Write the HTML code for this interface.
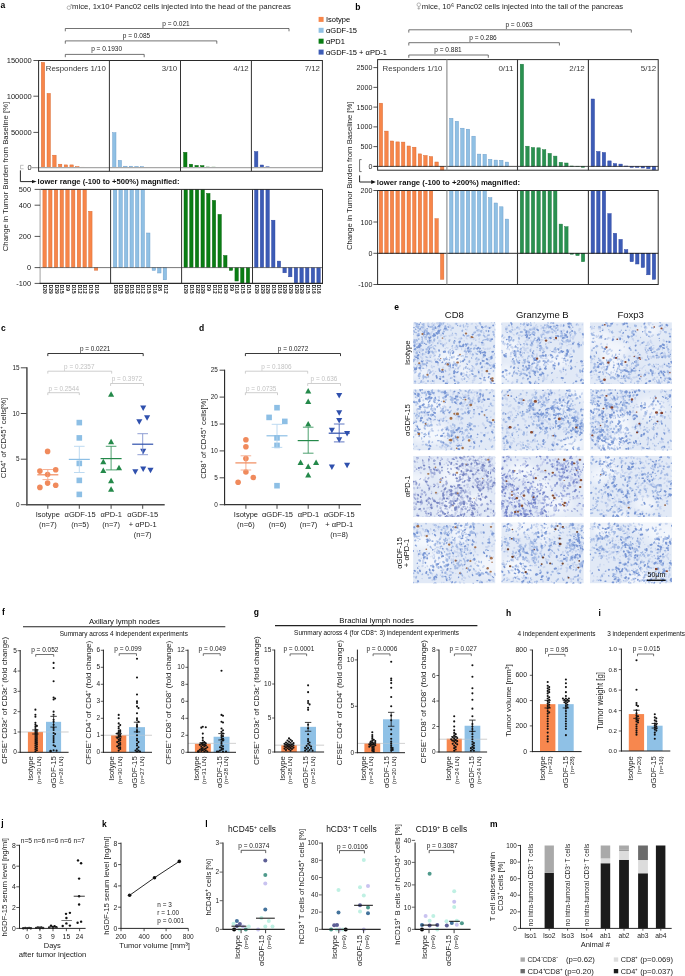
<!DOCTYPE html>
<html><head><meta charset="utf-8"><style>
html,body{margin:0;padding:0;background:#fff;}
svg{display:block;will-change:transform;}
text{font-family:"Liberation Sans",sans-serif;}
</style></head><body>
<svg width="685" height="976" viewBox="0 0 685 976">
<rect width="685" height="976" fill="#fff"/>
<text x="0.5" y="8.2" font-size="8.5" font-weight="bold" fill="#000">a</text>
<text x="72" y="9.1" font-size="7.2" fill="#222" textLength="218.9" lengthAdjust="spacingAndGlyphs">mice, 1x10⁴ Panc02 cells injected into the head of the pancreas</text>
<g fill="none" stroke="#888" stroke-width="0.6"><circle cx="68.9" cy="7.7" r="1.8"/><path d="M70.2 6.4 L71.8 4.6 M70.5 4.5 H71.9 V5.9"/></g>
<polyline points="65.3,31.3 65.3,28.5 289,28.5 289,31.3" fill="none" stroke="#444" stroke-width="0.75"/>
<text x="176" y="25.5" font-size="6.5" text-anchor="middle" fill="#222">p = 0.021</text>
<polyline points="65.3,43.7 65.3,40.9 216.8,40.9 216.8,43.7" fill="none" stroke="#444" stroke-width="0.75"/>
<text x="136.5" y="37.9" font-size="6.5" text-anchor="middle" fill="#222">p = 0.085</text>
<polyline points="65.3,57.2 65.3,54.4 144.2,54.4 144.2,57.2" fill="none" stroke="#444" stroke-width="0.75"/>
<text x="106.6" y="51.4" font-size="6.5" text-anchor="middle" fill="#222">p = 0.1930</text>
<rect x="318.6" y="16.9" width="5" height="5" fill="#f7864a"/>
<text x="326" y="22.2" font-size="7.5">Isotype</text>
<rect x="318.6" y="27.8" width="5" height="5" fill="#90c0e4"/>
<text x="326" y="33.1" font-size="7.5">αGDF-15</text>
<rect x="318.6" y="38.7" width="5" height="5" fill="#0a7d14"/>
<text x="326" y="44" font-size="7.5">αPD1</text>
<rect x="318.6" y="49.6" width="5" height="5" fill="#3d5cb6"/>
<text x="326" y="54.9" font-size="7.5">αGDF-15 + αPD-1</text>
<rect x="41.3" y="62.4" width="3.4" height="105.2" fill="#f7864a" stroke="#d8672f" stroke-width="0.45"/>
<rect x="47.02" y="93.4" width="3.4" height="74.2" fill="#f7864a" stroke="#d8672f" stroke-width="0.45"/>
<rect x="52.74" y="155.2" width="3.4" height="12.4" fill="#f7864a" stroke="#d8672f" stroke-width="0.45"/>
<rect x="58.46" y="164.2" width="3.4" height="3.4" fill="#f7864a" stroke="#d8672f" stroke-width="0.45"/>
<rect x="64.18" y="164.9" width="3.4" height="2.7" fill="#f7864a" stroke="#d8672f" stroke-width="0.45"/>
<rect x="69.9" y="164.9" width="3.4" height="2.7" fill="#f7864a" stroke="#d8672f" stroke-width="0.45"/>
<rect x="75.62" y="166.6" width="3.4" height="1" fill="#f7864a" stroke="#d8672f" stroke-width="0.45"/>
<rect x="81.34" y="167.2" width="3.4" height="0.4" fill="#f7864a" stroke="#d8672f" stroke-width="0.45"/>
<rect x="112.6" y="132.7" width="3.4" height="34.9" fill="#90c0e4" stroke="#6a9ccb" stroke-width="0.45"/>
<rect x="118.15" y="160.4" width="3.4" height="7.2" fill="#90c0e4" stroke="#6a9ccb" stroke-width="0.45"/>
<rect x="123.7" y="166.2" width="3.4" height="1.4" fill="#90c0e4" stroke="#6a9ccb" stroke-width="0.45"/>
<rect x="129.25" y="166.2" width="3.4" height="1.4" fill="#90c0e4" stroke="#6a9ccb" stroke-width="0.45"/>
<rect x="134.8" y="166.4" width="3.4" height="1.2" fill="#90c0e4" stroke="#6a9ccb" stroke-width="0.45"/>
<rect x="140.35" y="166.6" width="3.4" height="1" fill="#90c0e4" stroke="#6a9ccb" stroke-width="0.45"/>
<rect x="183.6" y="152.3" width="3.4" height="15.3" fill="#0a7d14" stroke="#08650f" stroke-width="0.45"/>
<rect x="189.26" y="164.2" width="3.4" height="3.4" fill="#0a7d14" stroke="#08650f" stroke-width="0.45"/>
<rect x="194.92" y="165.4" width="3.4" height="2.2" fill="#0a7d14" stroke="#08650f" stroke-width="0.45"/>
<rect x="200.58" y="165.6" width="3.4" height="2" fill="#0a7d14" stroke="#08650f" stroke-width="0.45"/>
<rect x="206.24" y="167" width="3.4" height="0.6" fill="#0a7d14" stroke="#08650f" stroke-width="0.45"/>
<rect x="211.9" y="167.1" width="3.4" height="0.5" fill="#0a7d14" stroke="#08650f" stroke-width="0.45"/>
<rect x="254.5" y="151.6" width="3.4" height="16" fill="#3d5cb6" stroke="#2c44a0" stroke-width="0.45"/>
<rect x="260.16" y="165" width="3.4" height="2.6" fill="#3d5cb6" stroke="#2c44a0" stroke-width="0.45"/>
<rect x="265.82" y="166.8" width="3.4" height="0.8" fill="#3d5cb6" stroke="#2c44a0" stroke-width="0.45"/>
<line x1="32" y1="167.6" x2="322.4" y2="167.6" stroke="#a8a8a8" stroke-width="1.2"/>
<rect x="38.6" y="60.5" width="283.8" height="110.8" fill="none" stroke="#2a2a2a" stroke-width="1"/>
<line x1="109.4" y1="60.5" x2="109.4" y2="171.3" stroke="#333" stroke-width="1"/>
<line x1="180.5" y1="60.5" x2="180.5" y2="171.3" stroke="#333" stroke-width="1"/>
<line x1="251.4" y1="60.5" x2="251.4" y2="171.3" stroke="#333" stroke-width="1"/>
<line x1="33.4" y1="60.5" x2="38.6" y2="60.5" stroke="#2a2a2a" stroke-width="0.8"/>
<text x="31.8" y="63.2" font-size="7.5" text-anchor="end" fill="#222" textLength="25.08" lengthAdjust="spacingAndGlyphs">150000</text>
<line x1="33.4" y1="96.2" x2="38.6" y2="96.2" stroke="#2a2a2a" stroke-width="0.8"/>
<text x="31.8" y="98.9" font-size="7.5" text-anchor="end" fill="#222" textLength="25.08" lengthAdjust="spacingAndGlyphs">100000</text>
<line x1="33.4" y1="132.4" x2="38.6" y2="132.4" stroke="#2a2a2a" stroke-width="0.8"/>
<text x="31.8" y="135.1" font-size="7.5" text-anchor="end" fill="#222" textLength="20.9" lengthAdjust="spacingAndGlyphs">50000</text>
<text x="31.8" y="170.3" font-size="7.5" text-anchor="end" fill="#222" textLength="4.18" lengthAdjust="spacingAndGlyphs">0</text>
<text x="45.7" y="70.9" font-size="7.9" fill="#3a3a3a" textLength="60.1" lengthAdjust="spacingAndGlyphs">Responders  1/10</text>
<text x="177.2" y="70.9" font-size="7.9" text-anchor="end" fill="#3a3a3a">3/10</text>
<text x="248.7" y="70.9" font-size="7.9" text-anchor="end" fill="#3a3a3a">4/12</text>
<text x="320" y="70.9" font-size="7.9" text-anchor="end" fill="#3a3a3a">7/12</text>
<polyline points="23.6,165.3 20.5,165.3 20.5,168.8 23.6,168.8" fill="none" stroke="#999" stroke-width="0.6"/>
<polyline points="20.4,170.4 20.4,181.6 33,181.6" fill="none" stroke="#111" stroke-width="0.9"/>
<path d="M36.6 181.6 L32.0 179.9 L32.0 183.3 Z" fill="#111"/>
<text x="37.6" y="184.2" font-size="7.1" font-weight="bold" fill="#111" textLength="142" lengthAdjust="spacingAndGlyphs">lower range (-100 to +500%) magnified:</text>
<text x="7.5" y="176.5" font-size="8.1" text-anchor="middle" fill="#222" textLength="149.5" lengthAdjust="spacingAndGlyphs" transform="rotate(-90 7.5 176.5)">Change in Tumor Burden from Baseline [%]</text>
<rect x="42.9" y="189.4" width="3.4" height="78.2" fill="#f7864a" stroke="#d8672f" stroke-width="0.45"/>
<rect x="48.62" y="189.4" width="3.4" height="78.2" fill="#f7864a" stroke="#d8672f" stroke-width="0.45"/>
<rect x="54.34" y="189.4" width="3.4" height="78.2" fill="#f7864a" stroke="#d8672f" stroke-width="0.45"/>
<rect x="60.06" y="189.4" width="3.4" height="78.2" fill="#f7864a" stroke="#d8672f" stroke-width="0.45"/>
<rect x="65.78" y="189.4" width="3.4" height="78.2" fill="#f7864a" stroke="#d8672f" stroke-width="0.45"/>
<rect x="71.5" y="189.4" width="3.4" height="78.2" fill="#f7864a" stroke="#d8672f" stroke-width="0.45"/>
<rect x="77.22" y="189.4" width="3.4" height="78.2" fill="#f7864a" stroke="#d8672f" stroke-width="0.45"/>
<rect x="82.94" y="189.4" width="3.4" height="78.2" fill="#f7864a" stroke="#d8672f" stroke-width="0.45"/>
<rect x="88.66" y="211.3" width="3.4" height="56.3" fill="#f7864a" stroke="#d8672f" stroke-width="0.45"/>
<rect x="94.38" y="267.6" width="3.4" height="2.6" fill="#f7864a" stroke="#d8672f" stroke-width="0.45"/>
<rect x="113.4" y="189.4" width="3.4" height="78.2" fill="#90c0e4" stroke="#6a9ccb" stroke-width="0.45"/>
<rect x="118.93" y="189.4" width="3.4" height="78.2" fill="#90c0e4" stroke="#6a9ccb" stroke-width="0.45"/>
<rect x="124.46" y="189.4" width="3.4" height="78.2" fill="#90c0e4" stroke="#6a9ccb" stroke-width="0.45"/>
<rect x="129.99" y="189.4" width="3.4" height="78.2" fill="#90c0e4" stroke="#6a9ccb" stroke-width="0.45"/>
<rect x="135.52" y="189.4" width="3.4" height="78.2" fill="#90c0e4" stroke="#6a9ccb" stroke-width="0.45"/>
<rect x="141.05" y="189.4" width="3.4" height="78.2" fill="#90c0e4" stroke="#6a9ccb" stroke-width="0.45"/>
<rect x="146.58" y="233" width="3.4" height="34.6" fill="#90c0e4" stroke="#6a9ccb" stroke-width="0.45"/>
<rect x="152.11" y="267.6" width="3.4" height="2.8" fill="#90c0e4" stroke="#6a9ccb" stroke-width="0.45"/>
<rect x="157.64" y="267.6" width="3.4" height="5.4" fill="#90c0e4" stroke="#6a9ccb" stroke-width="0.45"/>
<rect x="163.17" y="267.6" width="3.4" height="12.2" fill="#90c0e4" stroke="#6a9ccb" stroke-width="0.45"/>
<rect x="184" y="189.4" width="3.4" height="78.2" fill="#0a7d14" stroke="#08650f" stroke-width="0.45"/>
<rect x="189.66" y="189.4" width="3.4" height="78.2" fill="#0a7d14" stroke="#08650f" stroke-width="0.45"/>
<rect x="195.32" y="189.4" width="3.4" height="78.2" fill="#0a7d14" stroke="#08650f" stroke-width="0.45"/>
<rect x="200.98" y="189.4" width="3.4" height="78.2" fill="#0a7d14" stroke="#08650f" stroke-width="0.45"/>
<rect x="206.64" y="193.4" width="3.4" height="74.2" fill="#0a7d14" stroke="#08650f" stroke-width="0.45"/>
<rect x="212.3" y="200.4" width="3.4" height="67.2" fill="#0a7d14" stroke="#08650f" stroke-width="0.45"/>
<rect x="217.96" y="214.4" width="3.4" height="53.2" fill="#0a7d14" stroke="#08650f" stroke-width="0.45"/>
<rect x="223.62" y="255.5" width="3.4" height="12.1" fill="#0a7d14" stroke="#08650f" stroke-width="0.45"/>
<rect x="229.28" y="267.6" width="3.4" height="2.8" fill="#0a7d14" stroke="#08650f" stroke-width="0.45"/>
<rect x="234.94" y="267.6" width="3.4" height="13.4" fill="#0a7d14" stroke="#08650f" stroke-width="0.45"/>
<rect x="240.6" y="267.6" width="3.4" height="15.8" fill="#0a7d14" stroke="#08650f" stroke-width="0.45"/>
<rect x="246.26" y="267.6" width="3.4" height="15.8" fill="#0a7d14" stroke="#08650f" stroke-width="0.45"/>
<rect x="254.6" y="189.4" width="3.4" height="78.2" fill="#3d5cb6" stroke="#2c44a0" stroke-width="0.45"/>
<rect x="260.26" y="189.4" width="3.4" height="78.2" fill="#3d5cb6" stroke="#2c44a0" stroke-width="0.45"/>
<rect x="265.92" y="189.4" width="3.4" height="78.2" fill="#3d5cb6" stroke="#2c44a0" stroke-width="0.45"/>
<rect x="271.58" y="220.2" width="3.4" height="47.4" fill="#3d5cb6" stroke="#2c44a0" stroke-width="0.45"/>
<rect x="277.24" y="261.1" width="3.4" height="6.5" fill="#3d5cb6" stroke="#2c44a0" stroke-width="0.45"/>
<rect x="282.9" y="267.6" width="3.4" height="5.2" fill="#3d5cb6" stroke="#2c44a0" stroke-width="0.45"/>
<rect x="288.56" y="267.6" width="3.4" height="9.2" fill="#3d5cb6" stroke="#2c44a0" stroke-width="0.45"/>
<rect x="294.22" y="267.6" width="3.4" height="15.8" fill="#3d5cb6" stroke="#2c44a0" stroke-width="0.45"/>
<rect x="299.88" y="267.6" width="3.4" height="15.8" fill="#3d5cb6" stroke="#2c44a0" stroke-width="0.45"/>
<rect x="305.54" y="267.6" width="3.4" height="15.8" fill="#3d5cb6" stroke="#2c44a0" stroke-width="0.45"/>
<rect x="311.2" y="267.6" width="3.4" height="15.8" fill="#3d5cb6" stroke="#2c44a0" stroke-width="0.45"/>
<rect x="316.86" y="267.6" width="3.4" height="15.8" fill="#3d5cb6" stroke="#2c44a0" stroke-width="0.45"/>
<line x1="40.1" y1="267.6" x2="322.5" y2="267.6" stroke="#555" stroke-width="0.8"/>
<line x1="40.1" y1="189.4" x2="322.5" y2="189.4" stroke="#2a2a2a" stroke-width="1"/>
<line x1="40.1" y1="189.4" x2="40.1" y2="283.4" stroke="#999" stroke-width="0.9"/>
<line x1="39.6" y1="283.4" x2="323" y2="283.4" stroke="#2a2a2a" stroke-width="1.1"/>
<line x1="322.5" y1="189.4" x2="322.5" y2="283.4" stroke="#2a2a2a" stroke-width="1"/>
<line x1="110.6" y1="189.4" x2="110.6" y2="283.4" stroke="#333" stroke-width="1"/>
<line x1="181.6" y1="189.4" x2="181.6" y2="283.4" stroke="#333" stroke-width="1"/>
<line x1="252.5" y1="189.4" x2="252.5" y2="283.4" stroke="#333" stroke-width="1"/>
<line x1="34.6" y1="189.4" x2="40.1" y2="189.4" stroke="#2a2a2a" stroke-width="0.8"/>
<text x="31" y="192.1" font-size="7.4" text-anchor="end" fill="#222">500</text>
<line x1="34.6" y1="205.2" x2="40.1" y2="205.2" stroke="#2a2a2a" stroke-width="0.8"/>
<text x="31" y="207.9" font-size="7.4" text-anchor="end" fill="#222">400</text>
<line x1="34.6" y1="236.4" x2="40.1" y2="236.4" stroke="#2a2a2a" stroke-width="0.8"/>
<text x="31" y="239.1" font-size="7.4" text-anchor="end" fill="#222">200</text>
<line x1="34.6" y1="267.6" x2="40.1" y2="267.6" stroke="#2a2a2a" stroke-width="0.8"/>
<text x="31" y="270.3" font-size="7.4" text-anchor="end" fill="#222">0</text>
<line x1="34.6" y1="283.4" x2="40.1" y2="283.4" stroke="#2a2a2a" stroke-width="0.8"/>
<text x="31" y="286.1" font-size="7.4" text-anchor="end" fill="#222">-100</text>
<text x="43.3" y="284.8" font-size="4.8" font-weight="bold" fill="#111" transform="rotate(90 43.3 284.8)">D20</text>
<text x="49.02" y="284.8" font-size="4.8" font-weight="bold" fill="#111" transform="rotate(90 49.02 284.8)">D29</text>
<text x="54.74" y="284.8" font-size="4.8" font-weight="bold" fill="#111" transform="rotate(90 54.74 284.8)">D29</text>
<text x="60.46" y="284.8" font-size="4.8" font-weight="bold" fill="#111" transform="rotate(90 60.46 284.8)">D15</text>
<text x="66.18" y="284.8" font-size="4.8" font-weight="bold" fill="#111" transform="rotate(90 66.18 284.8)">D9</text>
<text x="71.9" y="284.8" font-size="4.8" font-weight="bold" fill="#111" transform="rotate(90 71.9 284.8)">D15</text>
<text x="77.62" y="284.8" font-size="4.8" font-weight="bold" fill="#111" transform="rotate(90 77.62 284.8)">D12</text>
<text x="83.34" y="284.8" font-size="4.8" font-weight="bold" fill="#111" transform="rotate(90 83.34 284.8)">D12</text>
<text x="89.06" y="284.8" font-size="4.8" font-weight="bold" fill="#111" transform="rotate(90 89.06 284.8)">D15</text>
<text x="94.78" y="284.8" font-size="4.8" font-weight="bold" fill="#111" transform="rotate(90 94.78 284.8)">D16</text>
<text x="113.8" y="284.8" font-size="4.8" font-weight="bold" fill="#111" transform="rotate(90 113.8 284.8)">D29</text>
<text x="119.33" y="284.8" font-size="4.8" font-weight="bold" fill="#111" transform="rotate(90 119.33 284.8)">D15</text>
<text x="124.86" y="284.8" font-size="4.8" font-weight="bold" fill="#111" transform="rotate(90 124.86 284.8)">D29</text>
<text x="130.39" y="284.8" font-size="4.8" font-weight="bold" fill="#111" transform="rotate(90 130.39 284.8)">D15</text>
<text x="135.92" y="284.8" font-size="4.8" font-weight="bold" fill="#111" transform="rotate(90 135.92 284.8)">D12</text>
<text x="141.45" y="284.8" font-size="4.8" font-weight="bold" fill="#111" transform="rotate(90 141.45 284.8)">D12</text>
<text x="146.98" y="284.8" font-size="4.8" font-weight="bold" fill="#111" transform="rotate(90 146.98 284.8)">D15</text>
<text x="152.51" y="284.8" font-size="4.8" font-weight="bold" fill="#111" transform="rotate(90 152.51 284.8)">D16</text>
<text x="158.04" y="284.8" font-size="4.8" font-weight="bold" fill="#111" transform="rotate(90 158.04 284.8)">D8</text>
<text x="163.57" y="284.8" font-size="4.8" font-weight="bold" fill="#111" transform="rotate(90 163.57 284.8)">D12</text>
<text x="184.4" y="284.8" font-size="4.8" font-weight="bold" fill="#111" transform="rotate(90 184.4 284.8)">D29</text>
<text x="190.06" y="284.8" font-size="4.8" font-weight="bold" fill="#111" transform="rotate(90 190.06 284.8)">D15</text>
<text x="195.72" y="284.8" font-size="4.8" font-weight="bold" fill="#111" transform="rotate(90 195.72 284.8)">D22</text>
<text x="201.38" y="284.8" font-size="4.8" font-weight="bold" fill="#111" transform="rotate(90 201.38 284.8)">D29</text>
<text x="207.04" y="284.8" font-size="4.8" font-weight="bold" fill="#111" transform="rotate(90 207.04 284.8)">D9</text>
<text x="212.7" y="284.8" font-size="4.8" font-weight="bold" fill="#111" transform="rotate(90 212.7 284.8)">D12</text>
<text x="218.36" y="284.8" font-size="4.8" font-weight="bold" fill="#111" transform="rotate(90 218.36 284.8)">D12</text>
<text x="224.02" y="284.8" font-size="4.8" font-weight="bold" fill="#111" transform="rotate(90 224.02 284.8)">D29</text>
<text x="229.68" y="284.8" font-size="4.8" font-weight="bold" fill="#111" transform="rotate(90 229.68 284.8)">D9</text>
<text x="235.34" y="284.8" font-size="4.8" font-weight="bold" fill="#111" transform="rotate(90 235.34 284.8)">D16</text>
<text x="241" y="284.8" font-size="4.8" font-weight="bold" fill="#111" transform="rotate(90 241 284.8)">D15</text>
<text x="246.66" y="284.8" font-size="4.8" font-weight="bold" fill="#111" transform="rotate(90 246.66 284.8)">D15</text>
<text x="254.9" y="284.8" font-size="4.8" font-weight="bold" fill="#111" transform="rotate(90 254.9 284.8)">D29</text>
<text x="260.56" y="284.8" font-size="4.8" font-weight="bold" fill="#111" transform="rotate(90 260.56 284.8)">D29</text>
<text x="266.22" y="284.8" font-size="4.8" font-weight="bold" fill="#111" transform="rotate(90 266.22 284.8)">D29</text>
<text x="271.88" y="284.8" font-size="4.8" font-weight="bold" fill="#111" transform="rotate(90 271.88 284.8)">D15</text>
<text x="277.54" y="284.8" font-size="4.8" font-weight="bold" fill="#111" transform="rotate(90 277.54 284.8)">D16</text>
<text x="283.2" y="284.8" font-size="4.8" font-weight="bold" fill="#111" transform="rotate(90 283.2 284.8)">D29</text>
<text x="288.86" y="284.8" font-size="4.8" font-weight="bold" fill="#111" transform="rotate(90 288.86 284.8)">D29</text>
<text x="294.52" y="284.8" font-size="4.8" font-weight="bold" fill="#111" transform="rotate(90 294.52 284.8)">D29</text>
<text x="300.18" y="284.8" font-size="4.8" font-weight="bold" fill="#111" transform="rotate(90 300.18 284.8)">D29</text>
<text x="305.84" y="284.8" font-size="4.8" font-weight="bold" fill="#111" transform="rotate(90 305.84 284.8)">D15</text>
<text x="311.5" y="284.8" font-size="4.8" font-weight="bold" fill="#111" transform="rotate(90 311.5 284.8)">D16</text>
<text x="317.16" y="284.8" font-size="4.8" font-weight="bold" fill="#111" transform="rotate(90 317.16 284.8)">D16</text>
<text x="355.3" y="9.9" font-size="8.5" font-weight="bold" fill="#000">b</text>
<text x="421.8" y="9.2" font-size="7.2" fill="#222" textLength="201.4" lengthAdjust="spacingAndGlyphs">mice, 10⁶ Panc02 cells injected into the tail of the pancreas</text>
<g fill="none" stroke="#888" stroke-width="0.6"><circle cx="418.8" cy="4.7" r="1.8"/><path d="M418.8 6.5 V9.8 M417.4 8.3 H420.2"/></g>
<polyline points="408.8,32.6 408.8,29.8 631.3,29.8 631.3,32.6" fill="none" stroke="#444" stroke-width="0.75"/>
<text x="519.1" y="26.8" font-size="6.5" text-anchor="middle" fill="#222">p = 0.063</text>
<polyline points="408.8,45.5 408.8,42.7 559.4,42.7 559.4,45.5" fill="none" stroke="#444" stroke-width="0.75"/>
<text x="483" y="39.7" font-size="6.5" text-anchor="middle" fill="#222">p = 0.286</text>
<polyline points="408.8,57.8 408.8,55 488.3,55 488.3,57.8" fill="none" stroke="#444" stroke-width="0.75"/>
<text x="448" y="52" font-size="6.5" text-anchor="middle" fill="#222">p = 0.881</text>
<rect x="379.2" y="103.2" width="3.4" height="63.2" fill="#f7864a" stroke="#d8672f" stroke-width="0.45"/>
<rect x="384.77" y="131.1" width="3.4" height="35.3" fill="#f7864a" stroke="#d8672f" stroke-width="0.45"/>
<rect x="390.34" y="141" width="3.4" height="25.4" fill="#f7864a" stroke="#d8672f" stroke-width="0.45"/>
<rect x="395.91" y="141.9" width="3.4" height="24.5" fill="#f7864a" stroke="#d8672f" stroke-width="0.45"/>
<rect x="401.48" y="142.1" width="3.4" height="24.3" fill="#f7864a" stroke="#d8672f" stroke-width="0.45"/>
<rect x="407.05" y="146" width="3.4" height="20.4" fill="#f7864a" stroke="#d8672f" stroke-width="0.45"/>
<rect x="412.62" y="147.2" width="3.4" height="19.2" fill="#f7864a" stroke="#d8672f" stroke-width="0.45"/>
<rect x="418.19" y="153.9" width="3.4" height="12.5" fill="#f7864a" stroke="#d8672f" stroke-width="0.45"/>
<rect x="423.76" y="155.5" width="3.4" height="10.9" fill="#f7864a" stroke="#d8672f" stroke-width="0.45"/>
<rect x="429.33" y="156.6" width="3.4" height="9.8" fill="#f7864a" stroke="#d8672f" stroke-width="0.45"/>
<rect x="434.9" y="162" width="3.4" height="4.4" fill="#f7864a" stroke="#d8672f" stroke-width="0.45"/>
<rect x="440.47" y="166.4" width="3.4" height="3.6" fill="#f7864a" stroke="#d8672f" stroke-width="0.45"/>
<rect x="449.6" y="118.3" width="3.4" height="48.1" fill="#90c0e4" stroke="#6a9ccb" stroke-width="0.45"/>
<rect x="455.16" y="121.3" width="3.4" height="45.1" fill="#90c0e4" stroke="#6a9ccb" stroke-width="0.45"/>
<rect x="460.72" y="128.2" width="3.4" height="38.2" fill="#90c0e4" stroke="#6a9ccb" stroke-width="0.45"/>
<rect x="466.28" y="129.2" width="3.4" height="37.2" fill="#90c0e4" stroke="#6a9ccb" stroke-width="0.45"/>
<rect x="471.84" y="136.2" width="3.4" height="30.2" fill="#90c0e4" stroke="#6a9ccb" stroke-width="0.45"/>
<rect x="477.4" y="154.1" width="3.4" height="12.3" fill="#90c0e4" stroke="#6a9ccb" stroke-width="0.45"/>
<rect x="482.96" y="154.3" width="3.4" height="12.1" fill="#90c0e4" stroke="#6a9ccb" stroke-width="0.45"/>
<rect x="488.52" y="159.3" width="3.4" height="7.1" fill="#90c0e4" stroke="#6a9ccb" stroke-width="0.45"/>
<rect x="494.08" y="160.1" width="3.4" height="6.3" fill="#90c0e4" stroke="#6a9ccb" stroke-width="0.45"/>
<rect x="499.64" y="160.3" width="3.4" height="6.1" fill="#90c0e4" stroke="#6a9ccb" stroke-width="0.45"/>
<rect x="505.2" y="162.1" width="3.4" height="4.3" fill="#90c0e4" stroke="#6a9ccb" stroke-width="0.45"/>
<rect x="520.2" y="64.2" width="3.4" height="102.2" fill="#2a9150" stroke="#1f7a40" stroke-width="0.45"/>
<rect x="525.76" y="146.2" width="3.4" height="20.2" fill="#2a9150" stroke="#1f7a40" stroke-width="0.45"/>
<rect x="531.32" y="147.5" width="3.4" height="18.9" fill="#2a9150" stroke="#1f7a40" stroke-width="0.45"/>
<rect x="536.88" y="147.8" width="3.4" height="18.6" fill="#2a9150" stroke="#1f7a40" stroke-width="0.45"/>
<rect x="542.44" y="149.7" width="3.4" height="16.7" fill="#2a9150" stroke="#1f7a40" stroke-width="0.45"/>
<rect x="548" y="153.4" width="3.4" height="13" fill="#2a9150" stroke="#1f7a40" stroke-width="0.45"/>
<rect x="553.56" y="156.1" width="3.4" height="10.3" fill="#2a9150" stroke="#1f7a40" stroke-width="0.45"/>
<rect x="559.12" y="162.3" width="3.4" height="4.1" fill="#2a9150" stroke="#1f7a40" stroke-width="0.45"/>
<rect x="564.68" y="163" width="3.4" height="3.4" fill="#2a9150" stroke="#1f7a40" stroke-width="0.45"/>
<rect x="570.24" y="166" width="3.4" height="0.4" fill="#2a9150" stroke="#1f7a40" stroke-width="0.45"/>
<rect x="575.8" y="166.2" width="3.4" height="0.2" fill="#2a9150" stroke="#1f7a40" stroke-width="0.45"/>
<rect x="581.36" y="166.4" width="3.4" height="0.9" fill="#2a9150" stroke="#1f7a40" stroke-width="0.45"/>
<rect x="591.1" y="99" width="3.4" height="67.4" fill="#3d5cb6" stroke="#2c44a0" stroke-width="0.45"/>
<rect x="596.66" y="151.5" width="3.4" height="14.9" fill="#3d5cb6" stroke="#2c44a0" stroke-width="0.45"/>
<rect x="602.22" y="152.5" width="3.4" height="13.9" fill="#3d5cb6" stroke="#2c44a0" stroke-width="0.45"/>
<rect x="607.78" y="160.9" width="3.4" height="5.5" fill="#3d5cb6" stroke="#2c44a0" stroke-width="0.45"/>
<rect x="613.34" y="163.6" width="3.4" height="2.8" fill="#3d5cb6" stroke="#2c44a0" stroke-width="0.45"/>
<rect x="618.9" y="164.1" width="3.4" height="2.3" fill="#3d5cb6" stroke="#2c44a0" stroke-width="0.45"/>
<rect x="624.46" y="166" width="3.4" height="0.4" fill="#3d5cb6" stroke="#2c44a0" stroke-width="0.45"/>
<rect x="630.02" y="166.4" width="3.4" height="1" fill="#3d5cb6" stroke="#2c44a0" stroke-width="0.45"/>
<rect x="635.58" y="166.4" width="3.4" height="1" fill="#3d5cb6" stroke="#2c44a0" stroke-width="0.45"/>
<rect x="641.14" y="166.4" width="3.4" height="1.6" fill="#3d5cb6" stroke="#2c44a0" stroke-width="0.45"/>
<rect x="646.7" y="166.4" width="3.4" height="2.3" fill="#3d5cb6" stroke="#2c44a0" stroke-width="0.45"/>
<rect x="652.26" y="166.4" width="3.4" height="3.5" fill="#3d5cb6" stroke="#2c44a0" stroke-width="0.45"/>
<line x1="373.4" y1="166.4" x2="658.2" y2="166.4" stroke="#222" stroke-width="0.8"/>
<rect x="377.6" y="59.6" width="280.6" height="110.6" fill="none" stroke="#2a2a2a" stroke-width="1"/>
<line x1="446.9" y1="59.6" x2="446.9" y2="170.2" stroke="#888" stroke-width="1.1"/>
<line x1="517.5" y1="59.6" x2="517.5" y2="170.2" stroke="#333" stroke-width="1.1"/>
<line x1="588.4" y1="59.6" x2="588.4" y2="170.2" stroke="#333" stroke-width="1.1"/>
<line x1="373.4" y1="67.6" x2="377.6" y2="67.6" stroke="#2a2a2a" stroke-width="0.8"/>
<text x="372.4" y="70.1" font-size="7.1" text-anchor="end" fill="#222">2500</text>
<line x1="373.4" y1="87.36" x2="377.6" y2="87.36" stroke="#2a2a2a" stroke-width="0.8"/>
<text x="372.4" y="89.86" font-size="7.1" text-anchor="end" fill="#222">2000</text>
<line x1="373.4" y1="107.12" x2="377.6" y2="107.12" stroke="#2a2a2a" stroke-width="0.8"/>
<text x="372.4" y="109.62" font-size="7.1" text-anchor="end" fill="#222">1500</text>
<line x1="373.4" y1="126.88" x2="377.6" y2="126.88" stroke="#2a2a2a" stroke-width="0.8"/>
<text x="372.4" y="129.38" font-size="7.1" text-anchor="end" fill="#222">1000</text>
<line x1="373.4" y1="146.64" x2="377.6" y2="146.64" stroke="#2a2a2a" stroke-width="0.8"/>
<text x="372.4" y="149.14" font-size="7.1" text-anchor="end" fill="#222">500</text>
<line x1="373.4" y1="166.4" x2="377.6" y2="166.4" stroke="#2a2a2a" stroke-width="0.8"/>
<text x="372.4" y="168.9" font-size="7.1" text-anchor="end" fill="#222">0</text>
<text x="382.6" y="70.6" font-size="7.7" fill="#3a3a3a" textLength="59.9" lengthAdjust="spacingAndGlyphs">Responders  1/10</text>
<text x="513.4" y="70.8" font-size="8" text-anchor="end" fill="#3a3a3a">0/11</text>
<text x="584.8" y="70.8" font-size="8" text-anchor="end" fill="#3a3a3a">2/12</text>
<text x="656.3" y="70.8" font-size="8" text-anchor="end" fill="#3a3a3a">5/12</text>
<polyline points="361.6,159.6 359.6,159.6 359.6,171.6 361.6,171.6" fill="none" stroke="#333" stroke-width="0.7"/>
<polyline points="359.6,175.4 359.6,182 372,182" fill="none" stroke="#111" stroke-width="0.9"/>
<path d="M375.8 182 L371.2 180.1 L371.2 183.9 Z" fill="#111"/>
<text x="376.8" y="184.6" font-size="7.1" font-weight="bold" fill="#111" textLength="143.2" lengthAdjust="spacingAndGlyphs">lower range (-100 to +200%) magnified:</text>
<text x="352.3" y="175.8" font-size="8" text-anchor="middle" fill="#222" textLength="148.6" lengthAdjust="spacingAndGlyphs" transform="rotate(-90 352.3 175.8)">Change in Tumor Burden from Baseline [%]</text>
<rect x="379.2" y="190.5" width="3.4" height="62.8" fill="#f7864a" stroke="#d8672f" stroke-width="0.45"/>
<rect x="384.77" y="190.5" width="3.4" height="62.8" fill="#f7864a" stroke="#d8672f" stroke-width="0.45"/>
<rect x="390.34" y="190.5" width="3.4" height="62.8" fill="#f7864a" stroke="#d8672f" stroke-width="0.45"/>
<rect x="395.91" y="190.5" width="3.4" height="62.8" fill="#f7864a" stroke="#d8672f" stroke-width="0.45"/>
<rect x="401.48" y="190.5" width="3.4" height="62.8" fill="#f7864a" stroke="#d8672f" stroke-width="0.45"/>
<rect x="407.05" y="190.5" width="3.4" height="62.8" fill="#f7864a" stroke="#d8672f" stroke-width="0.45"/>
<rect x="412.62" y="190.5" width="3.4" height="62.8" fill="#f7864a" stroke="#d8672f" stroke-width="0.45"/>
<rect x="418.19" y="190.5" width="3.4" height="62.8" fill="#f7864a" stroke="#d8672f" stroke-width="0.45"/>
<rect x="423.76" y="190.5" width="3.4" height="62.8" fill="#f7864a" stroke="#d8672f" stroke-width="0.45"/>
<rect x="429.33" y="190.5" width="3.4" height="62.8" fill="#f7864a" stroke="#d8672f" stroke-width="0.45"/>
<rect x="434.9" y="218.7" width="3.4" height="34.6" fill="#f7864a" stroke="#d8672f" stroke-width="0.45"/>
<rect x="440.47" y="253.3" width="3.4" height="26" fill="#f7864a" stroke="#d8672f" stroke-width="0.45"/>
<rect x="449.6" y="190.5" width="3.4" height="62.8" fill="#90c0e4" stroke="#6a9ccb" stroke-width="0.45"/>
<rect x="455.16" y="190.5" width="3.4" height="62.8" fill="#90c0e4" stroke="#6a9ccb" stroke-width="0.45"/>
<rect x="460.72" y="190.5" width="3.4" height="62.8" fill="#90c0e4" stroke="#6a9ccb" stroke-width="0.45"/>
<rect x="466.28" y="190.5" width="3.4" height="62.8" fill="#90c0e4" stroke="#6a9ccb" stroke-width="0.45"/>
<rect x="471.84" y="190.5" width="3.4" height="62.8" fill="#90c0e4" stroke="#6a9ccb" stroke-width="0.45"/>
<rect x="477.4" y="190.5" width="3.4" height="62.8" fill="#90c0e4" stroke="#6a9ccb" stroke-width="0.45"/>
<rect x="482.96" y="190.5" width="3.4" height="62.8" fill="#90c0e4" stroke="#6a9ccb" stroke-width="0.45"/>
<rect x="488.52" y="197.7" width="3.4" height="55.6" fill="#90c0e4" stroke="#6a9ccb" stroke-width="0.45"/>
<rect x="494.08" y="203" width="3.4" height="50.3" fill="#90c0e4" stroke="#6a9ccb" stroke-width="0.45"/>
<rect x="499.64" y="206.8" width="3.4" height="46.5" fill="#90c0e4" stroke="#6a9ccb" stroke-width="0.45"/>
<rect x="505.2" y="219.1" width="3.4" height="34.2" fill="#90c0e4" stroke="#6a9ccb" stroke-width="0.45"/>
<rect x="520.2" y="190.5" width="3.4" height="62.8" fill="#2a9150" stroke="#1f7a40" stroke-width="0.45"/>
<rect x="525.76" y="190.5" width="3.4" height="62.8" fill="#2a9150" stroke="#1f7a40" stroke-width="0.45"/>
<rect x="531.32" y="190.5" width="3.4" height="62.8" fill="#2a9150" stroke="#1f7a40" stroke-width="0.45"/>
<rect x="536.88" y="190.5" width="3.4" height="62.8" fill="#2a9150" stroke="#1f7a40" stroke-width="0.45"/>
<rect x="542.44" y="190.5" width="3.4" height="62.8" fill="#2a9150" stroke="#1f7a40" stroke-width="0.45"/>
<rect x="548" y="190.5" width="3.4" height="62.8" fill="#2a9150" stroke="#1f7a40" stroke-width="0.45"/>
<rect x="553.56" y="190.5" width="3.4" height="62.8" fill="#2a9150" stroke="#1f7a40" stroke-width="0.45"/>
<rect x="559.12" y="224.1" width="3.4" height="29.2" fill="#2a9150" stroke="#1f7a40" stroke-width="0.45"/>
<rect x="564.68" y="226.7" width="3.4" height="26.6" fill="#2a9150" stroke="#1f7a40" stroke-width="0.45"/>
<rect x="570.24" y="253.3" width="3.4" height="0.9" fill="#2a9150" stroke="#1f7a40" stroke-width="0.45"/>
<rect x="575.8" y="253.3" width="3.4" height="2.3" fill="#2a9150" stroke="#1f7a40" stroke-width="0.45"/>
<rect x="581.36" y="253.3" width="3.4" height="8.4" fill="#2a9150" stroke="#1f7a40" stroke-width="0.45"/>
<rect x="591.1" y="190.5" width="3.4" height="62.8" fill="#3d5cb6" stroke="#2c44a0" stroke-width="0.45"/>
<rect x="596.66" y="190.5" width="3.4" height="62.8" fill="#3d5cb6" stroke="#2c44a0" stroke-width="0.45"/>
<rect x="602.22" y="190.5" width="3.4" height="62.8" fill="#3d5cb6" stroke="#2c44a0" stroke-width="0.45"/>
<rect x="607.78" y="213.6" width="3.4" height="39.7" fill="#3d5cb6" stroke="#2c44a0" stroke-width="0.45"/>
<rect x="613.34" y="233.3" width="3.4" height="20" fill="#3d5cb6" stroke="#2c44a0" stroke-width="0.45"/>
<rect x="618.9" y="239.4" width="3.4" height="13.9" fill="#3d5cb6" stroke="#2c44a0" stroke-width="0.45"/>
<rect x="624.46" y="249.6" width="3.4" height="3.7" fill="#3d5cb6" stroke="#2c44a0" stroke-width="0.45"/>
<rect x="630.02" y="253.3" width="3.4" height="8.4" fill="#3d5cb6" stroke="#2c44a0" stroke-width="0.45"/>
<rect x="635.58" y="253.3" width="3.4" height="10.7" fill="#3d5cb6" stroke="#2c44a0" stroke-width="0.45"/>
<rect x="641.14" y="253.3" width="3.4" height="14.2" fill="#3d5cb6" stroke="#2c44a0" stroke-width="0.45"/>
<rect x="646.7" y="253.3" width="3.4" height="21.5" fill="#3d5cb6" stroke="#2c44a0" stroke-width="0.45"/>
<rect x="652.26" y="253.3" width="3.4" height="26" fill="#3d5cb6" stroke="#2c44a0" stroke-width="0.45"/>
<rect x="377.6" y="190.5" width="280.6" height="94" fill="none" stroke="#2a2a2a" stroke-width="1"/>
<line x1="377.6" y1="253.3" x2="658.2" y2="253.3" stroke="#111" stroke-width="0.9"/>
<line x1="446.9" y1="190.5" x2="446.9" y2="284.5" stroke="#888" stroke-width="1.1"/>
<line x1="517.5" y1="190.5" x2="517.5" y2="284.5" stroke="#333" stroke-width="1.1"/>
<line x1="588.4" y1="190.5" x2="588.4" y2="284.5" stroke="#333" stroke-width="1.1"/>
<line x1="373.4" y1="190.5" x2="377.6" y2="190.5" stroke="#2a2a2a" stroke-width="0.8"/>
<text x="372.4" y="193" font-size="7.1" text-anchor="end" fill="#222">200</text>
<line x1="373.4" y1="222" x2="377.6" y2="222" stroke="#2a2a2a" stroke-width="0.8"/>
<text x="372.4" y="224.5" font-size="7.1" text-anchor="end" fill="#222">100</text>
<line x1="373.4" y1="253.3" x2="377.6" y2="253.3" stroke="#2a2a2a" stroke-width="0.8"/>
<text x="372.4" y="255.8" font-size="7.1" text-anchor="end" fill="#222">0</text>
<line x1="373.4" y1="284.5" x2="377.6" y2="284.5" stroke="#2a2a2a" stroke-width="0.8"/>
<text x="372.4" y="287" font-size="7.1" text-anchor="end" fill="#222">-100</text>
<text x="0.9" y="330.8" font-size="8.5" font-weight="bold" fill="#000">c</text>
<polyline points="47.8,356.1 47.8,353.5 143.2,353.5 143.2,356.1" fill="none" stroke="#222" stroke-width="0.9"/>
<text x="95.1" y="351.4" font-size="6.4" text-anchor="middle" fill="#222">p = 0.0221</text>
<polyline points="47.8,373.6 47.8,371.2 111.7,371.2 111.7,373.6" fill="none" stroke="#c2c2c2" stroke-width="0.8"/>
<text x="79.3" y="368.7" font-size="6.4" text-anchor="middle" fill="#c2c2c2">p = 0.2357</text>
<polyline points="110.6,385.9 110.6,383.5 143.5,383.5 143.5,385.9" fill="none" stroke="#c2c2c2" stroke-width="0.8"/>
<text x="126.9" y="381.2" font-size="6.4" text-anchor="middle" fill="#c2c2c2">p = 0.3972</text>
<polyline points="47.8,395.1 47.8,392.7 79.3,392.7 79.3,395.1" fill="none" stroke="#c2c2c2" stroke-width="0.8"/>
<text x="63.8" y="391.4" font-size="6.4" text-anchor="middle" fill="#c2c2c2">p = 0.2544</text>
<line x1="26.9" y1="367.3" x2="26.9" y2="505.3" stroke="#4a4a4a" stroke-width="1.5"/>
<line x1="26.2" y1="504.7" x2="164.7" y2="504.7" stroke="#4a4a4a" stroke-width="1.5"/>
<line x1="20.8" y1="367.8" x2="26.9" y2="367.8" stroke="#4a4a4a" stroke-width="1"/>
<text x="19.5" y="370" font-size="6.4" text-anchor="end" fill="#222">15</text>
<line x1="20.8" y1="413.5" x2="26.9" y2="413.5" stroke="#4a4a4a" stroke-width="1"/>
<text x="19.5" y="415.7" font-size="6.4" text-anchor="end" fill="#222">10</text>
<line x1="20.8" y1="459.2" x2="26.9" y2="459.2" stroke="#4a4a4a" stroke-width="1"/>
<text x="19.5" y="461.4" font-size="6.4" text-anchor="end" fill="#222">5</text>
<line x1="20.8" y1="504.7" x2="26.9" y2="504.7" stroke="#4a4a4a" stroke-width="1"/>
<text x="19.5" y="506.9" font-size="6.4" text-anchor="end" fill="#222">0</text>
<line x1="47.8" y1="504.7" x2="47.8" y2="508.8" stroke="#4a4a4a" stroke-width="1"/>
<line x1="79.3" y1="504.7" x2="79.3" y2="508.8" stroke="#4a4a4a" stroke-width="1"/>
<line x1="111.1" y1="504.7" x2="111.1" y2="508.8" stroke="#4a4a4a" stroke-width="1"/>
<line x1="142.7" y1="504.7" x2="142.7" y2="508.8" stroke="#4a4a4a" stroke-width="1"/>
<circle cx="47.6" cy="451.4" r="2.8" fill="#f08a5c"/>
<circle cx="39.9" cy="471.1" r="2.8" fill="#f08a5c"/>
<circle cx="47.6" cy="474.5" r="2.8" fill="#f08a5c"/>
<circle cx="55.7" cy="469.8" r="2.8" fill="#f08a5c"/>
<circle cx="47.6" cy="483.1" r="2.8" fill="#f08a5c"/>
<circle cx="39.9" cy="487.4" r="2.8" fill="#f08a5c"/>
<circle cx="55.7" cy="485.2" r="2.8" fill="#f08a5c"/>
<line x1="47.8" y1="469.5" x2="47.8" y2="479.6" stroke="#f5a98a" stroke-width="0.9"/>
<line x1="42.5" y1="469.5" x2="53.1" y2="469.5" stroke="#f5a98a" stroke-width="0.9"/>
<line x1="42.5" y1="479.6" x2="53.1" y2="479.6" stroke="#f5a98a" stroke-width="0.9"/>
<line x1="37.3" y1="474.8" x2="58.3" y2="474.8" stroke="#f08a5c" stroke-width="1.2"/>
<rect x="76.5" y="419.8" width="5.6" height="5.6" fill="#8dbfe5"/>
<rect x="76.5" y="435.1" width="5.6" height="5.6" fill="#8dbfe5"/>
<rect x="76.5" y="460.6" width="5.6" height="5.6" fill="#8dbfe5"/>
<rect x="76.5" y="477.6" width="5.6" height="5.6" fill="#8dbfe5"/>
<rect x="76.5" y="491.6" width="5.6" height="5.6" fill="#8dbfe5"/>
<line x1="79.3" y1="446.3" x2="79.3" y2="472.5" stroke="#b5d6ef" stroke-width="0.9"/>
<line x1="74" y1="446.3" x2="84.6" y2="446.3" stroke="#b5d6ef" stroke-width="0.9"/>
<line x1="74" y1="472.5" x2="84.6" y2="472.5" stroke="#b5d6ef" stroke-width="0.9"/>
<line x1="68.8" y1="459.4" x2="89.8" y2="459.4" stroke="#8dbfe5" stroke-width="1.2"/>
<polygon points="111.1,391.31 108.05,396.8 114.15,396.8" fill="#24894a"/>
<polygon points="111.1,438.71 108.05,444.2 114.15,444.2" fill="#24894a"/>
<polygon points="103.3,458.71 100.25,464.2 106.35,464.2" fill="#24894a"/>
<polygon points="119,464.81 115.95,470.3 122.05,470.3" fill="#24894a"/>
<polygon points="103.3,467.41 100.25,472.9 106.35,472.9" fill="#24894a"/>
<polygon points="111.1,477.71 108.05,483.2 114.15,483.2" fill="#24894a"/>
<polygon points="111.1,486.31 108.05,491.8 114.15,491.8" fill="#24894a"/>
<line x1="111.1" y1="446.3" x2="111.1" y2="469.9" stroke="#3a9660" stroke-width="0.9"/>
<line x1="105.8" y1="446.3" x2="116.4" y2="446.3" stroke="#3a9660" stroke-width="0.9"/>
<line x1="105.8" y1="469.9" x2="116.4" y2="469.9" stroke="#3a9660" stroke-width="0.9"/>
<line x1="100.6" y1="458.6" x2="121.6" y2="458.6" stroke="#24894a" stroke-width="1.2"/>
<polygon points="143.2,410.99 140.15,405.5 146.25,405.5" fill="#2f50ad"/>
<polygon points="147.1,420.69 144.05,415.2 150.15,415.2" fill="#2f50ad"/>
<polygon points="139.3,424.69 136.25,419.2 142.35,419.2" fill="#2f50ad"/>
<polygon points="143.2,454.29 140.15,448.8 146.25,448.8" fill="#2f50ad"/>
<polygon points="135.3,474.79 132.25,469.3 138.35,469.3" fill="#2f50ad"/>
<polygon points="143.2,471.89 140.15,466.4 146.25,466.4" fill="#2f50ad"/>
<polygon points="150.5,473.19 147.45,467.7 153.55,467.7" fill="#2f50ad"/>
<line x1="142.7" y1="433.7" x2="142.7" y2="454.7" stroke="#8595d0" stroke-width="0.9"/>
<line x1="137.4" y1="433.7" x2="148" y2="433.7" stroke="#8595d0" stroke-width="0.9"/>
<line x1="137.4" y1="454.7" x2="148" y2="454.7" stroke="#8595d0" stroke-width="0.9"/>
<line x1="132.2" y1="444.2" x2="153.2" y2="444.2" stroke="#2f50ad" stroke-width="1.2"/>
<text x="47.8" y="517" font-size="7.5" text-anchor="middle" fill="#222">Isotype</text>
<text x="47.8" y="527.4" font-size="7.5" text-anchor="middle" fill="#222">(n=7)</text>
<text x="80.1" y="517" font-size="7.5" text-anchor="middle" fill="#222">αGDF-15</text>
<text x="80.1" y="527.4" font-size="7.5" text-anchor="middle" fill="#222">(n=5)</text>
<text x="111.1" y="517" font-size="7.5" text-anchor="middle" fill="#222">αPD-1</text>
<text x="111.1" y="527.4" font-size="7.5" text-anchor="middle" fill="#222">(n=7)</text>
<text x="142.7" y="517" font-size="7.5" text-anchor="middle" fill="#222">αGDF-15</text>
<text x="142.7" y="527.4" font-size="7.5" text-anchor="middle" fill="#222">+ αPD-1</text>
<text x="142.7" y="537.4" font-size="7.5" text-anchor="middle" fill="#222">(n=7)</text>
<text x="6.3" y="438" font-size="7.5" text-anchor="middle" fill="#222" textLength="80.3" lengthAdjust="spacingAndGlyphs" transform="rotate(-90 6.3 438)">CD4⁺ of CD45⁺ cells[%]</text>
<text x="199" y="331" font-size="8.5" font-weight="bold" fill="#000">d</text>
<polyline points="245.4,356.1 245.4,353.5 340.5,353.5 340.5,356.1" fill="none" stroke="#222" stroke-width="0.9"/>
<text x="293" y="351.4" font-size="6.4" text-anchor="middle" fill="#222">p = 0.0272</text>
<polyline points="245.4,373.6 245.4,371.2 307.7,371.2 307.7,373.6" fill="none" stroke="#c2c2c2" stroke-width="0.8"/>
<text x="276.4" y="368.7" font-size="6.4" text-anchor="middle" fill="#c2c2c2">p = 0.1806</text>
<polyline points="307.7,385.9 307.7,383.5 340.5,383.5 340.5,385.9" fill="none" stroke="#c2c2c2" stroke-width="0.8"/>
<text x="324" y="381.2" font-size="6.4" text-anchor="middle" fill="#c2c2c2">p = 0.636</text>
<polyline points="245.4,395.1 245.4,392.7 277.5,392.7 277.5,395.1" fill="none" stroke="#c2c2c2" stroke-width="0.8"/>
<text x="261.2" y="391.4" font-size="6.4" text-anchor="middle" fill="#c2c2c2">p = 0.0735</text>
<line x1="224.6" y1="369.7" x2="224.6" y2="505.3" stroke="#222" stroke-width="1.1"/>
<line x1="224.3" y1="504.7" x2="361" y2="504.7" stroke="#333" stroke-width="1.2"/>
<line x1="219.6" y1="370.2" x2="224.9" y2="370.2" stroke="#333" stroke-width="0.9"/>
<text x="217.9" y="372.4" font-size="6.4" text-anchor="end" fill="#222">25</text>
<line x1="219.6" y1="397.1" x2="224.9" y2="397.1" stroke="#333" stroke-width="0.9"/>
<text x="217.9" y="399.3" font-size="6.4" text-anchor="end" fill="#222">20</text>
<line x1="219.6" y1="424" x2="224.9" y2="424" stroke="#333" stroke-width="0.9"/>
<text x="217.9" y="426.2" font-size="6.4" text-anchor="end" fill="#222">15</text>
<line x1="219.6" y1="450.9" x2="224.9" y2="450.9" stroke="#333" stroke-width="0.9"/>
<text x="217.9" y="453.1" font-size="6.4" text-anchor="end" fill="#222">10</text>
<line x1="219.6" y1="477.8" x2="224.9" y2="477.8" stroke="#333" stroke-width="0.9"/>
<text x="217.9" y="480" font-size="6.4" text-anchor="end" fill="#222">5</text>
<line x1="219.6" y1="504.7" x2="224.9" y2="504.7" stroke="#333" stroke-width="0.9"/>
<text x="217.9" y="506.9" font-size="6.4" text-anchor="end" fill="#222">0</text>
<line x1="245.9" y1="504.7" x2="245.9" y2="508.8" stroke="#333" stroke-width="0.9"/>
<line x1="277" y1="504.7" x2="277" y2="508.8" stroke="#333" stroke-width="0.9"/>
<line x1="308.2" y1="504.7" x2="308.2" y2="508.8" stroke="#333" stroke-width="0.9"/>
<line x1="339.2" y1="504.7" x2="339.2" y2="508.8" stroke="#333" stroke-width="0.9"/>
<circle cx="245.9" cy="439.8" r="2.8" fill="#f08a5c"/>
<circle cx="245.9" cy="446.7" r="2.8" fill="#f08a5c"/>
<circle cx="245.9" cy="458.6" r="2.8" fill="#f08a5c"/>
<circle cx="245.9" cy="472" r="2.8" fill="#f08a5c"/>
<circle cx="253.3" cy="477.5" r="2.8" fill="#f08a5c"/>
<circle cx="238.1" cy="482.3" r="2.8" fill="#f08a5c"/>
<line x1="245.9" y1="455.8" x2="245.9" y2="470" stroke="#f5a98a" stroke-width="0.9"/>
<line x1="240.6" y1="455.8" x2="251.2" y2="455.8" stroke="#f5a98a" stroke-width="0.9"/>
<line x1="240.6" y1="470" x2="251.2" y2="470" stroke="#f5a98a" stroke-width="0.9"/>
<line x1="235.4" y1="462.9" x2="256.4" y2="462.9" stroke="#f08a5c" stroke-width="1.2"/>
<rect x="274.2" y="404.9" width="5.6" height="5.6" fill="#8dbfe5"/>
<rect x="266.3" y="414.6" width="5.6" height="5.6" fill="#8dbfe5"/>
<rect x="282" y="418.6" width="5.6" height="5.6" fill="#8dbfe5"/>
<rect x="274.2" y="435.1" width="5.6" height="5.6" fill="#8dbfe5"/>
<rect x="274.2" y="442.6" width="5.6" height="5.6" fill="#8dbfe5"/>
<rect x="274.2" y="482.9" width="5.6" height="5.6" fill="#8dbfe5"/>
<line x1="277" y1="424.3" x2="277" y2="447.4" stroke="#b5d6ef" stroke-width="0.9"/>
<line x1="271.7" y1="424.3" x2="282.3" y2="424.3" stroke="#b5d6ef" stroke-width="0.9"/>
<line x1="271.7" y1="447.4" x2="282.3" y2="447.4" stroke="#b5d6ef" stroke-width="0.9"/>
<line x1="266.5" y1="435.8" x2="287.5" y2="435.8" stroke="#8dbfe5" stroke-width="1.2"/>
<polygon points="308.2,387.91 305.15,393.4 311.25,393.4" fill="#24894a"/>
<polygon points="308.2,398.41 305.15,403.9 311.25,403.9" fill="#24894a"/>
<polygon points="308.2,421.01 305.15,426.5 311.25,426.5" fill="#24894a"/>
<polygon points="300.6,459.41 297.55,464.9 303.65,464.9" fill="#24894a"/>
<polygon points="316.1,459.41 313.05,464.9 319.15,464.9" fill="#24894a"/>
<polygon points="308.2,463.51 305.15,469 311.25,469" fill="#24894a"/>
<polygon points="308.2,472.01 305.15,477.5 311.25,477.5" fill="#24894a"/>
<line x1="308.2" y1="427.2" x2="308.2" y2="453.2" stroke="#3a9660" stroke-width="0.9"/>
<line x1="302.9" y1="427.2" x2="313.5" y2="427.2" stroke="#3a9660" stroke-width="0.9"/>
<line x1="302.9" y1="453.2" x2="313.5" y2="453.2" stroke="#3a9660" stroke-width="0.9"/>
<line x1="297.7" y1="440.6" x2="318.7" y2="440.6" stroke="#24894a" stroke-width="1.2"/>
<polygon points="339.2,398.39 336.15,392.9 342.25,392.9" fill="#2f50ad"/>
<polygon points="339.2,415.79 336.15,410.3 342.25,410.3" fill="#2f50ad"/>
<polygon points="339.2,423.59 336.15,418.1 342.25,418.1" fill="#2f50ad"/>
<polygon points="331.9,433.19 328.85,427.7 334.95,427.7" fill="#2f50ad"/>
<polygon points="347.1,436.59 344.05,431.1 350.15,431.1" fill="#2f50ad"/>
<polygon points="339.2,442.79 336.15,437.3 342.25,437.3" fill="#2f50ad"/>
<polygon points="331.9,469.89 328.85,464.4 334.95,464.4" fill="#2f50ad"/>
<polygon points="347.1,468.29 344.05,462.8 350.15,462.8" fill="#2f50ad"/>
<line x1="339.2" y1="424" x2="339.2" y2="441.9" stroke="#4d68bc" stroke-width="0.9"/>
<line x1="333.9" y1="424" x2="344.5" y2="424" stroke="#4d68bc" stroke-width="0.9"/>
<line x1="333.9" y1="441.9" x2="344.5" y2="441.9" stroke="#4d68bc" stroke-width="0.9"/>
<line x1="328.7" y1="433.2" x2="349.7" y2="433.2" stroke="#2f50ad" stroke-width="1.2"/>
<text x="245.9" y="517" font-size="7.5" text-anchor="middle" fill="#222">Isotype</text>
<text x="245.9" y="527.4" font-size="7.5" text-anchor="middle" fill="#222">(n=6)</text>
<text x="277.5" y="517" font-size="7.5" text-anchor="middle" fill="#222">αGDF-15</text>
<text x="277.5" y="527.4" font-size="7.5" text-anchor="middle" fill="#222">(n=6)</text>
<text x="308.5" y="517" font-size="7.5" text-anchor="middle" fill="#222">αPD-1</text>
<text x="308.5" y="527.4" font-size="7.5" text-anchor="middle" fill="#222">(n=7)</text>
<text x="339.2" y="517" font-size="7.5" text-anchor="middle" fill="#222">αGDF-15</text>
<text x="339.2" y="527.4" font-size="7.5" text-anchor="middle" fill="#222">+ αPD-1</text>
<text x="339.2" y="537.4" font-size="7.5" text-anchor="middle" fill="#222">(n=8)</text>
<text x="206.3" y="438.6" font-size="7.5" text-anchor="middle" fill="#222" textLength="80.3" lengthAdjust="spacingAndGlyphs" transform="rotate(-90 206.3 438.6)">CD8⁺ of CD45⁺ cells[%]</text>
<text x="394.2" y="310" font-size="8.5" font-weight="bold" fill="#000">e</text>
<text x="454.3" y="318.2" font-size="9.5" text-anchor="middle" fill="#111">CD8</text>
<text x="542.3" y="318.2" font-size="9.5" text-anchor="middle" fill="#111">Granzyme B</text>
<text x="630.7" y="318.2" font-size="9.5" text-anchor="middle" fill="#111">Foxp3</text>
<defs><filter id="blr" x="-2%" y="-2%" width="104%" height="104%"><feGaussianBlur stdDeviation="0.45"/></filter><filter id="blw" x="-50%" y="-50%" width="200%" height="200%"><feGaussianBlur stdDeviation="3"/></filter><clipPath id="c00"><rect x="413.1" y="322.2" width="82.4" height="61.8"/></clipPath><clipPath id="c01"><rect x="501.3" y="322.2" width="82.5" height="61.8"/></clipPath><clipPath id="c02"><rect x="589.8" y="322.2" width="82.1" height="61.8"/></clipPath><clipPath id="c10"><rect x="413.1" y="389.2" width="82.4" height="61.2"/></clipPath><clipPath id="c11"><rect x="501.3" y="389.2" width="82.5" height="61.2"/></clipPath><clipPath id="c12"><rect x="589.8" y="389.2" width="82.1" height="61.2"/></clipPath><clipPath id="c20"><rect x="413.1" y="455.8" width="82.4" height="61.3"/></clipPath><clipPath id="c21"><rect x="501.3" y="455.8" width="82.5" height="61.3"/></clipPath><clipPath id="c22"><rect x="589.8" y="455.8" width="82.1" height="61.3"/></clipPath><clipPath id="c30"><rect x="413.1" y="522.6" width="82.4" height="60.8"/></clipPath><clipPath id="c31"><rect x="501.3" y="522.6" width="82.5" height="60.8"/></clipPath><clipPath id="c32"><rect x="589.8" y="522.6" width="82.1" height="60.8"/></clipPath></defs>
<g clip-path="url(#c00)">
<rect x="413.1" y="322.2" width="82.4" height="61.8" fill="#e1e9f6"/><g fill="#f7f9fd" fill-opacity="0.75" filter="url(#blw)"><ellipse cx="450.4" cy="356.8" rx="15.2" ry="7.3"/><ellipse cx="454.9" cy="358.5" rx="7.8" ry="7.6"/><ellipse cx="465" cy="371.2" rx="6.9" ry="6.1"/><ellipse cx="420.6" cy="372.2" rx="12.9" ry="4.3"/><ellipse cx="494" cy="381.8" rx="12.5" ry="8.3"/></g><g fill="none" stroke-linecap="round" filter="url(#blr)"><path d="M422 328.9l1.4 0M414.3 347.5l0 0M460.6 324.8l0.6 1.1M489.2 351.5l-0 0M422.1 355.3l0.9 0.6M447 329.3l0.3 0.8M474 347.2l0.5 0.1M474.6 379.1l0.4 0.6M426.9 334.8l-0.5 0.6M482.2 375l-0.1 1.4M426.7 383.3l-0.3 0.1M454 349.1l-0.1 0M445.3 344.7l-0.5 0.3M481.6 382.1l-0.3 0.4M439.9 333.2l-1.3 0.9M431.9 352l0.2 0M427.6 323.9l0.4 0M421.8 331l0.6 0.1M475.8 323.5l0.5 0.8M478.8 331.6l-1.5 0.2M495.4 357.1l0.5 0.7M490.9 362.2l-0.1 0M427.6 372.6l-0.7 1.3M476.7 328.6l-0.5 0.1M435.2 371.5l0.7 0.2M417.1 350.8l0.7 1.4M442.8 337.6l0.2 0.6M431.6 323.6l0.6 0.8M415.9 371.5l-1.1 0.4M487.4 368.1l1.5 0.2M430.3 381.2l0.2 0.4M429.5 356.6l-0.4 1M418.4 363.9l0.4 0.1M486.8 363.5l0.2 0.5M470.6 370.9l-1.1 0.7M463.7 344.1l-0.2 1.3M437.3 327.5l0.2 0M447.4 381.3l-0.4 0.9M467 328.9l-0.2 1.4M446.8 379.7l0.6 0.2M463.9 367.3l0.8 0.7M439.4 341.6l-1 0.7M421.8 348.9l-0.6 0.3M474.7 368l-0.4 1.1M463.5 369.4l-0.2 0.4M461.6 348.4l0.1 1.3M442.1 332.9l0 0.4M495.1 324.4l0.9 0.2M494.8 383.6l-0.1 0M462.5 380.3l-0 0.1M422.9 379.3l-0.3 0.1M417.8 343.1l-1 0.4M460.4 340l-0.7 0.9M469.7 378.7l-1.3 0.3M430.5 345.3l-0.1 0.3M429.1 334.4l0.8 1.2M446.5 347.5l0.8 0.6M469.1 349l-0 0.8M454.8 379.7l0.4 0.6M416.3 370.9l-0.2 1.5M468.7 346.4l0.1 0.5M442.8 323l0.7 1.2M426.4 367.9l-0.2 0M424.6 326.4l0.5 0.7M440.2 326.9l0.9 0.2M448.1 347.8l0 0.1M471.5 337.3l0.2 0.2M458.2 339l-0.1 0.3" stroke="#c8d5ef" stroke-width="1.1"/><path d="M437.3 333l-0.4 0.7M435.9 332.7l0.5 1.2M484.3 355.2l-0.3 0.3M479.9 378l-0.3 0M417.2 339.1l-0.2 1M474 338.1l1 0M419.4 359.1l-0.6 0.1M464.5 350.4l0 0.2M477.7 360.8l-0.7 0.7M443.9 351.8l1.3 0.3M476.4 335.4l-0.3 0.5M479.2 348.3l0.6 1.5M479.1 341.5l0.1 1M432.7 322.9l-0.4 1.1M426.1 331.9l-1 0M482.1 358.8l0.3 1.5M430 342.8l-0 0.4M449.8 327.1l-0.3 0.3M477.9 326l-1.1 0.2M430.7 345.6l-0 0.3M414.8 359.6l0.4 0M475.8 363.6l1.3 0.9M450.4 363.3l-0.1 0.6M475.1 377.7l-1.1 0.8M485 363.5l0.4 0.6M431.1 383.4l0.8 0.2M434.3 326.2l-0.3 0.6M434 351.8l-0.4 1M444.4 326.2l0 0.3M417.3 358.2l-0 1.4M444.8 344l-0.1 0.3M428.9 324.3l0.1 0.6M427.3 332.9l-0.5 0.2M489.3 359.5l-0.3 1.5M488.7 363.9l-0.6 0.1M415.4 382.9l-0.7 1.4M443.8 329.2l-0 0.2M449.7 357.4l0.4 0.6M443.4 377.1l0.7 0.3M466.1 337.7l0.9 1.2M420.7 353.7l0.5 0.7M480.8 367.6l-0.2 0.5M413.4 351.1l0.6 1M479.1 373.3l-0 0.6M421 368.5l-0 0.1M461.1 337.5l0.1 1.4M464.2 340.6l-0 0.3M475.1 352.2l0 0.1M481.5 344.8l0.9 0.2M434.8 349.1l0.7 0.4M474 345.4l-0.1 0.1M484 361.2l-0 0M437.7 322.7l-0.7 0.1M417.9 358.5l-0 0M431.6 365.4l0.1 0.1M483 329.2l0.1 0.1M424.9 328.1l-0.5 0.1M416.2 355.5l-0.9 0M418 346.2l0.5 1.4M488.2 326.9l-1.3 0.9M422.8 341l-0.3 1M444 344.9l-0 0.1M441.1 325.4l-1 0.1M418.1 324.6l-0.3 0.4M428.6 350.7l-0 0.3M487.1 368.5l0.5 1.3M430 333.2l0.3 0.3M417.4 330.2l1.2 0.9M476.2 361.1l0.5 0.3M450.9 351.3l0.8 0.1M479.3 338.4l-0.2 1.1M415.2 329.6l0 0M434.9 330.3l-0.5 0.1M434.1 383l-0.2 0.4" stroke="#c8d5ef" stroke-width="1.4"/><path d="M482.3 365.9l-0 0M452.9 327.1l-0.2 0.3M437.9 364.1l0.2 1M429.6 361l-1.5 0.1M445.3 348.6l-0 0M418.9 343.3l-1.5 0.5M448.5 352.8l0.4 0.5M434.5 323.9l0.1 0M430.3 355.8l0.1 0.5M452.5 348l-0.4 0.2M446.5 343l-0.1 0.1M491.5 322.2l0.1 0.3M426.7 359.8l-1 0.8M432.7 331.2l-0.9 1M483.6 348.1l-0.5 0M457.6 348.1l-0.1 1M466.6 335.6l0.2 0.2M424.4 354.1l0.4 0.3M483.4 356.7l-0.2 0.3M419.1 324.4l-0.2 0.4M434 353.6l-0.3 0.5M463.9 373.3l-1.4 0M430.7 333.3l0.9 0.6M450.3 339.8l0 0.2M438.4 322.7l-1 0.9M485.9 349l-1.4 0.5M446 336l-0.6 0.1M455.6 368.8l-0.8 0.5M421.1 370.7l-0.1 0.1M473 338.6l0.7 0.8M459.3 338.4l1.3 0.7M423.9 327.7l0.1 0.5M452.7 364.6l0.4 0.8M490 381.6l1.4 0.3M455.9 381.5l1.5 0.1M431.7 341.9l1.2 0.9M491.1 327.2l-1.5 0.3M428.1 323.1l-0.3 1.3M433.7 334.5l0.3 0.6M415.1 345.3l-0.9 0.5M431.1 351.5l-1 0M431.5 336l-1.2 0.4M470.2 353.1l-0.1 0.7M490.2 348.2l-0.9 0.7M483.4 332.1l0.6 1.4M426 338.6l-1.1 0M446.6 362.3l0.1 0.1M477.2 329.2l-0.3 0.9M429.6 345.6l0 0.1M484.4 353.7l0.4 1.2M431.8 326.1l-0.1 0.6M451.2 377.6l1.4 0.3M435 355.3l-1.2 1M432.8 374.9l0 0.1M449.8 350.5l-0.6 0.3M442 343.4l-0.2 1.1M464.4 358.2l-0.2 0.4M484.3 366.7l0.2 0.1M427.8 371l1.3 0M421.6 330.1l-0.4 0.1M436.8 361.5l0.5 0.5M472.9 382.3l-0.4 0.3M446.2 327.7l0.3 0.5M442.9 332.1l0.4 0.2M447.1 358.8l0.3 0.6M413.9 367l-0.1 0.4M447.2 381.3l0.7 1.2M421.7 349.2l-0.4 0.6M449.2 335.6l0.5 0.7M419.7 351.5l-0.1 0.1M427.1 361.1l-0 1.2M427.2 331l-0.4 1.1M461.3 346.9l0 0M436.2 328.4l0.6 0.1M432.9 370.9l-0.6 0.3M481.9 375.3l0.2 0.3M460.1 365.8l-0.8 1M465.4 348.8l0 1M417.7 336.5l-0.1 0.1M454.8 376l0.8 0.8M445.2 339.2l0.1 0.1M489.7 357.5l-0.8 0.2M448.7 374.6l-0.1 0.3M422.4 360.6l0.1 0.6M454.6 337.7l1.2 0.5M436.1 362.2l0 0.2M480.8 363.8l-0.1 0.1M482.7 352.3l0.2 0.4M442.5 324.5l-0.1 0.3M449.1 325.1l1.3 0.7M480.5 383.1l0.5 0.1M431.2 361.2l0.5 0.8M472.3 323.7l-0.9 0.3M479.9 334.3l0.5 1M468 324.4l-0 0.3M426.6 350.8l-0.3 0.2M415.5 322.8l-0.2 1.1" stroke="#c8d5ef" stroke-width="1.7"/><path d="M423.8 381.7l-1.3 0.6M483.6 343.7l0 1.2M435.3 351.4l0.8 0.3M414.1 339.8l-0.1 0.1M423.2 353.7l-0 0M480.3 330.7l-0.2 0.1M489.5 330.8l-0.7 0.2M438.2 358.9l-0.4 0.2M466.7 353.8l-1 0.6M420.5 348.6l0.9 1.2M453.5 357l0.3 0.3M489.5 338.8l-0.3 0.5M495 329.6l0.3 0.1M431.5 366.8l0.8 0.7M417.7 360.3l-0.2 0.8M429.2 339.5l0 1.3M430.3 335.2l0 0.1M429.6 326.6l0.4 0.2M423.3 328.1l0.6 0.7M450 326.2l0.7 0.8M430.8 355.4l-0.3 0M435.1 359.3l-0.3 0.5M449.4 368.6l0.2 1.3M425.5 383.6l0.5 0.2M423.2 342.1l-0.1 1.2M444.3 322.3l0 0.1M465.8 326l0.1 0.1M493.5 332.1l0.4 0.3M416.9 366.1l0.2 0.6M482.3 343.5l0.1 0.3M419.3 383.6l-0.8 0.8M416.6 355.7l-0.7 0.4M425.3 332.2l-0.1 0.2M451.3 329.5l-0.3 0.7M420.5 356.6l0.6 0.8M439.2 340.5l0.1 1M419.4 375.1l0.6 1M437.1 323.2l1.2 0.4M419.4 349.5l1.4 0.6M482 374l-0 0.1M469.7 375l-0.2 0.5M417.4 351.1l0.7 0M479.3 383.7l0.1 0M433.2 346.5l-0.5 0.7M491.2 365.1l1 0.9M452.6 335.1l-1.3 0.2M438.8 328.8l0.1 0.8M420.6 363.9l0.4 1.1M461.7 379l0.2 0.2M425.4 337.8l0.4 1.1M455.2 347.6l0.8 0.1M443.2 367.5l-0.1 0.2M482 370.8l0 0M422.3 364.8l-0.3 0.9M422 323.9l0 0M473.5 367.8l-1.2 0.3M472.6 354.7l0.1 1M453.9 362.1l0.3 1.4M486.4 336.7l0.6 0.2M493.7 355.1l-1.3 0.3M454 356.6l-1.4 0.5M422.4 350.6l-0.7 0.3M484.3 379.4l-0.4 0.7M478.2 370.2l0.6 0.4M470.2 337.4l0.8 1M456.3 334.7l0.1 0.2M422.5 358.2l-0.3 0.7M465.6 375.1l-0.6 0M440.2 340.7l0.4 0.4M441.6 334.8l-1 0.6M440.7 322.6l0.4 1.1M414.1 370.7l0.5 0.2M455.5 323.7l0.6 0.2M474.1 380.2l-1.3 0.4M487.8 348.4l0 0.6" stroke="#c8d5ef" stroke-width="2.0"/><path d="M460.3 360.8l-0.1 0.1M449.4 374l0.5 0.1M471.5 357.5l0.3 1M428.7 369.7l1.5 0.6M452.3 333.2l0.2 0.2M447.7 324l0.1 0M461.4 361.3l-1 1M466.8 371.9l0.3 0.4M421.8 341.6l-0.5 1.1M435.1 355.2l-0.3 0.1M425.4 330.1l-0.8 1.2M419.9 368.5l0.3 1.2M450.4 367.3l0.6 0.7M472.6 370.9l0.2 0.7M494.3 322.4l0.4 0.5M463.4 324.7l-0.2 1.2M429.7 369.7l-1.1 0.3M457.9 346.5l-0.2 1M431.2 340l-0.5 1.3M415.1 343.9l1.2 0.4M427.4 360.4l0.7 0M462.4 345l0 0.5M471.8 365.6l1.2 0.9M450.7 352.3l-0 1.1M468 326.4l-0.4 0.6M431.8 344.7l-0.9 1M461.8 356l-0.7 0.2M433.9 366.4l0.2 0.3M439.5 322.6l0.8 0.1M450.2 349.2l-0 0.3M416.5 339.8l-1.1 0.3M428.4 346.5l0.8 0.3M446.4 357.1l-0.2 0.7M467.1 381.4l-0.6 0.3M483.5 327.2l-1.5 0.2M444.3 329.4l-0.7 0.5M430.4 357.4l0.2 0M429.8 350.8l-0.3 0.8M426 336.9l0.1 0.6M434.3 381l-1.5 0.4M479.2 350.8l-0.2 0M434 373.1l-0 0.8M432.6 326.1l0 0.4M423.2 360.6l-0 0.2M426.3 339.3l0 0M455.1 333.2l1.3 0.5M448.6 364.5l-0.3 0.7M443.4 323l0.1 0.9M439.8 326l-0.5 1.2M475.5 332.1l-0.4 0.7M462.9 355.7l0.4 0.3M432.7 327.4l0.9 0.5M426.5 335.9l0.1 0M418.2 333.5l0 0M461 338l0.9 0.7M434.8 333.4l0.2 0.1M468.2 368l-1 0.7M481.5 350.4l0.3 0.1M440.4 324.3l-0.2 0.7M465.8 329.2l-0.4 0M495 363.4l1.4 0.3M476 340l-0.3 0.2M428.3 336.7l-0.1 0.4M434.7 345.6l1.1 0.5M423.2 378.6l0.4 0.2M470 344.9l1.1 0.1M415.4 364.3l0 0.1M422.6 340.8l-0.8 1.4M494.8 336.7l0.2 0.3" stroke="#a2b9e4" stroke-width="1.1"/><path d="M453.2 364.4l0.2 0.6M437.5 326.7l0 0M433.6 325.1l0.1 0.1M463.7 368.9l-0.1 0M415.4 372.2l-0.5 0.7M469.9 369l-0.7 0.4M422.6 353.5l0.1 1.3M419.2 378.2l0.1 0M443.4 346.3l-0.2 0.2M485.7 339.6l-0.9 0.1M421.5 360.6l0.1 0.3M437.7 336.7l-0.1 1.6M436.9 377.6l-0 0.3M479.3 323.2l0.8 0.3M447.8 329.8l-0 0.2M450.2 355l0.1 0M423.6 335.1l-0.1 0.8M428.2 375.1l0.2 0.9M479.1 329.9l-1 0.1M430.1 361.1l-0.9 0M440.6 329.4l-0.1 0.8M445.1 370.3l0.6 1.1M414.9 341.4l-0.9 0.7M469.9 349.8l-0.9 0.7M422.8 331.7l0 0M493.6 370.8l-0.3 0.4M418.3 328.5l0.9 0.1M425.7 364.1l0.4 0.8M463.2 334.8l0 0.7M483.3 340.1l-0.4 0.5M466.6 345.2l-0.7 1.2M451.5 356.9l0.5 1.3M453.4 328l-1.3 0.3M418.8 338.7l-0 0.7M414.7 367.7l-0.3 0.1M463.3 376.2l-0.5 0.2M467.7 377l0.4 0.3M418.3 364l-0.1 0.9M428.7 376.9l-0.9 0.2M480.7 324.4l-0.1 0.5M477.7 351.3l0.4 0.1M489.9 340.7l0.2 0.4M444.8 327.6l0.2 1.2M484.2 356.5l-1 0.5M479.8 351l0.7 0.5M443.1 322.9l-0.1 0M419.4 364.3l0.1 0.1M452.6 345.7l-0.6 0.6M422.7 368.2l1 0.2M441.6 324l-0.1 0.2M418.9 330.7l-0.6 0.5M431.3 347.6l-0.7 0.2M413.2 334.1l-1.1 0.8M455.5 365.4l1.4 0.6M422.2 339.4l0.1 0M429.1 347.4l-1.4 0.1M426.7 332l1.3 0.7M481.6 331.9l-0.3 0.1M475.5 332.4l-0.8 0.1M414.7 356.2l0.1 0.5M475.9 345.2l0.1 0.6M452.3 350.4l0.5 0M466.6 374.5l0.1 1.4M477.6 330.3l-0.6 0.5M427.7 340.7l-0 1.4M414.5 340l-0.1 0.4M428 348.6l-0.1 0.1M440.3 370.8l-0.5 0.3M415.1 322.7l-0.2 0M423.9 325l-0.2 0.8M449.4 359.4l-0 0.7M426 356.8l1.1 0.6M435.3 326.6l0 0.3M458.2 367.7l-0.2 1.1" stroke="#a2b9e4" stroke-width="1.4"/><path d="M493.9 346.8l0.3 0.4M481.7 330.6l-1.2 0.8M464.6 378.4l-0.3 0.7M486.2 330.5l0.1 0.6M490.5 357.4l0.9 0.9M467.1 356.8l-0 0M413.9 341.4l-0.6 0.5M440.1 376.7l0.5 0.2M437.7 343.1l0.1 0.3M422.1 341.3l0.3 0.7M426.6 334.8l0 0.8M416.5 323.7l1 0.2M425.6 376.9l0.7 0.8M486.1 326.1l-1 0.8M421.4 380.9l-0.5 1.3M413.9 330.9l0.5 1.2M420.4 344.7l-1.3 0.9M443.9 358.9l0.6 1.4M445.8 327.8l-0.3 1.1M483.9 380l1.4 0.4M440.7 343.6l0 0.1M438.9 356.5l0.4 0.1M448.5 351.6l0.2 0.9M449 362.6l0.3 0.8M471.8 343.2l-0.2 1.1M458 383.2l-0 1.3M475.6 326.9l0.5 1.2M468.7 335.6l-1.5 0.4M486.4 339.3l1.4 0.7M465.2 351.1l-0.7 0.2M471.2 348.5l-0.7 0.2M493.2 365.3l-0.2 1.5M450.9 378.1l-0.3 0.1M462.5 330.4l-0.2 0.2M476.3 353.7l1.1 0.5M439.8 354.6l-0.1 0.8M476.7 358l-0.8 1.1M491.7 358.2l-0.9 0.8M489.1 364.7l1 0.9M418.4 375.8l0.6 0.5M489.2 335l-1.4 0.3M444.1 336.6l-0 0M426.3 349.2l0.6 0.1M439.1 368.6l0.1 0M425.9 352.1l0.1 0.3M483.6 335.3l0.7 0.6M490.7 340.7l0.1 0.3M423.8 323.8l-1.1 0.9M493.8 364.5l-0.4 0.4M420.8 366.9l-0.9 0.4M470 351.1l1 0.3M423.4 375.3l-0.2 1.4M458.1 382.3l0.8 0.4M449.3 340.2l-0 0.9M493.1 331.7l0 0.3M425.6 330.1l-1.3 0.7M487.7 338.7l0.2 0.5M421.9 337.1l0.4 0.9M459.5 355.2l-1.3 0.5M460 326l0.3 0.1M433.8 348.4l0.5 0.4M422.7 363.7l0.5 0.3M416.5 352.2l0.6 0.6M474.2 332.3l-0.1 0.7M429.3 333.8l0.3 0.4M459.5 345.3l0.8 1.1M466.7 323.6l0.1 0.2M458.1 371.6l-0 0.1M465.7 356.6l0.1 0.2" stroke="#a2b9e4" stroke-width="1.7"/><path d="M414.9 381.4l0.4 0M434.4 339.2l-0.3 1.5M468.1 350.4l-0.4 0.4M420 373.4l-0.9 0.9M433.3 335.8l0.3 0.6M418.6 326.8l-0.9 0.7M423.1 349.7l-0.1 0.4M432.5 352.4l0.3 0.2M430.9 326.9l0.1 0M455.3 364.2l1.4 0.2M494.9 367.8l-0.1 0M415.7 348.9l-0.4 0.7M479.7 322.2l0.4 1.3M472.7 354.4l0.3 0.1M424.3 364.1l-0.4 0.4M490.9 382.6l0.6 0.7M426.8 331.1l0.1 0.9M417.7 326.6l-1.4 0M440.8 323.6l-1.1 0.5M427.6 333.5l-0.3 0.5M415.1 342.2l-0.9 0.4M444 331.4l0 0M478.3 335l0.5 0.7M478.4 359.5l0.5 0.1M477.2 363.6l-0.9 0.9M421.6 342.9l-0.1 0.1M472.4 370.2l-1 0.8M456.4 323.7l0.1 0.1M422.1 342.8l0.1 0.2M422.9 327.2l-1.5 0.1M479.6 334.7l-1.4 0.3M416.7 324l0.1 0.5M418.7 333.8l-0.3 0.6M416.6 340.4l0.4 0.4M428 381l0 0.3M423.7 333.1l-0.1 1.2M446.1 329.4l-0.1 0.3M413.5 359.9l0 1.4M454 341.9l0.1 1.1M439.6 360l0.4 0.3M474.8 348.2l-1 0.6M469.5 361.1l-0.2 0.8M486.9 370.8l0.3 0.3M467.5 343.9l0.1 0.3M456.6 345.8l0 0.1M418.7 335l-1.3 0.3M416.3 353.1l0.6 0.2M414.7 359.4l-0.3 0.3M430.8 372l-1.1 1.1M429.3 341.8l0.1 0.9M424.1 376.9l-0.6 0.6M455.1 363.7l-0 0.5M475.9 376.1l-1.6 0.2M435.4 327.9l-0.4 0.1M448.5 365.6l0.5 0.6M491.1 379.4l-0.2 0.2M432.7 329.3l1.1 0M425.2 336.9l0.3 0.3M493.7 334.4l0.2 0.5M432.2 351.5l0.2 0.5M466.1 352l-0 0.1" stroke="#a2b9e4" stroke-width="2.0"/><path d="M463.8 326.8l0 0.1M452.8 367.3l0.3 0.7M439.2 330.6l-1.1 0.2M466 366.6l-0.2 1.6M428.7 337.6l1 0M483.4 352.2l0.6 0.5M439.3 370.9l0.3 0.2M454.4 340.5l0.7 0.6M493.6 383.5l1.6 0.3M415.5 329l0.4 0.5M432.2 380.9l0.5 0M420.2 365.1l0 0.7M419.6 352.3l0.1 0.2M416.8 347l-0.3 0.2M463.5 335l0.8 0.9M424.5 343.3l0.3 0.2M428 325.9l1 0.9M420.6 322.5l-0.2 0.3M420.4 328.4l-0.5 1.4M453.4 367.6l-0.5 0.2M437.4 362.6l1 0.3M457.7 325.4l-0.1 0.2M494.5 353.7l-0 0.1M426.6 344.2l-1 0.1M491.4 368.1l-0.8 0.3M453.8 376.1l0.8 0.8M462.2 331.1l-0.1 0M444.9 350.7l0.7 1.4M440.9 371.6l0.9 0.9M445.3 358.9l1.5 0.3M485 336.9l0 0M494.2 345.4l-0.3 0.7M488.4 330.6l0.2 1.2M439.5 378.5l-0.2 0.4M416 332.3l0.1 0.5M466.8 363.8l0.6 0.7M427.6 363l-1.2 0M430.7 336.9l0.3 0.5M423.8 333.7l1.2 0.8M446 363l-0.9 1.3M426.5 365.7l0.3 0.3M456 349.4l0.1 0.2" stroke="#7896d4" stroke-width="1.1"/><path d="M433.7 333.9l0.4 1M429.5 348.8l-0.2 0.6M459.2 341.5l0.4 0.2M479.9 378.4l0.9 0.3M472 373.8l1.1 0.5M419.4 324.2l-0.3 0.4M430.1 340.5l-0.5 0.2M448.1 326.9l0.4 0.2M424.5 331.9l-0.3 0.3M427.1 328.7l-0 0.2M447.6 363.6l0.4 0.5M440.5 378.7l-0.1 0.7M414.1 327.6l-0.3 0M454.2 370.7l-0.4 1M421.4 361.6l1.2 0.2M415.3 348.9l-1 0.5M442.7 362.1l-0.6 0.4M443.1 345l-0.1 0.2M492.1 380.2l1.1 1M488.8 373.8l1.1 0.1M435.5 327.4l0.2 0.8M434.7 334.4l0.7 1.3M436.7 377.8l0.1 0.3M481 352.4l-0.4 1.1M450.2 364.8l-0 1.4M482.9 352.6l-0.2 0.1M419 335.3l-0.9 0.3M439.3 369.7l0.3 0.8M484.7 377.4l-0.7 0.4M459.8 346.1l1.5 0.3M457.9 358.7l-1.1 0.5M489 376.6l-0.6 0.9M480.3 348.4l-0.5 0.4M442.7 333.3l0.7 0.5M454.2 379.7l0.5 1.4M445.2 326.1l0.6 0M415.8 357.2l1.1 0.2" stroke="#7896d4" stroke-width="1.4"/><path d="M445.6 383.4l1.6 0.1M482.5 360.8l1.4 0.2M490.6 378.6l0.6 0.5M493.2 351.6l-1 0.2M492.3 339.1l-1.1 0.2M493.1 325.4l0.2 0M439 350.1l0.1 0.8M479.4 351.8l1.1 0.1M428.4 351.2l-0 0M436.4 375.8l0.3 1.4M465.7 344.1l0.6 0.7M418.9 346.3l0.8 0M455.3 383.6l-0.3 0.2M481.6 342.5l1 0.2M433.2 335.7l1 0.2M453.5 352l-0.7 1.3M430.2 337.4l-0.6 1.3M414.9 369l-0.1 0.2M453.4 365.2l-0.2 0.3M436.5 332.8l0.6 1.1M460.1 341.7l-0.8 0.9M464.5 359.6l0 0.1M478.7 371.9l0.1 0.6M445.9 328.5l-1.2 0M420.9 345.6l-1 0.2M457.2 372.3l-0.2 0.1M469 351.5l-0.3 0.3M473 334.5l-0.5 0.1M480.6 362.8l-0.2 1M443.4 376.5l-0.4 0.4M439 332.9l-1.1 0.1" stroke="#7896d4" stroke-width="1.7"/><path d="M415.1 369.3l0.2 0.1M489.5 328.1l0.1 0M438.1 331.8l0 0M439.5 325.6l-0.7 0.7M435.9 361.7l1.4 0.3M484.6 352.1l0.7 0.6M414.3 345.4l0.3 0.6M486.7 359.1l0.6 0.4M483.7 355l1.4 0.4M418 358.2l-0.1 0M486.7 363.2l1 0.3M481.9 326.8l0.5 0.7M454.8 371.9l-0.8 1.3M438.7 330.7l0.5 0.3M463.5 344.7l-0.5 1.5M461.3 373.2l0 1.4M443.4 381l0.2 0M463.2 360.7l-0.2 0.6M443.8 351.8l0.3 0.2M442.3 371.1l0.8 0.8M419.6 344.2l0.3 0.1M420.1 367.9l-0.8 0.1M429.3 352.1l-0.8 1M418.2 346.9l-0.6 0.5M418.5 355l-0.7 0.7M418.6 346.2l0.8 0.9M428.6 333.2l-1.1 0.6M482 367.1l-0.2 0.2M494.3 365.7l-0.5 0.9M478.4 347.8l-1.3 0.9M491.5 356.7l0.2 1.3M468.4 347.8l-0.6 0.7M416.3 368.1l-0.3 1" stroke="#7896d4" stroke-width="2.0"/></g><g fill="none" stroke-linecap="round" stroke-opacity="0.85" filter="url(#blr)"><path d="M490.6 378.8h0M440.6 358.5h0.1M472.6 337.4h0.4" stroke="#9a5a30" stroke-width="1.2"/><path d="M442.3 338.1h0.4" stroke="#9a5a30" stroke-width="1.3"/><path d="M460 354.6h0" stroke="#9a5a30" stroke-width="1.6"/><path d="M419 363.2h0.4" stroke="#9a5a30" stroke-width="1.7"/><path d="M471.5 337.1h0.4" stroke="#9a5a30" stroke-width="2.0"/><path d="M492.2 380.6h0.5M427.4 374.8h0.1M422.4 334h0.1M442.4 369.8h0.2" stroke="#9a5a30" stroke-width="2.1"/><path d="M486.6 371.2h0.5M457.3 362.5h0.6M465.9 333.5h0.2M492.2 378.3h0.4" stroke="#9a5a30" stroke-width="2.2"/><path d="M447.5 364.4h0.4" stroke="#9a5a30" stroke-width="2.3"/></g>
</g>
<g clip-path="url(#c01)">
<rect x="501.3" y="322.2" width="82.5" height="61.8" fill="#e1e9f6"/><g fill="#f7f9fd" fill-opacity="0.75" filter="url(#blw)"><ellipse cx="540.5" cy="362.8" rx="12.7" ry="5"/><ellipse cx="502.2" cy="345.4" rx="8.7" ry="9.7"/><ellipse cx="558.3" cy="359.4" rx="11.6" ry="8.6"/><ellipse cx="513.3" cy="349.4" rx="7.6" ry="10.3"/><ellipse cx="506.2" cy="372.8" rx="6.7" ry="8.8"/></g><g fill="none" stroke-linecap="round" filter="url(#blr)"><path d="M523.4 369.8l0.6 0.6M579.4 377.5l-0.4 0.1M533.1 332.1l-1.2 0.4M505.6 328.8l0 0.5M566.4 373.8l-0.6 1.2M525.8 333.9l0.9 0.3M506.4 328.9l1.5 0.1M508.8 341.4l1 0.9M555.8 351.9l-0.7 1.1M547.2 363.7l1.1 0.5M564.7 351.7l0 0.2M579.8 332.4l0.5 0.2M527.6 332.8l1 1M513.3 334.3l0.1 0.7M544 358.6l-0.2 0.1M552 336.2l-0.3 0.3M534.4 362.2l0 0.9M562.9 332.9l0.2 0.3M558.4 327.9l0.2 0.4M530.4 357.2l-0.1 0M546.4 343.6l-0.7 0.3M563.7 362.2l-0.8 0.2M524.5 345.5l-0.1 0.3M560.9 330.9l-1 0.7M506.9 330.8l-1.5 0.4M583.1 360.4l-0.4 0.6M541.3 355.7l0 1.1M514.4 334.9l-0 0M538.3 331.4l-0.2 0.9M513.2 352.5l-0.1 0.3M548.7 355.1l-0.3 0.4M541.4 341l-0.4 1.3M561.8 358.1l0.8 0M535.3 330.6l-0.5 0.7M508.7 341.1l1 0.8M520.5 326.3l0.1 0.2M569.9 361.6l-0.3 1.5M543.1 331.2l-0.4 1.4M547.1 378.9l-0.9 0.4M559.5 344.2l0.3 0.4M569 349.9l0.8 0.1M577.3 362.5l-0.7 0.3M558.2 340.1l0.3 0.2M532.3 359l0 0M522.1 370.7l0.1 0M547.7 375.9l-0.8 1.4M531.7 336.9l-1 0.2M532.9 331.5l0.2 0.8M547.9 331.9l0.9 1.1M519.9 342.9l-0.1 1.3M562.4 379.9l0.2 0.6M553.6 381.9l0.2 0.2M571.3 347.7l-0.1 1M507.3 370.7l-0.9 0.9M544.5 326.6l-0.2 1.3M536.7 349.9l0.2 0.1M512 332.5l0.1 0.6M565.8 358.9l-1.1 0.3M547.6 322.5l0.3 0.1M572 341.9l0.4 1.1M518.8 365.9l-0.1 0.2M505.9 327.3l-0.7 0M536.1 328.1l0.7 0.5M568.5 365.5l0.3 0.5M570.6 344.6l1.6 0.1M514.9 355.7l-0.7 0M560.6 370.4l-0.9 0.5M534.3 353.8l-0 1.1M539.2 355.4l0.3 0.4M536.2 342.5l1.2 0.2M527.6 330.3l-1.1 1" stroke="#c8d5ef" stroke-width="1.1"/><path d="M501.6 323.9l0.1 0.4M528.7 364.6l-0.6 1.1M550.3 350.4l0 0M524.4 334.6l-0.5 0.7M531.1 341.2l0.4 0.1M517.4 360.8l0.4 0.4M513 350.2l-0.2 0.1M534.3 322.7l-0 0M525 327.3l0.1 0M563.3 339.8l-1.5 0.3M582.7 343.2l0.8 1.2M529 334l-0.5 0.7M536.5 324.8l-0.8 0.7M553 366.7l-0.4 0.3M550.7 356.2l-0.2 0.1M538.2 364.2l-0 0.4M509.3 349.2l0.1 0.5M572.7 338.1l0.6 0.5M549 337.9l-0.5 0.8M570 336.9l1.2 0.8M526.9 339l0.7 0M575.2 335.3l-1.2 0.8M544.6 331.9l-0.7 1M531 348.3l-0 0.6M562.7 369l1.1 0.4M571.6 333.4l-0.4 0.8M545.5 358.2l1.3 0.3M514.7 370.4l-0.7 1.2M555.9 339.6l-0.1 0.1M528.9 332.5l1.4 0.1M527.9 324.2l0.5 0.5M524 323.8l-0.7 0.9M583.3 333.2l1.1 0.8M533.4 329l0.2 0.5M548.6 333.3l-1.5 0.2M524.5 348.8l0.2 1.5M569.8 332.4l0.6 0.2M546.9 338l-0.5 0M557.3 377.4l-0.4 0.4M553.2 356.9l-0.2 0.5M545.9 337.3l0 0.2M569.1 322.2l-0.5 0.2M582.5 324.1l-0.2 0.8M546.2 356l0.6 0.8M531.1 366.3l1.2 0M523.6 367.7l0.6 0.4M512.1 361l-0.8 0.2M541.3 357.6l1 0.9M563.8 336.5l0.8 0.8M569.7 328l-0.2 0.3M527.3 338.2l-0.1 1.4M536.8 360.7l0 1M567 345.6l0 0.2M534.2 362.3l0.1 0M543.7 333.7l-0.7 0.1M569.1 355.4l0.1 0.9M570.1 354l1 0.3M538.9 338.6l-0.1 1M555.2 325.4l0.2 0M521.7 331.4l-0.6 0.1M504.3 343.7l-1.1 0.3M529.5 368.7l-0.2 0.1M568.2 324.9l-0.1 0.5M510.3 356.3l0.8 0.3M511 347.2l1.1 0.8M582.2 375.1l-0.1 0M563.8 330.3l-0.6 0.2M507.9 348.8l-1.1 0M560.2 330.8l0.3 0.5M541.4 339.7l1.3 0.3" stroke="#c8d5ef" stroke-width="1.4"/><path d="M579.4 329.2l-0.3 1.4M553.8 325.4l-0.4 0.6M510.9 344.5l-0.7 1.2M543.8 365.2l0.8 0.1M512.2 352.1l-0.8 0.8M513.8 373.9l-0.6 0.3M533.8 327.2l0.4 0.9M530.6 340.3l-0.1 0.5M531.1 328.9l1 1M535.4 327.1l0.3 0.7M526.9 343.4l0.1 0.3M551.4 381.5l0.1 1M504.9 343.6l-0.4 0.9M543.2 348.9l0.8 0M569 344.5l-0.1 0M547.4 325.8l0.1 0.2M560.5 325.4l0.2 0.9M510.8 352.9l-0 1.5M512 326.3l0.5 1.3M518.6 357.4l-0.1 0.2M504.7 337.3l-1.1 0.7M536.4 363.4l0.8 0.8M521 371.6l-0.4 0.2M537.3 326.7l0.2 0.1M526.7 348.6l-0.8 0.1M555.8 330.8l0.3 0.5M551.2 361.3l1.5 0.1M541.7 327.9l-0.4 0.8M570.2 339.1l-0.2 1.4M522.4 362.5l0.5 0.5M565.8 363.5l0.3 1.1M544.3 334.3l0.1 0.3M535.1 333.2l-0.2 0.5M540.4 375.6l1 0.6M572.8 336.3l0.7 0.5M522.7 356.7l-0.5 0.5M532.3 363.1l-0.5 1.4M583 342.1l0.6 0.8M514.6 350.9l0.3 0.9M525.1 326.6l0.4 0.2M527.8 332.5l1.1 1.1M527.5 348.1l0.5 0.1M506.6 373.8l-0 1.4M525.4 341.1l0 0.6M579 345.3l0.8 0.5M565.7 335.9l-0 1.1M518.4 361.3l0.3 0.4M570.1 323.4l-0.5 0M561.4 346.3l-0.2 0.1M513.1 362.4l-0 0.4M527.4 352.3l0.8 0.4M523.9 378.3l-0.9 0.5M560 370.7l1 0.7M561.3 372.3l-0.2 0.3M532.5 333.8l0.1 0M553 366.6l0.4 0.4M541 325.5l0.1 0.5M546.5 324.8l0.3 0.1M543.2 378.1l-0.1 0.3M517.8 344.4l-0.4 0.2M555 330.3l-0.4 0.1M518.5 341.4l0.3 0.5M532.7 345.1l-0.5 0.8M523.6 359.3l0.3 0.5M566.4 342.5l-0.5 0.1M578.1 346.8l0.8 0.8M531.5 355.2l-0.1 0.3M528.5 378.5l-0.9 1.3M555.9 357.3l-0.5 0.8M559.9 352.7l-0.2 0.4" stroke="#c8d5ef" stroke-width="1.7"/><path d="M581.8 363.2l1 0.4M536.8 354.3l-0.1 0.3M563.4 335.8l0.2 0.4M532.6 328.3l0.9 0.4M545.4 365.5l0.6 0.1M551.4 331.4l-0.2 0.6M523 347.3l1.1 0.7M553.7 351.1l1.4 0.1M570.9 328.9l-0.1 0.2M544.8 360.7l-0 0.4M542 372.1l0.3 0.8M550.3 354.6l0.2 0.2M561.3 325.1l-0.6 0.6M578.3 324.9l-0.1 0.1M545.9 327.9l-0 0.6M531.2 369.7l-0.8 1.1M536.8 355.7l-0.3 1.4M573.4 337.7l-0.5 1.2M538 339l0.2 1.2M512.6 361.4l0.2 1.2M514.8 329.6l0.2 0M538.7 344.9l-0.8 0.4M510.4 330.7l-0.9 0.2M531.7 367.3l-0.3 0.6M560.2 347.8l-0.6 0.6M508.3 381.2l-0.3 0M555.9 351.6l-0.1 0.1M539.5 366.8l0.4 0.3M518.7 327.7l0.7 1.3M520 335.2l-1.2 0.3M542.1 334.3l-1.1 0.6M505.9 370.1l0.3 0.5M507 327.1l-0.2 0.1M551.1 361.9l-0.9 0.2M514.9 350.9l0.5 0.4M563.4 330.6l0.5 0.1M540.9 356.2l0.6 0.1M563.5 367.8l0 0M576.6 374.6l0.7 1.4M565.2 334.7l0.4 0.5M549.2 331l-0.3 0.5M524.5 368.1l0 0M518 348l-0.3 0.7M528.6 361l-0.9 0.6M579.7 328.7l0.5 0.4M560.1 343.3l0 0.1M512 346.9l0.7 0.8M563.7 337.3l-0.7 0.1M516.3 354l-1 1.1M524.4 349.8l1.3 0.7M502.8 342.9l0.7 0M549.5 342.1l-1 0.7M543.9 376l-0 0.4M536.5 370.6l0.3 1.1M544.6 378.2l-0.2 1.4M548.3 360.8l-0 0.3M536.8 382.4l-0.4 1M538.5 340.8l0.1 0.5M537.1 342.2l1.1 0.1M512.6 382.4l-0.6 1M520.8 349.9l0.4 0.8M583.7 337l-0.4 0.4M522.5 352.5l-0.2 0.1M565.4 341.5l-0.9 0.5M528.2 339.7l-1.1 0.4M567.8 341.3l0.2 0.1M524.3 323l-0.4 1.4" stroke="#c8d5ef" stroke-width="2.0"/><path d="M557.6 348.6l1.2 0.5M523.2 377.2l-0.4 1.4M518.3 370.5l0.9 0.8M560.9 331.1l0.5 0.3M560.7 336.6l-0.3 0.2M555.5 365.2l-0.1 0.9M573.9 382.6l-0.9 0.9M515.7 351.5l-0.4 0.3M533.4 360.9l0 0M543.8 364.4l0 0.1M578.9 342.1l0.2 0.8M543.2 350.3l-0.1 0.5M522.7 353.7l0 0M560 352.1l-0 0M519.2 353.9l1.5 0.5M501.6 364.7l-0.4 0.2M570.3 340.2l-0 0.9M539.2 339.7l-0 0.1M570.6 365.9l1 0.8M546 346.1l0.1 0M535.7 381l-0.8 1.3M561.6 340.1l1.1 0.8M548.5 322.9l-0.6 0.2M540.6 355.5l0.6 1.2M553.1 337.3l0 0M564.2 360.1l-0.4 0.1M503.3 341.2l0.3 1M534.1 328.8l-1.5 0.4M532.1 342l-0.6 1.1M522.1 335.8l-0.3 0.5M569.5 325.8l0.1 0.3M517.8 347.8l-0.4 0.1M547 326.4l-0.1 0.9M530.5 322.3l0.4 1.1M526.9 322.9l-0.3 0.1M540.7 357.7l-0.2 0M561.3 351.5l-0.2 0.2M538.7 377.4l-0.6 0.5M561.1 348l0.2 0.1M503 383.2l-1.1 1M519.4 375.5l0.9 0.1M563.2 370.9l0.1 0.2M562.4 341.3l1.1 0.7M583.6 379.9l-0.1 0.6M527.6 357.8l0.2 1.1M553.1 351.4l1.1 1M571 324.4l0.7 1.2M516.6 359.1l-0.3 1.4" stroke="#a2b9e4" stroke-width="1.1"/><path d="M539.6 356.1l1.5 0M557.8 355.3l-0 1.3M546 332.5l0 0.1M547.2 331.4l-0.1 1.4M577 323.9l-0.7 1M553.9 339.5l0.5 0.2M575.2 366.5l0.3 0.3M528.9 372.6l0.3 0.2M539.4 350.2l1 0.5M516.8 379.9l0.9 0.1M511.6 337.5l-0.1 1.6M543.1 380.2l-0.2 1.3M541.1 348.1l0.9 1M501.8 341.2l0.1 0.3M556.1 349.9l-0.2 0M570.5 331.9l-1 1.1M535 372.6l-1 1M512 329.7l0.7 0.4M534.3 339.1l-0.3 1.2M571.6 356.7l-1.5 0.5M552.8 379.8l-0.2 0.5M583.3 368.4l-0.6 1.4M502.2 352.6l-0.1 0.1M503.6 376.7l0.7 0.8M560.1 352.1l-1.4 0.5M566.9 356l-1.2 0.3M508.5 337.1l0.8 1.2M533.6 350.8l-0.1 0.5M510.2 345l-0.8 0.2M536.2 340.5l1.5 0.6M519.5 360.4l0.2 0.2M506.9 328.7l-0.8 1M570.3 334.8l0.2 0.8M541.3 336l0.4 1.2M523.7 343.7l0.8 0.2M583.2 365.4l-1.3 0.3M556.5 356.1l0.9 0.3M502.5 336.2l-1.2 0.6M537.1 347.3l0.4 0.2M551.1 326.6l-0.2 0M543.5 334.2l-1.3 0.6M515 363.8l-0.9 0.2M554.7 363l0.2 0.5M548.1 375.1l-0.8 0M501.8 350.5l0.3 0.5M563.7 326.2l-0.4 0.1M556.1 332.9l-0.2 0.2M515.3 352.4l0.1 0.2M554.4 367.3l0.2 1.6M508 346.4l-0.3 1M506.1 379.1l0.1 0.4M524.2 352.5l0.2 0.6M553.9 330.5l1 0.8M539.7 348.4l0.8 0.6M521.7 373.2l-0.3 1.1M545.6 344.1l-0 0" stroke="#a2b9e4" stroke-width="1.4"/><path d="M535.8 358.6l-0.7 1.4M571 323.5l-1.1 0.2M521 354.7l0.3 0.5M554.4 349.1l1.3 0.4M566.2 353.3l1.2 1M534.5 363l-1 0.6M535.5 357.8l-0.7 0.7M543.6 330.3l1.2 0.6M565.5 360.6l0.3 0.4M583.2 382.7l-0.8 0.4M529.7 329.3l1.1 0.6M551.4 322.2l-0.5 0.9M538.9 379.5l-0.1 0.1M528.9 331.1l0.1 1.5M534.4 328.1l0.1 1.4M532.7 332.9l-0.6 1.2M533.4 370.5l-1.1 0.6M564.9 337.8l-0.6 0.2M517.5 327.2l-0.6 0.7M548.8 331.9l-1 0.1M529.5 372.4l0.2 1.3M514.4 367.6l-0.6 0.4M544.4 351.6l-1 0.6M511 366.3l-0.3 0.7M537.6 365.1l-0.9 1.1M522.7 369.3l1.2 0.8M574 342.3l-0.1 0.1M533.5 331.7l1.1 1.1M521.1 348.4l-0.7 0.8M557.9 329.9l-0.3 0.3M516.2 346.8l0 0.3M506.1 355.7l0.1 1.2M511 339.8l-0.7 0.6M533.2 341.2l-0.2 0.6M508.7 339.1l0.6 1.5M535.6 359.8l-0.2 0.4M502.6 335.2l-0.3 0.1M556.9 327.7l-1.3 0.9M520.8 323.9l0 0.1M515.2 353.3l-1.5 0.3M551.5 328.9l1.2 0.5M553.7 326.7l1.3 0M552.6 332l-0 0.4M541 346.1l-1.5 0M526.6 344.3l0.8 0.4M512.4 375.6l0 0.5M540.9 347.1l0.8 0.6M545.4 361.8l-0.7 1.3M509.8 373.1l-0.5 0.6M530.4 349.8l0 1.3M547.4 325.1l1.1 1M581.3 344.9l-0.1 0.5M526.8 369.2l-0.3 1.3M517.6 332.9l-0.9 1" stroke="#a2b9e4" stroke-width="1.7"/><path d="M543.1 327.4l0.3 0.7M524.4 329.5l0.7 0.7M578.4 344.8l0.8 0.1M505.4 369.9l0.2 0.8M567.6 339.9l-1 0.8M515.6 356.1l0.2 0.5M517.5 361.6l0.7 1M518.9 338l0.2 0.8M537.5 371.5l0.4 0.5M574.6 331.9l0.3 0.4M546.5 347.2l0.6 1.1M562.2 335.3l-0.3 0.5M580 370.3l0.3 1.6M539.6 361.1l-0.1 0.6M569.8 341.2l-1.2 0.2M523.9 373.5l1.1 0.7M521.9 332l-1.2 0.1M521.6 373.7l-1.2 0.2M509 325.6l-0 0M526.7 334.3l0.7 0.4M513.5 340l-0.3 0.6M524.8 361.7l-0.3 1.1M555.4 348l0 0.1M548.3 360.3l-0.7 1.2M521.6 383.4l0.2 0.6M573.6 350.5l0.3 1.3M506 329.1l0 0M560.9 335.9l0.7 0.4M578.8 345.3l0.3 1.1M516.1 373l1.1 0.7M517.7 350.6l0.6 0.6M503 375.9l-0.6 0.3M528.4 324.1l0.1 0.1M528.8 356.2l-0.1 0.2M530.7 345l0.4 0.5M524.2 323.8l-0.6 0.7M535.9 367.6l1.2 1M509.8 331.4l1.1 0.3M567.6 360.3l-0 0M505.8 355.3l-0.9 0.9M507.7 343.8l-0.3 0.7M538.3 337.6l0.4 0.1M538.6 362l-0.6 0.2M565.3 355.5l0.1 0.2M532.2 344.1l0.1 0.1M517.5 350.9l0 0M527.6 361.5l-0 0M567.1 340.7l0.5 0.2M561.3 333l0.5 0.2M575.6 333.5l-0.6 0.2M547.4 347.9l-0 0.2M513.9 360.9l0.3 1.2M514.7 352l0.8 0.3M557 335.9l-1 0.1M525.2 359.8l-1.2 0.5M549.3 326.7l-0.7 0.8M562 343.7l0.2 0.6M567.1 350.2l-0 1.1M531 325.2l-0.1 0.1M532.2 355.7l0.3 1" stroke="#a2b9e4" stroke-width="2.0"/><path d="M537.6 339.4l-0.5 1.1M521 355.9l-0.1 0M526 335l-0.7 0.5M507 332.3l0.2 0.1M552.1 372.5l-0.4 0.7M564.7 358.2l-1 0.6M551.3 342.2l-0.7 0M564.8 358l0.1 0.1M572.8 327.1l0 0.1M534.6 374.7l0.9 0.7M552.8 356.9l-0.9 1M535 338.1l0.1 0.3M546.3 362.4l-0 0.2M564.8 333.7l0.4 0.7M551.8 351.5l0.6 0.3M505.8 370.2l1.2 0.2M515.4 345.8l-0.4 1.5M539.8 345.7l1 0M563.3 369.1l0.4 0.3M540.2 342.4l-0.4 1.4M507.1 339.4l-0.7 0.2M578.6 343.6l-1.2 0.4M506.2 353.5l-0.4 0.2M558.3 349l0.4 0.6M526.6 334.1l-0.8 1.2M534.9 383l-0.6 1.2M514.3 371.8l-0.7 1.2M558 349.6l0.7 0.5M518 367.8l0.3 0.7M546 366.6l-0.5 0.8M532.7 363.4l-0.8 1" stroke="#7896d4" stroke-width="1.1"/><path d="M520.7 344.7l-0 0M514.7 350.9l-0.6 0.5M572.2 356.5l-0.2 0.2M578.3 344.6l1.1 0M532.6 352.5l0.5 1.2M544.9 338l0.2 0.1M533.6 334.6l0.9 0.5M514.3 367.1l-0.5 1.1M531.4 343.1l0.9 0M556.6 358.7l-0.1 0.4M530.3 334.8l-0.4 0.4M542.8 352.7l0.1 0.1M544.7 325.1l0.3 0M528.2 378.6l-0.6 0.4M565 382.4l-0 0.1M517 381.8l-0 0.2M526.9 324.8l0.9 0.6M526 366.3l0.1 1M580.9 361.5l1.5 0.1M554.5 368.7l-0.3 0M511.6 324.8l-0 0M565.8 369.9l-0.1 0.1M513.2 358.7l-0.6 0.5M515.3 354.9l-0.8 0.5M528.5 368l1.2 0M561.5 331.2l-0 0M527.4 368.2l0.6 1.4M538.4 383.7l0.6 0.5" stroke="#7896d4" stroke-width="1.4"/><path d="M520.2 352l0.2 0.5M550.7 326.6l-0.4 0.9M545.8 354.9l-0.2 1M537.1 329.5l1.1 0.7M558.8 363.2l-0.2 1.4M571.3 360.2l-0.5 1.5M530 376.3l0.3 0.6M563.2 351.5l-0.7 0.2M553.2 365.1l1 0.3M556.8 325.3l0.9 0.4M528.9 338l0.4 0.1M575.8 381.3l0.7 0.1M553.5 323l-0.5 0M567.3 331.4l-0.2 1.1M534 371.6l1.1 0.1M511 322.8l0.8 1.1M523.1 365.7l-0 0.2M535.1 372.3l-0 0.6M563.7 337.8l-1.1 0.3M557.9 335.8l0.6 0.5M563.7 325.2l0 0.1M582.2 370.9l0.5 0.7M543.3 361l0.5 0M566.4 335.1l-1.3 0.7M518.9 362.8l0.4 0.1M568.6 326.7l1.1 0.6M538.8 338.8l0.8 1.2M550.8 355l1.1 0.5M561.5 377.8l1.5 0.3M542.5 373l1 0.7M533.9 358.2l0.4 1.4" stroke="#7896d4" stroke-width="1.7"/><path d="M529.1 362.4l-0 0.1M572.1 331l0 0.1M571.6 368l-0.6 0.8M542.5 355.4l1.1 0.3M541.4 374.5l-1.4 0.2M569.6 323.6l-1.4 0.1M526.6 331.4l-0.4 1.1M527.2 335.9l-0.5 1.2M561.4 351l0.8 0.9M509.4 336.8l0.2 0.1M540.5 369.1l-0.8 0.4M529 365.7l0.5 0.1M581.6 361.2l-0.4 0.1M503.1 371.7l-0.5 0.6M581.6 379.5l-0.7 1M567.1 336.9l0.1 0.1M572.9 343.7l0.1 0M582.8 334.1l0.3 0.5M567 353.5l-0.4 1.4M567.5 350.3l0.6 1.5M583.3 383.5l-1.1 1.2M536.4 359.9l-1.5 0.2M504.2 355.1l1 1.2M544.9 368.5l0.9 0.2M550.2 337.7l0.6 0.5M529.6 382l0.9 1M526.7 375.3l0.2 0.1" stroke="#7896d4" stroke-width="2.0"/></g><g fill="none" stroke-linecap="round" stroke-opacity="0.85" filter="url(#blr)"><path d="M537.1 358.7h0.1" stroke="#7d3010" stroke-width="2.2"/><path d="M556 338h0.5" stroke="#7d3010" stroke-width="2.3"/><path d="M546 340.6h0.1" stroke="#7d3010" stroke-width="2.4"/></g>
</g>
<g clip-path="url(#c02)">
<rect x="589.8" y="322.2" width="82.1" height="61.8" fill="#e1e9f6"/><g fill="#f7f9fd" fill-opacity="0.75" filter="url(#blw)"><ellipse cx="611.1" cy="364.5" rx="12.8" ry="9.9"/><ellipse cx="605" cy="336.4" rx="7.5" ry="5.6"/><ellipse cx="650.1" cy="330.2" rx="11.3" ry="5.5"/><ellipse cx="614" cy="348.9" rx="14.4" ry="8.3"/><ellipse cx="591" cy="339.2" rx="7.5" ry="10.1"/></g><g fill="none" stroke-linecap="round" filter="url(#blr)"><path d="M634.4 324.6l0.8 0.3M668.8 340.6l0.3 0M645.2 365.5l-0.5 0M664.2 352l0.5 0.8M626.7 369.2l-0.8 0M668.3 356.5l0.2 0.1M635.1 372.7l0.2 0.6M605.5 376.5l-0.5 0.5M610.2 375.8l0.4 0.3M598.5 335l0.7 1.4M636.9 350.9l-1.5 0.2M670 371.2l0.6 0.3M661.4 378.8l0.4 0.3M635.9 342.4l-0 0.2M604 372.8l-0.9 1.2M629.4 365.8l0.4 0.2M599.9 359.5l-0.8 0.4M647.2 382.7l0.1 0M667.5 350.1l0.5 1.4M631.3 372.9l-0.3 1.1M651.6 342.9l0.4 0.6M650.7 356.2l-1.1 0.6M661.7 370.3l0.1 0.2M662.2 348l0.1 0.3M640.3 368l-0.5 0.4M615.9 373.7l-0.2 1.4M646.2 371.9l-1 1.2M617.4 378.1l-0.6 0.8M628.6 341.9l-0 0.7M641.2 326.1l0.2 0.8M613.2 361.7l0.7 1.1M662.9 367.2l-0.8 0.5M652.7 345.4l1.2 0.1M609.8 374.5l-0.1 0.1M619.1 331.3l-0.4 0.3M648.8 324l0.5 1.3M601.1 348l0.3 0M635 357.5l-1.2 0.3M606.7 383.1l0.9 1.3M633.3 331.1l-0.8 0.8M666.5 332l-0.5 1.3M596.7 374.1l0.4 1.2M646.7 378.5l-1.1 0.8M595.4 367.9l0.8 0.2M666.9 380.4l0.3 0.1M611.6 373.2l-0.3 0.2M629.9 327.5l0.7 0.5M649 344.7l-0.5 0.8M617.7 380.4l0.9 0.5M609.4 338l0.9 0M630.1 346.9l-0.4 0.3M664 354.8l-1.3 0.5M605 381.3l0.3 0.3M623.7 367.2l1.4 0.1M620.9 364.9l0.7 0.6M640.1 378.3l-0.3 0.1M610.4 373l0.4 0.1M633.6 340.4l-0.1 0.4M671.4 350l-0.6 0.8M659.1 381.2l-0.3 0.5M601.1 367l0.4 1.4M651.7 341.8l-1.3 0.6M641.6 380.2l-0.2 0.7M595.9 369.6l-0.3 0.5M614.5 369.9l-0.2 0.5M631.6 366.1l0.3 0.9M611.2 384l0.9 0.7M630.4 346.4l-0.2 0.4M605.3 366.2l1.5 0.3M609.2 359.8l-0.1 0.2" stroke="#c8d5ef" stroke-width="1.1"/><path d="M600.9 364l0.1 0.3M631 378.5l-0.1 0.4M635.3 342.8l0.2 0M609.1 353.7l-1.3 0.8M633.1 339.5l0.4 1M655.3 372.8l-0.5 1M664.7 346.9l-0.4 1.3M601.5 361.1l-0.3 1.3M613.2 372.4l-0 0.2M624.4 346.8l-0.3 0.3M624.8 374.2l0.8 1.4M631.7 380.8l-0 0M660.4 347.7l-0.1 1.1M606.8 353.8l1.2 0.5M598 336.2l-1.2 1.1M645.6 332l-0.5 1.2M649.4 337.1l1 0M594.7 374.4l-0.4 0M607.1 350.7l0.3 1.2M592 377.7l-0.4 0.7M642.2 368l-0.2 0.8M670.1 351.4l-0 0.1M643.9 366.6l-0.6 0.4M641.5 377.5l-1.4 0.6M652.9 335.2l-0.1 0.2M669.7 354l-0.3 0.2M663.7 328.8l-0.3 1.5M592.2 327.4l0 0.6M653.9 379.4l1.4 0M654.6 381.6l0 0.1M665.7 332.8l0 0.1M670.6 358.6l-0 0.8M670.1 352.9l0.5 0.3M645.5 370.2l-0 0.1M593.7 358.8l0.6 0.5M652.5 324.4l0.4 0.1M594.4 341.3l0.7 0.6M652.8 334.9l0.7 0.3M633.2 352.3l0 0.4M638.1 355.7l0.1 0.7M592 326.2l-0.8 1.1M590.4 375.1l1.4 0.3M658.5 367.2l-0.1 1.6M622.7 339l0 0.2M593.2 328.2l1 0.4M599.2 366.5l-0.1 1.3M663.7 356.7l0.6 0M643.5 342.2l-0.1 0.6M591.8 326.9l-0 0M602.8 328.8l-0.1 0.3M606.9 361.3l0.3 0.1M663.7 353.4l1 1.1M660.5 333.1l-0.2 0.7M665.8 378.4l0.1 0.1M602.4 335.2l0 0M611.9 356.3l0.7 0.3M638.4 360.3l-0.5 0.6M593.9 332.4l-0.7 0.6M636 335.9l0.3 0.2M629.4 329.9l-0 0.4M602.8 371.9l0.5 0.1M657.5 349.1l0.4 0.1M607.1 344l-0 0.9M646.3 352.4l-0.1 0.2M662.5 349.6l0 0.1M659.6 365.9l1 0.8" stroke="#c8d5ef" stroke-width="1.4"/><path d="M640.5 358.1l0.2 0.2M619 337.3l0.4 0.6M626.8 322.4l-0.4 0M651.4 336.1l0.8 0M596.4 335.5l-0.1 1.3M611.3 372l-0.3 0.3M601.3 343.7l-0.4 0.4M606.5 351.9l0 1.2M626 365l0.7 0.2M645.9 348.3l-0.6 1.1M610.1 358.8l0.2 1.5M657.4 353l-1.1 0.5M614.1 336.6l-1.2 0.4M669.3 366.4l-0.5 0.9M640.5 344.4l-0.2 0.3M639.1 354.9l1.3 0.5M645.7 333.3l0.7 0.6M660.7 371l-0.7 0M649.3 344.2l0 0M600.8 336.2l0.3 0.6M668.4 374.2l-0 0.3M646.1 347.9l-0.9 0M656.9 382.2l0.4 0.3M664.4 375.7l-0.2 0.1M600.5 326.3l-0.1 0.1M656.1 364.2l0.6 0.3M652 365.8l0.4 0.6M660.4 331.3l0.4 0.5M604.4 369.2l0.1 1.4M608.9 383.6l0.9 0.9M670.1 364.1l-0.3 0.2M591.7 362.4l-0.9 0.1M629.1 377.9l1 0.5M621.3 360l-0.5 1.3M616.9 324.6l0.6 0.1M623.9 356.7l0.8 0.3M611.3 377.9l-0.4 0.8M646.4 359.9l0.6 0.6M649.3 322.5l1.5 0.3M600.5 328.1l-0.2 0.7M614.8 378l-0.4 0.3M657.1 377.2l-0 0M666.9 344.7l0.2 0M595.6 364.2l0.1 0.6M620.5 350.2l0.1 0.2M637.3 360.4l-0.5 1.4M591.7 359.9l-0.3 0.5M669.1 364.5l0.1 0.7M619.4 367.3l-1.3 0M600 337.3l-0.8 1M646.7 327.9l-1.4 0.4M650.6 340.3l-0.2 0.8M613 322.3l-0.1 0.1M644.3 323.5l0.1 1.5M626.2 369.9l0.2 0.5M608.4 337.7l-0.8 1.4M622.9 325.1l-0.1 0.2M653.8 348l-0.6 0.5M637.8 362.3l0.2 1.6M652.8 366.5l1.1 0.8M609.9 330.9l-0 0.9M611.5 376.8l1.2 0.3M609.7 331.3l-0.1 0.1M665.7 327l-0.9 0" stroke="#c8d5ef" stroke-width="1.7"/><path d="M651.8 357.1l-0.5 0.9M618.2 359l-0.6 0.6M662.6 365.6l-0.4 0.5M654.4 356.5l-0.2 1M632.8 339l-0.3 0M668.1 381.1l0.6 0.3M604.4 369.8l1.2 0.6M635.6 356.5l0 0.1M653.1 348.9l-0.2 0.3M609.1 363.7l-0.3 1.5M599.8 360.3l0 0M635 367.4l0.4 0.6M648.5 323l0.4 1.1M661 347.1l-0 0M664.9 353.5l0.3 1.5M624.2 355.1l-0 0.4M648.2 342.3l-0.6 0.9M653.8 378.6l-1 1.2M598.7 328l0.4 0.6M631 378.8l0.7 0.8M606.9 363.2l0.5 0.2M604 366.8l-0.6 0.4M629.1 356.3l0.9 0M608.2 350.4l-0.7 0.4M600.4 360.3l0.3 0.9M611.9 350.5l-0.4 0.5M636.5 376.8l0.3 0.1M658.9 374.1l0.3 0.1M623.1 332.7l-0 0M617.3 363.7l0.1 0.3M630.1 368.1l0 0.2M661.2 355.8l0.5 1.1M645.5 330.1l-1 1.2M664.4 355.6l-0.8 0.1M621.3 335.8l1.1 0.3M641.8 357.7l0.1 0.7M663.9 370.8l0.6 1.3M663.5 340.1l0.5 0.9M655.6 367.6l0.3 0.3M647 353.3l-0 0M664.4 363.6l-0.1 0.3M668.2 355.2l0.1 0.5M634.8 377.6l-1.5 0M629.2 376.5l0.5 0.7M625.5 377.6l-0.1 0.6M640.6 374.4l0.7 0.3M671.3 329.3l-0.3 0.2M607.7 362.3l-0.4 0.2M596.5 379.9l0.8 0.2M625.8 367.9l0.7 1.4M671.4 382.6l0.8 1.2M665.3 377.5l1.2 0.3M661.8 381.6l0 0.3M635.2 356l-0.5 0.8M601.7 383.7l0.5 0.4M601.6 368.1l0.2 0.3M659.5 372l1.5 0.5M648.5 372.4l-1.5 0.3M667.5 370.8l-0.1 1.2M593 371.4l0.1 0.3M658.1 356.2l0.7 0.3M607.1 324.9l0 0M669.7 356.1l-0.1 0.4M626.8 375.9l-0 0.2M603.3 366.4l1.2 0.5" stroke="#c8d5ef" stroke-width="2.0"/><path d="M636.2 365.4l0 0M653.6 364.3l0.3 1.1M658 364.3l0.4 0.2M649.4 359.1l-1.1 0.5M625.2 356.9l-0.6 1.1M640.6 337.4l0 0.2M636.7 357.8l0.7 1.3M621.6 362.3l0.6 1M624.2 340.6l-0.4 1.5M621.4 375.9l0.1 0.6M659.4 340.6l-0 0.1M626.7 376l-0.3 1.2M653.3 379.8l0.4 0.1M631.8 363.6l-0.3 0.5M591.7 328.8l0.2 0.2M603.2 373.5l0 1.1M656.5 380.7l0.2 0.6M636.2 363.2l-0 0M638.4 352.7l-0.6 0.6M590.5 326.7l-0.7 1M659.1 375.1l0.7 0.2M594.4 326.6l0 0.1M622.3 378.3l-1.4 0.1M635.9 332.1l0.1 0.2M617.5 369.8l-0.5 0.2M612.5 331l-1 0.4M619.7 359l-0.3 0.1M627.5 370.6l-0.3 0.2M616.7 357.3l-0.3 0.1M645.4 349.3l0.2 1.1M647.3 345l-1.4 0.8M665.7 378.6l-0.8 0.3M659 357.4l-0.4 0.5M653.4 328l0.1 0.2M634.4 383.1l0.1 0M597.1 366.7l-0.4 0.4M617 376.5l0.7 0.7M654.6 377.8l0.2 0.1M644.4 327.3l0.2 0M594.9 383.4l0.1 0.4M620.2 382.6l0.4 0.4M637.5 364.9l-0.2 0.2M629.1 374.4l1.1 0.3M608.9 329.6l-0.3 0.2M615.8 373.9l-0.4 0.1M647 351.4l-1 0.6" stroke="#a2b9e4" stroke-width="1.1"/><path d="M632.5 362.8l0.9 0.7M630.6 382.1l0.5 0M662.9 329l0.1 1.2M591.9 358.6l0.3 0.3M668.8 352.1l0 0.4M612.4 355.1l0.1 0M624.1 378.5l1.1 0.2M621.3 330.1l-0 0.2M619.1 364.9l0.2 1.5M644.1 342l-1.1 0.5M602.6 363.3l1.2 1M610 349.3l-0.1 0.4M658.9 379.9l0.3 1.5M593.8 338.3l-0.7 0.2M665.1 378.6l0.2 0.5M664.1 380.2l0.6 0.7M664.2 355.8l-0.4 0.8M598.8 358.3l-0.2 0.2M600 331.4l0.4 0.1M619.2 354.3l0 0M660.6 353.9l-0.2 0.1M606.2 372.6l0.6 0.5M601.9 346.7l0.8 1.4M660.4 371.3l0.7 0.5M621.9 370.2l-1.2 0.4M592.3 341.4l-0.1 0.9M668.1 356l1.3 0.8M658.8 356.9l0.3 0.1M615.8 354.2l-0.3 1.4M619.7 369.3l0.2 0.2M596.6 345.6l1.1 0.6M617.3 376.6l0.3 0M662 324.4l0.2 1.2M612.6 339l-0 0M617.7 368.5l0.3 0.3M595.6 346.5l1.2 0.3M668.9 366.5l0.7 1M606.7 359.9l0.1 0.7M658.2 369l-0.2 0.2M650.9 348.7l1.2 0.5M647.6 356l0.1 1.5M667.1 346.4l-0.3 1.1M630.5 372.1l0.3 0M602.5 372l0.1 0.4M651.2 346.7l0.2 1.1" stroke="#a2b9e4" stroke-width="1.4"/><path d="M620.1 331.9l0 0M594.3 356l0.5 0.7M652.5 375.2l-0.1 0.2M632.6 331l0.9 0.1M617.7 376.3l0.8 0.3M632 331.8l0.2 1.6M660.3 383.9l0.3 1.1M648.9 373.3l-0 0.1M602.4 380.6l-1 0.8M633.6 333.3l0.4 1.5M598.4 365.1l0.1 1.2M669.4 333.6l0.4 0.2M592.8 334.8l1.2 0.5M657 357.4l-0.2 0.4M659.9 322.3l0.4 0.2M651.8 327.7l0.1 0.1M630.6 349.2l0.3 1M625.2 380.7l0.5 0.5M592 350l-0 0.6M644.1 375.3l-0 0.7M631.5 371l-0.6 1.2M645.4 359.9l0.6 0.1M654.9 351.7l-0.9 0.2M636.2 366.2l0.3 0.1M612.3 377.3l1.1 0.1M659.4 326.2l0.7 0.2M667.8 371.1l0.7 0.6M629.3 371.7l-0.3 0.9M664.7 331.8l1.3 0.2M604.2 351.1l-0.6 0.4M668 348.8l0.6 1M647.9 350l0.3 0.3M636 365.3l-0.6 0.5" stroke="#a2b9e4" stroke-width="1.7"/><path d="M637.3 381.4l1.3 0.1M621.1 372.5l-0.1 0M632.6 370.5l0.3 0.4M629.1 374.2l0.1 0M636.1 361.1l0 1.2M635.6 370.6l-1.1 0.4M614 365.2l-0 0M595.4 370.4l0.7 0.5M636 325.7l-1.1 0M666.8 365.6l0.7 0.4M606 322.7l0.8 0.6M616.8 371.5l0 0M635.8 326.2l-0.2 0.1M602.7 362.6l-1.2 0.6M610.8 378.1l0 0M658.9 334.4l-1.1 0.5M612 332.3l0.5 0.3M645.5 326.7l-0.6 0.8M668 372.3l0.3 0.2M637.2 364.9l0.2 0.2M638.3 340.7l-0.4 0.2M599.1 326.9l0.9 0.4M649.6 364.3l-1 0.5M591.7 333.6l0.6 1.3M598.7 376.7l-0.2 0.6M661.9 372.9l0.6 0.6M607.2 368.3l-0.2 0.3M624.4 375.7l-0.5 0.7M632.1 336.2l-0.6 0.2M627.9 377.7l1 0.6M653.2 356.3l-0.1 0.2M638 364.8l0.3 0.1M669.5 356.3l-0.7 0.2M645.6 384l0.3 1.5M669.4 377.9l-1.2 0.5M649 331.8l1.5 0.4M614.2 378l0.7 0.8M599.9 360.5l-0.5 0.1M594.5 367.2l-0.7 0.8M665.6 356.2l-0.3 1.3M646.7 334.4l0.1 0.6M606.3 369.7l0.1 0M627.1 364.9l0.1 0.8M594.6 363.8l0.1 0.7M659.6 382.4l-1.5 0.3M610.5 359.5l0.8 0.2M661.1 346.1l-0.7 0.1M594.8 366.5l-0.9 1.2M649.5 348.4l0.3 0.1M622.5 361l-0.2 0.6M610.6 325.6l-0.7 0.4M668.5 382.1l-0.7 0.4M658.6 348.6l0.3 0.8M599.5 379.3l-0.1 0.1M608.6 360.7l1.2 0.4M623.3 370.3l-0.7 0.7M600.1 337.4l1.3 0.3M622.2 383.4l1 0.9M652.9 371.2l-0.9 1.2" stroke="#a2b9e4" stroke-width="2.0"/><path d="M664.7 364.3l-0.4 0.3M596.2 351.8l0.3 1.6M663.5 373.6l-0.3 1.4M599.2 376.8l0.4 0.2M669.4 382.2l-0.6 0.1M609.6 374.8l0.3 0.1M623.5 332.5l-0.6 1.1M634.5 361.5l0.3 0.9M635 330.8l0.6 0.7M617.8 356.8l-0.1 0M642.4 342.8l-0.5 0.2M631.3 369l0 0.4M639.9 354.4l-0.2 0.2M626.1 330.3l-0.7 0M608.1 373.7l0.2 0.4M648.5 358.8l0.1 0M651.4 352l1.4 0.7M603.1 330.1l-0.8 0.4M670.8 366.6l0 0M619.4 350l-0 0.4M621.7 364.9l1.1 0.3M671.1 379.6l-0.9 0.1M659.3 338.4l-0.1 0.1M594.4 347.9l-1.3 0.3M638 383.9l0.2 1.4M660.4 325.4l0.6 0.5M670.5 354.4l-0.1 0.3M622.2 323.8l0.1 0.1" stroke="#7896d4" stroke-width="1.1"/><path d="M623.7 375.9l-0.4 1M600.4 371.9l-1.4 0.5M662.5 352.9l-1.1 0.3M639.5 378.5l0.5 0.5M653.1 373l-1.1 1.1M626.9 341.8l-0.7 0.7M671.5 362.3l0.7 1.2M603.1 325.2l-0.8 0.1M649 336.2l-0.2 0.1M614.3 357.2l-0.3 0.8M634.4 368.1l-0.8 0.3M654.4 366.5l-0 0M663.6 371.7l1.4 0.6M659.2 373l-0.7 0.5M591.6 371l-0.7 1.3M663.6 374.6l0.5 1.2M639.4 370.5l0.2 0.1M635.4 350.1l0.5 0.1M642.6 331.8l-0 0M644.8 323.1l-0.7 0.9M642.2 343.1l0 0M650.3 348l-0.7 0.4M650.3 350.1l0.9 0.2M618.5 363.5l-0.1 1M593.3 342.3l0 0M657 349.9l0.1 0M605.8 338.9l-0.8 0.2" stroke="#7896d4" stroke-width="1.4"/><path d="M627.6 326.4l0 0.3M597.8 362.5l-0.2 0M660.8 377.6l0 0M606.5 369.1l-0.1 0.1M657 355.4l-0.7 0.1M668.7 363.5l0.1 0M632.7 370.1l-1.3 0.8M613.5 367.4l-0 0M590.2 372.2l-0.4 0.2M629.3 348l0.4 0.4M644.9 374.4l0.5 0.5M627.9 336.1l0.6 0.6M662.9 347.7l1.2 0.5M633.7 334.7l-0.2 0.1M612.2 323.6l-1.2 0.3M638 357.9l-0.1 0.4M607.9 325.5l-0.2 0.5M628.6 359.4l0.3 1M626.7 371.1l1.5 0.6M626.8 323.4l0.2 0.1M635.8 345.3l-0.3 0.5M661.1 371.4l0.6 0.7M666.7 341.6l-0.1 0M671.3 361.6l-0.3 0.1M615.3 357.9l0.6 0.1" stroke="#7896d4" stroke-width="1.7"/><path d="M620.3 338.4l-0.2 0.9M666.4 324.9l0.9 0.5M607.3 366.6l0.1 0.3M624.7 370.1l1.2 0.7M600.6 381.5l-0 0.1M598.3 366.6l-0.3 0.6M662.3 357.2l-0.1 0M670.2 336.6l-0.1 0M621.7 363.8l-0.8 0.1M599.9 364l1.3 0.2M613.2 339.4l-0.6 0.7M660.9 346.1l-0.8 0.4M624.8 323.4l-1.1 0.8M617.6 375l1.3 0.8M628.7 337l-0.2 0.4M646.2 383.3l-0.3 0.8M670.2 378.7l-0.6 0.3M650.7 369.9l0.2 1M669.2 341.9l0.5 0M639 375.1l-0.4 0.1M602.7 383.5l-0.5 0.2M601.2 336.4l-0.1 0.1M590.6 356.6l-0.2 0.9M662.7 344.5l1.2 0.5M604.5 348.7l0.6 0.3M650.2 381l-1 0.3" stroke="#7896d4" stroke-width="2.0"/></g><g fill="none" stroke-linecap="round" stroke-opacity="0.85" filter="url(#blr)"><path d="M640.9 376.4h0" stroke="#7d2a10" stroke-width="1.1"/><path d="M669.7 372.7h0.4" stroke="#7d2a10" stroke-width="1.2"/><path d="M640.1 359.3h0.2M634.2 356.4h0.1" stroke="#7d2a10" stroke-width="1.3"/><path d="M637.3 329.9h0.4" stroke="#7d2a10" stroke-width="1.4"/><path d="M654.1 327h0.3M604.6 324.8h0.4" stroke="#7d2a10" stroke-width="1.5"/><path d="M617.1 339.2h0.3" stroke="#7d2a10" stroke-width="1.6"/><path d="M615.9 357.9h0.6M639.2 357.9h0.5" stroke="#7d2a10" stroke-width="1.7"/><path d="M661.4 328.4h0.2" stroke="#7d2a10" stroke-width="1.9"/><path d="M603.3 358h0.4M625.3 362h0.3" stroke="#7d2a10" stroke-width="2.0"/><path d="M608.1 362.6h0.5" stroke="#7d2a10" stroke-width="2.2"/><path d="M606.4 347.3h0.1" stroke="#7d2a10" stroke-width="2.3"/><path d="M604.3 379.7h0.4" stroke="#7d2a10" stroke-width="2.4"/></g>
</g>
<g clip-path="url(#c10)">
<rect x="413.1" y="389.2" width="82.4" height="61.2" fill="#e1e9f6"/><g fill="#f7f9fd" fill-opacity="0.75" filter="url(#blw)"><ellipse cx="421.9" cy="432.2" rx="12.5" ry="10.6"/><ellipse cx="435.4" cy="404.9" rx="13.3" ry="8.6"/><ellipse cx="438.1" cy="431.1" rx="10" ry="9.4"/><ellipse cx="422.9" cy="402.9" rx="15" ry="6.5"/><ellipse cx="434.6" cy="438.4" rx="12.3" ry="5"/></g><g fill="none" stroke-linecap="round" filter="url(#blr)"><path d="M421.5 439.3l0.1 0.2M434.2 412.9l0.6 0.7M414.7 394.2l-0.7 0.5M472.8 389.7l0.1 0.6M474.5 394.7l-0 0.2M471 446.4l-0.3 0M483.2 396.7l0 0.9M494.1 424.5l0.2 0.2M466.7 396.3l0.2 0M479.2 389.3l0.6 1.2M430.5 405.8l1.1 0.1M433.5 399.1l0.1 1M457.1 436.1l-0.3 0.6M427.8 399.6l-0.7 0.6M442.9 406.3l-0.2 0.1M453.3 391.6l-0.4 1.2M448.9 412.4l-0 0.3M458.8 442.9l-1.3 0.9M474.8 426l-0.9 0.4M485.9 432.6l-0 0.6M440.8 412.7l-0 0M425.7 396.7l0.4 0.9M465.6 412.8l1 0.5M463.3 395.3l0.7 0.7M418.1 430l0.1 0.3M417.5 397.8l-0.9 0.1M453.3 427.6l-0.8 0.4M457.3 438.9l-1.1 0.1M413.7 448.5l-1.4 0.3M444.1 402.7l0 0.2M443.6 443.2l-0.4 1.5M415.9 395l0.2 0.1M443.5 407.5l-0.3 0.4M452.6 434.2l1 1M451.2 436.1l0.2 0.6M456 418.3l0.1 0.8M453.1 394.4l-0.4 0.5M424.2 407.6l0.5 0.5M415.5 394.1l0.6 0.5M462.5 405.1l-0.4 1.4M449.9 434.2l-1.3 0.8M479 392.1l-0.4 0M462.3 393.8l0.5 1.2M465.5 408.1l0.8 1.1M483.7 404.5l0 1.6M429 426.2l-0.3 0.3M467.7 438.2l-0.2 0.1M415.1 446.8l-0.3 0.2M480.4 399.5l0.1 1.5M430.5 400.9l-0.2 0.1M448.6 429.7l0 0M477.5 395.1l-0.9 1.1M491.2 424.7l0.4 0.4M444.7 417.9l-0.4 0.7M420.3 395.3l-0.2 0.3M427.2 425.2l1.3 0.2M493.9 424.3l-0.8 0.4M440.3 390.7l0.3 1.5" stroke="#c8d5ef" stroke-width="1.1"/><path d="M490.2 411.1l1.2 0M415.1 420.2l0.8 1.2M450.3 390.1l0.4 0.8M467 404.8l0.2 0.2M491 416.8l-0.4 0.6M417.6 418l-0.9 0.4M448.1 422.7l0 0M458.2 418.5l0.2 1.4M446 416.8l-0.7 0.4M454.7 436.6l1.5 0.5M461.2 429l-1 0.6M416.1 434.2l-0.9 0.6M480.3 399l-0.1 0.4M443.1 443.5l0.1 0.8M417.3 429.5l-0.3 1M459.8 423.1l0.2 0.6M434.2 395.1l-0 0M452.4 433.3l-0.1 0.7M419.6 397.5l0.1 0.8M452.5 434.9l-0.2 0.3M476.8 406.4l1.2 0.4M469.9 446.3l0.2 0.8M487.3 417.3l-0.9 1M434 400.6l-0.5 0.1M437.4 402.8l-0.8 1M421.9 405.3l-1.2 0.7M449 445.8l0.1 0.3M433 392.9l-0.4 0.2M428.8 418.1l0.5 0.4M444.2 446.7l1.2 0.7M494.3 413l-0.3 1.5M493.3 390.6l-1 1.2M455.5 412.1l-0.3 0.1M488.3 419.5l-1.2 1M478.5 408.1l-1 0.6M479.6 414.3l-0.4 0.9M492.4 405.5l1 0.3M452 427.7l-0.7 0.6M471.4 442.9l-0 0.1M473.2 416.1l-0.1 1.1M463 396.7l1.1 0.8M416.7 409.5l0.3 1.4M469.5 405.9l0.5 0.5M434.6 416.2l0.8 0.6M469.2 404.5l0.7 0.1M424.7 415.7l-0.4 0.2M428.9 432.2l-0.4 0.6M428.4 406.9l-0.1 0M468.7 414.1l-1 0.1M441.1 410.1l-0 0.1M423.2 406l0.9 0.4M429.3 411.3l-0.2 0.1M417.9 411.9l-0.7 0.6M459.8 430l-0.4 0.9M481.1 391l-0.2 0.4M442.2 430.4l-0.1 0.7M426.1 413.4l-0.1 1.6M479.6 389.9l-0.2 0.8M439.7 405.6l-0.2 0.8M457 415l-1 0.1M472.3 407.7l0.1 0M466.4 396.1l-0 0.5M482.9 394.9l-0.1 1.3M492.9 400.1l1.5 0.3M450.3 446.3l-0.2 0.3" stroke="#c8d5ef" stroke-width="1.4"/><path d="M433.7 419.8l-0.3 0.3M451.7 447.9l-0.1 0.1M417.3 428.7l-0.1 0M441.6 446.5l-0.1 1.5M417 392.6l0.4 0.9M457.7 431.8l-0.2 0.3M433 409.6l1.3 0M438.4 396.8l0.9 1.3M474.7 412.9l-0.2 0.1M428.9 425.7l0.5 0.1M423.3 444.5l-1 0.3M465.6 395.9l0.1 0.2M438.4 430.4l-0 0M471.7 438.8l1.2 0.4M430.3 399.5l0.2 0M457.9 393l0.3 0.8M431 421.3l-0 1.2M468.4 403l0.3 0.3M469.6 392.8l-1.1 0.3M447.5 392.7l0.4 0.2M459.3 436.3l0.2 0.9M480.1 406.8l0.3 0.6M451.8 449.1l-0.1 0.1M474.9 441.1l-0.6 0.2M457.4 404.3l-0.3 0.1M415.8 425.4l1.4 0.1M458.2 427.4l-0.4 0.6M458.1 429.4l-0.7 0.7M428.2 424.2l-0.6 0.1M413.4 392.4l0.5 0.3M445.4 427.7l-0.2 0.1M413.9 421.6l-1.5 0.5M457.5 394.1l0.6 0.8M440.5 407.9l0.1 0.1M495.1 440.2l-1 0.3M468.4 406.8l0.2 0.2M480.8 432.7l1.1 0.1M474.4 411.2l-0.9 0.3M456.3 402l-0.1 0.8M464.5 401.2l0.9 1.1M464.6 438.9l-0.9 0M443.2 391.3l-0.5 0.4M428.4 418.5l0.6 1.2M457.4 402l-0 0M454.8 427.4l0.4 0.3M439.2 396.6l0 0.2M454.2 428.6l-0.1 0.2M439.8 446.9l0.5 0.4M436.6 445.5l0.2 0.1M453.5 393.6l0.2 0.2M423.5 441.5l-0.9 0.1M415.8 430.6l0.5 0.4M478.4 425.9l0.1 0.1M416.6 446.1l0.1 0M485.4 416l-0.7 0.1M475 392l-1 0.6M426.2 407.7l-0.3 0M480.9 395.1l0.1 0M428.9 436.2l1 0.7M443.1 445.4l-1.1 1.2M442.1 419l-0.6 1M417.9 393.5l0.6 0.2M426.3 425l0.4 0.2M436.7 424.6l1 0.5M491.1 439.5l0.3 0M418.2 449.5l1.1 0.4M488.1 432.4l-0.4 0.9M446.3 427.5l0.2 0.9M461.3 390.8l-1.4 0.3M427.8 445.6l0.4 0.5M418.1 408.9l-1 0.4M445.5 393.9l-1 0.4" stroke="#c8d5ef" stroke-width="1.7"/><path d="M429.6 431.6l-0.2 0.1M462.7 418.1l-0.9 0.1M478.4 396.2l0.1 0.4M444.6 397.2l0.5 0.4M478.9 400.2l-1.2 0M476.8 391.9l-0.1 0.4M463.8 432.8l-0.2 1.3M473.4 397.5l0.1 0.3M475 403l-0.1 0.3M445.1 436.5l-0.6 0.1M461.3 422.3l0.9 1.1M463.6 403.5l0.5 0.1M422.6 413l-0 0.1M424.9 409.9l0.1 0.7M423.3 400.2l-0 0.2M434.2 408.4l-0.5 0.4M450.7 417.4l0.5 0M464.7 397.3l-0.4 0.4M444.1 396.9l0.7 0.1M462.2 405.6l1 0.5M461.3 409.2l-0.3 0.3M472.2 392.7l-1 0M490.6 440.3l0 0.4M439.5 423.2l0 0.3M445.9 447.3l0.2 0.8M467.7 395.6l-1 1.2M416.4 404.4l-0.3 0.9M446 409.6l0.5 0.2M431.1 406l1.3 0.2M492.2 389.4l-0.5 0.6M440.3 419.2l-0.7 1.3M425.3 413.2l-0.7 0.2M444.3 406.3l1.2 0.8M440.2 424.7l-0.1 0.1M431.9 428.9l-0.5 0.8M461.5 408.9l0.7 0.6M439.2 391l-0.1 0.2M482.3 400.3l0.3 1.4M443.6 397.5l0.3 1.4M467.6 430.6l-0.2 0.3M422.8 392.8l-0.1 0.1M460.8 428.6l-0.1 1M473.4 398.9l0.4 0.1M493.1 430.1l-0.9 0M432.4 409.1l-0.8 1.3M483.5 424.7l0.8 1M482.9 423.2l-0.2 0.7M430.7 419.4l-0.1 0M466.1 437.1l0.2 0.4M465.5 394.8l-0.6 0.9M460.6 416.6l-0.4 1.1M472.3 402.2l-0.5 0.5M453.1 398l0 0M468.9 402.6l0.6 0.4M424.4 427.6l0.4 0.8M459.1 429.8l0.3 0.5M480.8 407.3l1 1.2M471 429.3l-0.1 0.2M450.6 425.8l0.5 1" stroke="#c8d5ef" stroke-width="2.0"/><path d="M446.4 449.8l-0.4 0.8M443.4 418l0.1 1M415.7 428.6l0.4 0.1M444.9 396.1l-0.2 1.1M483 399.3l1 0.1M492.8 445.7l-0.2 1.2M461.3 443.8l-0.1 0M461.7 418.8l-0.9 1M479.4 445.5l-0.1 1.2M457 417l-0 0M459.4 389.6l1.3 0.7M468.7 449.9l0.6 0M482.2 402l-0.8 0.2M456.7 400.3l-0.3 0.5M432.7 441.9l-0.7 0.4M460.5 403.7l-0.2 0.2M470.8 400.2l-0.7 1.2M489.5 438.5l-0.3 1.1M448.1 438l-0.5 0.4M416.9 417.7l-0.3 0.6M447.7 394.1l0.4 0.4M426.4 434.6l-0.8 0.6M430.2 400.3l-0.9 0.9M464.9 411.8l0.4 0.7M421.3 432.8l1 0.1M476.9 393.1l-0.1 0.7M425.3 411.2l0.6 0.6M477.3 437.5l-0.3 0.1M431.6 404.8l1 0.6M445.9 392.8l-0.9 1M434.2 398.2l0.3 1.4M431.2 415.6l0.4 0.6M470.9 446.4l-1.5 0.1M452.8 438.9l-0.3 0.1M438.7 399.8l-1.2 0.4M449.8 442l0 0.6M468.2 433.1l1.6 0.2M451.2 398.4l-0.1 0.2M426.1 393.5l0.2 1.5M462.5 433.3l-0.9 0.9M491.5 405.5l0.7 0.4M417.4 403.5l0.7 0.5M441.6 401.2l-0.3 0.6M420 398.9l-0 0M485.3 448.8l0.9 0.9M421.3 397.2l0.4 0.2M469.8 401.2l0.4 1.3M440.4 441.7l0.7 0.8M454.6 414.6l1 0.7M421.4 415.9l-0.1 0.3M435.3 435.7l0.5 0.2M445.5 410.7l-1.2 0.8M451.2 410.3l-0.7 1.4M427.1 425.1l0.8 1.3M420.6 405.9l-0 0.1M461.9 417.7l1 1.1M421.6 437.7l0.2 1M484 434.8l-0.3 0.4M436.1 399.5l-0.5 0.4" stroke="#a2b9e4" stroke-width="1.1"/><path d="M425.2 433.6l-1.4 0.7M483.3 393.9l-0.8 0.9M426.3 394.2l-0.1 1.3M489 406.3l-0 0.1M473.6 413.5l0.5 0.4M461.6 402.5l0.3 1.4M441.7 410.8l-1.2 0.6M469.8 424.5l0.6 1.3M414.6 413.3l-0.2 0.3M442.2 445.2l0.3 0.4M444.4 391.3l-0.2 1M461.6 445.4l-0.8 0.3M450.3 396.5l-0.1 0.4M423.9 407.1l1.4 0.2M456.3 445.4l0.8 0.1M426.9 407.6l0.9 0.2M424.4 428.2l0.8 0.8M421.7 392.8l0.8 0.4M471.2 392.1l0.2 0.1M468.2 391.6l-0.1 1.2M434.4 415.9l0.9 1M494.5 437.1l-0.4 1.1M470.7 417.7l0.3 0.3M479.9 394.2l0.6 0.6M415.8 397.1l-0.4 0.1M413.3 444.2l-0.2 0.6M489.2 421.5l-0.5 0.4M425.2 433.4l-0.2 1.2M428.7 432.6l-0.1 1.1M429 393.3l-1 0.1M459.8 397.2l0.4 0.1M419.8 449.6l-0.3 0.2M472.6 429.9l0.2 0.1M481 389.9l-0.6 0M433.1 430.9l-1 0M494.1 426.7l0.1 0.4M435.2 408.8l0.2 1.1M490.4 392.4l-1 0.7M467.7 404.9l-1.4 0.7M454.3 450.4l-0.2 1.5M431.4 424.3l-0.5 1.1" stroke="#a2b9e4" stroke-width="1.4"/><path d="M442 410.7l-0 0.5M432.4 389.8l0 0M457.7 440.4l0.1 0M467.5 435.4l-0.5 0.5M427.1 419.5l0.4 0.7M467.3 426.6l1.2 0.7M418.7 408.8l-0.6 0.1M487.2 420l0.1 1.2M452.1 398.1l-0.3 1.4M413.5 436.8l-0.6 0.5M418.9 394.2l-1 0.1M467.8 408.2l0.6 0.4M484.5 435.2l0 1M434.2 392.7l-0.5 0.8M468.6 395.4l0 0.2M415.9 415.6l-0 0.3M431.5 408.3l-0.5 0.8M463.2 413.6l-0.9 0.2M431.6 390.7l0.7 0.5M452.8 399.8l0.2 0.2M419.5 408.7l0.5 0.5M450.6 399.6l1.2 0.9M478.4 398l0 1.2M461.3 402.3l0 0.2M453.6 440.4l0.3 1.2M454.6 425l0 1.1M432.1 405.5l-0.7 1.1M447.7 433.3l0.7 1.2M463.6 439.7l-0.1 0.1M443.6 420.3l-0.8 0.8M462.2 428l-0 0.4M470.4 436.9l0.3 0.9M470 410.8l-1.4 0.1M431.7 424.7l0.1 1M446.7 420.8l-0.3 0.1M418 395.6l0.3 0.6M474.1 446.7l-0.3 1.4M451.2 442.6l-0.8 0.7M491.6 424.7l-0 0M461.3 398.1l-0.1 0M445.2 391.3l-0.1 0.8M452.9 424.1l-0 0.7M469.8 390l-0.9 1M447.4 435.4l0.5 0.3M455.9 396.4l-0.1 0.3M419.5 413.1l-0.2 0.5M444.1 413.5l0.2 0.2M465.3 390.9l0.8 0.3M450.4 406.9l-0.4 0.4M471.6 403.7l-0.8 0.5M415.3 390.1l0.4 0.8M456.6 399.6l1.5 0.2M416.4 421.4l-0.3 0.8M420.1 401l-0 0.2M463 437.2l0.1 0.6M492.3 446.4l-0.7 0.6M472.2 400.2l0.4 1.3M442.7 429.3l-1.1 0.8" stroke="#a2b9e4" stroke-width="1.7"/><path d="M453.2 430.3l-0 1.3M471.1 424.2l-0 0M417.3 395.7l0.2 0.1M418.8 416l-0.3 0.3M429.2 441.2l-0.3 1.4M415.4 430.5l-0.7 0.2M418.7 393.8l0.4 1M448 410.2l-0.2 0M428.7 404.6l-0 0M425.3 392.3l-0.9 0.5M468.9 437.3l-0.4 0M471.3 424l0.3 0.2M441 441.2l0.9 1.3M466.8 429.6l-1.3 0.8M448.4 429.6l0.1 0.6M434.9 400.6l-1 0.9M416.8 414.4l0.2 0.2M428.5 406.2l0.7 0.2M446.7 394.9l1.2 0M451.7 397.4l0.3 0.9M430.4 425.4l-0.6 0.2M426 425.3l-1.2 0.5M490.1 425.7l0.4 0.5M443.1 397.7l0.1 0.3M465.1 412.7l0 0.2M486.7 389.6l-0.3 0M414.2 401.6l1.2 0.7M425.9 444.5l0.9 0.4M441.7 392.2l1.1 0M448 445.6l-0.3 0.5M452.3 402.2l0.2 0.1M452.9 432.7l-1.3 0M427.8 398l1.3 0.6M429.5 392.4l0.3 0.4M447.3 427.2l0.1 0.1M423.5 422.1l-0.5 0.3M445.4 444.5l1.2 0.3M451.2 430.7l-0 0.7M479.1 398l-0.6 1.4M416.6 402.1l0.3 0.2M490.8 403.4l-0.1 0.8M438.5 390.5l0.1 0.7M474 426.2l1.1 0.1M458.1 408.8l-0.6 0.8M453.6 438.6l-0.5 0.1M431.6 414.6l-1 0.5M456.9 439.2l0.2 0.1M421.2 412.2l0.2 0.1M443.1 408.6l-0.7 0.5M442.4 410.6l0.8 0.5M468.9 397.8l0.8 1.4M469.4 423.3l0.9 0.1M427.4 399.3l0 0M431.6 392.2l0.4 0.5M449.2 435.8l0 0M448.8 435.8l0.7 0.7" stroke="#a2b9e4" stroke-width="2.0"/><path d="M444.1 433l-1 0.6M427.7 391.6l0.5 0.1M414.4 422.3l-1 1.2M437.3 435l-0.3 0.4M432.8 410.8l0 0.1M429.3 412l-0.1 0.2M467.4 424.4l1 0.6M468.2 411.3l1 1M422 411.9l-0 0.2M437.8 420l-0 0M463.1 399.4l0 0M460.9 431.3l-1.3 0.9M437.6 440.7l1.6 0.1M494.5 421.7l0.2 0.8M417.7 395.4l1.2 1M455.4 436.1l0.5 1M458.2 392.5l1.3 0.7M426.1 422.5l-1 1.2M487 409.7l-1.5 0.5M480.6 396.8l-0.7 0.5M446 399.6l-0.1 0.5M468.3 398.2l-0.1 0.7M435.1 419.2l-0.2 0.5M419.5 435l-0.5 1.5M428.8 418l1.5 0.6M429.6 401.2l-1.1 1.2M455.4 403.2l1.1 0.1M477.3 392.7l0.1 0.5M420.8 419.9l0.7 0.5M462.8 440l-0.3 0.7" stroke="#7896d4" stroke-width="1.1"/><path d="M469.6 425.1l0.1 0.8M454.8 391.3l-0.8 0.5M424 411.9l0.4 0.6M439.4 400.4l-0.7 0.3M455.6 398.3l0 0.5M451.1 449l-0.1 0.1M486 427.5l-0.7 0.6M413.5 402l0.7 0.5M434.9 402.5l-0 0M435.1 397.3l0.5 1M420 429.3l-1 0.6M474.3 409.7l-0.6 0M483.2 395.2l-0.4 1M443.6 412.5l-0.6 0.2M445.4 402.2l-0.1 0.1M465.1 397.3l-1.3 0.1M430.5 418.7l0.3 0.9M418.4 428.7l-0.1 0.7M477.5 434.2l0.3 0.3M443 442l0.9 1M486.6 417.4l0.6 0.3M433 392.8l0.1 0.1M462 431.8l0.3 0.3M429 434l-0.5 0" stroke="#7896d4" stroke-width="1.4"/><path d="M482.4 411.6l-0.8 0.1M417.2 426.5l0.4 0.6M493.7 396l0.2 0.2M439.2 420.5l-0 0.2M418.2 393.8l0.4 0.9M417.8 432.5l1.1 0.4M454.8 432.3l-0.7 0.3M484.6 434.8l-0.6 0.4M429.4 445.4l1.2 0.9M415 393.5l0.4 0.7M479 413.8l0.4 0.2M483.5 399.3l1.1 0.7M473.8 441.9l0.8 1.3M467.9 412.1l0.9 1M429.5 396.5l0.3 0.5M487.7 399.1l1.4 0.1M459.4 445.3l-1.4 0.7M428.1 414.8l0.2 0.1M422.2 417.9l-1.3 0.4M424.3 436.5l0 0M454.8 402.1l0.5 0.2M455.1 398.5l-0.8 0.2M437.5 406.5l-0.3 0.3M428.4 412.5l-1.1 0.1M455.7 437.6l0.1 0.1M420 389.3l0.4 1.3M445.2 391.5l-0.9 1.1M447.1 428.9l-0.8 0.8M491.9 431.6l0.8 1.1" stroke="#7896d4" stroke-width="1.7"/><path d="M420.9 418.2l0.1 0M490.1 422.4l1.3 0.5M429.2 394.1l1.3 0.3M439.7 404.5l-0.6 0.2M459 416.6l-0.5 0M480.3 393.8l0.1 0.9M423.8 404.3l-1.2 0.9M428.7 391.7l-0.5 0.2M449.5 412.4l-0.1 0.1M461.1 403l-0.9 0.6M426 398.7l-0.1 0.1M459.1 427.9l-0.8 0.9M419.6 406.5l0.9 0.8M478.9 401.4l-0.2 0.1M444.7 392.8l1 0M431.6 397.7l-0.6 0.6M433.1 414.7l-0.3 0.2M471.1 435.9l-0.2 0.7M419.3 399.8l-0.1 1.6M442.2 435.7l-1.2 0.3M470.7 428.7l-0.2 0.7M429.5 448.5l-0.6 0.6M434.1 412.6l0.9 0.3M481.3 441.1l-0 0.5M428.9 397.5l0.1 0.1M456 396.5l1.4 0.1M446.1 396.1l-0.4 0.7M457 429.8l-0.6 0.4M422.1 389.4l-0 0.1M451.7 435.2l-0.2 0.8M458.4 449.1l0.8 0.1M420.9 420.6l-0.4 0.2" stroke="#7896d4" stroke-width="2.0"/></g><g fill="none" stroke-linecap="round" stroke-opacity="0.85" filter="url(#blr)"><path d="M484.3 415h0.4" stroke="#9a5a2a" stroke-width="1.4"/><path d="M456.6 448.2h0.3" stroke="#9a5a2a" stroke-width="1.5"/><path d="M425.5 423.9h0.3" stroke="#9a5a2a" stroke-width="1.6"/><path d="M449.4 440h0.4" stroke="#9a5a2a" stroke-width="1.7"/><path d="M454.2 413.7h0.2M443.7 401.4h0.3M465.4 399.6h0.1" stroke="#9a5a2a" stroke-width="1.9"/><path d="M468.9 440.5h0.4M418.7 434h0.4M470.5 405h0.6M493 420.2h0.3M457.6 437.4h0.2" stroke="#9a5a2a" stroke-width="2.3"/><path d="M462.6 448h0.1" stroke="#9a5a2a" stroke-width="2.4"/><path d="M450.8 418.4h0.4M457.2 413.9h0.5" stroke="#9a5a2a" stroke-width="2.6"/><path d="M450.8 440.1h0.3" stroke="#9a5a2a" stroke-width="2.7"/></g>
</g>
<g clip-path="url(#c11)">
<rect x="501.3" y="389.2" width="82.5" height="61.2" fill="#e1e9f6"/><g fill="#f7f9fd" fill-opacity="0.75" filter="url(#blw)"><ellipse cx="580.9" cy="389.9" rx="13.4" ry="5.1"/><ellipse cx="582.7" cy="390.2" rx="14.8" ry="8.8"/><ellipse cx="572" cy="450.4" rx="8.4" ry="6.4"/><ellipse cx="559.7" cy="406.4" rx="8.6" ry="5.6"/><ellipse cx="572.1" cy="442.7" rx="14" ry="5.6"/></g><g fill="none" stroke-linecap="round" filter="url(#blr)"><path d="M577.9 434.6l1.3 0.7M542.5 418.6l0.7 0.2M502.5 430.2l0.2 0.2M538.6 414l0.1 1M566.4 413.1l-0.3 0M560.1 427.3l0.2 0.3M505.1 396.3l0.1 0.2M507.1 400.5l-0.2 0.6M539.1 427.2l0.2 0.7M543 394.1l-0.4 0.1M552.7 403.4l1.4 0.2M581.5 410.2l-0.5 0M538 411.3l1.3 0.4M502.3 429.1l0.6 0.8M511.1 413.8l0 0M577 416.6l-0 0.2M579.3 433.3l1 0.2M563.7 412.1l-0.1 0M539.7 433.2l-0.7 0.9M531.2 399l0.5 0.2M574.6 412.4l1.1 1.2M501.4 410l0 0.5M578.9 414.1l-0.6 0.4M552.5 444.7l-0 0M512.4 414l-0 1.5M510 427.9l-1 0.9M512.6 408l0.2 0.1M537.3 398.5l0.1 0.3M529.6 444.4l-0 0.1M536.5 390.4l-0.8 0.6M541 397.4l-0.8 0.5M575.4 411.1l-0 0.6M548.4 448.4l0.1 0.1M501.6 418.5l-0.5 0.3M518.4 411l-0.6 1M503.9 421.2l1.1 0.5M525.1 400.4l0.6 0.3M531.3 422.8l0.8 0.3M541.4 446.8l-0.5 0.2M511.9 392.9l-0.1 0.1M536 421.3l0.6 0M537.9 414.7l0.3 0.1M574.7 438.9l1.1 1.1M578.4 417.1l0.1 0.3M536.9 398.8l-0.4 0.5M583.2 402l0.7 0M541.5 420.1l0.4 0.2M545.9 431.5l-1.1 0.4M526.6 403.6l-0 0.6M518.3 437.5l-0.4 0.4M581.6 418.7l0.7 0.2M547.8 436.9l-0.2 1.5M545.2 427.2l-1 0.5M529.9 446.6l1.2 0.7M542.1 403.1l-0.2 0.2M526 394.9l0.6 0.3M501.7 432.5l1.1 0.6M532.5 440.5l0.3 1.4M549.3 420.1l-0.7 0.2" stroke="#c8d5ef" stroke-width="1.1"/><path d="M549.1 422.9l-0.7 1.4M560.8 422l-0.9 0.4M531.7 403l0.1 0.8M581.2 420.9l0.4 1.1M554.3 392.6l0.4 1.2M506.9 435.8l-1.2 0.8M575 390.6l0.3 1.1M563.4 429.3l-0.6 0.1M540.6 417.2l-0.3 0.7M559.5 389.6l-0.5 1.2M576.7 434l-0.1 0.1M570.6 409.2l-1.1 1M522.9 405.5l-0.1 0.1M554.8 393.3l0.1 0.2M571.5 415.3l-1.3 0.4M528.7 416.5l0.1 1.1M563 396.4l0.3 0.5M549.6 413.8l-0.4 0.4M558.2 402.2l-0.7 0.4M550.6 424l-0.6 0.3M563.9 427.7l-0.2 1.5M573.3 408.5l0 0M566.1 430.1l0.2 0.6M504 437.8l0.8 0.1M508.7 435.2l0.2 0.3M563.8 408.7l-0.8 0.7M578.6 450.1l-0.3 0.4M577.3 412.2l-1.5 0M562.6 415.6l0 0M575.7 436.2l0.9 0.7M533 450.1l-0.7 0.2M557.8 418.4l0.7 0.2M534.5 389.5l-0.2 0.2M582.4 423.8l0.8 1M574.9 439.4l0.1 1.4M533.4 408l0.1 0M566.8 422.7l-0.8 0.5M571.4 424.1l0.5 0.7M571.5 393.8l-0.2 0.2M545.1 419.8l0.9 1M572.8 442.5l0.5 0.1M536.8 392.2l-0.3 0.6M543.1 422.6l-0.8 0.5M545.2 419.5l-0.6 0.1M533.4 407.3l-0.9 0.1M508 432.5l1.3 0.6M580.6 427.5l-0.1 0.3M513.3 432.4l-0.9 0.4M542.7 425.3l-0.2 0.1M552.8 424.1l0.7 0.7M547.6 415.8l-0 0.1M555.3 407.1l-0.4 1.1M576.9 419.2l0.8 0.6M569.1 393.5l-0.1 0.5M573.5 408.3l-0.7 0M545.5 392.5l-0.7 1M519 428.5l0.8 0.3M520.5 449.2l-0 0.1M513.4 438l1 1M509.9 401.6l-0 0M544.6 447.4l0.5 0.3M576 423.3l0.5 0.2M545.7 400.5l0.3 0.9M539.9 444.7l1.3 0.8M583.3 418.4l-0 0.3M507 426l0.4 0.4M527.2 431.7l-0.5 1.2M546.3 402.9l0.3 0.1M520.7 429.9l0.9 0.3M551.7 449.3l-0 0.1M533.8 449.2l-0.4 1.5M539.4 448.2l-0.5 0M574.2 415.1l0.5 0.9" stroke="#c8d5ef" stroke-width="1.4"/><path d="M555.3 437.7l-0.8 1.1M542.2 396.6l0.8 1.3M509.7 411.7l0.6 0.3M532.2 394.3l1.2 0.2M542.9 444l-0.2 0.1M577.5 415.7l-0.9 0.6M545.1 392.6l-0.2 0.4M510.7 437.2l-0 0.1M522.9 390.6l0 0M576.2 421.8l1.1 0.7M519.9 403.2l0.2 0.1M540.2 420.3l0.8 0.2M574.9 404.6l0.3 0.2M518.9 443.6l-1.4 0.2M509.5 405.9l-0.8 0.6M550.6 414.5l-0.5 1.5M563.4 423.1l0.1 0.6M519.7 395.3l-0.9 0.4M542.7 420.5l1.1 0.5M520.3 441.8l-0 0M568.9 390.1l-0.8 0.4M507.2 391.3l0.2 1.3M554.7 407.8l-0.3 1.1M574.7 430.2l-0.1 0.3M520.7 444.7l0.5 1.3M515.9 429.5l0.2 0.2M533.6 412.5l0.5 1.5M554.6 433.1l0.1 0.5M536.1 398.6l-0.2 0.8M570.6 443.7l-1.6 0.1M535.1 396.2l0 0M582.1 427.9l1.3 0.6M560.5 424.2l-0.3 0.3M560.1 418.1l1.4 0.3M534.1 408.8l1 1M528.2 446.2l0.1 0.1M530.3 441.8l1.5 0.5M567.1 397.2l-0 0.3M548.1 434.7l0.3 1M577.9 413.9l0.8 0.1M566.2 431.8l-0 0.9M539.1 399.5l0.1 1.6M550.5 429.7l0.3 0.1M540.4 423.4l-0 1M515.8 410.6l-0.2 0.3M529.8 406.2l0.1 0.1M544.3 393.6l0.4 1.4M501.9 425.1l0.3 0.1M505 398.1l1.5 0.1M505 421.1l0.5 0.3M505.4 445.3l-0.6 0.2M547.1 393.6l-0.2 0.1M543.4 397.2l-0.3 0.7M542.2 421.7l-0.4 0.5M565.3 427.6l1 0.4M582 421.7l-0.9 0.5M510.7 415.5l-0.2 1.4M555.8 416l-0.1 0.8M520.3 449.2l1 0.6M563 410.8l0.6 0.5M582.1 393.1l-0.3 1.3M538.8 418.6l0.3 0.2M559.2 400l0.3 0.4M506.5 428.7l-0 0.9M549.3 427.9l1.1 0.2M563.5 398.3l0.7 0.5M536.1 427.9l1 0.2M530 413.4l0.2 0.8M542.6 427.5l-0.5 0.1M508.3 412.9l-0.2 0.5M513.2 440.8l1.3 0.9M508.7 441.5l-0.6 0.2M582.4 426.4l-0.1 0.1M523.2 442.4l-1 0.1M554.8 449.3l0.1 1M510.7 444l0.9 0.8M540.4 405.1l0 0.1M542.6 429.3l-0 0M578 448.8l0.8 0.5M537.2 412.9l-0.4 0.2" stroke="#c8d5ef" stroke-width="1.7"/><path d="M574.5 395.3l-1.1 0.3M540.3 417.9l0.1 0.4M519.4 399.2l0.8 0.7M534.7 408.5l0.3 1.1M530.5 406.9l-0.2 0.7M518.7 408.4l-0.1 0.1M557.3 406.1l1.3 0.9M548.2 402l-1.3 0.6M507.1 404.4l-0.7 0.1M546.1 411.5l0.8 0.5M539 420l0.5 0.5M556.1 413.6l0.1 0.2M550.3 426.4l1.5 0.6M510.7 405.1l-0.8 1.1M507 431.2l0.5 0.6M535.1 416.7l-0.1 0.1M566.6 415.5l0.4 1.2M556 403.2l-0.9 1.3M513.4 419.4l0.9 1M548.1 435.6l-0.1 0M504.8 447.3l-0.6 0.2M542.7 400.2l0.9 0.8M550.1 394l0 0M501.9 404.3l0.6 0.6M560.7 401.7l1.3 0.5M560.7 398.2l-0.9 0.1M518.8 402.3l-0.2 0.9M539.5 419.3l-0.8 0.4M563.3 424l0.6 0.3M550.6 391.6l-0.1 0.6M553.5 442l1 1.1M560.4 449.2l0.1 0.1M578.1 412.7l-0.4 1M546.7 421.4l0.4 0.5M533.7 417.1l0.9 0.7M583.2 425.5l-0.5 1.4M550 394.1l0.8 0.9M566.5 417.9l-1.5 0.5M570.3 398.6l1.2 0.6M538.4 415.8l0.6 1M549.2 408.4l0.3 0.4M522.8 418.6l1.3 0.8M527.9 401l0.3 1.1M527.7 411.6l-0.2 0.4M541.5 423.5l0.1 0.4M510.7 442.8l1.5 0.3M507.2 399.1l-1.2 0M558.7 422.1l-0.2 0.1M571.4 433.6l0.3 0.6M525.7 420.9l-0.3 0.6M518.3 406.6l1.3 0.6M559.5 421.8l0 0M534.7 439.2l-0.5 0.6M565.4 431l-1.4 0.7M564.8 405.5l-0.6 1M563.4 400.5l1.1 0.3M533.1 395.2l-0.8 0.2M538 402.9l0 0.5M527.9 443.9l0.9 0.3M561.7 420.3l-0.5 0.9M513.9 408.4l0.4 0.6M572.1 443.7l-0.7 0.5M553.9 444.1l-1.2 0.2M558.2 439.8l0.8 0.1M553.6 442l-0.4 0.5M511.2 411.8l0.1 0.5M526.8 434.9l0 0.1M522.4 402.1l-1.6 0.2M578.3 418.1l0.4 0.1M577.9 420.5l0.1 1.1M560.1 400.8l0.9 1.2M540.2 398l0.5 0.5M579.5 423.3l0.7 0.6M535.2 441.4l-0.3 0.1M565.9 395.5l-0.5 1.2M575.7 432.1l0.3 0.2M503.3 441.2l0.1 0.1M544.8 429.1l-0.5 0.5M565.2 449.4l-0.6 0.5M525 425.1l-0 0M559.5 395l0.3 0.3" stroke="#c8d5ef" stroke-width="2.0"/><path d="M538.4 418.5l0.3 0.2M532.7 449.2l0 1.2M545.5 415.8l1.5 0.3M541.1 431.8l-1.5 0.6M532.5 398l0.1 0.1M577.6 397.6l0.3 1.4M507.8 449.2l-1.4 0.4M554.1 404.8l0 1.2M562.2 414.2l-1.5 0.6M523.4 402.9l-0.2 0.4M562.3 396.9l-0.2 0.1M553.5 414.8l1.3 0.6M509.2 418.2l1.3 0.7M575 412.1l-1.2 0.5M531.9 419l0.2 0.1M563.4 412.6l0 1.4M506.1 394l-0.3 0.7M543.3 403.9l0.1 1.5M575.7 426.1l-0.1 0.1M545.6 441.9l-1.1 0.9M536.6 415.3l-0.8 1M530.8 404.7l0.2 0.1M572.3 409.4l0.4 0.1M574.9 418.9l-0.5 1M504.4 437l-1.1 0.5M538.3 444.4l-0.1 0.2M518.3 435l0.1 0.6M565.1 412.4l0.3 0.1M542.7 429.7l-0.1 0.1M516.8 444.9l-0.3 0.9M506.9 432.5l0.1 0.9M564.7 402.3l0.7 0.4M551.7 435.5l-0.1 0.4M575.8 430l0.2 0.3M569.7 400.7l-0.3 0.1M536.9 415.9l0.7 0.9M522.7 444.1l0.9 0.6M538.7 417.6l0.2 0M540 396l1.4 0.8M538.9 413.5l-0.1 0.5M566.4 393.2l-1.1 0.9M527.8 447.4l1.1 0.7M548.4 396.4l-0.1 0.7M558.4 409.2l-0.1 0.3M519.6 398.8l1.1 0M568.1 405.8l0 0M524.3 413.5l-0.6 0.1M501.9 427.9l0.8 0.6M558.1 414.9l0.5 1.2M515 450.3l1.3 0.3M533.1 408.5l-0.8 0.2M533.1 432.9l0.1 0M577.3 448.3l0 0.1M535.8 393.8l-0.6 0.9M517.5 431.5l-1.2 0.5M523.3 445.6l-0.4 0.2M560.4 403.1l-0.9 0.5M548.7 392.7l0.1 0.9M548.2 400.1l-1.2 0.4M543.1 426.4l0.6 0.1M569.8 414.1l-0.2 1.4M536.3 446.2l0.5 0.5M553.7 409.9l-0.8 1.1M551.2 405.3l-0.1 0M512.8 421.4l0.1 0.5" stroke="#a2b9e4" stroke-width="1.1"/><path d="M564 411.1l-0.1 0.1M522.5 403.8l-1.2 0.6M541.4 411.9l-0.3 1.5M579.8 402.6l-0.3 0.6M571.6 403.8l-0.7 0.6M555.4 425.7l0.1 1.6M572.8 400.7l-0.1 0.7M538.3 444l0.2 0.4M546.6 428.1l0.2 0.3M550.8 450.3l0.1 0.1M567.4 405.8l-0.5 0.4M566.9 407.2l1.2 0.4M524 414.8l-0.5 0.1M583.6 430.5l-0.5 0.5M542.2 405.8l0.4 0.7M544 442.5l-0.3 1M533.3 414l1.5 0.3M536.5 424.5l1.2 0.8M546.6 429.3l-0.1 1.2M532.9 403.1l-1.1 0.2M533.7 408.8l-1.4 0.2M547.3 431.7l0.2 0.3M572.9 405.6l-0.1 0.1M536.7 446.8l0.4 1.2M581 411.3l-0.2 0.4M571.5 430.1l1.2 0.2M560.2 400.3l-0.3 1.3M573.8 409.3l0.4 0M516.7 415.8l-0.4 0M517.6 413.6l0.7 1.1M548 413.6l0.6 0.7M527.4 447l-0.6 0M568 396.8l-0.6 1.3M514.1 398.8l0.7 0.7M574.2 441.1l0.3 0.1M547.9 389.4l0.1 0.1M542 446.5l0.2 0.2M521.9 402.4l-0 0.1M576 427l0.1 0.2M516.4 417.6l-1.5 0M547.5 415.7l-1 0.9M568.5 418l0.1 0.2M502.4 390.9l-0 0.1M515.5 401l0.5 0.2M573.6 446.8l-0.9 1.2M533.5 431.5l0 0.1M504.2 438.2l0.4 0.5M577.5 418.2l0.5 0.5M532.8 423.5l1 1M568.3 422.9l0.5 0.8M560.1 426.8l-0 0.1M566.9 429.2l-0.4 0.4M535.4 392.1l-0.1 0.1" stroke="#a2b9e4" stroke-width="1.4"/><path d="M525.7 445.7l0.1 0.1M582.7 409.5l0.8 0M564 420.2l-0.5 0.2M533.8 421l0.1 0.5M526.9 409.6l0.5 0.7M562.8 446.3l-1.1 0.6M547.2 409.2l0.4 1.1M520.3 412.3l-0.1 0.4M504.3 443.2l-0.2 0M583.8 424.9l0.2 1M575.8 411.2l-0.1 0.8M547 400.4l0 0M504.2 395.4l0.3 0.1M560.3 413.7l0.2 0.7M537.4 425.6l-0 0M531.3 416.7l-0.3 0.7M576.8 397.8l-0.6 1.1M570.1 424.6l-0.4 1.3M531.6 402l-0.2 0.8M523.6 448l-1 0M582.4 426.8l0.6 0.2M546.1 432.6l-1.2 1M518.9 429.4l0.1 0.3M534.1 397l0.4 0.4M529.8 400.1l-0.4 0.5M545 431.3l-0.1 0.1M558.5 428.9l0.2 0M570.4 422.6l-1.3 0.6M541.2 397.3l0.4 0.7M526.9 449.6l0.1 0.1M555.4 399.6l0.6 0.3M568.8 427.2l0.1 0.1M556.9 402.3l0.7 0.8M509.6 427.1l-0.5 0.4M502.5 398.2l0.1 1M538.8 419.8l-0.2 0.7M579.9 396.2l0.4 1M522 398.6l-0.1 1.3M556.8 413.7l-0.5 0.3M541.2 407l0 0M502.9 405.1l0 0.1M557.1 408.5l1.2 0.4M554.9 407.4l0.8 0.3M562.4 423.4l-1.2 0.6M567.9 437.3l0.3 1.1M536.4 392.6l-0.1 0.8M582.2 422.9l-0.5 0.1M548.8 450.4l-0.4 1.4M520.6 393.8l0.3 0.3M575.4 416.6l-0.6 0.8M522.6 413l-0.1 1M581.7 439.4l-1.1 0.7M569.8 410.9l-0.6 0.1M543.4 416.9l-0.1 0.6M577.3 431.4l0 0.6M544.5 402.2l0.1 0.3M506.6 421.8l-1 0.4M541.6 415.1l-0.3 0.8M508.2 428.2l0.1 0.1M576.8 424.6l-1.3 0.3" stroke="#a2b9e4" stroke-width="1.7"/><path d="M514.9 427.5l-0.9 0.9M570.4 405.9l-0.5 0.3M529 408.5l0.8 0.3M577.2 417.3l0 0M544.4 405.2l0.7 0.4M523.2 434.2l0.6 0.5M536.3 397.2l-0.9 0.9M544.2 395.2l-0.5 0.7M504.5 449.7l-0.4 0.1M578.7 447.7l-0.8 1.4M530.4 405.9l0.3 1.3M508 442.9l-1 0.3M561.7 440.6l-0.9 0.2M545.9 415.2l-1.4 0.1M509.8 446.4l0.7 1.2M503.6 412.8l-0.6 0.9M579.3 449.5l-0 0M565.9 438.4l-0.6 0.8M532.3 408.4l0.3 0.2M532.7 405l-0.1 0.2M527.9 411.7l-1.3 0.2M533.2 424.5l-0.4 0.1M526.7 392.8l0.1 0M567.9 432.2l1 0.3M533 408.1l-0.6 0.9M560.4 408.8l-0 0.2M522.2 415.5l-0.5 0.3M508.7 417.8l0.6 1.5M582 420.3l-0.6 0.6M552.2 406.9l0.4 1.5M501.3 392.1l-0.4 0.3M571.8 394.8l-0.2 0.5M574.9 428.9l0.2 1.4M550.6 390.3l-0.1 0.7M528.6 406l1.2 0.7M554.4 411l-0.2 0.9M575.5 394.1l0.1 1M523.9 432.2l0.2 1.1M535 413.6l1 0.2M544 402.1l-0.5 0.5M540.2 401.7l-0.3 0.2M527.4 440.7l0.5 0M537.3 425.6l0.5 0.2M581.8 429.4l-1 0.5M502.5 427.8l0 0.1M569.5 389.7l0.3 1.5M566.9 416.2l0 0M583.3 424.2l-1.2 0.7M554.8 401.8l-1.3 0.3M531.3 400.2l-0.1 1M559.3 426.5l1.3 0.1M512.2 434l0.1 0.5M545.9 397.9l0.4 1.3M539.2 425.1l0 0.3M503.8 419.3l-0.3 0.5" stroke="#a2b9e4" stroke-width="2.0"/><path d="M578 428.7l-0.8 0.1M502.8 397.8l0 0.5M530.6 403l-1 1.2M538.4 400l-0.3 0.4M553.4 427.4l-0.4 1.1M524.2 447.9l0.1 0.1M537.1 441l0.4 0M545.9 417.3l-0 0.2M578.5 430.9l-0.9 0.4M572.7 429.3l0.8 0.3M533.2 439.7l-0.3 1.2M506.6 441.5l1 0.9M538.8 421.1l-0.1 0.2M558.6 408.7l0.3 0.7M566.6 433.8l-0.8 0.5M577.2 433.1l-0 0.1M541.6 404.1l1.2 0.6M550.2 428.5l0.2 0.5M565.9 444.6l-1.2 0.1M537.5 449.4l0.4 0.2M558.9 409.6l0.7 0.6M506.9 439.9l0 1.3M554 409.7l0.4 0.4M538.7 402.1l-0.2 0.8M512.5 435.3l-0.3 0.3" stroke="#7896d4" stroke-width="1.1"/><path d="M580.4 434.2l-0.7 0.9M546.9 408.8l-1.2 1M542.8 390.4l0.4 0M503.2 438.6l0.1 0.1M571.1 409.3l0.1 0.6M562.7 418.6l0.7 0.1M573.2 448.5l0.4 0.8M564.5 416.3l0.7 1.2M580.6 426.2l1.2 0.1M549 399.4l-0.2 0.3M575.4 419.1l0.7 0.9M556.6 423.6l-0.8 0.2M557.1 407.6l0.9 0.8M543.2 444l0.4 0.3M522.7 411.4l-0.2 0.3M552 407.9l-0.4 1.3M508 391.7l-0.5 0.2M516.5 397.3l-0 0.1M563.6 439.5l1 0.1M555.4 417.8l-1.2 0.6M542.8 414.6l-1.1 0.6M547.7 408.4l1.2 0.2" stroke="#7896d4" stroke-width="1.4"/><path d="M576.8 420.7l-1.2 1M572 436.7l-1.2 0.8M556 415.2l-0.3 0.2M568.9 395.5l1.4 0.5M581.4 422.9l-0.9 0.9M553 406l-0.1 0.1M559.8 427.6l0.1 0M553.2 408l-0.8 0.5M559.2 413.6l-1.3 0.5M541 414l-1 0.6M538.5 416.6l-0.3 0.1M568.5 401.2l-0.6 1.2M511.2 396.1l0.2 0M529 425.6l0.1 0.3M552.5 450l0.4 0.5M509.3 417.5l-1 0M581.3 409.2l-0.4 0.7M551.2 408.3l0.6 0.5M552 407.2l-1 0.3M549 394l0.1 0.7M547.3 412.7l-1.1 0.1M567.7 402.6l-0.4 1.1M518 424.9l-0 0M533.4 409.9l0.3 0M539.9 409.8l-0.5 0.4M535.6 434.8l-0.5 1M534.5 414.5l0.7 0M526.3 427.3l0.8 0.4M568 420.8l0.1 1.3M566.8 390.5l1.1 0.3M563.6 399.8l-0.4 0.5M505.6 413.9l-0 0M570.6 430.3l0.8 0.7" stroke="#7896d4" stroke-width="1.7"/><path d="M551.7 392.7l-0.2 0.5M559.5 425.6l-1.3 0.5M577.8 424.8l-0.6 1.2M540.1 427.6l0.7 1M547 427.7l-1.2 0.7M553.8 414.7l0.2 0M533.5 403.9l-0.6 1.2M554.3 435.3l1.3 0.8M518.7 402.8l0.7 0.1M529.5 410.4l0 0.1M556.9 444.2l0.6 0.3M572.7 417.5l-0.5 0.5M559.7 399.3l0.1 0.6M576.6 431.7l-1 0.2M541.8 423.6l0.9 0M561.5 418.2l0.3 0.4M543.6 440.1l-0.4 1.1M505.6 436.4l0.1 0M574.5 417.4l-0.4 1.4M568.7 409.7l-1.4 0.4M579.8 426.8l0.2 1.5M552.4 444.6l0.9 1M572.8 428.1l-0 0.2M529.9 405.3l0.8 1.1M510.1 446.7l-0.1 0.5M574 420.5l-0.4 0.4M549 418.9l0.8 0.5M537.5 413l0.5 0.7M543.2 413.5l-0.6 0.5M509.8 390l-0.4 0.1M555.9 421.1l-0.2 0.9M561.6 405.4l0.6 0.1M568.8 408.2l0.7 1.2M567.2 450l-0.3 0.5M580.6 432.3l1.1 0.7M582.1 415.1l0.2 0.2" stroke="#7896d4" stroke-width="2.0"/></g><g fill="none" stroke-linecap="round" stroke-opacity="0.85" filter="url(#blr)"><path d="M508.1 395.5h0.2" stroke="#7d3010" stroke-width="1.5"/><path d="M553.1 435.7h0.1" stroke="#7d3010" stroke-width="1.6"/><path d="M523.4 400.2h0.4" stroke="#7d3010" stroke-width="1.8"/><path d="M576 427.5h0.6" stroke="#7d3010" stroke-width="1.9"/><path d="M509.9 427.2h0.4" stroke="#7d3010" stroke-width="2.5"/><path d="M531.3 432.3h0.5M559.2 418.9h0.3" stroke="#7d3010" stroke-width="2.6"/><path d="M535.1 401.4h0.5" stroke="#7d3010" stroke-width="2.8"/></g>
</g>
<g clip-path="url(#c12)">
<rect x="589.8" y="389.2" width="82.1" height="61.2" fill="#e1e9f6"/><g fill="#f7f9fd" fill-opacity="0.75" filter="url(#blw)"><ellipse cx="619.5" cy="418.6" rx="10.2" ry="7.1"/><ellipse cx="623.4" cy="429.5" rx="8.6" ry="8.4"/><ellipse cx="590.6" cy="407.7" rx="9.4" ry="5"/><ellipse cx="650.8" cy="408.2" rx="13.9" ry="10.7"/><ellipse cx="610.6" cy="443.9" rx="14.1" ry="8.7"/></g><g fill="none" stroke-linecap="round" filter="url(#blr)"><path d="M624.5 428.6l0.4 0.1M649.8 391.6l-0.8 0.4M631.6 442.3l-1.2 0.9M659.5 424l0.1 0.3M619.7 441.6l-0 0M611.1 428.6l0 0.2M601.5 411.1l0.7 1.1M621.9 445.2l-0 0.3M611.5 403.4l-0.2 1.1M609.6 430.4l-0.5 0M638.2 438l-0.1 0.1M627.9 442.3l0.4 0.8M655.6 450.3l-0.7 0.2M607.3 429.3l-0.8 1.3M661 401.4l1 0.1M617.1 439l-0.6 0.8M669.8 404.7l-0.7 0.7M662.2 450.1l0.5 1.2M608.8 413.7l-1.5 0.3M668.1 395.6l-0 0.6M608.5 436.6l0.8 0.2M602.8 430.8l0.5 0.2M595.2 419.5l1.1 0.9M632.8 389.3l-1.4 0.5M630.6 406.2l-0 0.3M624.5 437.4l0.2 0.7M620.2 393.4l1.1 0.3M596 396l-0.5 0.2M598.8 439.4l-0.1 1.4M653.5 443.8l-1 0M596.7 402.7l-0 0.1M624.8 441.7l-0.3 0.8M618.5 434.8l0.5 0.2M641.6 449.9l0.2 0.2M606.9 399.4l-0.3 1.4M625.4 429.1l0.6 0.2M626.9 436.5l-1.3 0.8M598.6 423.6l0.3 1.5M666.2 391.6l-0.7 0.8M663.6 447.3l0.3 1.2M668.3 443.3l-0.2 0.8M618.7 443.1l-0.1 1M594.4 398l-0.5 0.3M612.1 431.1l-0.8 0.5M615.3 445.8l-1 0.1M634.9 412.7l0.7 0M602.2 418.3l0.4 1.2M606.9 427.4l0.6 1.5M615.1 450.3l0.1 0M639.7 440.5l0.1 0.9M627.7 438.1l-0.4 1.5M610.8 432.8l0 0.1M613 411l-1.3 0.7M589.8 438.4l0.1 0.3M604.9 404.3l0.5 1.1M623.1 395.8l0.4 0.3M590 411.3l-0.4 0.3M607.9 431.4l-0.4 0.2M600.6 395.1l-0.9 1M664.3 407.3l-0.2 0.4M610.3 399.9l-0.6 1.2M616.2 427.2l-0.7 0.5M620.7 424.4l0.7 0.3M601.2 425.5l-0.1 0.1M595.2 417.7l-0.6 0.1M598.2 396.5l0.1 0.4M606.3 433.7l-0.4 1.4M610.5 397.3l0.4 0.5M636.1 404.1l1 0.6M614.2 447.5l-0 0.3M655.6 433.4l-0.9 0.9M654.7 448.6l-0.4 1.1M621.6 398.1l0.3 0.4M595.9 415.8l0 0.5M613.5 418.1l0.6 0.1M617.1 432.3l1 0.6" stroke="#c8d5ef" stroke-width="1.1"/><path d="M609.6 428.6l0.8 0.2M598 411.5l-0.5 0.6M649.3 447l0 0.8M601 417.4l-0 0M615.9 399.6l0.2 0.1M595.2 426.2l0.4 0.6M629.3 443.2l-0.9 0.6M619.8 443.5l-0.1 0.5M671.4 449.5l-0 0.1M607.2 442.8l0.4 0.2M608.6 435.9l-1.5 0.2M623.4 401l0.5 0.5M634.6 405.6l-0.1 0.5M597.2 401.4l-0.6 0.9M599.1 447.8l-0.8 0.4M662 389.7l0.3 0.7M670 390.5l0.9 0.1M590.2 413.9l0.2 1.5M597.4 423.6l0.1 1.1M594.3 395.7l0.7 0.1M599.5 414.9l-0.6 0.4M669.5 418l0.7 0.8M652.7 443.5l0.1 0.2M623.3 432.1l0.2 0.2M659.4 413.2l-0.4 0.4M656.8 423.8l-0 0.4M665 395.8l0.5 1.4M656.5 445.8l-1.1 0.6M617.4 404.4l0.7 0M604.9 403.2l-0 0M608.6 405.1l0.1 0M662.9 390.6l-0.5 0.8M652.3 403.3l0 0M650.5 397.8l-0.1 0.1M643.7 391.3l0.2 0.1M608.2 406.8l-0 0.2M621.8 425.7l-0.3 0.4M648.3 439.6l-0.1 1.3M591.7 424.4l0.3 1.2M612.3 404.8l-0.2 0.1M610.7 435.7l-0.8 0.3M620.7 427.6l-0.1 0.5M664 429.1l0.3 1.3M628.1 439l-0 0.2M612.6 395.3l1.2 0.6M589.8 413.7l-0.1 0.1M642.2 407.9l-0.2 1M592.7 426.9l-0.1 0.1M614 412.1l-0.2 0.3M617.6 404l-0 0.2M640.8 428.1l-0.3 0.7M605.5 413.8l-0.1 0.4M613.4 438.5l0.1 1.1M625 434.2l0.6 0.7M661.3 410.9l0.2 0.3M651.1 404.3l0 0M626.8 440.6l-0.3 1.3M646 429.2l-0.5 0.1M591 436.9l-0.2 0.4M646.4 427.6l1.2 0.1M596.6 413.6l-0 0.1M610 424.8l0 0.6M668.8 401l-1 0.6M624.2 413.1l1.5 0.5M624.8 433.2l0.1 0M611.1 405.8l1 0.6M611.7 437.9l-0.5 0.4M598.3 397.9l0.1 0M594.8 398l0.1 0.2M657.8 427.7l-0 0.5M619.9 411.8l1.5 0.4M666.4 394.1l0.8 0.5M635.6 398.5l-0.4 1.1M590.8 403l0.9 0M666.5 391.3l-0.8 0.6M665.9 433l-0.5 0.2M617.5 429.1l0.1 1.2M607.1 402.4l-0.2 1.3M628.1 438.4l0.1 0.1M603 436.1l0 0.1M651.6 412.5l0.2 0.5" stroke="#c8d5ef" stroke-width="1.4"/><path d="M606.9 415.3l-1.4 0.7M606.3 399l1.4 0.7M652.1 428l0.7 1.2M633.5 390.4l0.8 0.1M591.1 392.8l0.9 0.8M607.7 394.1l-0.1 0.4M598 444.5l-0.1 0.5M614 400.7l-0 0.2M601.2 415.8l-1 1M630.5 448.1l0.5 0.6M615 448.8l0.5 0.5M624.1 411.5l0.5 1.1M590.5 437.1l0.8 1.4M637 406.9l1.4 0.1M663.5 416.1l-1.2 0.9M638.1 444.4l-0.8 0.6M594.8 415.7l-0.2 0.3M592.2 435l-1.3 0.9M605.1 439.7l0.2 1M626 392.6l-1.1 0.7M634 445.8l-1.1 0.1M599.1 427.5l0.3 0.9M615.7 405.9l-0.6 1.1M597.9 404.9l0.1 0M608.3 432.2l0.6 0.3M597.9 406l-1 0.3M668.5 415.6l0.1 0.2M647.2 439.3l-0.4 0.2M629.7 432.5l0.1 0M610.8 435.3l-0.7 1.2M655.5 397.4l0.5 0.7M624.4 420.1l-1 0.9M611.5 417l-0.9 0.7M599 416.4l-0.4 0.2M650.7 414.1l-0.6 0M620.2 396.6l-0.2 0.1M604.6 422.8l0.3 1.4M667.8 428.3l0.8 1.2M605.5 397.7l0.4 0.2M604.8 400.2l0.2 0.9M622 440.9l1.5 0.3M609.8 403.8l1.1 0.7M609.1 389.4l0.8 0.8M649.9 405.8l-1.3 1M606.4 407.7l0.5 0.4M657.5 434.9l-0.3 0.4M611.6 415.5l-1 0.1M606.7 429l1.1 0.8M663.6 402.5l-0.1 0.2M602.8 420.7l-0.7 1.2M602.5 417.6l-0.4 0.4M655.1 398l0.1 0M600.2 445.8l-0.1 0.3M604.2 449.6l1.2 0.4M617 447.2l0.2 0.3M623.8 401.2l0.2 0.2M655.3 399.2l-1.4 0.3M647.2 410.8l-0.1 0M654.3 416.3l0.3 1.4M659.2 409.9l1.3 0.5M625 402.7l0.6 0.6M600.1 391.8l-0.4 0.1M614.3 428.6l0 0M590.5 417.9l0.5 1.2M620.8 391.4l-0.2 0.1M601.5 427.6l0.5 0.3M630 435.1l0 0.5M625 400.5l-0 0M622.5 394.1l-0.1 1.6M626.1 394.4l-0.3 0.1M620.1 431.5l-0.1 0.1M598.6 415.9l0.2 0.1M638 424.8l-0.6 1.3M590 417.3l-0.2 0.6M668.7 447l0.3 0M626.6 391.9l-0.1 0" stroke="#c8d5ef" stroke-width="1.7"/><path d="M595.2 432l-0 0M623.9 395.8l-0.4 0.1M661.7 415.7l-1.2 0.6M625.4 410.2l-0.5 0.4M640.2 425.1l-0.3 1.5M653.4 398.3l0.8 1.2M610.6 414.9l0.4 0.4M654 437.4l-0 0M604.5 432l0.6 0.6M614.6 433.1l0.3 0.6M612.2 415.8l0.5 0.5M623.8 399l-0.6 1.1M595.7 401.4l-0.1 0.2M599.4 434.5l0.9 0.4M605.3 421.7l-1.1 0.3M621 414.8l-0.2 0.1M666.9 398.3l0.3 0.3M596 390.2l-0 0.7M652.9 404.1l-0.4 1.4M661.5 406l1.2 0.5M627.3 428.3l-0.8 0.6M648.1 442.3l-0.2 1.4M663 449.8l0.2 0.6M621.5 432.4l-1.3 0M641.8 447.2l0.9 1.1M614.4 437.5l0.7 1.1M621.4 396.9l-0.4 0.2M617.5 410.3l0.2 0M608.7 444.2l-0.6 0.6M644.9 413.9l0.5 0.9M596.6 443.6l-0.8 1.3M662.6 441.6l0.7 0.6M625.4 434.9l0.7 0.6M652.5 417.1l0.1 0M597.6 442.1l-0.6 1.3M597.7 446.4l1.2 0.2M592.2 397.8l0.2 1.4M611.7 438l0 0.3M639.8 422.6l-0.4 0.6M644 416l0.7 0.1M601.5 410.9l0.5 0.9M620.1 410.9l0.4 0.5M623.1 443l0.5 0.6M637.6 444.1l1.2 0.2M608.3 437.4l0.5 1.4M669.5 432.2l-0.3 0.1M614.1 415.5l1 0.4M603.7 445.3l-0.9 1M612.3 389.6l-0.5 0.5M633.2 410.8l-0.5 1.3M602.6 413.3l-0.1 0.3M617.8 448.6l-0.1 0.1M660.8 391.5l0.3 0.8M613.3 410.1l0.3 0.9M660 441.7l0.9 0.7M616.8 395.5l0.2 0.3M600.1 426.1l-0.1 1.4M623.2 416.1l-0.8 0.6M622.9 409.4l1 1.1M633.1 418l0.2 0.7M616.7 432.4l-0.1 0M607.8 443.2l0.5 0.6M636.5 424.5l0.2 1.5M618.2 429.7l-0 0.1M628.9 413.9l0.2 0.1M592.8 433.5l-1.3 0.9M641.2 409.5l0.1 0.2M632.8 427.3l-0.3 0" stroke="#c8d5ef" stroke-width="2.0"/><path d="M593.3 429l0.3 0.1M597.4 396.6l1.2 0.2M615.5 417.5l-0.1 0.8M641.6 402.8l-0.2 0.4M668.1 398.7l-0.8 0.8M658.9 401.1l0 0M618.5 416.1l-0.5 0.7M599 400.9l-0.9 0.4M613.9 428.1l-0 0M602.8 445.2l0.6 1.1M609.7 448.6l-0 0.9M626.7 393.6l-0.4 0.2M602.4 422.4l0.7 0.1M607.1 426.8l0.8 0.1M665.5 425l0.1 1.2M592.8 426.4l0.6 1.1M613 406.9l-0.7 0.4M641.1 423.5l-0.7 1.1M643.1 418.6l-0.2 0.7M611.2 440.6l-0.2 0M596.3 392.8l-0.1 0.5M636.2 428.3l-1.3 0.9M649.2 429.7l0.1 0.5M602.7 410.9l0.8 0.4M635.5 425.9l0 1.1M625.5 436.2l0 0.3M623.5 402.2l0.9 0.8M670.4 411.4l0.4 0.7M599.3 429.7l0.1 0.1M596.8 440.6l0 0.3M599.8 423.1l0.1 0M613.9 428l-0 0.6M637.5 430.9l1.3 0.9M654.3 435.9l-0.1 0.1M619.7 443.9l-0.3 1.3M605.1 414.7l0.7 0.9M617.7 404l-0.9 0.4M667.9 398.3l0.5 0.3M635.2 397.5l-0.4 0.8M612.5 443.3l-0.1 0.1M600.9 395.6l1 0.2M619.6 403.9l-0.5 0.8M597.1 395.5l0.7 1.2M644.4 426.7l-0.3 0.4M655.2 424.7l0.1 0.5M600.2 414.2l0.5 0.5M596.6 421.6l0.7 0.1M651.8 419.3l-0.5 0.4M639.4 390.1l-1.2 0.9M633.9 407.8l-0.9 0M643.4 429.9l0.1 0.5M623.1 398.4l0.7 1M593.7 417.5l0.1 0M613.7 443.2l-0.2 0.3" stroke="#a2b9e4" stroke-width="1.1"/><path d="M621.5 392.7l-0.3 0.2M645.8 413.9l0.1 0.6M661.5 438.1l0.4 1.4M644.1 390.9l0.5 1.4M625 400.6l0.3 0.2M607.7 434.1l-0.1 0.2M619.3 417.3l0.4 0.1M589.9 402.5l0 0M592.6 416.9l1.2 0.3M623.3 402.7l-0.3 1M658.3 443.4l0.1 0.2M591.7 402.3l-0.8 0.3M653.7 437.6l0.5 1.2M592.4 440.1l1.1 1.2M612.3 444l-0.4 0.3M635.4 442.1l1.1 1.1M628.6 432.9l-0.6 0.7M599 447.4l0.6 1.2M653.6 426.7l0.4 1M612.8 441.4l-0.3 0.4M629.7 439.3l0.2 0.2M627.8 430l-0.9 0.4M606 442.3l0.2 0.3M601 403.5l-0.7 0.2M617.5 414.8l1.1 0.5M644.9 402.7l0.4 1.3M590.8 400.2l0.9 0.3M654.8 396.2l0.7 0.3M612.3 422.1l0.4 0M591.7 439l-0 0.7M613.5 396.8l1 0.7M661.2 406.9l-0.2 0.8M605 424.5l0.1 1.4M649.7 448.1l-0.7 0.6M606.5 437.9l-0.6 1.5M610.3 405.6l-1.3 0.5M590.8 389.6l0.5 0M654.5 445.3l0.2 0.6M611.9 398.5l0.6 1.2M669.4 430.3l-1.2 0.7M634 415.9l-1.5 0.2M611.3 428.5l-0.4 0.7M621.6 437.7l0.1 0.6M626.6 427.5l-0.8 0.2M603.3 430.5l0.8 1.4M647.6 444.4l-0.2 0.4M628.2 403.5l1.1 0.5M619.7 428.7l0.9 1.2M605.8 442.2l0.4 0.3M599.1 422.9l0.6 0.9M603.3 437.8l-0 0.4M605.6 442.5l0.4 0M597.4 432.3l-1.2 0.8" stroke="#a2b9e4" stroke-width="1.4"/><path d="M671.9 389.6l0.1 0.5M609.4 404.2l0.6 0.1M589.8 434.3l-1 0.1M670.4 440.4l0.8 0.8M616.4 410.7l0.7 0.7M592.6 403.1l-0.2 1.3M631 435.4l0.5 0.3M600 435.5l0.6 0.7M617.4 404.3l-0.9 0.4M609.3 404.3l-0.8 0.4M610.4 422.2l-0 1M614.3 429l-0.4 0M611.3 448.1l0.8 0.3M615.3 398.8l-0.1 1.3M592.8 432l-0.7 0M620.9 427.6l0 0.8M627.5 428.6l0.6 1.3M600 438l-0.2 0.5M610.6 405.6l0.3 0.5M606.8 418.2l0.2 0.1M598.2 422l0.4 0.2M624.7 395.8l0.8 0.7M664.9 416.8l-0.3 1.2M592.2 447.8l-0.2 0.2M614.8 438.5l-1.3 0.9M607.1 408.1l-0.5 0.6M595.5 421.7l-0.1 0.1M602.3 394.8l0.6 0.7M608.3 394.4l1.5 0.4M618 397.1l0 0.2M605 426.5l-0.3 0.4M620.2 390.4l0.9 0.5M632.9 447.6l0 0M644.9 429.6l0.2 0.2M607.7 434.3l-0.2 0.1M627.6 413.3l0 1.1M644.2 404.6l1.1 0.2M605.1 440.9l0 0.1M657.2 414.4l-0.2 0.6M592.8 418.6l0.6 0.2M614 440.2l-0.6 0.7M602.7 447.9l-0.3 0.3M661.3 421.1l0 0.8M620.5 426l-1 0.1M608 446.4l0.1 0.3M593.5 436.5l-0.2 0.3M648 437.5l0.5 1.1M662.8 446.6l-1.2 1M629.6 399.5l-0.5 0.5M613.8 449.1l0.9 1.3M622.5 391.3l0 0.2M601.8 390.1l-0.7 0.4M607.2 439.2l0.9 0.2M607.7 429.9l-0.9 0.1M603.6 431.4l0.1 0.4M604.4 390.2l-0.1 0.4M592.8 394.8l-0.9 0.8M594.6 431.9l-0.6 1.3M610.2 436.4l1 1.2M628.1 395.5l-0.5 0.2M617.4 398l-0.1 1.2M592.2 422.7l1.1 0.3" stroke="#a2b9e4" stroke-width="1.7"/><path d="M596.2 429.2l1.4 0.1M593 391.1l0.1 0.1M602.2 430.8l0 0.1M620.8 442.3l0 0M661.7 439.3l1 0M605.6 402.5l-0.1 0.2M621.4 407.9l0.8 0.2M597.1 390.9l1.1 0.1M626.3 406.5l-0.1 0.2M598 440.1l-0.8 0.3M620.6 425.9l0.1 1.2M624.1 404.4l0.8 1.3M642.8 447.8l0.9 0.4M660 403.7l0.1 0.1M633.8 395l-0.5 0.8M652.2 404.1l-0.8 0.3M593.9 398.6l0.8 0M660.9 415.5l0.7 0.1M609 389.6l1.1 0.2M626.4 408.2l0 0.1M617 406.8l0.7 0.9M619.4 438.1l0.2 0.4M608.1 402.9l-0.5 0.3M616.5 432.5l0.1 0.1M605.3 436.6l-1.1 0.7M646.4 412.7l-0.9 0.3M596.5 408.8l0.5 0.4M616 426.1l0.5 0.1M640.9 406.2l0.9 0.7M650.9 439.8l0 0M647 431.3l0.8 0.7M607 425.8l1.1 0.8M653.8 408.6l-0.4 0.1M619.1 430.6l-0.8 0.5M657.4 421.1l1.2 0.3M611.9 404.8l-0.6 1M597.4 397.2l0.2 0.1M653.3 429l0.3 0.4M618.9 420.7l-0 0.7M621 409.8l1.3 0.2M608.8 447.7l-0.7 0.2M645.4 412l0 0M647.1 422.5l-0.1 0.4M614.3 406l0.6 0.8M669.5 395l-0 1.3M594.6 409l-0.4 0.7M589.8 423.3l-0.2 0.1M636.5 390.5l0 0.5M593.5 401l0.1 1M602 411l1 0.6" stroke="#a2b9e4" stroke-width="2.0"/><path d="M623.6 440.7l0.9 1.3M611.9 421.1l0.5 1.2M620.1 410l0.2 1.2M619.4 441.5l1.3 0.9M664.7 391.2l0.4 0.4M598.7 441.4l-0.6 0.3M626 433.1l-0.2 0M630.2 442.4l-1.4 0.1M656.6 436.7l0.1 0M604.9 438.5l0.8 0.9M668.1 441.7l-0.1 1.1M627.7 419.5l0.1 0.3M601.1 434.8l0 0.1M592.9 439.5l-0.7 1.1M594.8 404.2l0.4 0.5M601.4 428.9l-0.3 0.9M605 397.7l-0.5 0.3M641 436.3l-0 0M654.9 423.1l1.5 0.5M662.4 396.6l1.2 0.6M665.7 411.9l0.1 0.2M623.1 438.1l-1.5 0.4M655.9 404.8l0 0.1M592 426.6l-0.5 0.3M646.5 448.5l1.6 0.1M661.5 438.2l0.2 0.1M622.3 413.6l0.1 1.1M623.6 414.8l0.8 0.3M653.6 424l-0.2 0.3M595.6 426.6l-0.6 0.7M632.7 391.9l-0.3 0.8" stroke="#7896d4" stroke-width="1.1"/><path d="M618.4 429.1l0.2 0.6M620.8 415.3l-0 0.3M603.5 411.7l-0.8 1.4M635.1 415l-1.5 0.3M597.9 401l0.7 0.6M627.8 443.2l0.4 0.4M615.9 403.3l0.5 1.1M633.6 442.2l0.7 1.1M649.8 420.8l-0.3 0.3M601 430l0.4 0.1M617.8 449l0 0M620 447.5l-0.1 0.5M657.6 401l0.6 0.9M622.5 438l0.3 0.1M598.9 415.2l0.2 0.2M664 432.7l0.6 1.3M598.9 409.1l0.2 1.2M666.1 397.8l-0.6 0.4M612 413.9l-0.1 1.3M621.1 401.7l-0.4 1.1M622.3 404.7l0.6 0.8M640.5 443.6l-0.2 0.3M615.2 389.8l0.2 0.3M667.5 450.2l-0.2 0.1M601.7 413.1l0.6 0.9M617.4 393.1l0.1 0.3" stroke="#7896d4" stroke-width="1.4"/><path d="M626.5 436.2l-0.1 0.5M611.9 409.5l0.5 0.2M612 441.4l1.1 0.3M650 416.6l-0.2 0.8M639.8 424.3l0.4 0.7M604.2 440.7l0.4 0.4M609.9 416.6l0.9 1M602.3 418.9l0.5 0.4M593.5 412.3l-0.3 0.8M619.9 421.8l-0.8 1.1M653.8 401l-0.7 0.8M614.3 397.4l-0.2 1.5M598.8 437.2l-1.4 0.7M613.1 442.3l-1.6 0.2M599.1 397.5l1.2 0.1M635.5 426.7l-0.3 0.8M620.3 439.2l0.7 0.5M626.1 402.6l1.1 0.3M641.8 405.7l-1 0.2M608.9 444.2l1.2 0.6M645.1 407.5l-1.2 0.4M626.5 448.8l-0.4 0.1M637.3 432l0.4 0.2M670.4 395.2l-0.1 0.3M623.1 396.8l-0 0M664.2 446.5l0.4 0.5M661.8 413.1l-0.1 0.3M629.9 414.6l-0.2 0.1M626.3 391.2l0.5 0.1M671.8 406.8l1.1 0.5M656.9 433.3l0 0.9M605.6 404.5l-0.7 0.2M661.8 423.3l0.1 0.6M628.4 448.1l0 0.8M611.5 393.2l-1.1 0.1M596.8 392.7l-0.2 0.1" stroke="#7896d4" stroke-width="1.7"/><path d="M618.1 423.9l0.1 0M626.7 440.3l-0.7 0.9M629.9 411.5l0.5 1.2M597.3 404l0 0.1M636.2 415.6l0.8 0.9M629.7 392.4l-0.1 0.4M634.9 391.6l0.2 0.7M602.7 430l0.4 0M637.4 394.8l-0.7 0.4M602.5 416.3l0.9 0.5M625.4 391.7l1.3 0.4M609.8 406.7l0.3 0.4M599.4 431.6l1.6 0.3M606.9 405.7l-0.7 0.8M601.9 440.2l1.1 0.8M604.4 450.2l0.3 0.1M607 420.8l-0.5 1.1M602.2 434.6l0 0.8M630.1 395.5l-0.6 1.3M644.2 433.6l-0.5 0.9M598.2 436.4l0.3 1.6M598.2 405.6l0.9 0.1M635.8 441l0.3 0.7M601.3 450.2l-0.1 0.1M631.7 400.9l0.1 1M627.2 412.3l0.7 0.5M609.9 415l1.5 0.2M670.2 396.4l-0.4 0.4M599.7 414.6l0.1 0.4M606.3 400l-1 0.3M590.8 410.6l0.8 1.3M605.4 399.4l-0.2 0.8M635 418.2l-0.9 1M638.8 389.9l0.7 0.8M613 431.9l-0.2 0M625.2 392l1.1 0.3M599.8 438.6l-0.1 0.2M641.5 435l-0.1 0.9M613.9 412.5l-0 0.2M595.5 444.4l-0.3 0.1M593.3 430.2l-0.5 0.3M603.9 448.2l-0 0.7" stroke="#7896d4" stroke-width="2.0"/></g><g fill="none" stroke-linecap="round" stroke-opacity="0.85" filter="url(#blr)"><path d="M636.5 412.1h0.3" stroke="#7d2a10" stroke-width="1.3"/><path d="M657.3 421.5h0.3" stroke="#7d2a10" stroke-width="1.4"/><path d="M600.5 425.4h0" stroke="#7d2a10" stroke-width="1.5"/><path d="M655.7 398h0.3M603.3 408.5h0.4" stroke="#7d2a10" stroke-width="1.6"/><path d="M592 435.3h0.6M636.8 432.4h0.5" stroke="#7d2a10" stroke-width="1.7"/><path d="M606.2 395.8h0.5M639.2 423.7h0.3" stroke="#7d2a10" stroke-width="1.8"/><path d="M631.9 399.5h0.2" stroke="#7d2a10" stroke-width="2.3"/><path d="M661.4 412.9h0.6" stroke="#7d2a10" stroke-width="2.4"/><path d="M656.3 412.5h0.4M611.7 407.5h0.4" stroke="#7d2a10" stroke-width="2.7"/></g>
</g>
<g clip-path="url(#c20)">
<rect x="413.1" y="455.8" width="82.4" height="61.3" fill="#e1e9f6"/><g fill="#f7f9fd" fill-opacity="0.75" filter="url(#blw)"><ellipse cx="456.1" cy="505.3" rx="15.6" ry="6"/><ellipse cx="476.2" cy="499" rx="12.6" ry="4.8"/><ellipse cx="415.3" cy="479.3" rx="13.5" ry="5.8"/><ellipse cx="454.4" cy="475.3" rx="14.5" ry="10.6"/><ellipse cx="446.2" cy="517" rx="6.6" ry="9.7"/></g><g fill="none" stroke-linecap="round" filter="url(#blr)"><path d="M487.4 476.5l-0.5 0.7M489.2 509l0.7 0.1M464 468l-1.3 0.6M451.5 510.1l0.6 0.8M471 498.4l-1 0.6M433.5 475.9l-0.4 1.4M466.9 497.5l0.3 0.2M454 503.2l1 1M467.9 474.6l-1.3 0.9M455.7 515.8l-0.6 0.2M465.2 469.1l-0.1 0.8M427.4 481.3l-0.2 0M481.1 487.6l0.3 1M495.2 493l-0.4 1M456.5 456.7l0 0.1M474 474.5l-1.5 0.3M422.9 516.6l0.1 0M473.8 503.7l1.1 0.5M447.2 509l0.9 1.1M467 491.5l-0.3 1.1M433.1 457.8l-0.1 0.4M461.8 492.1l0.2 0.4M477.5 472.1l-0.7 0.7M489.3 460.9l0.5 0.4M431.6 502.8l0.1 0.1M454.8 515.7l-0.1 1.4M468.6 492.9l-0.8 0.1M440.8 465.3l0 0M489.8 458.6l0 1.2M469.4 516.8l0.2 1.1M467.3 461.4l-0.2 0.5M469.2 489.7l-0.9 0.4M417.2 500.4l-0.2 0M472.6 470l0.2 0.4M438.4 510l-0.9 1.1M477.3 515.8l-0.5 0.1M447 493.1l-0.2 1M415 465.8l0.1 0.1M459.3 499.5l1 0.9M468.8 459.3l-0.3 0.8M465 506.6l1.1 0.6M448.9 489.6l-0.8 0.2M463.7 497.3l0.5 0.4M413.6 507.2l-0.3 0.6M462 510l0.3 1M495.2 463.1l1.1 0.2M419.4 470l-0.9 0.4M443.1 498.5l1.1 0.8M428.6 464.1l0.8 0.2M482.1 459.3l-0.7 0.7M438.3 457.9l-0.4 1.4M431.5 491.3l0.5 1M495.1 469.3l0.6 0.6M464.6 474.3l-0.6 1M494.2 477.9l0 0.5M448.5 490.1l-0.7 0.6M455.5 467.3l-0.6 0.4M414.1 488.2l0.3 0.7M478.7 461.2l1.1 0.2M457.6 490.9l-0.2 1.4M413.5 516.9l0.4 0.2M491.5 509l-0.1 1M478.9 513.8l0.1 0.4M485.8 473.7l-0.4 0.9M470.5 470.5l-0.5 1.4M492.6 513.6l-0.1 0.2M483.7 467.9l1.1 0.1M454.9 508.4l-0.5 0.5M484.8 497.5l0.6 1M441 505.1l0.3 0.2M429.1 459.5l-0.7 0.7M444.3 464.2l-0.1 0.2M489.9 461.4l-1 0.3M454.1 457.2l-1 1.1M469.8 504l0.2 0.1M480.6 478.4l-0.8 0.1M469.5 487.5l0.3 0.6M481.1 481.8l-0.9 0.1M473.7 461.5l0.6 0.5M446.6 480.4l0.1 0.1M493.7 467.7l0 0.1M465.4 465.6l0 1.3M414.4 467l1.1 0.4M429.6 509.7l0.3 0.1M458.8 499.8l1.1 0.4M474.8 510.4l0 0.1" stroke="#c6cfea" stroke-width="1.1"/><path d="M427 514.9l-1.1 1.1M491.9 480.8l0.3 1.2M475.9 460.2l-1.3 0.2M460.2 512.4l0.6 0.3M479.9 456.5l1.1 0.1M438.4 510.7l-0.6 0.2M455.6 508.4l1.1 0.6M444.8 505.4l-0 0.4M490.9 509.3l-0.2 0.4M494.7 482.8l-1 0.2M464.4 456.8l1.2 0.4M478.6 473.4l1.3 0.3M461.2 466.2l0.5 0.6M454.8 464.9l-1.4 0.2M479.4 499.5l1.4 0M478.5 458.5l0.1 0.4M476.9 467.5l1.3 0.1M457.8 503.9l0.1 0.3M491.6 479.5l0.2 0.5M478.7 507.8l0.3 0M417 461.9l0.5 0.4M464.7 492.6l-0.1 0.2M491.5 491.1l0.3 1.3M420.3 487.5l-0.5 0.5M471.1 467.7l-0.6 0.1M493.2 485.2l0.2 0.1M471.1 469.3l-0 0.7M440.5 464.8l-0.7 1M489.3 458.4l1.1 0.2M475.7 511.7l-0.3 0.7M457.9 507.8l0.1 0.1M479.7 473.6l-0 0M461 485.1l-0.2 0.1M425.7 477.3l-0.6 1M467.6 485.9l0.5 0.3M465.8 473.6l0.2 0.1M464.9 463.8l0.1 0.1M427.2 507.8l-0.2 1.1M469.4 478.5l0.3 0.2M452.8 498.9l0.5 0.7M415.5 493.1l0.5 1.5M470.8 471.3l1.6 0.1M466 516.3l0.6 0.3M440.1 497.9l-0.5 1.1M442.1 499.3l-0.2 1.2M489.6 458.3l-1.2 0M476.6 497.5l0.2 1.3M487.2 509.8l-1.4 0.2M449.2 502.4l-0.5 0.5M474 457.6l-0.6 0.4M413.4 487.4l1.3 0.7M454.2 496.8l-0.6 0.2M468.1 464.8l-0.6 0.8M453.8 497.8l-0.2 0M434.6 516.1l0.2 0.1M439.7 507l1.2 0.1M422.7 462.1l0.2 1.2M447.3 498.4l-0.6 1M467 503.7l-0.3 0.2M454 515.5l-0.2 0.2M492 480.6l0.2 0M432.8 506.7l-1 1.1M456.6 516.5l-0.3 0.5M460.3 504.1l0.1 1.5M461.4 459.5l-0.1 1.1M414.8 470.6l-0.2 0.7M495.3 457.6l-0 0M443.5 502.2l-0.7 0.4M421 503.4l-0.4 1.5M469 466.4l0.3 0.5M481.6 477.2l1 0.6M481.7 467l-0 0.4M481.4 482.2l-1 0.2M417.3 513.5l-0.6 1.3M458.4 494.3l-0 0" stroke="#c6cfea" stroke-width="1.4"/><path d="M446.5 463l0.1 0M457 511.1l0.3 0.4M488 491.3l-0 0M454.7 488.7l0.3 0M480.6 515.6l-0.1 0.1M439.6 514.9l-0.1 1.5M436.6 493.3l-0.9 0.3M451.1 495.6l-0 0M431.4 476.1l1 0.8M457.1 487.8l0.6 0.9M477.6 510.1l-0.8 0.5M430.7 457.8l0.9 0.8M471.3 469l0.4 0.6M440.3 515.1l1.2 0.3M461.8 488.4l1 1.1M413.8 495.6l-0 1.4M450.7 493.4l-0.4 0.3M446.4 494.3l0.3 0.9M491.1 470.8l0 0M484.9 481.3l0.1 0.5M473.1 476.4l0 1.4M490.6 461l-0.4 0.6M488.4 458l1.4 0.7M467.4 487.1l0.2 0.1M449.3 496.7l-1 0.2M469.7 493.3l0.7 1M441.2 509.5l0 0M454.8 498.5l-0.6 1M461.1 510.5l0 1M417.1 459.1l0.1 0.4M455.4 512.4l0.2 0.6M420.5 472.6l0.5 0.4M461.9 497.1l-1 0.8M415.7 481l-0.9 0.6M449.9 473.6l-0.4 0.5M495.1 485l-0.3 0.5M495 479.9l-0.4 0.6M474.8 502.4l-0 0M484.6 473.8l0.5 0.8M483.6 456.2l0 0M440.2 499l-0.9 0.6M424 462.6l-1 1M467.8 497.9l-0.2 0.9M476 469.1l1.5 0.2M488.5 478.9l0.3 0.2M488.9 485.2l-0.3 0.3M421.1 493.4l1.1 0.2M462.3 507l0.6 0.1M458.1 467.5l0.1 0M474.3 503.5l0.3 1M463.2 459.2l1.5 0.4M414.5 494.7l0.9 0.5M480.2 456.2l1.3 0.7M475.9 499.7l0.5 0.8M466.1 459.6l-0.3 0.9M434.5 499.7l-0.9 0.7M488.5 459l0.1 0.6M429.6 507.3l-1 0.6M480.1 487.6l0.7 1.2M447.9 515l0 1.2M429.4 503.4l0.4 0.4M486.1 509.7l0.3 1.3M489.7 456.6l-0.3 1M426.8 483.2l-0.1 0.6M431.1 473.3l0.1 0.5M463.3 466.1l-1.1 0.5M448.3 516.1l0.6 0.7M462.2 497.4l-1.1 0.3M474 516.9l0.6 0.1M490.8 512.7l-0 0M421.7 493.9l0.6 0.2M443.3 499.2l-1 0M448.3 514.4l1.2 1M481.2 462l0.7 0.4M452.1 514.8l0.7 0.5M413.7 488.4l0.6 0M469.8 457.9l-0 0.1M465.1 506.7l0 0M466.2 503l1.2 0.7M492.3 464.2l0.4 1.4" stroke="#c6cfea" stroke-width="1.7"/><path d="M452.1 459.1l-0 0M494.2 504.1l-0.7 0.2M490.8 469.9l0.5 0.9M473.9 505.7l0.9 0.8M437.5 493.3l-0.7 0.5M491.5 502.8l-0.6 0.4M483.3 462.9l-0.8 1.3M450.9 502.7l-0.5 0.1M449.8 491.8l0.3 1M473.2 483.2l0.4 0.1M455.7 491.4l-0 0M447.8 459.1l-0.3 1.1M462.7 478.4l-0.4 0.7M475.7 485.2l-0.3 0.1M466.2 495.7l0.2 0.7M436.7 513.9l0.7 0M426.9 513l-0.4 0.4M456.6 506.4l0.6 0.3M486.6 472.4l-1.1 0.7M466.5 491.5l-0.5 0.6M488.5 481.9l0.9 0.3M483.6 468.6l0.5 0.7M471.8 505.6l0.6 0.7M431.8 505.4l-0 0M416 507.7l-0.1 0.2M482.5 496.8l0.2 0.2M462.9 498.9l-0.7 0.9M470.1 492.8l-0.1 0M437.4 483.6l0.7 1M470.1 491.9l-0.2 0.2M437.9 469.2l0.1 0.7M452.1 515.7l0.4 0.2M486.8 483.3l0.7 0.3M430.6 486.6l-0.4 0M442.8 505.2l0.1 0.1M462 495.5l-0 0.2M484.7 484.9l-0.5 0.7M484.7 475l-0.6 0.9M464.6 501.2l0.4 0.8M432.7 476.9l-0.4 0.3M472.4 455.8l-0.9 0.2M413.2 483.5l0.4 0.6M422.3 494l-0.9 1M470.1 507.5l0.7 0.4M427.3 516.2l0.9 0.9M421.1 510.6l0.1 0.1M474.8 462.6l-0.1 0.4M480.9 482.9l-0 0.5M424 480.1l1 0M455.2 507.1l0.4 0.2M491.6 469.6l1.1 0.2M460.3 457.6l0.3 0.3M471 504.3l-0.9 0.6M489.2 461.2l-0.3 1M453.8 485.8l0.1 0.2M461.3 508.2l-0.4 1.2M468 484.5l-1.2 0.3M428.8 486l0.5 1.4M463.5 472.1l-1 0.1M462.1 463.9l0.6 0.3M471.3 465.9l-0.2 1M439.6 471.5l-0.9 0.3M455.7 513.3l-0.4 0.7M473 468.1l1 0.3M433.7 468.5l1.4 0.3M481.1 513.9l-1 1.2M443 511.9l-0.5 0.5M481.7 484.6l-0.4 1.2M447.6 511.9l0 0.3M414.8 502.7l-1.1 0.4M484.4 462.2l0.9 1.3M495.1 513l-0.2 1.1M414.6 506.8l1 0.3M483.4 470.8l0.4 0.2M459.2 495.1l-0.7 0.9M492.1 458.1l-0.5 1.3M479.8 458l-0.1 0M446.7 508.4l0 0.7" stroke="#c6cfea" stroke-width="2.0"/><path d="M495 478.3l-0.4 0.3M469 509.4l0.5 1.2M462.9 509.8l-0 0M494.5 483.5l0.5 0.9M431.7 493.3l-0.5 0.4M448.2 516.7l0.9 0.5M429.7 516.7l0.5 1.5M481.6 457l0.2 0.7M452.4 504.7l-0.4 0.6M421.4 494l1.1 0.1M428.8 490l0.1 0.4M420.6 478.5l-0.8 1M458.6 480.1l0.3 0.1M491.2 465.5l-0.7 1.2M428.9 461.8l-0.3 0M491.3 486.1l-1.3 0.6M483.5 468.6l0.7 0.4M480.9 468l-0.5 0.4M477.8 514.9l-0.3 0.3M478 493.7l0.6 0.2M464.1 472.1l-0.9 0.7M455.8 507.3l-0 0.1M445.9 481.3l0.2 1.2M467.5 506.8l0.2 0.5M453.3 502.5l0.4 1.4M449.1 498.8l-0.5 0.3M475.9 503.6l-1.5 0.2M467.7 511.8l-0.8 0.5M438.7 469.8l0.5 0.9M452.1 504.6l0.6 0.1M438.5 512.6l-0.9 0.3M428.8 497.8l-0.5 1.5M457.6 515.8l-0.7 1.2M475.5 473.3l0.1 0.2M468.2 480.2l-0 0M486 469.8l0.5 1.2M470 509.3l0 0.4M480.2 481l-0.9 0M460.2 478.4l-0.7 0.1M492.7 470.9l1.5 0.1M479.6 485.1l-0.2 0.3M441.3 457.9l-0.1 0M494.2 471.7l0.6 0.3M475.2 465.8l-0.6 0.3M424.4 508.2l-0.1 0M468.7 501.1l0.5 0.6M442.6 499.6l-0.1 0.4M455.3 493.6l-0.1 0.4M447.9 468.4l-0.6 0.7M475.9 474.1l-0.2 0.4M471.4 510.8l1.5 0.2M439.9 479.4l-0.4 0.3M457.3 467.2l0.2 0.1" stroke="#a0acd8" stroke-width="1.1"/><path d="M419.5 484l-0.5 1.5M455.8 487.9l0.1 0.7M440.7 460.5l-0.3 0.1M487.8 479.6l-0.3 0.6M430.8 471.6l0.8 1.2M465.3 490.1l0.4 0.2M460.5 474.3l-0.7 0.5M484.8 470.7l0.5 0.9M468.3 500.8l0.9 0.5M482.1 466.6l-1 0.4M483.9 480l-0.7 0.9M441 508l-0.9 0.3M426.3 511.1l-1.4 0.3M416.7 457.7l1.6 0.3M424.7 492.3l0.1 0.4M438.6 486.4l-0.4 1.2M458.7 493.6l-0.2 0.2M468.5 476.1l-0.1 1.3M477.7 511.9l-0.1 0.7M478.7 498.6l0.3 0.3M487.9 475.7l-0.1 0.6M443.3 512.4l-0.7 0.5M445.3 508.3l-0.2 0.6M433.9 499.8l-0.4 0.4M432.5 498l0.1 1.1M422.4 502.7l-0.6 1.3M440.2 511.1l0.1 0.7M444.1 491.9l-1.1 0.8M457.3 461.1l0.5 0.1M479.8 514.6l-0.2 0.6M456.1 507.8l0.4 0.4M474.7 462.3l-0.1 0.2M462.3 497.6l-0.6 0.2M469.1 480.1l-0.6 0.9M445.9 484l0.4 0.8M486 459.3l0 0.6M465.6 473.9l-0.4 1.1M425.7 512.8l0.7 1M433.8 473.3l-0.3 0.2M488.5 483.5l-1.2 0.9M427.3 504.7l0 0M470.8 503.6l0 0.2M461.4 503.9l-0.7 1.2M474.5 502.1l0.2 0.2M448.9 461.4l1 1.1M466.4 470.5l-0.1 1M441.9 491l-0.6 0.2M468.8 456l-1.3 0.8M486.7 496.4l0.2 0.9M486.6 482.1l0.3 0.5M437.8 457.3l-0.5 0.6M453.7 493.7l-1.1 0.1M446.4 481.6l0.6 0.9M459.8 480.7l-0.8 0.2M441.5 503.3l0.4 0.3M426 494.2l-0.4 1.3M473 456l1 1.2M413.9 494.2l1.1 0.6" stroke="#a0acd8" stroke-width="1.4"/><path d="M439.6 502.3l0 1.5M476.8 464.4l0.2 0.4M414.5 461.2l0.5 0.7M417.7 487.3l-0.2 0.9M462.1 457.9l0.7 0.6M494 515.3l-0.3 0.2M442.1 459.2l-0 0M451 468.6l0.2 0.5M487.8 484.1l0.4 1.4M463.8 506.5l-0.2 0.3M485.4 459.4l0.7 0.8M462 464.1l0 0.9M451.4 491.4l-0.4 0.1M442.2 503.3l0.5 0.3M414.6 498l1 1.2M434.7 460.6l-0.9 0.5M456.4 508.3l0.2 1.3M481.7 470l-0.1 0.1M447.6 491.6l-1 0.4M491.2 480.3l-0.2 0.2M443.1 495.1l0.5 0.5M458.7 468.9l0.1 0.8M472.3 505.2l0.4 0.1M456.7 481.1l1.6 0.3M462.5 482l0.1 0.3M437.3 505.5l-0.1 1.3M446.8 483.5l0.2 0.2M462.1 502l0.7 1.1M423.8 508.5l0.2 0.5M469.5 499.8l-0 0.1M448.1 465.2l-0.2 0M472.6 516.2l-0 0.3M421.4 500.2l0.4 1.3M443.2 513.3l-0.3 0.3M460.9 503.4l1 0.4M489.6 465.8l-0.6 0.6M453.2 505.3l-0.1 0.1M476.8 504.7l0.5 0.6M428.7 477.9l-0.6 0.8M416.6 469.2l-0 0M431.7 472.3l0.7 0.8M464.5 485.7l-0.3 0.1M430.1 469.8l1.1 0.1M476.4 472.1l0 0M490.3 488.4l0.8 0.5M478.7 487.4l0 0.3M469.7 459.3l-0.3 0.9M434.7 463.8l-0.5 0.1M488 516l-0.2 0M491.2 477.2l-0.1 0.1M434 484.4l1.1 0.9M469.1 501.1l-0.5 0M458.5 486.6l-0.7 0.3" stroke="#a0acd8" stroke-width="1.7"/><path d="M434.1 460.3l0.5 0.4M463.1 514.2l0.8 0.8M449.5 507.6l0 0M458.7 506.3l0.1 0.9M442 470.4l0 0M479.5 488.5l0.5 0.8M422.2 490.4l-0.4 0M478.9 481.5l-1.2 1M428.7 502.3l0.1 0.8M439.8 515.7l0.5 0.1M424.3 492.1l0.4 0.2M439.9 472l0 0.9M480.7 489.3l0.9 0.4M466.7 469.6l1 0.2M460.5 502.4l-0.9 1M470.6 501.3l0 0.2M414.5 509.3l0.2 0M461.2 490.6l0.4 0.9M416.5 483.3l-0.3 1.2M451.6 494l-0 0.1M451.8 515.1l-1.3 0.7M477 482.2l0.2 0.6M487.5 487.2l0.8 0.2M428.9 497.9l-0.7 1.4M430.6 512.9l0.4 0.3M480.5 484.3l0.8 0.9M417.6 498.6l0 0.1M460.6 465.4l-0.1 0.7M434.4 472.6l0.1 1.6M482.2 467.8l0.2 0.9M424.6 468.7l-0.6 0.5M451.4 505.5l-1.1 0.3M441.5 510.7l-0 0M444.1 513.4l0.5 0.8M465.5 491.8l-0.8 0.8M479.4 463.5l-0.6 0.5M490.4 481l-0.1 0.6M487.2 503.9l0.8 0.6M493.4 483.1l-0.8 1.3M490.2 464.8l0.1 0M466.3 473.8l-0.5 0.2M469.6 478.4l-0.7 0.7M443.6 485l-0.8 1.3M492.9 469.8l0.6 0.8M482.1 504.3l-0.9 0.9M475.5 479.7l0.1 1M420.8 467.4l0.6 0.3M455.8 457.5l0.7 0.6M444.8 489.1l0 0M456.8 500.3l0.3 0.1M488.5 488.1l-0 1.3M450.6 500.8l1.1 0.5M463.7 502.5l0.2 1M460.7 514.4l0 0.4M453 501.1l0.5 0.5M416.2 503.9l0 0.3M461 496.7l-0.1 0.2M460.7 492.8l-1.3 0.8M449.6 502.6l1 0.7M441.3 480.2l-0.6 0.2M465.3 508.7l0.6 0.2" stroke="#a0acd8" stroke-width="2.0"/><path d="M463.6 516.7l-0.6 0.4M438.5 515.3l-0 0.1M460.6 476.9l-1.5 0.2M454.8 486.2l-0.2 0.4M422.6 459.9l0.4 1.2M468.2 510.5l-0.6 0.3M473.2 460l-0.1 0.3M463.5 473.3l0.9 1.1M472.2 501.7l0.2 0.8M483.6 466.8l-0.6 0.3M477.7 460.1l0.3 0.2M436.9 469.7l0.4 0.4M451.3 489.7l0.7 1.1M467.2 479.9l0 0.1M415.8 481.7l0.5 1.5M429.3 498.4l1.3 0.7M470.7 458.9l0.2 0.1M469 478.1l1.5 0.3M429.2 456.7l0.6 0.2M471.1 470.3l0.7 1.2M464.7 513.3l-0.1 1.4M479.6 495.9l-1.4 0M445 504.7l-0.5 1.1M445.4 501.2l1 0.3M434.5 486.4l-0.9 0.4M445.6 476.8l0.4 0.4M474.1 517l0.7 0.3M448.4 512.3l-0.7 1M442.2 511.5l0.9 1.3M464.1 455.8l-0.1 1.4M453.5 502.7l0.1 0.2M490.6 472l-0.1 1.6" stroke="#7a88c4" stroke-width="1.1"/><path d="M457.8 515.8l1.3 0.2M448 471.7l0.9 0.7M470.2 470.5l0.1 0.8M446.6 515.7l0.5 0.6M460.9 479.3l-1.1 0.6M445.6 513.7l-1.2 0.3M465 480.7l-0.9 1.2M452.8 458.9l1.3 0.5M457.2 468.7l0.1 0.2M451.3 504.4l1.1 0.6M476.4 462.8l1 1.2M474.1 505.5l-0.8 0.1M450.1 489.8l-0.8 0.4M483.8 487.4l-0.8 1.2M468.1 470.4l-0.9 0.5M488.5 473.3l-0.3 0M462.1 474.1l0.1 0.7M462.9 490.2l0.8 0.9M493.1 485.8l-1 1M427.9 485.1l0.2 0.3M482.4 469.9l0.1 1M474.1 508.4l0.9 0.9M464.6 503.8l-0.3 0.7M481.8 493.6l-0.3 1.3M428.8 513.4l-0.5 0.4M445.2 489l-1.1 0.9M428.9 458.9l0 1.3M494 468l0.3 0.4M446.7 498.3l0.9 0.2M456.1 463.8l1 0.4M461.7 508.9l0.9 0.2M436 470.1l1 0.6M449.8 494.7l0.4 0.2M488.3 471.7l-0.4 0.3M478.2 484.3l-0.4 0.9M493.4 510.4l0.1 1.5M477 486l0.2 0.6M455.2 474.2l0.3 1.1" stroke="#7a88c4" stroke-width="1.4"/><path d="M452.2 516.9l0 0M417.4 501.9l0.9 0M417.2 515.5l1.3 0.2M423.7 465.4l0.7 0.2M413.8 481.7l-1.5 0.3M429.2 488.2l0.2 0.7M460.9 514.5l0.3 1M487.8 508.3l0.1 0.9M457.5 498.3l0 0.7M433.9 469.2l0.5 0.6M472.5 486.3l0.8 1M429.1 466.9l0.5 0.9M442 467.4l-0.1 0.1M420.2 508.9l-1.1 0.4M483.4 465.4l1.1 0.4M484.7 510.8l0 0.1M451.5 462.7l-0.4 1.4M482.7 482.2l-0.3 1M445.7 516.7l-0.3 0.2M490.7 500.8l0.2 0.4M420.6 496.7l0.2 0.5M487.4 517l1.5 0.1M418 494.5l0.3 0.9M454.4 503.5l-0.8 0.3M451.4 490.8l-0.7 0.4M477.1 478.5l0.8 0.5M431.1 514.8l-0.5 0.1M431.3 504.5l-0.4 0.7M453.8 517.1l-0.1 0.3M458.2 495l0.9 0.8M461.4 470.8l-0 0.8M442.6 478l-0.2 0.1M445.7 488.1l-0.5 0.3M464.1 502.9l-0.5 1.1M463.7 501.4l0.4 0.6M453.3 474.3l-0.1 0.8M477.5 487.4l0.5 0.3M483.2 487.2l0.2 0.6M480.3 498.7l0.5 1.1" stroke="#7a88c4" stroke-width="1.7"/><path d="M469.6 480.5l-0.3 0M489.4 461.5l-0.1 0.8M439.9 463l0.2 1.3M467.8 464.5l-1.2 0.5M478.5 470.3l-0.6 0.1M426.6 500.6l0 0.4M420.3 502.1l0.5 0.2M463.8 474.2l-0.6 1.2M462.6 463.7l-0.1 1.2M457 467.9l-0.3 0.1M472.7 514.6l-1.3 0.1M456.5 478.3l0.5 0.1M459.4 485l-1.3 0.2M443.1 493.9l0.5 1M475.4 460.5l0.3 0.1M472.9 508.3l1.4 0.1M470.1 498.3l0.4 0.4M472.7 474.3l0 0M437 502.7l1.1 0.2M455.3 500.8l0.4 0.2M456 492.9l0.8 0.8M467.6 496.2l0 0.5M418.8 468.1l0.2 0M493.9 482.5l1.1 0.4M459.9 466.3l-0.3 0.1M456.1 492.8l-0.6 0.3M431.2 507.4l0.5 0.7M460.1 457.5l0.7 0.4M445.4 506.3l1.2 0M473 474.4l0.6 0.1M455.4 509.2l-0.3 0.7M459.9 487.8l1.5 0.4M464.3 503.1l0 0M471.5 463.5l-0.2 0.5M443.6 498.1l0.5 0.3M486.6 475.4l0.8 1M434.1 501l1 0.4M471.5 505.6l0.3 0.1M486 496.6l-0.6 1M456.3 507.4l-1.3 0.8M443.3 495.6l-0.1 0.2M425.8 481.5l0.8 0.2M479.1 489.8l1 1M472.3 512.6l0.8 1.4M451 486.3l1 0.5M483.1 464.8l-0.6 0.4M451.5 493.6l0.1 1.6" stroke="#7a88c4" stroke-width="2.0"/></g><g fill="none" stroke-linecap="round" stroke-opacity="0.85" filter="url(#blr)"><path d="M474.1 498.4h0" stroke="#a06a40" stroke-width="1.1"/><path d="M453 505.7h0M482.5 478.6h0.5" stroke="#a06a40" stroke-width="1.2"/><path d="M440.7 478.9h0.2" stroke="#a06a40" stroke-width="1.3"/><path d="M466.1 464.3h0" stroke="#a06a40" stroke-width="1.4"/><path d="M435.7 492.7h0.5M435.5 467.3h0" stroke="#a06a40" stroke-width="1.7"/><path d="M428 473.8h0.6" stroke="#a06a40" stroke-width="1.8"/><path d="M488 459.7h0.5M440.2 482.1h0.1" stroke="#a06a40" stroke-width="1.9"/><path d="M456.6 472.7h0.6" stroke="#a06a40" stroke-width="2.0"/><path d="M457.7 493.2h0" stroke="#a06a40" stroke-width="2.1"/></g>
</g>
<g clip-path="url(#c21)">
<rect x="501.3" y="455.8" width="82.5" height="61.3" fill="#e1e9f6"/><g fill="#f7f9fd" fill-opacity="0.75" filter="url(#blw)"><ellipse cx="516.3" cy="496.3" rx="9.3" ry="5.4"/><ellipse cx="541.7" cy="486.1" rx="10.8" ry="7.2"/><ellipse cx="523.1" cy="471.4" rx="12.9" ry="6.3"/><ellipse cx="557" cy="504.1" rx="14.7" ry="10.6"/><ellipse cx="520.7" cy="470.4" rx="13.3" ry="8"/></g><g fill="none" stroke-linecap="round" filter="url(#blr)"><path d="M530.7 516.3l0.4 0.2M571.2 476.1l-1.1 0M578 459.1l0.9 1.1M581.9 483.7l0.3 1.3M516.1 492.8l0.3 1.2M549.9 503.2l0.2 1.1M539.6 483.6l0.2 0.4M570.7 499.7l-1.3 0.1M524.8 502.3l-0.5 1.3M538.4 500.3l-0.4 0.4M578.2 473l0.7 0.9M539.7 480.4l0.1 0.1M511.9 514.8l0.5 0.6M569.2 475.6l-1.4 0M502.4 493.2l1.4 0.8M554.4 463.7l-0.1 0.3M555.6 473.9l-1.1 0.4M511.1 472.5l0.5 0.3M506.1 499.5l-1 0.7M525.1 484.9l-0.7 0.2M524.1 478.2l-0.9 0.8M562.8 473.2l0.8 1M523.2 513.5l-0.2 1.6M519.2 500.3l-0.5 0.8M545.5 483.5l0.1 0M549.1 472.9l0 0.3M515 507l0.5 0.2M580.6 495.5l1 0.7M535 473.2l-1 1.1M563.9 490.1l-0.8 0M503.1 510.5l0.1 1.5M576.2 464.7l-0.1 0M535.3 491.6l-0.7 0.6M554.6 465.1l-0 1M548.6 511.4l0 0.7M505.7 494.7l0.1 0.3M553.6 487.8l0.1 0M522.7 491.7l1.1 0.9M555.8 498.5l0.3 1.3M529.4 493.1l-0.6 0.7M516.7 505.7l-0.4 0.2M544.1 516.9l1 0.3M550.1 461l0.4 0M565.9 517l-0.2 0.3M507.3 512l-0.9 0.1M535.9 469.7l-0.6 0M580.6 459.9l-0.3 0.5M524.9 512.9l-0.1 0.9M563.9 487.7l-0.6 0.1M514.3 507.7l-0.7 1.3M511 457.9l-0.1 0.7M518.6 480.7l0 0.1M512.1 491l-0 0.1M527.3 479.5l-0.5 0.3M505.1 502l-0.6 0.2M537.3 465l0.1 0.7M565.3 467.5l-0.5 0.3M551.2 515.4l-0.7 1M510.6 483.5l0.1 0.4M513.4 488.3l0.3 0.7M555.5 492.6l0.4 0.5M558.2 459l1.2 0.7M582.7 468.6l0.2 0.4M537.1 499.5l0.7 1M551.5 516.1l-0.5 0.2" stroke="#c4cdec" stroke-width="1.1"/><path d="M560.5 483.2l0.4 0.2M535.3 506.6l-0.5 0.5M579.7 475.6l-0.3 0.4M512.4 487.1l-0.3 0.5M575.7 482.2l-0.5 0.6M514.2 497.4l0.5 0.9M503.7 474.3l0.5 1.3M527.3 458.6l-1.3 0.2M530.2 507.5l0.3 0.7M511.7 485.7l1 1M571.1 477.2l0.8 0.8M576.8 455.8l-0.6 1.2M511.3 512.3l0.5 0.2M532.2 486.9l0.8 0.1M523.3 458.1l1.5 0.2M530.1 458.2l0 0.1M562.6 496l0.4 0.9M507.6 473.5l-0.1 0.9M525.1 481.5l-0.3 1.5M502.4 485.2l0.7 0.8M555.3 458.5l0.8 0.8M560.9 472.5l-0.3 0.3M507.3 489.5l0.4 0.4M574.3 485.5l-0.3 0.9M516.9 496.1l0.5 0.3M572.2 477.5l0.5 0.4M519 485.9l0.1 1.1M531.7 511.2l0 0M525 514.6l-0.3 0M568 476.1l0.4 0.1M548.8 479.2l1 0.6M556.3 469.9l0.1 0.3M520.9 514.7l-0.3 0.5M543.3 471.7l-0.6 0.1M573.7 469.2l-0.1 0.9M537.9 475.4l0.2 0.2M523.1 494.6l0.5 0.6M529.3 457.8l1 1.1M538.9 502.9l-0.8 0.5M535.5 508l-0.3 0.9M579.2 477.3l1 0.9M501.6 495.4l1 0.7M543.4 506.8l0.1 1.3M564.3 464.1l0.3 0.1M544.6 501.5l0.5 1.2M530.6 483l-0.3 0.5M509.2 474.9l-0.1 0M542.3 463.4l-0.1 1.4M515.7 489.8l-1.4 0M503.6 516.1l0.8 0.9M523.8 494.1l0.6 0.2M579.1 480.5l-1.2 0.7M512.7 474.6l0.1 0.8M522.7 493.8l0.6 1.5M565.9 496.3l0.6 0M504.5 502.1l-0.3 0.5M525.6 466l-0.2 1.2M581.9 508.8l0.2 0.8M505.4 460.5l1.2 0.6M522.2 481.6l0.3 0.6M508.7 481.4l-1 0.2M526.8 472l1.2 0.8M516.2 487.2l0 0.1M521.7 511l-1.3 0.7M562.3 494.6l-0.5 0.4M503.8 456.4l0.5 1.2M559.4 495.7l-0 0.1M531 503.5l0.2 0.5" stroke="#c4cdec" stroke-width="1.4"/><path d="M523.6 480.1l-0.4 1.1M562.9 490.4l0.2 0.1M542.5 470.7l-0.3 0.8M570 485.2l0.6 0.3M578.8 481.8l-0.4 0.9M569.7 472.1l-0.3 0.5M504.2 486.6l0.7 0.3M581.2 459.9l-0.1 0.3M511.7 504.8l0.6 0.8M506.7 465.1l0.5 0.4M531.7 485.3l-0.5 1.4M554.2 514.3l0.3 0.5M575.4 485.5l-0.7 1M515.4 505.3l-1.1 0.5M532.8 489.3l1.1 0.6M518.1 489l-1.3 0.3M510.8 486.1l0.3 0M512.9 498.9l-0 1.1M544.6 491.9l-1.5 0.2M537.1 512.8l1.4 0.2M531.6 500.3l-0.1 0.1M580.4 514.2l1 0.7M536.9 491.9l0.9 0.3M539.6 500.7l-0.9 0.1M560.7 465.8l-0.3 0.4M562.5 501.4l-0.4 0.2M515.4 465.9l0.1 0.1M543.9 459.3l0.4 0.9M543.8 461.8l-1.2 0.5M506.1 478.6l-0.3 0.2M502.9 486.9l-0.1 0.8M567.5 509.9l0.5 0.3M578 473.3l-0.6 0.1M542.2 516.1l0 0.1M569.9 497.2l0 0.1M535.5 512.1l-0.3 0.3M504.3 486.6l-0.8 1.3M561.9 477.4l-0.5 0.1M513.4 480.7l0.5 0.7M514 496.6l-0.4 1.1M530.8 471l0.3 0.4M544.2 498.8l-1.4 0.7M538.1 516.7l0.2 0M524.5 463.7l-1 0M536.4 497.4l-0.9 0.9M537.6 513.8l-0.1 0.1M525.9 488.5l1.1 0.8M540.5 487.1l0 0.1M531 474.5l-0.7 0.8M517.8 487.7l-1.1 0.8M580.8 470.3l0 0.1M506.1 481.5l0.2 1M571.4 479.5l-0.6 1M564.4 495.4l-0.1 1M558.4 469.4l1.1 0.3M504.8 516.7l0.8 0.3M513.6 492.9l-0.3 0.7M572.4 467.2l-0.7 1.1M520.4 503.7l-0.9 1.2M542.3 488.1l-1.2 0.1M502.9 481.1l-0.3 0.1M568.3 469.9l-0.1 0M502.1 507.9l-1.2 0.5M525.4 463.4l-0.4 0.9M509.3 503.4l0.2 0.2M550.6 486.2l0.1 0.6M554.3 509l0.2 1M553.3 515.2l-0.2 0.3M511.9 472.5l0.4 0.5M546 471.9l-0.6 0.9M583.3 498.3l0.3 0.1M543.7 500.1l1.2 0M536.7 510.6l-0.3 0.7M527.8 502.9l0.8 0.3M574 483.2l-0 0M508.3 502.7l0.6 1.3M508.7 457.4l0.3 0.2M526.6 488.8l-0.1 1.1M576.3 497.2l1.4 0.9M562.8 475.2l0.1 0.1M565.8 505.6l0.4 0.7" stroke="#c4cdec" stroke-width="1.7"/><path d="M541.7 471.1l-1.1 0.7M539.7 490.9l-1.4 0.2M514.7 515.6l-0.8 0.2M578.5 467.5l0.4 1M574.7 498.1l0.3 0.4M571.8 477.7l-1.2 0.6M503 507.8l-0.2 0.1M556.5 475.4l0.4 0.9M524.1 498.8l0.4 0.8M565.9 461.2l0.8 0.1M539.4 491.4l0 0.9M573.3 479.6l0.5 0.5M551.9 488.6l0 0.1M508.2 455.9l1 0.3M558.1 460.5l-0.4 0.2M554.7 474.9l0.5 0.7M509.5 493.2l0.9 0.2M570.5 456.6l-0.8 0.1M523.5 464.5l-0.7 0.2M508.6 486.9l-0.2 0.7M578.5 466.4l0 0M555.1 468.1l1.1 0.5M537.8 467.3l1.1 0.8M509.8 494l0.6 0.8M516.9 501.4l0.6 0.5M537.4 516l0.3 1M554.7 506.9l-0.6 1.1M560.4 485.2l0.5 1.2M576.5 474.7l0.2 0.7M579 498l0 0M511.2 489.8l0 0.2M535.7 499l-0.7 0.3M541 512l-0.1 0.5M562.6 483.1l-0.6 1.4M575.9 478.9l1.4 0.4M509.1 483l0 0M564.7 484.9l0.1 0.3M501.3 486.2l0.1 0.5M541.1 458.7l-0.1 0.3M561.7 463.6l-1.4 0.5M502.7 466.8l-0.5 1.5M564.1 510.3l1.1 1M530.7 514.6l-0.3 0.3M552.9 460l1.4 0.5M578.8 482.4l-1.1 0.1M517.9 496.1l0.7 0.8M528.3 510.7l-1.6 0M559.6 480l0 0.2M574.3 486l0.1 0M555.1 493.3l-0.2 0.3M504.1 475.6l-0.1 0.2M533 476.1l0.7 1.3M540.7 465.2l-0.1 0.3M515.1 494.8l0.1 1.2M556.2 507l-0.4 1.1M534.3 492.9l-0.2 0.4M506.7 478.1l1.3 0.2M513.3 507.1l1.3 0.8M578.5 504.9l-1.1 0.9M506.5 510l0.1 0.7M580.4 474.4l-0.6 0.7M556.3 507.9l-0.1 1M554.2 510.6l-0.1 0M503.9 506l0.4 1M519.4 472.1l0.9 0.4M564.4 462.4l-0.4 0.6M540.7 502.7l0.6 0.5M508 459l-1.3 0.2M567.3 469.6l-0.1 1.2M549 498.7l0.3 0.2M513.2 477.8l-0.9 1M543.1 497.9l0.5 0.4M509.2 517l0.2 0M517.4 459.9l0.2 0.1M519.4 470.4l1 0.8" stroke="#c4cdec" stroke-width="2.0"/><path d="M529.3 505.6l0.1 0.8M515.8 478.4l-1.1 1M580.3 471.6l1.2 0.6M527.1 476.5l-1.1 0.9M525.2 460.8l1.1 1.2M510.3 477.7l0.4 0.6M573.4 498.2l-0.3 0.8M545.3 479.7l-0.1 0M529.2 474.3l-0.4 0.5M544.9 499.5l-1.2 0M571.7 474l0.7 0.6M553.9 500l-1 0.9M576.6 471.3l0.7 0.2M515.6 456.9l-0.2 0.2M548.5 516.3l-0.7 0.5M569.6 493.2l0.1 0.2M531.6 473.8l-0 0.1M503.5 474.8l-1.2 0.7M504.3 513.1l-0.1 0.8M577.9 473.6l0 0M532.4 496.6l-0.8 0.1M537.8 483.7l-0 1.3M560 469.1l0.7 0.1M508.8 471.4l-0.2 0.5M575.2 479.1l0.8 0.6M538.6 515.4l0.1 0.2M559.7 496.5l-1.4 0.3M563.7 463.9l1.1 0M543 511.9l-0.8 0M563.5 469.4l1.6 0.2M510.7 484.7l0.5 1.5M526.9 504.9l0.7 0.9M524.7 503.3l1.1 1.1M506.1 480.7l-1 0.5M532.9 505.4l0.7 0.7M526.2 509.5l0.1 0.1M545.4 460l0.2 0.2M516.3 477.8l0.8 0.2M511.3 478.5l-0 0.6M522.9 498.5l0.2 1.1M522.6 497.5l-0.2 0.4M573.2 491.4l-0.5 0.6M513.3 487.4l0.6 1.4M527.6 500.3l-0.1 0.1M520.7 465.6l0 0.1M514.1 489.2l0.3 1.2M520.2 494.4l0.4 0.5" stroke="#9aa8dc" stroke-width="1.1"/><path d="M577.4 464.7l-0.1 0.3M567.8 463.9l-0.1 0.9M577.4 468.5l0.5 0.6M530.7 475l0.4 0.1M509.4 476.3l0.8 0.6M501.5 490.9l0.9 0.6M568.9 502.5l-0.4 0M574 508.7l1.1 0.5M509.6 514.9l-0.2 0M570.2 471.1l0.5 0.4M562.5 466.8l0.8 0.2M538.9 491.2l-0.7 0.2M518 514l-0.2 0.8M504.8 487.5l-0 0.5M563.2 487.2l0.3 1.2M548 483.1l0.4 0.6M582.1 495.6l-0.2 0.1M503.8 480.2l0.3 0.8M532.1 514.2l0.2 0.8M578.4 466.4l-0.5 1.4M514.5 501.9l-0 0.4M525 511l0.1 0.9M557 462.7l1.2 0.1M564.5 490.5l0.3 0.8M531.6 483.4l-0 0M553.9 495.7l-0.4 0.4M535.5 499.7l-0.9 0.4M536.8 507.9l0.3 0.8M523.3 483.4l-0.3 1.5M529.6 489.1l-0.5 1.1M526.5 515.4l-0.1 0.3M506.8 515.7l-0.2 0M556.3 510.1l-1.1 0.9M560.6 493l1 0.8M506.9 516.7l-0.8 1.3M566.4 467.4l-1.1 0.8M536.9 456.5l-0.5 0.8M502.6 500.6l-0.9 0.7M508.5 457.3l0.6 0.3M514.5 493.9l-0.9 0.4M557 465.5l0.1 0.1M505.3 487.7l0.7 0.8M521.2 496.6l-0.1 0.3M560.1 464.7l0 0.8M562.9 465.7l0.2 1M568.7 501.4l-0 1M573.3 496.8l-0.4 0.1M582.5 470l-0 0.3M527.8 489.3l1.1 0.5M511.6 504.5l0 0M519.8 479.6l-0.7 0.6" stroke="#9aa8dc" stroke-width="1.4"/><path d="M549.7 459.8l0.4 1.1M506.8 456.6l0 0M532.5 494.4l0.6 1.3M549.4 474.1l-0.1 0.3M528.7 503.8l0 0.1M528.1 490.7l0.5 0.6M525.7 475.6l-0.5 0.4M569.4 494.1l0 0.2M571.6 469.5l0 0M546.9 456.5l0.5 0.5M505.9 509.5l-0 0.4M542.1 508.5l0.1 0M531.4 502.4l-0.9 1.3M563.9 471.4l-1 0.8M508.2 505.8l0.1 0.3M567.7 460.8l0 0M583.7 466.8l-0.1 0.2M510.2 475.7l-0.7 0.4M552.6 463.9l-1.4 0.6M507 500.8l0.9 0.3M558.7 471.9l0.8 0.6M530 487.3l0.1 1.6M530.3 511.4l-0.5 0.4M578 467.1l-0.9 1.1M545.4 459.6l-0 0.2M528.6 501.9l0 0.5M510.6 459.4l0.4 0.8M558.7 510.1l-0.2 0.5M559.4 475.3l0.7 1.3M544.3 506.4l-0.5 0.9M508.1 456l-0.4 0.1M583.3 504.8l-0.1 1.5M546.3 515l0.1 0.5M570.7 458.3l1.4 0.1M515.8 512l-0.2 0.4M563.8 468.8l0.8 1.1M560.2 504l-1.3 0.1M533 505.6l-0.1 0.9M548.2 504.6l0.1 0.4M541.6 511.2l0 1.1M583.4 505l0.4 1.2M513.5 490.5l-1.2 0.4M533 493l-0 0M568 485.5l0.4 0.1M546.7 504.4l-0.1 1.2M577.2 462.1l0.2 0.7M567.4 504.5l0 0.4M531.8 486.4l0.2 0.4M568.7 466.6l-0.1 0.2M566.1 477.7l-0.4 0.1M532.7 495.5l-0.1 0.1M521.4 492.9l-0.1 0.6M524.2 490.7l-1.2 1.1M506.1 515l-1.2 0.5M541.9 512.5l0.7 0.5M559.4 479.1l0.8 1.2M535.7 498l-0.5 0.1M561.2 505.1l-1.1 0.3M565.7 465.8l0.2 0.1M542.2 503.1l1.4 0.3M579.4 491.8l0 0M565.8 461l0.4 0.6M570.3 485.4l-0.9 0.4M511.4 512.4l-0 1M511 515.2l0.5 1M551.9 505.3l-0.1 0.1M502.1 503.7l-0.6 0.5M545.9 511.8l0.3 0.2M504 488.8l0.5 0.4M561.6 499l0.2 0M501.4 509l-1.5 0.1M516.3 510.4l-0.9 0.5" stroke="#9aa8dc" stroke-width="1.7"/><path d="M512.3 498.1l0.1 0.3M562.2 495.8l0.9 0M503.1 479.7l-0 0.1M567.4 488l0.4 0.4M525.8 514.4l0.3 0.1M514.8 513.8l1.2 0.5M537.3 489.2l-0.4 0.4M503.1 490.2l0.5 0.2M509 484.1l-0.4 0.9M557.8 464.7l-0.4 0.5M524.9 510.3l-0.9 0.5M569.3 482.9l0.3 1.5M534 496.2l0 0.8M509.8 497.6l-0.7 0.2M509.8 516.3l-0.1 0.7M533 507.2l1.5 0.3M541.8 509.6l-0.2 0.1M577.2 461.6l-0 0.5M502.6 483.3l0.3 0.3M539.1 468.9l-1.2 0.9M547.4 456.6l-0.1 1.2M510.5 502.2l-0.3 0.4M537.7 465.7l-0.6 0M502 478l0.7 0M532.3 495.9l0.7 0.9M507.2 483.9l-0.4 0.1M502.8 506l-0.6 0.4M503 505.8l-1.3 0.7M573.2 482.7l0.1 0.8M519.9 510.5l-1.5 0.2M565.1 486.2l-1.2 0M541.3 484.1l-0.5 0.2M533.1 481.7l0.2 0.4M530.9 483.4l0 0.1M550.6 505.8l0.1 0M562.8 477.5l-1.1 0.3M514.1 485.9l-0 0M559.5 478.7l1.2 1M526 487.5l-1.2 0.4M555.2 484.8l-0.1 1.2M562.7 465l-0.8 0.4M547.6 462.9l-0.5 0.3M540.4 512.9l0.6 1.4M528.4 516.9l1.3 0M523.7 512.2l0 1.1M575.9 469.2l0.1 0.2M574.5 480.2l-0.5 0.8M519.2 500.5l0.4 0M521.2 514.3l0.2 0.7M545.6 496.1l-0.6 0.8M556.5 495l0.2 0.2M509.7 470.3l-0 0.1M540.5 484l0.4 1.4M568 493.8l-1.3 0.6M577.3 495.9l-0.1 0.2M544.3 499.6l0.3 0.5M559.3 463l-0.1 0" stroke="#9aa8dc" stroke-width="2.0"/><path d="M535 487.2l0.1 0.4M525.4 516.6l-0.1 0.3M545.7 486.8l0.6 0.4M512.3 512.6l0 0.5M566.3 502.8l0.6 0.5M503.9 489.6l-0.9 0M504 485l0.1 0.1M579.6 469.4l-0.1 0.1M533.8 516.9l0.8 0.5M570.4 457.2l-0.6 1.3M515 464.9l0.5 0.3M537.5 506.7l-0 0M577 510.8l0.7 0.2M525 482.3l-0 0M578.4 475.7l0.4 1.2M542.7 494.3l0.2 0.5M551.7 502.1l-0.3 0.9M537.8 485.1l0.2 0.1M571.6 511l0.6 0.2M578.2 463.1l-0.2 0.4M543.1 478.6l0.1 0.7M517.9 492.7l0.6 0.4M564.1 476.9l1 0.1M517.6 473.5l-0.8 0.2M505 473.9l-1.1 1M535.9 506.4l0.1 0.1M535 504.1l0.1 0.1M568.7 462.8l-0.2 0.4M575 467.4l0.8 0.7M578.9 503.2l1.5 0.5M519.1 500.7l-0 0M548.7 473.4l-0.1 0.1M501.3 473.2l-0.1 0.1M542.7 485.8l0.1 0.1M502 475.5l0.8 0M552.2 475.5l-0.4 1.3" stroke="#7484c8" stroke-width="1.1"/><path d="M540.9 490l-0.3 0.2M578 471.9l0.1 0.2M504.2 496l0.6 0.2M528.9 482.2l-1.3 0.2M540.3 493.7l-0.8 0M519 503.1l-0.1 1.1M532.1 503.8l-0.4 0.2M523.7 475.8l1 0.5M531 471.6l-0 0.1M533.9 499.7l1.1 0.2M572.7 464.7l-1.2 0.1M557 469.3l0.2 0.7M565.5 467.1l0.4 0.3M503.1 457.1l0.2 0.5M555.9 504.7l0.5 1.2M503.9 501l-0.1 0.1M552.2 490.3l-0.7 0.3M530.1 503.4l-1.3 0.1M562.5 475.9l-1.4 0.4M533.4 468.2l0.1 0M511.9 502.5l-0.1 0M546.5 516.6l0.1 0M532.7 492.4l1.1 0.9M515.8 498.7l-1 0.6M509.6 498.6l0.1 0.2M546.9 496.8l1 0.2M564.5 472.4l-0.7 0.6M514.7 513.9l-0.1 0M571 463.6l0.7 0.1M554.1 474.9l1.3 0.3M571.2 456.1l-0.3 1M535.5 503.1l0.1 0.1" stroke="#7484c8" stroke-width="1.4"/><path d="M557.1 482.6l-0.2 1.2M544.2 510.2l1.2 1.1M527.9 491.6l0.9 1.1M507 509.5l-0.7 0.3M526.8 514.4l1.1 0M539.7 455.8l0.8 0.8M583.6 464.2l0 0M566.7 470.8l0.4 0.1M524.1 516.5l1.4 0.2M572.9 462.5l-0.6 0.5M533.6 478.1l0.2 0.2M528.2 489.8l0 0.2M510.3 484.2l0.2 0.2M518.1 488.6l-0.7 0.1M506.4 515.3l0.7 1M517 489.6l-0.4 0.1M525.2 515.9l0.1 0.1M537.3 496.1l-0.2 0.4M527.8 465.1l-1.1 0.8M557.2 468.4l-0 0.2M503.2 503.8l-1.4 0.1M507 506.7l0.2 1.5M574.7 473.8l0.5 1.5" stroke="#7484c8" stroke-width="1.7"/><path d="M576.6 482.4l0.2 0.1M517.8 515.2l0.7 0.6M515.1 506.1l0.6 0.7M506.9 476.2l-1.1 1M557.2 461.5l-0.1 0.1M535.2 502.2l-1.4 0.5M505.3 493.2l0 0.1M542.6 513.5l0.1 0M533.1 499l1.1 1M522.5 471.3l-0.1 0.1M522.5 508.1l0.7 0.7M504.7 460.8l-0.2 0.3M574.7 491.1l0.1 0.1M561.9 468.9l0.5 0.3M506.2 511.8l0.2 0.5M502.2 486.7l0.6 0.7M513 470.9l0.5 1.4M512.3 484.8l0.1 0.1M530.5 510.5l-0.5 0.3M546.3 477l-1.1 0.3M505.4 512.3l1 0.6M572.1 461.9l0.1 0.6M567.2 477.3l0.5 0.3M520.5 513.8l0.6 0.2M519.9 505.3l-0.6 1.2M506 486.5l0.3 0M501.5 503l-0.3 0.8M501.6 491.4l0.5 0.6M552.4 466.4l0.3 0.2M530.9 513.4l-0 0M575.7 489.8l0.1 0.2M502.6 468.4l-0.7 0.5M543.9 492.6l-0.6 0.4M524.7 514.3l1.3 0.1M573.6 481.7l-0 0.3" stroke="#7484c8" stroke-width="2.0"/></g><g fill="none" stroke-linecap="round" stroke-opacity="0.85" filter="url(#blr)"><path d="M564.1 480.5h0.2" stroke="#7d3410" stroke-width="1.1"/><path d="M558.2 459.2h0.5" stroke="#7d3410" stroke-width="1.2"/><path d="M514.3 470.8h0.6" stroke="#7d3410" stroke-width="1.3"/><path d="M562.7 504.5h0.3M511.9 491.7h0.1" stroke="#7d3410" stroke-width="1.5"/><path d="M576.7 470.3h0" stroke="#7d3410" stroke-width="1.6"/><path d="M545.1 470.5h0.4M563.9 505.6h0.5" stroke="#7d3410" stroke-width="1.7"/><path d="M533.4 497.2h0.2M506.4 481.1h0.2M573.9 463.3h0.6" stroke="#7d3410" stroke-width="1.8"/><path d="M512 495h0M517.9 511.8h0.1" stroke="#7d3410" stroke-width="1.9"/><path d="M579.7 459.7h0.4M580 487h0.4" stroke="#7d3410" stroke-width="2.0"/><path d="M552.7 495.5h0.4M552.6 472.8h0.4M554.1 497.9h0.5" stroke="#7d3410" stroke-width="2.1"/><path d="M515 512h0.3M564.6 502.9h0.4M580.7 480.2h0.5" stroke="#7d3410" stroke-width="2.2"/><path d="M523.8 495.7h0.4M535.8 478.2h0" stroke="#7d3410" stroke-width="2.3"/><path d="M564.1 459.7h0.3M516.6 498.1h0.4" stroke="#7d3410" stroke-width="2.4"/><path d="M522 505.7h0" stroke="#7d3410" stroke-width="2.5"/></g>
</g>
<g clip-path="url(#c22)">
<rect x="589.8" y="455.8" width="82.1" height="61.3" fill="#e1e9f6"/><g fill="#f7f9fd" fill-opacity="0.75" filter="url(#blw)"><ellipse cx="645.4" cy="503.9" rx="11.2" ry="7.6"/><ellipse cx="622.1" cy="516.9" rx="8.9" ry="5"/><ellipse cx="611.2" cy="471.8" rx="9.3" ry="5.9"/><ellipse cx="598.6" cy="475.8" rx="9.1" ry="8"/><ellipse cx="606.4" cy="460.1" rx="8" ry="7.8"/></g><g fill="none" stroke-linecap="round" filter="url(#blr)"><path d="M627.4 500.6l0.5 1.5M666.4 516.3l0.5 0.7M622 469l-0.7 1.2M657.5 498.5l-0.1 0.3M639 472.5l-0 0.3M669.1 488.2l0.5 0.6M628.7 476.5l-0.6 0.1M637.7 480l-0.8 0.6M635.3 469.5l-0.1 0.2M603.6 494.3l-0.1 0.2M623.2 471.3l-0.7 1.3M668.3 465.2l-0.1 0.1M625.6 517l0.5 1.2M630.5 501.7l-0.1 0.3M599.4 491.4l0.1 0.1M597.2 501.1l-0.9 0.6M591.7 471.9l-0.2 0.2M609.3 489.1l0 0.1M627.2 472.1l-0.5 0.2M635 510.6l-0.3 0.3M608.7 480.7l-1.2 0.3M664.5 475.4l0.5 0.4M613.6 474.7l0.2 0.7M602.6 494.7l-0.3 1.2M629 491.8l0 0M635.9 481.3l1.4 0.5M670.6 476l0.9 0.2M618.5 472.7l0.6 0M613.4 514.1l-0.3 1.3M631.3 507.4l-0.6 0.2M615.2 498.9l-1.1 0.4M603.3 511.9l0.7 0.6M614.9 464.5l-1.1 0M611.4 471.2l1.2 0.3M613.6 459.2l1.2 0.1M615.9 516.5l0.3 0.2M665.3 497.9l0 0M636 481.4l0 1M620.6 473.9l0.8 1.3M640.4 516.3l-0.6 0.4M666.6 480.9l0.1 0.5M605.2 502.1l-0.4 0.4M605.4 488.7l-0.7 0.6M652.4 493l0.2 0.5M593.5 487.1l-0.2 0.1M658.6 479.1l-0.3 0.7M644.1 465.1l0.1 1.2" stroke="#c8d5ef" stroke-width="1.1"/><path d="M609.9 500.6l0.4 0.1M654.3 497.3l-0.8 0.3M615.2 470.7l0.8 0.7M638.8 482.6l-0.3 1M635 468.2l1.1 0.1M615.8 506.5l1.3 0.5M604.6 484l0.3 0.5M658.4 501.5l-0.3 0.4M667.9 479l-0 0.1M653.3 469.1l1 1.2M645.8 460.6l-0 1.2M652.8 460.9l-0.9 0.1M622.4 458.4l-1.2 0.2M609.7 465.5l-1.4 0.3M636.7 511.1l-0.1 0.7M647.2 488.2l0.2 0.2M627.8 465.7l1 1.2M655.8 509.5l1.5 0.1M659.2 502.3l-1.3 0.3M610.5 464.6l-0.1 0.7M602.1 470.3l-0.7 1.3M596.6 501.4l0.7 0.2M644.4 516.8l0.1 0.4M625.2 480.1l-0.4 0.1M650.7 479.8l-0.5 0M642.5 498.9l0 1.3M642.8 511.3l-1.1 0.6M605.1 486.6l-0.5 1.2M609.4 477.6l0.7 1.4M646.7 463.1l0 0M616.3 473.2l0.9 1.2M612.8 486.1l-0 0M666.6 497.9l0 0.2M647.5 474.3l0.4 0.7M641 473.2l0.5 0M652.2 467.8l0.5 1.3M631.3 456.7l0.6 0.1M660.9 514.8l-1.3 0.3M627.8 490.9l-0.5 1.3M610.2 500.5l-1.1 0.4M613.5 485.4l-0.4 0.1M628.7 456.7l-0.8 1.1M599.6 510l-0.5 0.9M664.8 482.7l-0.6 0.5M609.6 493l0.7 1.4M606.2 505.5l0.6 1.4M607.3 462.3l-1.2 0.2M655.4 478.4l-1.2 1M629.7 504.3l-0.8 0.7M660 508.7l1.1 0.1M596.1 503.2l-0.4 0.5M614.5 496.9l-0 0.7M596.7 474.8l0.2 0.1M634.8 509.1l0 0M665.8 494l0.5 0.3M664.2 510.8l-0.4 0.1M593.6 476.7l-0 0.1M631.1 457.8l0.3 0.6M647 478l-1 0.4M637.3 480.3l-0 0.1M639.9 475.1l-0.4 0.2M597.2 500.4l0.6 1.2M626.8 514.9l-0.2 0.4M614.3 471.7l0.5 1.4M607.7 467.7l0.2 0.4M621.4 489.9l-0.9 0.4M648.9 459.2l-0.4 0.2" stroke="#c8d5ef" stroke-width="1.4"/><path d="M625.7 472.6l-1.2 0.7M620.9 475.7l1.5 0.5M644.6 488.2l0 0.1M639.8 458.5l0.5 0.6M636.5 495.7l0.2 1.4M617.2 510.1l0.8 1.1M623.2 485.3l1.1 0.6M601.3 501.4l1.2 0.7M605.7 461l-0.1 0.3M665.3 474.7l0.4 0.3M601.6 474.3l1.2 0.5M622.4 470.1l-0.2 0.6M638.9 509.9l-0.8 0.4M627.2 476.6l1.4 0.8M660 495.5l1.2 0.6M627.2 510.9l-0.6 0.4M627.3 493.7l-0.7 1M665.7 494.2l-0.7 1M625.2 504.5l-0.2 0.2M631.5 501.4l-0.7 0.3M638.8 485.8l-0.6 1.3M643.5 474.9l-1.1 0.1M626.7 511.6l0.1 0.2M648.3 478.4l0.7 1.1M643.5 467.7l-0.1 0.4M661.8 471.8l0.7 0.5M601.6 493.8l0.3 0.3M667.5 473.5l-0.2 0.2M652.5 473.2l-1.4 0.6M645.1 467.1l0.2 0.3M662.5 499.6l-0.1 0M618.8 499.1l1.2 0.4M601.9 497.3l0.3 0.8M636.2 476.6l-0.2 1.5M618.7 500.8l-0.1 1.4M656.2 490.3l-0 0M628.9 483.2l0.1 0.1M641.3 484.1l-0.3 1.4M621.5 459.4l-0.2 0.5M618.4 508.8l0.1 0M599.9 461.1l-0 0M651.4 459.7l-0.2 0.2M640.3 494.1l0.2 0M634.8 492.1l0.1 0M615.7 466.4l0.1 0M618.3 472.7l-1.5 0.5M641.4 504.8l1.2 0.2M608.1 499l-0.4 0M655.9 462.1l-0.7 0.3M600.9 474.3l0.5 0.9M649.1 484.5l1.1 0.6M600.3 466.1l0.1 0M609.5 499.7l-1.4 0.1M636.2 500l-0.1 0.2M613.1 511.9l-0.4 0.2M601.6 510.1l0.3 0M631.7 457l-0.8 0.4M631.7 477.7l-0.3 1" stroke="#c8d5ef" stroke-width="1.7"/><path d="M649.8 504.9l-0.1 0.1M659.1 463.7l0.4 0.8M612.9 477.3l0 0M627.4 499.6l0.7 0.1M599.8 458.8l0.1 0M629.7 496.8l-0 0.3M605.1 514.9l0.8 0.1M629.8 473.6l-0.9 0.6M613.8 460.4l-0.1 1M613.5 511.4l0.7 0.4M595.7 493.7l0.3 0.4M653 465.3l-0.1 1.5M614.3 502.4l-0.8 0M666.5 463.4l0.3 0.5M616.9 494.7l0.5 1M645 485.8l-0.4 0.7M620.9 488.7l0.6 0.4M625.2 495.9l0.4 0.2M609.9 474.2l-0.6 1.4M643.9 488.4l0 0.2M648.5 495.9l-0.9 0.9M615.5 470.9l-1.1 0.4M611.4 490.6l-0.3 0.4M637.2 486.8l0.7 0.7M671.9 470.7l1 0.6M626.7 504.6l0.1 1.2M637 514.7l0.4 0M607.6 504.3l0.2 1.3M663.7 495.6l0.1 0M656.7 496.3l-1.2 0.7M593.2 509.5l-1.1 0.2M606.2 515.5l-0.6 0.1M631.7 472.2l-0.8 0M611.7 476.5l-0.5 0.3M607.7 494.9l-0 0M636 463.3l-0.5 0.4M631.5 488.7l1.2 0.7M608.2 464.4l0.5 0.1M608 482.6l0 0.1M605.5 472l0.5 0.5M627.2 485.3l0.7 0.1M623.7 502.7l-0.5 0.4M646.8 482.9l0.8 0.4M642.3 496.4l1.1 0.1M661.5 472.1l-0.3 1.2M661 465.7l0.7 0.5M652.7 483.4l-0.8 1M619 516.9l-1.2 0.1M610.8 466.8l-1 0.6M664.9 478.3l-0.5 0.6M642.7 462.6l-0.2 0.2M657.5 497.4l0.1 0.4M666.8 485.7l0.3 0.8M616.1 501.3l-0.1 0M637.7 458.3l-0.4 0.6M661.1 488.3l0.2 0.3M667.3 481.2l1.3 0.6M620.3 506l-0 0.2M653.6 484.4l0.8 0.7M660.6 506.7l-0.8 0.8M644.6 481.5l-0.1 0M621.6 507.2l-0.2 0.1M628.8 480.1l0.9 0.3M671.2 485.8l-0.5 0" stroke="#c8d5ef" stroke-width="2.0"/><path d="M650.2 484.1l0.1 0.1M638.1 514.6l0 0M613.2 486.7l1.1 0.9M593 508.1l0 0.4M669.7 466l-0.4 1.3M651.8 479.5l-0 0M635.9 489.6l0.9 0M641.4 467.7l-0.2 0.6M646.5 491.8l-0.6 0.7M656.5 475.4l-0.8 0.5M600.1 489.9l-0.2 0.7M624.4 496.5l0.2 0.1M664.4 474.7l0.9 0.3M662.3 461.2l-0.4 0.9M650.7 467.9l0.8 0.7M620.5 477l0.8 0.6M602.8 468.7l-0.5 0.8M618.1 508.5l0.1 0.9M619.4 511.2l-1.3 1M610.5 462.7l0.2 0.8M630 462.3l0.4 1.3M637.9 487l0.4 0.6M596.6 506.6l-1.1 0.2M590.4 481.7l-0 0.1M606 465.7l0.7 1.2M592.9 505.1l0.3 0.6M595.8 499.2l0.1 0.2M621.6 460.6l1.5 0.4M601.4 473.8l1.5 0.1M602.5 496.5l-0 0.2M623.8 500.9l-0.1 0M655.6 473.4l-0.8 0.1M603.6 486.4l0.9 0.1M634.4 493.4l1.4 0.6M622.8 497.4l0.4 0M614.8 477l-0.2 0M620.8 490.1l1 0.7M603.4 493l0 0M656.9 463.7l-0 0.1M661.8 470.5l-0.3 0.8" stroke="#a2b9e4" stroke-width="1.1"/><path d="M660 459.7l-1.3 0.9M641.3 462.4l0 0M643.1 482.9l-0.9 0.5M668.5 466.6l-1.1 0.7M593.5 497.5l-0.2 1.5M615.3 478.4l-0.6 1.4M667.3 466.9l1.4 0.7M600.8 475.2l-0.6 0.8M591.1 482.3l-0.3 1.2M606.6 474.8l-0.3 0.2M641.7 471.1l-0.1 0M649.8 474.5l1.5 0.3M614.2 506l-0.1 0.1M597.4 504.9l-0.6 0.2M631.1 463l1.1 1M612.1 463l-0.1 0.2M622.7 484.3l0.6 0.7M639.1 477.8l0.1 0.7M666.8 503.5l0.9 0.5M622.9 513l-0.6 0.7M647.2 495.3l-0 0M627.9 481.4l-0.7 1.1M647.1 476.6l0.1 0.1M645.8 490.5l0.6 0.4M619.3 501.4l-0.5 0.3M671.3 480.7l0 0M622.2 490.4l-1.4 0.4M629.5 507.9l-0.7 0.1M638.4 468l0.9 0.7M630.5 508.5l-0.7 0.3M649.2 463.5l-0.9 0.4M661.6 472.7l-0.7 1M650.5 459.3l-0.2 0.4M628.8 481l1 0.4M612.7 490.8l0.1 1.1M632.5 461.2l0 0.7" stroke="#a2b9e4" stroke-width="1.4"/><path d="M655.8 490.3l-0.6 0.9M605.7 456.6l0.3 1.3M618.8 491.3l-1 0.2M626.1 457.8l0.4 0.2M609.8 509.9l0.6 0M605.6 491.8l-0.2 0.1M616.4 488.8l0 0.5M591.1 462.8l0.8 1.1M652.5 465.7l-0.2 0.5M606.1 502.9l-0.5 0.4M653.5 478.4l0 0.1M642.8 467.7l1 0.4M638.4 516.8l1.5 0.6M655.8 486.4l-1.4 0.7M624.5 502.5l0.2 1.4M661 489.8l0.4 0M653.5 469.3l0 0.1M658.4 470.7l-0.6 0.7M657.9 467.4l0 0.1M627.3 490.1l1.1 0.8M604.1 472l-0.5 0M651.2 484.4l0.4 1M658.6 484.7l0.6 1.2M646.4 513.6l-0 0M635.5 475.5l0.5 0.5M599.7 482.4l-0.9 0.7M653.5 492.4l-0.2 0M627.8 513.1l-0.3 0.3M625.3 478.1l-0.1 0.6M641 514.1l-0.9 0.2M625.6 463.1l-0.2 0.5M592.5 513l-1.5 0.3M655.3 498.8l0.3 0.4M656.1 486.7l0.2 1.3M657.7 494.5l0.6 0.8M627.9 493.4l1.5 0.4M621.5 514.8l0.4 0.1M614.8 512.2l-0.4 0.1M663.2 468.7l0.5 0.4M611 460l0.8 0.3M652.5 490.8l0.1 0.2M637.3 475l-0.8 0.5M657.5 492l-0.6 0.9M615.1 504.9l-0 0.1M598.6 481.9l0 0M620.1 457.7l-0.2 0.5M621.4 461.7l-0.1 1.2" stroke="#a2b9e4" stroke-width="1.7"/><path d="M614.4 511.9l-0.1 0.4M669 481.6l1 0.1M658.9 513.4l0 0.4M654.6 467.3l0.3 0.1M656.7 502l-0.1 0.2M629.1 478.4l-0.1 0M654.2 513.9l-0.7 0.7M628.2 516.4l0.2 0M660.7 478l-0.5 0.3M667.3 501.1l-0.2 0.3M644.5 473.7l1 0.8M601.8 514l-1.5 0.3M660.9 484.9l0.1 1M597.5 510.1l0.1 0.2M646.4 456.3l1.1 0.4M602.9 470.9l0.1 0M608.4 496.3l-0.1 0.3M670 495.4l0.4 0.4M638.9 492.2l0.8 0.1M668.9 494.3l1.5 0.6M640 461.5l0.3 0.1M614.1 479.3l0.2 1.4M620.7 510l0.9 0M593.4 459.3l-0.6 0.7M657.9 485.1l-1 0.5M640.4 490.1l-0.2 0.1M637.2 499.1l-0.6 0.5M648.1 476.2l-0.6 0.8M597.8 501.2l-1.1 0.4M623.6 503.3l0.5 0.1M607 510.4l1.5 0.6M645.6 489.2l-0.7 0.1M598 497.8l0.4 0.1M667.9 457.1l1.1 0.5M659.7 466.2l0.3 0M605.1 492.5l0.1 0.1M622.8 476l1 0.1M635.1 499l-0.6 1.5M621.6 491.2l1.1 0.9M592.1 456.3l0.2 0.3M596.1 488.4l-0.5 0M649.3 514.6l-0.3 0.8M658 504.9l-0.2 1.3M666.7 474.2l0.8 0.9M600.3 460.9l-0.7 1.2M630.2 487.9l0.4 0.6" stroke="#a2b9e4" stroke-width="2.0"/><path d="M594.7 507.9l0.3 0.7M623.6 494.2l-0.4 0.1M591.1 509.5l-0.6 0.2M651.6 476.4l-0.3 0.5M665.5 495.2l-0.5 0.5M647.7 479.6l-0.3 0M601.2 489.6l0.7 0.7M652.8 486.4l0.5 0.5M611.2 508.3l-0.6 0.7M613.2 478.9l-0.1 0.4M598.8 491.9l0.2 0.3M633.9 457.8l0 0.3M614.5 458.8l0.1 0.2M652.5 461.5l1.3 0.6M605.5 475.1l0.1 0.3M668.4 496l-0.4 0.9M610.6 469.5l0 0.8M632.9 490.2l-1.3 0.8M622.2 465.4l-0.3 0.5M619.1 508l0.3 1M613.2 498.5l-1 0.1M648.2 472.4l-0.2 1.3" stroke="#7896d4" stroke-width="1.1"/><path d="M620.1 510.7l0 0.1M660.1 497.8l0.9 1M671 488.7l-1.4 0M663.9 466.2l0.1 0.4M659.1 491.9l0.2 0M640.7 463.2l-0.3 0.4M600.1 480l-0.1 0.6M653.7 496.2l-0.5 0M652.8 479.8l-0.6 0.6M612.3 506.6l-0.4 0.1M658.6 515.9l1.5 0.2M596.9 461.3l-1.1 0.8M660.5 491.2l0 0.2M627.5 491.5l0.5 1.1M621.6 466.7l0 0.9M616.6 484.7l0.2 0.1M642.7 513.1l-0.3 1.1M630 468.8l1 0.4M669.9 495.3l0.4 0.2M603 464l-1.3 0.1M655.2 465.8l-0.3 0.3M659.7 484.9l0.2 0.1M671.4 463.2l0 0M617.9 465.9l-0.5 0.7M627.3 493.3l0.6 0.4M643.4 478.2l-1.3 0.1M635.9 483.4l-0.7 0.7" stroke="#7896d4" stroke-width="1.4"/><path d="M655.8 464.4l-1 0M657.1 498l1.4 0.6M619.8 489.5l-1.3 0.8M627.8 468.7l0 0M591.5 492.6l-0.5 0.4M600.1 463.9l-0.7 0.2M656.2 460.8l-0 0M615.3 516.9l1 0.5M643.9 515.9l-0.1 0.6M628.5 512.5l0 0.9M627.6 485.2l-0.2 1M652.9 472.2l-0.1 0.2M610.8 463.6l-0.9 0.5M625.7 495.5l0.7 0.6M635.2 495.1l-0.4 0.5M628.2 468.8l1.1 0.6M640.2 513.7l0.4 0.7M644.2 502.6l0.6 1.4M607.9 465.2l0.3 0.7M671.8 483.2l-1 0.9M612.3 470.2l0.9 1M614.8 486l-0.3 0.3M652.5 506l-1.1 0.7M610.7 494.5l0.5 0.9M626.6 495.8l-0.7 0.6M626.1 495.2l0.3 0.3M603.9 473.3l-0.2 0.6M603.8 461.8l0.3 0.1M613.4 515.5l-0.3 0.8M633.5 463.5l-1.3 0.6M625.3 479.8l-0.2 0M661.3 457.1l-1.3 0.4" stroke="#7896d4" stroke-width="1.7"/><path d="M626.9 497.2l0.1 0.4M606.4 484.6l-0.4 0.9M616.9 515.3l1.1 1M644.5 480.6l0.1 0.7M614.4 485.4l1 0.7M614.2 476.6l0.4 0.1M621.9 492.2l-0.3 0M632.9 466.6l-1.2 0.7M608.1 487l-0.4 0.7M603.6 515.8l0.3 1.1M620.4 501.8l1.2 0.1M642.9 474.3l-0.7 0.5M635.3 512.4l-0.4 1.2M613.3 482.4l-1.2 0.9M629.5 477.2l0.5 0.1M608 493.9l0.6 1.2M669.9 494.6l1.2 0.2M608.6 486.9l0 0M628.9 466.8l0.2 0.7M664.7 491l0.9 0.7M628.9 502l-0.7 0.9M649.3 480.8l0.4 0.6M608.8 457.2l-0.9 0.5" stroke="#7896d4" stroke-width="2.0"/></g><g fill="none" stroke-linecap="round" stroke-opacity="0.85" filter="url(#blr)"><path d="M600.7 474.6h0.1" stroke="#8a4a20" stroke-width="1.3"/><path d="M665 505.1h0.2" stroke="#8a4a20" stroke-width="1.7"/><path d="M628.5 507.6h0.5" stroke="#8a4a20" stroke-width="1.8"/></g>
</g>
<g clip-path="url(#c30)">
<rect x="413.1" y="522.6" width="82.4" height="60.8" fill="#e1e9f6"/><g fill="#f7f9fd" fill-opacity="0.75" filter="url(#blw)"><ellipse cx="487.7" cy="564.3" rx="13.7" ry="10.3"/><ellipse cx="434.5" cy="561.3" rx="15" ry="10.1"/><ellipse cx="460.3" cy="532.9" rx="10.1" ry="11"/><ellipse cx="421.6" cy="542" rx="15.5" ry="7.1"/><ellipse cx="430.3" cy="541.9" rx="15.1" ry="6.3"/></g><g fill="none" stroke-linecap="round" filter="url(#blr)"><path d="M470.2 539.8l1 1.1M451.2 528.6l-0.1 1.1M441.8 582l-0.1 0.8M490.4 530.9l1.2 0.7M455.8 573.3l0.1 0.3M493.3 556.7l0.2 0.5M436.6 578.3l-0.2 0.2M456.1 529.7l-0.3 0.8M486.2 568.9l1.1 0M439 528.8l-0.6 1M473.6 549.2l0.5 0.3M439.4 526.9l-1.2 0.8M460.1 582.9l-0.2 0.1M438.7 559.7l-0.2 0.2M447.9 563.5l0.2 0.4M447.5 527.7l-0.1 1.2M425.5 567.3l-0.3 0.4M445.7 557.7l-0.2 0.1M415.4 526.1l-0.2 0.1M449.4 525.5l0.5 0.2M418.4 540.9l-0.3 0.3M457.4 543.9l-1.4 0.7M489.9 536.4l-0.6 0.6M425.8 531l1.1 0.4M434 578.2l-1 0.5M432.9 566.2l0.2 0.1M442.5 542.4l-0.7 0.5M476.3 561.3l0.5 0.2M443.4 562.7l-0.1 0.3M430.2 556.8l0.1 0M432.4 575.8l0 0M432.8 552.8l0 0.1M417.1 538.3l1.4 0.3M460 582.7l0.3 1.4M467.1 527.9l-1.2 0.4M458.9 529l0.8 0.8M460.4 571.5l-0 0M433.6 544.8l0.9 0.2M459.2 562l-1.1 0.2M468.3 546.9l-1 0.8M464.2 580.5l-0.8 0.1M440.2 558.2l-0.9 0.1M432.1 555.8l0.2 1.4M451 577.3l0.7 0.8M479.1 569l0.7 0.2M465.7 541.1l-0 0M443.3 582.4l0.8 0M459.6 541.3l0.4 0M449 570.7l1.2 0.5M423.9 560.7l-0.1 0M452.9 543l-0.7 1M439.8 523.6l0.1 0.1M440.1 562.2l-1 1M451.8 559.5l0.7 1.2M488.2 567.7l-0.1 0.3M483.8 537l-0.4 0.3M465.3 556.9l0.7 1.2M425.1 534.8l-0.9 1M464.9 525.3l-0.2 1.4M474.8 550.7l0.4 1.5M445.8 530.2l0.2 0.5" stroke="#c8d5ef" stroke-width="1.1"/><path d="M429.1 553.8l-1.3 0.5M447.6 529.2l0.1 0.1M437.5 566.9l0 0M477.2 554.6l0.9 0.4M448.3 526.6l0 1.5M419.7 527.9l-0.1 0M450.5 553.5l-0.1 0.6M427.6 545.1l0.4 0.1M442.3 568.1l-0.4 0.6M494.6 543.9l-1.5 0.5M424 559.4l-0.9 0.5M420.7 552.4l-0.9 0.4M482 531.5l-0 0.6M422 553.9l0.1 0.2M464.9 547.1l0.4 0.2M417.3 550.8l0.4 1M419.9 560.9l-0.1 0.2M422 578.4l0.2 0.2M434 554.4l0.1 1.3M465.4 546.1l0.9 0.6M463.8 559.3l0.4 0.8M426.9 551.9l-0 0M422.8 560.5l0 0.2M468.4 567.4l0 0.7M460.3 552.5l-0.9 0.9M424.6 558l0.3 0.2M417.8 532.2l0 0.1M450.9 526.1l-1 0.8M467.3 536.7l0.6 0.1M421.1 558.2l0.3 0.1M435.8 530.8l-0.1 0.1M430.6 528.7l0.2 1M471.7 531.9l-0 0.1M460.8 546l1.5 0.4M414 529.3l0 0M450.8 529.9l-0.5 0.8M438 527.7l-0.1 0.7M487.3 547.4l-0 0M454.8 541.5l0.1 0.8M435.9 526.5l-0 1M440.5 575.1l-0.1 0.1M419.1 566.5l-0.6 0M464.3 527.2l0.9 0.6M472.3 572.9l-0 0.1M461.7 532.8l0.1 1.1M427.1 565.8l0.4 0.8M460.4 574.1l-1.6 0.1M479.9 576.3l-0.7 0.1M492 550.7l0.9 0.1M441.8 571.5l0.9 1.3M434.6 556.7l-0 0.1M418.1 525.1l0.3 0.5M464.4 550.3l1.3 0M466 541.1l0.9 0.9M435.3 548.7l-0.7 0.5M470.3 550.1l-0.6 0.9M418.2 555.2l0.2 0.8M460.7 543.8l-0.1 0.8M423.5 558.1l0.7 0.3M458.6 536.6l-0.3 0.6M454.7 543.3l-0.3 0.4M433.4 558.6l-0.2 0" stroke="#c8d5ef" stroke-width="1.4"/><path d="M432.4 573.7l-0.3 0.4M440.6 527l-1 0.1M446.5 574.1l0.9 0.4M472.9 522.9l-0.6 0.3M435.7 583.2l0.4 0.2M420.1 532l0.6 1.4M474.8 524l-0.7 1M434.6 551.4l-0 0.1M428.4 530.9l0.1 0.7M475.1 548.6l-1 0.8M432.3 579.8l-0 0.5M464.4 529.8l0.1 0.1M490.1 574.9l0.9 0.8M463.8 583.1l0.7 1M461.1 529.7l0.2 0.3M483.6 565.9l0.4 0.1M453 556.1l0.5 0.3M454.8 551l-0.5 0.9M449 579.9l-0 0M436.7 547.4l1.5 0M478.1 523.5l1 0M460 541.5l-0.1 0.1M415.3 523l0.7 0M446.2 564.7l0.7 0.2M487.3 581.4l-0.2 0.1M449.1 575.7l-0.1 0.3M416.1 582.5l1.3 0.1M462.1 555.8l-0.2 0.5M470.4 533.2l0.4 0M481.8 572.9l0.3 0.2M451.5 542.4l0.4 1.1M465.2 546.7l0.1 1.5M452.5 545.8l0.2 0.5M455.5 527.1l1 0.8M418.7 560l0.5 0.4M483.3 543.6l-0.6 0.2M470.3 559.1l-0.1 0.1M451.6 550.5l0.1 0.6M492 545.8l0 0.4M449.9 571.4l1.5 0.4M429.3 538.6l0.1 0.4M459.1 523l-0.8 1.1M467.6 547.5l0.1 0M450.3 556.3l-0.9 0.1M461.7 543.3l-0.5 0.4M421.3 534.9l0.2 0.7M458.2 531.4l0.9 1.3M437.8 543.7l-0.1 0.2M465.1 562.8l0.1 0.3M437.5 549.8l-0.2 1.3M476.9 573.9l0.1 0.2M466.9 544.5l0.9 0.2M463.3 544.1l-0.4 0.2M424.9 558.2l0.1 0.1M492.7 579.6l0.6 0.4M427.1 554.9l0.2 1M413.4 576.6l1.2 0.2M468.6 576.1l1.1 1M443.4 549.7l0 0.1M476.2 542.4l-0 0.3M449.8 542.2l-0.3 0.6M453.9 529.6l-0 0M418 524.9l-0.3 0M459.6 582.1l0.5 0.7M453.4 559.3l-0.1 0.3M428.4 533.6l1.1 0.4M436.9 565.9l0 1.1M427.4 574.4l0.6 0.9M413.8 534.2l0.9 1.2" stroke="#c8d5ef" stroke-width="1.7"/><path d="M476.7 533.4l0.7 0.1M447.8 550.5l1.4 0.3M455.2 552l0.1 0M493.6 581.1l-0.1 0M433.4 524.5l0.6 0.6M468.6 553.3l-0 0.1M475.3 563.3l0.1 0.2M458.6 567.3l-0.5 0.1M488.8 546.2l-0.5 0.2M463.7 565l-1 0.1M463.5 534.1l0.2 0M491.2 579.9l1.4 0.5M483.3 566.8l-0.3 0.3M491 530.9l0.9 0.9M489.8 573.2l0.3 1.2M475.9 536l0 0.7M419.8 553.7l0.7 0.5M425 531.5l0 0M467 524l0.8 0.7M451.6 559.2l-0.2 1.3M447.6 555.8l0 0M441.7 554.7l-0.3 0.1M417.6 529.7l-0.7 0.5M462.1 578.6l-0.1 0.7M445.9 529.1l-0.5 0.9M415.1 527.8l-0.9 0.7M475.3 571l0.6 0.4M456.8 552.1l1 0.6M458.6 548.3l-1.1 1.1M423.1 561.7l0.2 0.2M423.4 554.9l0.4 0.2M464 577.4l1.3 0.7M440.9 534.2l0.6 0.2M452.6 561.5l0 0M422.8 565.9l-0.5 0.3M427.3 535.2l0.1 0.3M449.2 538.4l-0 0M440.8 537.1l-0.5 1.2M457.6 565.3l-0.2 0.2M436.5 541.1l0.7 0.6M479.9 581.6l-0.2 0.3M492.5 522.8l0.7 0.3M446 572.2l-1 0.8M448.7 568.8l-0.3 0.1M422.6 528.8l0.7 1M453.6 564.6l0.1 0M493.5 536.2l0.2 0.4M460.7 552.3l-0.2 1.2M458.3 555.3l0.2 0.6M425.9 556.9l0.2 1M418.1 532l0.9 0.5M486 547l1.3 0.2M446.1 555.1l0.4 0M416.4 525.2l1.3 0.2M480.6 532.2l0.9 0.8M443.5 569.7l-1.2 0.8M422.8 563.2l0.3 0M458.5 555.8l-0.3 0.3" stroke="#c8d5ef" stroke-width="2.0"/><path d="M459.3 561.5l-0.5 1.1M452.3 546.4l1 0.4M432.4 533.5l0 0.3M425.6 530.9l0.2 0.3M461.1 573.3l0.6 0.6M435.7 524.6l0.7 0.7M492 524.1l0.2 0M458.5 577.2l-0.2 0.6M433.9 583.4l-0.2 0.9M471 565.9l-1 0.6M425.8 553.4l-0.3 0.7M459.8 535.9l0.4 0.9M472.6 559.8l1 0.1M447.2 540.6l0.3 0.2M453.7 560.9l-0.2 1.3M434.3 582.7l1.5 0.2M466.8 534l-1.4 0.3M467.5 571.5l-0.3 1M444.2 526.1l-0.5 0.6M452 537.1l0.7 0.3M426.5 554.8l1.1 0.6M466.1 568.1l-0.3 0.7M473.7 554.8l-0.3 1.1M433.8 567.7l-0.1 0.1M462.9 568.8l0 0.3M462.5 565.9l0.2 0M453.6 564.4l0.6 0.6M418.7 581.3l-0.8 0.9M426.8 529.3l-1.5 0.5M460.2 536.6l-0.3 1M466.2 540.4l-0.2 0.3M447.4 578.2l-0 0M448.4 532.5l-0.9 0.6M417.4 571.7l1 0.7M447.5 539.3l-0.2 0M461.3 563.9l0.7 0.9M450.9 581.3l0.1 0.1M434.8 530.8l0.1 0.8M440.2 548.3l-0.1 0.1M456.5 556.6l-0.6 0.1M480.8 581.1l0.1 0.2M433.9 557.9l0.6 0.2M449.1 531.7l-0.8 0.1" stroke="#a2b9e4" stroke-width="1.1"/><path d="M445.2 531.1l-0.1 0.3M467 538.9l0.3 0.7M486.7 549.5l-1.1 0.7M461.9 548.8l0.1 0.8M444.3 539.4l-0.5 0.1M460.9 560.5l0.2 0.3M436.5 575l-0.1 0.1M419.1 536.2l-0.3 0.3M431.3 573.2l-0.5 0.2M444.8 526.8l0.3 0M449.5 533.6l-0.1 0.3M465.3 548.7l-0.5 0.2M435.9 579.1l0.1 0M488 539.7l1.3 0.5M464.8 560.7l0.2 1.1M470.9 525.6l0.1 0M422.6 574l-0.5 0.6M417.4 531.4l-1.1 1.1M436.7 574.3l0.4 1M431.3 548.1l0.2 0M481.4 561.5l-0.1 1.3M489.9 556l-0.2 1.1M444 532.9l0.7 0.5M417.2 572.7l1.1 0.7M441.1 570.4l0 0.2M444.5 551.8l0.1 0.1M489.5 541.8l-0.2 1.3M492.2 532.2l0.2 0.1M473.5 532.3l0.5 0.2M451.6 547.6l0.2 0.2M479.7 572.9l0.4 1.4M428 574.4l0.5 0.4M426.3 539.4l0.7 0.1M426 523.4l0.1 0.4M461.8 534l0 0.1M460.4 542.4l0 0.1M451.2 532.6l0.3 0.2M419.9 539.2l-0.1 0M461.3 554.7l0.3 0.6M446.6 564.5l-0.6 0.4M456.2 568l1.1 0.5M478.8 561.1l0.3 1.2M463.4 542.9l0.4 0.3M414.2 535.9l0.5 1M434.7 525.1l0.3 0.3M459.8 560.2l0.1 0M468 544.4l0.4 0.6" stroke="#a2b9e4" stroke-width="1.4"/><path d="M450.1 578.8l-0.4 0.7M456.7 545.1l-0.5 1.2M430.2 540.2l-0.6 0.6M454.9 540l-1.5 0.1M446.2 578.1l-0 0M456.5 533.4l-0.2 0.1M495.4 540.3l1 0.8M457.6 567.8l-0.5 0.5M459.3 531.5l-1.2 0.8M436.9 552.3l0.3 0.7M441.6 546.3l-1.2 0.5M463.6 558.8l0.4 0.5M455.9 581.9l-1.2 0.8M451 574.9l-1.2 0.4M435.1 544.7l-0 0.7M416.4 576.7l-0.5 1.1M477.2 565.4l1.3 0.5M445.8 540.3l-0.8 1M413.7 573.2l-0.1 0.1M439.2 553l-0.2 0.1M413.5 582.7l-0 0M459.4 543.7l0.7 1M432.4 565.3l0.3 0.1M466.1 554.2l0.3 0.1M467.1 548.6l0.5 1.5M416.2 545.5l0.1 0.4M458.2 563.3l0.4 1.5M470.8 566.2l0.2 0.1M438 541.3l-0.4 0.8M417.7 524l0.4 0.9M446.7 526.3l0.7 1.2M473.8 529.1l-0.1 0.1M473.7 568.8l0.4 0.9M482.5 542.9l0 0.4M462.2 575.1l0.2 0.7M461.5 554.2l-0 0M476.3 573.8l-0 0.3M470.2 534.1l-0.4 0.3M453.7 539.8l-0.6 0M421.4 525.8l-0 0.2M447.2 534.4l-0.5 0M463 530.8l-0.2 0.9M465.9 523.9l-0.2 1.3M449.7 553.4l-0.7 0.5M423.7 556.5l1.6 0.3M449.2 556.8l0.1 1.5M443.2 527.9l0.8 0.4M430.4 546.6l0.1 0.6M433.7 579.4l1 0.3M436.3 563.8l0.2 1.5" stroke="#a2b9e4" stroke-width="1.7"/><path d="M441.5 529.7l0.2 0.1M469.8 527.4l-0 0.1M457.3 546.9l-0.1 0.3M416.8 536.5l0.1 0.1M430.2 572.4l0.3 0.1M457.6 563.4l-0.5 0M446.8 565l-0.4 0.4M481.9 573.3l1.5 0.4M430.3 577.7l-1.3 0.2M473.1 522.9l0.7 1.1M460.3 565.4l-1 0.4M435.4 560.6l-0.5 1.3M446.9 554.3l0.4 0.1M445.3 572.5l0.1 0.6M440 539l-0.4 0.5M438.5 526.7l0.1 0.2M446.5 559.3l-0 1.2M455.6 566.1l-0.7 0.6M419.5 560.3l0.6 0.4M444.6 540.3l0.9 0.4M446.8 548.8l0.6 0.6M435.6 543.8l-0.2 0.2M479.9 582.6l0 0M438.7 567l-0.2 1M438.7 551.1l1 0.7M415.4 540.3l-0.3 0.2M447.5 559.5l-0.3 1.5M414.6 535.8l0.7 0.4M452.8 572.8l-0.1 0M439 557.6l-0.2 0.4M443.1 561.8l0.9 0.7M492.5 534.9l-0.1 0.1M487.4 573.2l1 1.1M494.8 573.7l0.6 1.2M445.9 532.7l-0.9 1M432.5 566.4l0.8 0.7M474.3 533.1l-0.4 0M444.4 566l0.7 0.4M472.5 532.6l1.2 0.1M462.2 555.5l-0.5 0.4M442.9 576.4l-0.8 0M478.6 572.6l-0.9 1.3M461.6 551.4l-0.1 0.3M471.5 531.4l-1.1 0.7M457.9 525.5l-0.8 0.4M439.7 542.6l0.3 0.9M455.2 568.3l-0 0.3M444.3 543.4l-0.3 0.8M489 539l0.2 0.1" stroke="#a2b9e4" stroke-width="2.0"/><path d="M472 533.5l-0 0M445.8 538.1l0 0.9M464.9 532.2l-0.1 0.1M480.3 570.2l-0 0M441.8 556.7l-0.3 0.2M466 537.3l-0 0M472.9 583.3l0.7 0.2M431 565.5l-0.3 0.4M468.6 568.9l-0.5 0.4M467.6 522.7l-0.2 0.4M472.8 524.8l0.3 0.5M454 527.7l-0.1 0.2M442.8 555.5l-0.1 0.1M461.7 544.3l-0.5 0.4M487.5 550.3l0.9 0.2M492.4 576.6l1.2 1M468 534.5l0.4 0M449.4 577.2l-0.1 0.4M489.1 560.2l-0 0M415.4 545.2l-0.1 0.1M475.5 533.9l0 1.4M442.3 572.1l-0.2 0.8M417.6 567.7l0.3 0.8M455.1 537.9l-0.6 0.4M458.9 577l-0.4 0.3" stroke="#7896d4" stroke-width="1.1"/><path d="M450.8 568.6l0 0.2M465.5 529.6l-1.1 0.5M432.9 541.1l-0.9 0M464.8 564.5l-0.3 0.2M441.5 552.2l0.5 1.3M434.6 578.8l-0.4 0M472.6 539.9l0.1 1.1M429.2 553.2l-0.2 0.2M452.4 581.8l-0.6 1.1M461.1 525.7l0.4 0M451.4 550.1l-0.2 0.3M476.9 580.6l0.9 0M460.2 548.9l0.3 1.1M466.9 525.1l-0 0M413.4 550.8l-0.2 0.5M464.6 552.1l-0.3 0.1M432.9 549.6l-0.2 0.3M444.9 576.4l0.9 0.3M434.3 529.9l-0.7 0.2M465.5 546l-1.1 0.5M456.6 527.3l1.2 0.6M472.4 574.7l0.3 0.9M474.1 559.1l0.5 0.1M446.9 542.8l-0.4 0.3M483.2 524.8l0.2 0.6M455.7 560.6l1.1 0.1M437.8 564l-0.8 0.4M453.4 526.8l-0.9 0.3M417.4 563.2l-0.2 0.1M451.7 562.5l0 0.5M419.8 550.7l-0.1 0.1" stroke="#7896d4" stroke-width="1.4"/><path d="M440.8 566.5l0.2 0.9M419.8 570.3l0.3 1M417.9 580.9l0.2 0.4M483.7 552.2l0.7 1M427.5 530.5l0.8 1.3M438.3 563.9l-0.6 0.6M460.5 525.6l1.1 0M442.6 548.6l0.1 0.1M424.2 557.3l-0.5 0.5M427.3 558.2l-0.1 0.5M429.5 569.4l0.3 0.9M425.4 562.7l0.1 0.1M452.7 552.8l0.6 0.7M462.5 538.2l-1.2 0.3M434.8 576.8l-0.7 0.6M473.5 541.6l0.4 0.3M419 554l-0.3 0.1M470.1 569.9l-0.8 0.6M446.6 579.6l0.2 0.8M435.3 576.4l1.2 0.8M446.7 525.9l0.3 0.1M486.9 555.6l-0.3 0.9M488.1 542.7l1.6 0M434.7 534.7l0.7 0.8M414.4 570.7l0.7 0.3M426.6 571.8l-0.5 1.3M473.5 526.7l0.5 1M443.2 556.2l-1.2 0.1M481.9 582l0.1 0.7M488.9 579.9l1 0.6M433.5 566.5l-0.1 0.2M485.8 572.3l0.9 0.1M447.6 568.7l-0.5 1.3M468.8 534.6l1.1 0.9M424.1 552.9l1 0.2" stroke="#7896d4" stroke-width="1.7"/><path d="M471.2 553.1l-0.7 0.2M462.7 535.8l-0.1 0.1M428 540.4l-0.7 1.4M460.8 573.6l-0.1 0M440.9 532.8l0.4 0.4M480.5 574.7l-1.3 0.5M474.3 558.7l0.2 1M468.5 540l0.1 0M432.8 570.1l0.6 0.3M413.7 533.5l1.2 0.9M451.5 542.5l0 0.2M447.6 534.6l0.6 0.7M414.1 527.1l0.1 0.1M448.3 564.6l-1 1.1M483.7 532.4l0.1 0.3M468 560.3l-0.6 0.4M456 523.6l-0.9 0.1M470.6 526.6l0.3 0.3M493.5 533.5l-1.4 0.4M417.1 532.9l0.2 0M423.5 554l-0.3 1M472.5 544.3l-0.2 0.4M451.1 529.5l0.6 1.2M427.6 539.6l-0.2 0.2" stroke="#7896d4" stroke-width="2.0"/></g><g fill="none" stroke-linecap="round" stroke-opacity="0.85" filter="url(#blr)"><path d="M492 562.2h0.1" stroke="#9a5a30" stroke-width="1.4"/><path d="M426.2 549.2h0.2" stroke="#9a5a30" stroke-width="1.5"/><path d="M459.8 573.1h0.2" stroke="#9a5a30" stroke-width="1.6"/><path d="M466.8 568.1h0" stroke="#9a5a30" stroke-width="1.7"/><path d="M490.4 571.7h0.5M490.7 526.8h0.6" stroke="#9a5a30" stroke-width="1.8"/><path d="M455.4 527.2h0.2" stroke="#9a5a30" stroke-width="2.0"/><path d="M455.6 560.6h0.1M475.1 547.3h0.3M449 544.6h0.4" stroke="#9a5a30" stroke-width="2.1"/><path d="M470.4 561h0" stroke="#9a5a30" stroke-width="2.2"/><path d="M426.6 536.1h0.2" stroke="#9a5a30" stroke-width="2.3"/><path d="M487.7 568.2h0" stroke="#9a5a30" stroke-width="2.4"/><path d="M417.7 526.3h0.3" stroke="#9a5a30" stroke-width="2.6"/><path d="M491.2 558.2h0.2" stroke="#9a5a30" stroke-width="2.7"/></g>
</g>
<g clip-path="url(#c31)">
<rect x="501.3" y="522.6" width="82.5" height="60.8" fill="#e1e9f6"/><g fill="#f7f9fd" fill-opacity="0.75" filter="url(#blw)"><ellipse cx="514.9" cy="564.5" rx="12.3" ry="7.4"/><ellipse cx="519.1" cy="570.8" rx="14.1" ry="7.6"/><ellipse cx="543" cy="537" rx="6" ry="6.6"/><ellipse cx="549.6" cy="526.8" rx="13.9" ry="5.6"/><ellipse cx="520.5" cy="525.2" rx="16" ry="9.2"/></g><g fill="none" stroke-linecap="round" filter="url(#blr)"><path d="M571.4 541.3l0.6 0.2M580.4 577.7l-0.1 0.3M530.6 541.9l-0.4 1M532 558l0.4 0.4M529.2 539l1.4 0.3M572.6 549.4l-0.3 0.2M575.7 568.1l0.7 1.1M576.3 532.7l1.2 0.1M516.3 581l1.4 0.7M535.3 550.1l-0.3 0.6M519.9 524.1l0.6 1.1M522.7 578.4l-0.2 0.1M570.5 536l1.2 0.2M534.1 560.4l-0.7 1.1M577 560.3l0.1 0M513.6 580.2l0 1M537.1 582.7l0 0.2M505.2 549.8l-0.3 0.3M563.2 560l0.7 0.1M534.2 558.3l0.2 0.4M516.4 555.4l-0.1 0.1M537.7 524l0.6 0.9M551.5 581.7l0.6 0.6M504.9 543.5l0.9 1.3M570.9 550.7l-0.1 0.3M540.8 539l0.9 0.6M527.3 534.3l0.1 0.3M562.9 553.9l-0.6 0.8M547.1 537.3l0 0.2M524.6 545.4l0.2 0M518.6 527.4l-1.2 1M569.5 541.8l-0 0M529 543.5l0.6 1.2M536 559.6l-1.4 0.6M528.3 539.5l-1.6 0M523 547.5l0.4 1.3M550.6 526.7l0.8 0.2M553.9 536.6l0.8 1.3M517.4 549.7l1 1.1M522.7 549.9l-0.3 0.3M558 566.9l0.4 0.1M559.1 561.2l0.6 0.8M529 573.7l0.1 0.8M521.9 577.3l0.2 0.4M503.3 560.6l-0 0.2M524.4 531.9l-0.3 0.5M532.9 547.7l0.3 1.3M519.5 545.5l1.1 0.5M551 555.1l0.4 0.1M549.1 545.6l0.9 0.8M505.8 548.2l-0.5 0.1M581.3 579.4l0.9 0M509.6 543.3l-1.1 0.8M517.6 539.1l-1.3 0M540.2 543.1l0.2 0.1M519.7 540l0.5 1.2M580.7 549.1l0.7 0.1M524.1 568.7l-1.5 0.2M547.6 528.4l0 0.2M539.4 537.5l-0.4 1.3M552.3 546.4l-1.4 0.7M552.1 523.9l-0.6 0.9M507.9 534.8l-0 0M548 527.3l-0 0.1" stroke="#c8d5ef" stroke-width="1.1"/><path d="M564.2 579.1l0.5 1.1M505.6 538.3l-0.6 0.2M515.6 538.7l-0.3 0M574.1 544.6l-0.3 0.5M568.3 552l0.1 0.8M528.4 535.7l0 0M505.7 540.1l1.1 0.5M521.6 583.2l1.2 0.1M525.7 579l0.1 0.5M527.4 558.5l-1 0.2M536.9 523.5l-0.7 1.3M536.2 546.3l-0.2 0.2M542 547.9l-0 0M582.4 567.8l0 0.1M537.9 528.9l-0.2 0.1M550.8 549.7l-0.2 0M524 578.1l0.6 1.4M524.8 536.1l1.3 0.3M521.4 566l0.4 1.1M579 537.4l0.2 0.1M518.1 543l-0 0.6M523.4 565.2l0.6 0.7M569.8 529.3l0.6 0.4M557 570.9l-0.3 0.8M581.4 564.7l-1.1 0.5M563.6 557.7l0.7 0.8M542.2 546.3l0.1 1M579.8 554.2l-0.5 0.5M523.7 576.4l-0.3 1M583 537.9l-0.6 0.1M557.6 560.2l1.3 0.3M559.8 558.4l0 0M533.9 534l-0 0.8M557.5 570.5l-1 0.7M542.7 532.2l-1.3 0.1M555.5 567.4l0 0.2M573.9 564.6l-0 0M518.4 546.1l-0.3 0.2M539.8 552.7l1.1 0M560.5 526.4l-0.6 0.8M530.7 543.2l-0.1 0.1M532.1 565.7l0.1 0.1M522 556.5l1.2 0.6M549.2 540.9l0.6 0.7M519.6 546.4l1 0.2M507 550.8l0.2 1.4M530.4 545l-0.7 0.9M579 550l0.8 0.3M501.7 550l-1.1 0.6M567.4 547.5l0.1 0M519.8 526l0.1 0.7M513.3 579l-0.1 0M525.7 543.7l0.5 1.2M517.7 576.3l-1.3 0.9M507.1 577.8l-0.1 0.5M532.8 532.5l-0.6 0.2M544.7 546.5l-0 0.2M566.3 545.3l0.8 1.4M501.7 537.4l-0 0M508.8 546.1l0.7 0.2M540.7 551.6l-0.2 0.6M504.5 536.8l0.1 0" stroke="#c8d5ef" stroke-width="1.4"/><path d="M544.7 566.9l-1.2 0.5M566.2 527l0.5 0.7M532.1 559.4l-0.4 0.1M573.5 566.2l0.4 0.9M552.2 539.7l-0.2 0M534.3 524.6l-0.4 0.5M536.4 534.8l-0 0M575.5 533.6l-1.3 0.7M514.5 547.6l-0.4 0.5M518.2 553.9l-0.1 0M519.9 538.6l-0 0M531.1 549l-1.1 0.9M536.8 547.8l-0.1 0.3M571.5 547.6l0 0.3M577.1 564.8l0.1 0.1M510.4 525.8l0.2 0M583.4 542.3l0.9 1.3M524 558.4l-0.4 0.4M545.5 558.9l0.4 0.1M580.4 541.9l1.3 0.5M577.2 556.9l0.2 0.1M532 550.1l-0.2 0.2M548.4 559.9l0.2 0.1M530.4 554.8l1.3 0.4M574.3 555.5l-1.1 0.1M546.9 559.7l-1 0.9M509.6 523.7l-0.4 0.5M565.6 550.7l0 0.8M567 546.3l-1.1 1M508.7 579.3l0.4 0.3M503 563.2l-1.5 0.5M541.5 530.1l-0.1 0.3M503.4 541.8l-1.2 0.5M569.3 543.1l0.4 0.6M535.9 542.5l-0.2 0.2M572.4 551.5l-0 0.9M576 551.3l-0.3 0.4M579.4 551.8l1.3 0.2M558.3 569l0.2 0.5M538.2 536.9l-0.5 0.2M577.7 547.2l0 0M566.2 567.5l1.1 1M563 551.5l-0.2 1.2M537 538.5l-0.2 0M530.1 542.9l-0.6 1.1M507.9 556l0.1 0.1M572.4 563.5l0.2 0.7M575.9 550.7l0.7 0.4M567.8 568.1l-0.2 0.4M567.7 543.7l0.4 1.5M502.6 548.1l-0.8 0.8M549.7 544.1l0.9 0.5M574.3 557.8l-0.3 0.4M535.3 542.6l1.2 0.4M556.1 522.8l0.2 1.1M562.7 532.1l0.6 0.5M541.6 550.7l-0.9 1.1M575.7 564.6l0.1 0.5M535.9 552.9l0.3 0.2M534.9 556.1l0.2 0.7M580 582.3l-0.7 1M524.1 533.8l0.7 0.6M541.1 543.9l-0.1 0.1M565.6 557.9l-0.5 1.1M562.1 560.1l0.3 0.7M512.5 567.2l1.1 0.3M518.6 522.8l1.3 0.8M536.3 565.1l-1.4 0.4M558 537.7l0.9 1.1M533.1 545l0.6 0.4M561.4 568.2l-1.3 0.7" stroke="#c8d5ef" stroke-width="1.7"/><path d="M560.3 538.7l0.1 0.4M542 536l-0.2 0.2M503.4 562.8l0.2 1.1M517.8 559l0.1 0.7M517 539l-0.3 0.3M531.9 582.9l0.1 1M542.1 534.2l0 0.4M567.8 564.4l0 0.1M571.4 581.2l-0.2 0.2M580.9 549.4l0 1.3M578.6 545.7l-0.3 0.5M530 548.1l-0.5 0.2M526.5 572.6l0.5 1M579.4 578.3l-0.9 0.6M576.8 567.3l-0.4 0.1M549.8 533.6l-0.3 0M512.5 558.9l0.5 0.8M538.7 556.9l-0.3 0.3M550.7 552.9l-0.9 1.3M577.5 528.1l0.3 1.3M504.8 564.4l-0.1 0.8M583 563.5l-0.4 0.7M517.6 558.6l-0.4 0.8M521.5 544.7l-0.6 0.1M578.7 534.2l0.9 0.7M581 546.8l0.3 0.3M528 560.4l-0.4 0.6M570.6 578.9l0.8 0.6M567.3 535.2l0.4 0.3M524.7 577.2l1.3 0.3M510.5 524.9l1.1 0.5M580.7 552.2l0.4 1.4M528.6 529l0.2 1.2M578.7 525l-0.4 0.4M573.1 564.9l0 0.4M533.7 550l0.5 0M580.9 544l-0.1 0.1M542.5 527.4l0.6 0.1M571.9 546l0.1 0.1M501.7 541l-0.6 0.1M536.7 553.7l-0.2 0M513.2 560.8l-0 0M528.2 577.9l-0.2 0.6M546.4 542.7l0.1 0.4M532.5 558l-0.5 0.2M578.9 582.3l-0.3 0.1M542.8 580.8l0.3 0.7M573.9 549.9l-0.1 0M559.9 528.8l0.2 0M536.1 526.4l0.7 0.1M573.1 564.2l0 0.2M519.7 528.9l-0.6 0.6M565.8 556.9l1.2 0.9M509.6 573l-0.9 0.3M567.1 570.2l-0.4 1.4M511.3 570.3l1.4 0.1M571.9 540.9l0.1 0.1M580.7 545.1l1.4 0M518.2 566.4l0.2 0.6M536.1 557.3l-0.6 0.1M573 563.9l0.4 0.2M573 534.1l-0.3 0.4M582.8 562l0 0.2M520.6 524.8l-1.1 0.8M524 580.9l-0.1 0M529.2 561.4l-0.2 0.9M547.7 571.5l-0.6 0.4M580.7 551.8l1.1 1.1" stroke="#c8d5ef" stroke-width="2.0"/><path d="M569 527.1l0 0.2M554.5 531.5l-0.4 0.1M563.8 559.3l1.3 0M520.8 546l0.1 0M577.6 576.3l-0.6 0.3M518.1 557.7l-0.6 0.1M581.5 535.9l0.5 0.6M515.4 557.9l0.1 0M579.8 546.2l0.6 0.7M569.8 534.9l1.3 0.6M516.8 559.3l0.6 0.1M567 559.1l0.1 0.6M536.8 558.5l-0.3 1.6M567.6 543.9l1 0.1M583.4 543.1l0.4 0.8M570.5 540.9l-0.2 0.5M572.6 557.6l-0.3 0.3M561 568.8l-0 0.1M508.2 570.5l-0.3 0.1M532.5 550.2l-0.5 1.2M530.7 569.6l-0 0.1M546.4 576.3l0.6 1.1M562.4 578l0.4 1.1M506.5 563.9l-0.2 0.2M561.6 538.6l0.3 0.1M566.7 547.5l-0.3 1.1M576.1 537.2l-0.6 0.2M521.8 546.4l-0.9 0.9M528.4 553.5l0.1 0.5M532.6 552.2l-0.8 0.2M525.8 552.2l0.4 0.2M568.9 542.4l-0.6 1.2M536.5 582.8l-0.2 0.7M562.6 561.5l-0.3 0.1M575.1 534.7l0.7 0.8M525.3 559l-0.6 1.2M523.1 547.3l0.1 0.2M513.2 577.9l0.4 0.2M513.2 531.8l-0.4 0.3M580.1 571.8l0.3 1M545.7 524.2l0.7 0.3M507.3 526.8l0.6 1.2M574.3 558.2l1.2 0.5M573.8 569.5l-0.7 0.5M575.1 528.2l-0.1 1.2M535.4 541.5l-1.6 0.3M531.8 579.7l-1.1 0.3M526.8 537.9l-0.1 0.1M538.3 560.8l-0.1 1.6M583.4 532.6l1.3 0.1M522.8 547.8l-0.4 0.4M554.9 543.7l0.9 0.8M524.4 575.5l-0.7 0.1" stroke="#a2b9e4" stroke-width="1.1"/><path d="M538.7 556.2l0.1 1.1M559.1 535.3l0.9 0.3M531.7 553.6l0.1 0.7M523.1 563.4l-0.1 0.1M523.2 568.2l0.8 0.2M518 542.9l-0.9 0.2M526.6 566.3l-0.8 0.5M516.6 565.2l-0.9 0.6M502.3 581.1l-0.5 0.5M574.7 562.2l-0.3 0.3M523.1 558.5l0.9 0.3M578.2 554.7l-0 0.2M509.9 539.2l-0 0.3M544.9 544.7l0.5 0.7M558 549.1l0.7 1.3M512.7 581.4l-1.5 0.2M541.1 525.3l1.2 0.6M569.7 531.8l-0.5 0.1M513 551.3l0.2 1.1M556.2 580.9l0.2 0.4M506 531.1l0.8 0.1M530.8 565.5l-0.9 0.1M515.1 557.3l0.4 0.3M520.1 556.2l-1 0.6M551.3 525.5l0.5 0.5M567.7 576.5l0 0.3M502 543.7l0.4 1.3M541.2 571.6l0.1 0.7M551.6 550.2l0.9 1.1M582.3 550.9l-0.2 0.3M567.2 582.2l-0.5 0.7M549.4 546.2l0.5 0.9M504.9 551.6l-0.9 0.1M504.4 578.8l-0.7 1.3M509.3 561.3l-0 0M513.7 539.9l0.7 0.4M573.1 579l0.5 0M561.2 527.4l-0.2 0M531.6 524.9l0.2 1.4M507.3 580.1l-0.4 0.5M554 552.6l0.5 0.6M536.6 539.4l-1 1.1M525.6 557.3l-0.8 1.2M559.9 532.3l1.1 0.7M568 554.6l0.3 0.7M525 552.8l-0.1 0.2M540.1 553.5l0.9 0.5M516.1 531.2l0.1 0.5M551.8 542.4l-0.6 0.6M579.3 534.6l-0.5 0.1M580.5 528.6l1.4 0.5M570.3 546.3l-0.5 0.3M535 581.7l-0.3 0.3" stroke="#a2b9e4" stroke-width="1.4"/><path d="M527.6 582.2l0.7 1.2M515.8 565.9l0.9 0.8M548.6 555.8l0.9 1.3M542.6 547.7l-0.8 0.9M504.6 574.8l-0.8 0.5M532.4 546.5l-0.9 0M533.4 560.8l0.5 1.1M580.7 545.3l0.1 0.2M567.8 551.9l-0.8 1M545.1 532.6l-0.5 0.4M581.3 562.4l-0.1 1.2M524.3 522.9l-0.7 0.2M574 538.7l0.3 0.2M567.3 543.1l-0.1 0.1M544.5 537.8l0.2 1.3M540.4 570.3l-0.2 0.3M572.2 556.1l0 0.1M545.8 541.9l-0 0M569.2 547.8l0.8 0.2M569.6 525.9l0.1 0.1M509.3 528.9l-0 0.1M502.7 564.3l1 0.4M567 557.6l-0.2 0.2M541.4 545.5l1.1 0.4M541.7 555.7l0.5 1.4M570.1 568.3l0.6 0.3M532.3 550.7l0 0M576.6 569.3l-0.7 1M526.2 557.3l-0.1 0M525.6 545.4l-0.6 1.5M525.3 536.9l-0.1 0.2M549.4 538.9l0.6 1M520.1 545.2l-0.2 0.1M578 535l-0.4 0.4M523.6 559.3l-0.5 0.3M512.8 566.9l0 0.2M573.3 549.1l-0.1 0.4M565.9 547.6l1.5 0.1M575.9 576.7l-1.5 0.3M569.8 541l-0.1 1.3M534.8 557.5l-0.3 1.5M518.6 539.3l0.1 1.6M546.5 533.7l-1.2 0.2M558.6 543l-0.1 0.1M506.9 529.3l-0.2 0.4M577.5 546.5l0 0M533.3 552.8l0.9 1M518 578.6l1.4 0.7M571.1 549.1l0.8 0.1M535.6 554.2l0 0.3M572.1 559.4l0.5 0.4M572.7 527.9l1.5 0M558.2 579l-0.8 0.8M534.8 539.4l-0.8 0.7M552.7 526.1l-1.1 0.8M524.5 532.3l-0.4 0.5M535.5 562.4l-0.7 0.7M555 528.1l0.1 0.4M551.1 574.5l0 0.3M519.8 552.7l0.7 1.3M507.4 561.3l-0 0M559.1 545.9l0.5 0.3M561.2 565.5l0.5 0M506.3 538.7l-1.3 0.3M572.6 542.8l0.7 0.4M535.7 533.4l-0.7 0.3M505.6 526.1l-0.2 0.2M512.8 553.8l-0.4 0.1M530.7 541.2l0.9 1.1M519.4 549.8l0.1 0.2M518.2 534.3l-0.3 0.7M560.8 560.8l1.1 0.2M570.4 523.7l0.4 1.4" stroke="#a2b9e4" stroke-width="1.7"/><path d="M574.5 547.5l0 0.5M523.2 573.3l0 0M579.4 563.9l1.4 0.3M573.3 545l-0.6 0.8M575.1 545.1l0.8 0.1M582.9 562.6l-0.6 0.4M513.9 556.1l0.2 0.1M507.4 542.5l0.9 1.1M520.9 548.8l-0.2 0.3M523.2 551.3l-0.4 0.1M582.3 526.8l-0.5 0.2M507.7 545.2l-0.7 0.2M558 573.3l0.7 0.1M515.8 565.8l-0.2 0.3M561 524.5l-0 0.1M577.7 558.1l0.1 0.3M531.5 543.1l1.5 0.4M531.5 527.5l-0.3 0.6M578 579.4l0 1M556.6 526l-0.9 0.1M534.5 546.7l-0.4 1.3M548.9 577.8l-0.2 1.3M554.3 527.5l-0.1 0M566.4 560.3l0.3 0.6M533 551.1l-1 1.1M536.9 546.9l-0.7 0.7M570.4 550.5l-0.4 0.5M519.4 546.7l0.9 0.4M511.3 559.9l0.5 0.3M552.8 571.8l-0.5 0M555.4 528.5l-0.1 0.1M516.1 552.4l-0.6 0.5M532.6 542.8l0.9 1M531.7 542.3l0.7 0.2M536.2 532.7l0.4 0.8M572.5 523.5l0.8 0.8M579.5 534.6l-0.1 0.2M571.6 544l0.1 1.4M534.5 557.5l-1.5 0.5M571 558.9l-0.6 1.2M537.1 581.4l-0.4 0.1M509.7 529.8l-1 0.6M524.3 551.5l-0.1 0.6M582.9 526.1l-0.8 0.1M580.4 570.5l-0.5 1M580.4 566l-0.2 0.6" stroke="#a2b9e4" stroke-width="2.0"/><path d="M580.4 547.3l0 1.4M533.1 560l0.2 0.2M572.8 557.4l-1.1 1.1M577.9 534.7l0.8 0.8M508.9 570.9l0.1 0.2M526.9 560.5l0.1 0.5M564.5 555.4l-0.7 0M582.4 546.8l-0.3 0.2M530.8 578.1l-0.1 0.2M547.1 580l1.5 0.4M578.2 549.4l-0.1 0.3M529.1 537.6l-0.1 0.4M522.8 572.3l-1.5 0.4M508.6 571.4l0.4 1M574.4 545.3l0.3 1M538.9 567.1l-0.5 0M524.8 569.1l-0.2 0.8M558.9 573.2l1.1 0.3M530.5 570.2l0.5 0.5M583.3 538.2l0.1 0.2M544.9 527.6l-0.3 0.6M555.1 541.6l-1.3 0.4M537.7 532l0.4 1M562.7 528.3l1.5 0.1M579 545.2l0.8 0.4M573.4 524.9l-0.6 0.8M527.2 552.1l-0.5 0.1M528.2 569.7l1.1 0.3M535.3 541.2l-0.7 0.1M542.1 579.4l-1.6 0.2M558.3 530l0.5 0.5M573.9 542l1.1 0.8M577.2 546l-0.7 0.2" stroke="#7896d4" stroke-width="1.1"/><path d="M561.3 554.5l-0.5 0.6M549 578.3l-1.2 0.5M571.2 556.8l-0 1.1M529.3 581.3l0.6 1.2M578.2 533.5l-0.5 0.5M582 530.6l-0.8 0.3M549.2 545.9l-0 0M538.4 531.9l0.4 1.3M540.8 565.6l0.5 0.2M516.2 541.2l-0.1 0.3M544.4 554.1l-0.1 0.9M576 557.1l-1.5 0M504.4 541.9l1.1 0.1M523.5 580.6l-0.7 0.9M546.8 561.8l0.4 1.4M577.8 536.1l0.3 0.4M522.3 526.7l-0.3 0.8M554.6 542.8l-0.8 1.2M514.3 573.2l1.3 0.4M551.2 545.1l-0.5 0.4M510.1 537.6l-0.4 0.2M514.9 577.3l0.8 0.7M527.9 529.3l-0.9 1M569.7 545.1l0.2 0.1M504.4 525.9l-0.9 0.7M572.9 544.6l1.1 0.8M571.3 565.6l-0.5 0.1M578.2 574.9l-0 1M552.1 563.5l0 0.8M577.5 541.2l0.8 0.6M531.9 555.1l0.1 0.1M563.3 580l0 0.1" stroke="#7896d4" stroke-width="1.4"/><path d="M577.3 554.4l-0.1 0.1M515.2 568.9l0.3 0.6M523.2 557l-0.1 0M582.1 548.5l1 1.1M580.7 583.1l-0.2 0.3M560.3 523.3l-1 0.5M578.8 539.5l0.5 1.5M546.3 531.7l-0.9 0.9M540.5 572.9l-0.5 0.3M525.7 577.7l0.5 0.2M523.6 548.9l-0.1 0.7M542.6 535.4l-1 0.7M542.1 576.1l0.8 0.1M569.9 566.6l0.1 0.7M508.3 523.8l-0.9 0.7M519.5 571.5l-0.9 1.1M504.1 566.6l0.5 0.7M544.5 523.7l0 0M541.7 545.6l-0.4 1.3M579.8 542l-0.3 1.1M574.3 557l1 0.1M582.3 565.1l-0.1 1.5M525.9 552.9l1.5 0.4M576.7 545.3l0.5 0.6M576.7 539.4l-0.5 0.2M577.9 540.5l1 1M565.2 558.7l-1.4 0.4M554.2 583l0 0.2M574 536.4l0 0M525.3 566.4l-0.4 0M532.2 550.3l0.4 0.2M581.9 537.7l-0.2 0M537.6 574.4l-1.2 0.3" stroke="#7896d4" stroke-width="1.7"/><path d="M575.8 555l0 0.3M549.7 549.3l-1 0.9M537.8 536.7l0.8 0.3M573.4 583.2l-0.4 0.6M520.4 563.4l0.6 0.6M527.1 573.7l-0 0M536.3 574.1l-0.3 0.6M566.9 582.7l-0.5 0.6M501.8 571.4l0.6 0.5M556 568.6l-1.3 0.2M556.8 556l-0.1 1.2M572.3 524.2l0.1 1.1M513.6 538.2l-0.1 1.3M537.1 549.2l0.4 1.2M520.3 554.9l-0 0M519.5 550.5l-0.4 0.8M501.4 545.9l-0.9 0.3M578.7 537.5l-0.2 1.4M583.4 561.1l0.1 0.1M522.2 581.7l0.4 0M541.9 576.7l-0.1 0.4M517.8 569.5l0.8 1M579.7 555.2l0.3 1.5M547.6 572.8l-0.1 0.1M570.1 539.8l-0.6 0.4" stroke="#7896d4" stroke-width="2.0"/></g><g fill="none" stroke-linecap="round" stroke-opacity="0.85" filter="url(#blr)"><path d="M512.3 529.5h0.2M511.4 538.7h0.6M534.1 549.6h0.2" stroke="#5e240a" stroke-width="1.4"/><path d="M557.4 526h0.4M579.1 560.9h0.2M578.1 567.6h0.6" stroke="#5e240a" stroke-width="1.6"/><path d="M541.6 564.1h0.2" stroke="#5e240a" stroke-width="1.7"/><path d="M577 531.9h0.3M562.6 526.9h0.5M550 563.4h0.4M568.5 577.7h0.1" stroke="#5e240a" stroke-width="1.8"/><path d="M555.3 529.3h0.3" stroke="#5e240a" stroke-width="1.9"/><path d="M542.9 557.4h0.3" stroke="#5e240a" stroke-width="2.0"/><path d="M510 566.3h0.3M559.6 538.5h0.2" stroke="#5e240a" stroke-width="2.1"/><path d="M507.9 549.3h0.2M525.6 572.2h0.2" stroke="#5e240a" stroke-width="2.2"/><path d="M562.7 563.6h0M512.3 556.8h0.5" stroke="#5e240a" stroke-width="2.3"/><path d="M560 544h0.3" stroke="#5e240a" stroke-width="2.5"/></g>
</g>
<g clip-path="url(#c32)">
<rect x="589.8" y="522.6" width="82.1" height="60.8" fill="#e1e9f6"/><g fill="#f7f9fd" fill-opacity="0.75" filter="url(#blw)"><ellipse cx="668.5" cy="531.1" rx="6.2" ry="11"/><ellipse cx="604.9" cy="529.9" rx="12.5" ry="6.4"/><ellipse cx="662.8" cy="536.7" rx="15.6" ry="6.2"/><ellipse cx="639.2" cy="579.3" rx="12.9" ry="10.5"/><ellipse cx="647.9" cy="525.5" rx="14.8" ry="8.1"/></g><g fill="none" stroke-linecap="round" filter="url(#blr)"><path d="M633.1 568.7l0.7 1.4M618.5 542.6l0.1 0M603.9 564.7l0.1 0.1M624.2 538l-0.3 1.5M638.9 554.7l-1.1 0.7M643.3 542.1l0.1 0.2M644.9 544.5l-0.2 0.1M622.5 528.5l-0.3 0M665.3 550.1l0.5 1.3M629.1 524.1l1.2 0.5M658.3 540.4l1.2 0.1M591.8 541.2l-0 0.6M619.1 525.8l-0.1 0.1M666.4 567.7l-0.6 0.1M600 566.2l-0.3 0.1M631.6 543.1l0 0.1M620.1 568.3l-1.1 1M618.7 540.5l0.1 0M609.2 548.2l-0.9 0M616.2 573.5l0.1 0.7M628 563.1l-0.5 0.4M657 549.6l-1.1 0.8M599.1 528.8l0.9 0.8M604.4 555.8l0.8 0.5M598.8 547.9l0 0M605.7 540.1l-0 0M627 533.9l0.4 0.7M621.5 542.6l-0.1 1.5M663.4 547.4l0.5 0.4M622.4 544.1l0 0.2M651.6 547.9l-1.2 0.7M668.5 553.4l-1.2 1M667.4 563.8l-0.3 0.2M662.5 542.1l0.6 0.4M592.5 546.8l-0.7 1.1M615.5 551.1l0.2 0.3M600.4 541.4l-0 1.3M611.4 557l-0.2 0.6M638 576.7l-1.1 0.2M591.9 550.1l-0.2 0.2M662 544.8l1 0.3M615.8 544.7l0.1 1.4M649.4 583.3l-0.7 1M593.6 575.8l0.2 0.4M617.6 579.6l-1 0.1M647.7 569.8l-0.5 0.1M635.3 568.6l0.2 0.1M609.7 550.5l-0.9 1M627.5 525.1l-0.1 0.2M630.8 563.3l-0.3 1.1M666.3 550.9l-0 0M649 570.7l-0.7 1.2M637.5 570.5l-0.9 0.3M634.6 578l1.1 1M619.9 573.2l-0.6 0.4M636.3 558.1l1.2 0.9M628.1 543.2l0.8 0.5M651.2 554.2l-1.2 0.4M638.8 532.8l-0.1 0.6M669.2 539.8l1 0.8M651 551.6l-0.3 1.1M640.8 567.6l0.7 0.6M617 553.3l-0.3 1.4M609.4 539.9l0.4 0.4M648.7 561.5l-0.2 1.1M601.3 551.5l-0.5 0.2M609.4 539.3l-0.6 1M597.3 543.3l-0.9 0.1M639 564.5l0.1 1.5M602.9 547.3l0 1.2M662.3 557.4l0.9 1.3M643.5 562.5l0.3 1.3M658.5 568.2l1.1 0.8M604.8 531.4l-0.1 0.7M618 568.2l0 0M651.2 547.2l0.5 1M656.4 568.8l0.2 0.3M662.4 563.9l0 0.1M600.3 525l0 0.6M670.2 554.8l0 0M616.6 524.3l0.1 1.3M627.4 535.1l-0.4 0" stroke="#c8d5ef" stroke-width="1.1"/><path d="M640.1 538.3l0.3 0.3M653.7 567.5l-0.6 0.3M597.8 551.2l0 0.1M604.4 581.1l1 0.1M613.2 546.6l-0.8 0.3M651.5 556.4l1.2 0.5M655.4 548.5l-0 0.4M645.8 557.4l-0.5 0.3M671.6 543l0.8 0.8M627.9 534.9l0.3 0M641.9 560.1l-0.9 0.8M650.5 581.3l-0.8 0.9M669.5 568.2l-0.2 0.8M599.7 555.4l-1.1 1.1M660.8 582.5l-0.6 0.7M593.8 540.1l0.7 1.4M622.8 555.3l1.3 0.8M652.5 580.5l-0.1 0.3M602.5 527.4l-0.2 1.1M637.5 539.9l0.5 0.8M659.1 536.7l-0.1 0M603.1 533.2l0.3 0.4M616 528.9l-0.1 0.2M614.5 559.4l-0.2 0.8M620.1 556.3l0.2 0.1M633.5 550.4l-0.4 1M602 531.6l-0 0.3M642.4 572.8l0.3 0.1M639.2 543.2l0.3 0.6M614.3 534.6l-0.8 0.2M652.4 527l-0 1.3M594 557.1l-1.3 0.7M625.1 563.2l1 0.6M602.2 550.2l0 0.2M660.6 578.2l0.4 0.2M613.1 552.4l-0.1 0.7M650.2 579.7l0.8 0.3M642.1 568.8l0.2 0.2M628.8 557.5l-0.4 1.5M639.5 557.1l-0.9 1.1M638 571.9l0.5 0.3M604.4 552.1l-0.8 0.1M629.5 559.2l0.8 0.3M666 539.3l1.2 0.2M629.5 533.2l-0.3 0.1M615.7 540.6l0 0M592 540.1l0.6 0.7M666.2 544l1.3 0.7M665.1 551.4l0.4 0.6M614.1 575.6l0.4 1.5M665.2 575.5l-0.6 0.1M628.4 557.5l1.4 0.5M663.9 561.7l-0.1 0.2M619.7 559.7l-0.5 1.2M614.2 548.5l0.7 0.5M655.7 543l0.6 1M669.5 565.3l-0.3 0.9M650.3 559l-1.4 0.3M600.3 537l1 1.1M635.8 543.4l0.1 0.2M597.3 576.7l-0.1 0.1M618.3 551.2l1.1 0.9M668.1 557.8l0.4 1.5M634.7 581.2l-0.9 1.2M671.5 579.6l0.2 0.2M609.2 534.1l1.2 0.8M641.8 527.2l-0.1 0.6M666.7 556.4l0.8 1.2M620.2 560.1l0.4 1.3M647.2 554.1l1.1 0.8M641.1 571.2l-0.1 0.2M666.1 555.5l-0.7 0.2M641.7 539.8l-0.2 0.3M618.2 558.6l-0.2 0.2M612.6 552.3l-0.8 1.1M662.2 545.4l0.1 0.1M597.3 579.7l-0.4 0.7M622.1 548.9l-0 0.2" stroke="#c8d5ef" stroke-width="1.4"/><path d="M656.1 538.3l0.5 0.9M629.3 571.3l0.3 0.1M648.4 536.8l0 0M613.5 559.9l1.5 0.5M610.9 530.1l-0.6 0M630.7 565l1 0.6M671.6 538.6l-0.7 0.9M606.6 558.7l0.8 1M653.5 563.4l0.3 0.1M645.2 579.9l0.1 0.8M615 546.5l-0.3 0.3M641.7 561.1l0.8 0M613.3 545.8l0.5 1.3M666 576.4l-0 0.4M641.2 580.1l-0.2 1.1M611.8 531.9l-0.3 0.5M646.7 567.9l0 0.8M660.9 523.7l-0.4 0M614.9 577.1l0.3 0.6M633.5 573.8l-0.7 0.6M638.2 564.7l0.1 0.2M610.3 525.6l-0.3 0.2M629.4 555.4l-0.2 0.4M600.6 576.5l0.1 1.2M638.9 540.1l0 0.8M668.8 535.3l0.4 0.5M660.4 563.6l0.9 0.4M628.1 538.1l0.4 0.3M661.2 536.9l-0 0.2M654 543.1l0.8 0.1M597.4 535.9l0.3 1.4M626.2 579.4l1.2 0.9M625 555.2l1.1 0.1M652.5 561.5l-0.6 0.6M660.9 529.1l-1.1 0.5M613.5 581.7l-0.3 1.5M621 549.8l-0.1 0.5M621.2 576.6l0.3 0.5M602.4 538.9l-0.3 0.3M618.2 553l-0.2 0.2M626.5 564.6l-0.2 0.5M630.6 524.7l-0.3 0M671.8 540.4l1.5 0.3M668.4 542.5l-0.6 0.1M667.5 554.7l-0.3 0.4M593.5 580.4l-0.5 0.8M604.8 549.3l0.5 0.4M636.5 545.7l0.8 0.5M612.7 526.5l-0.8 0.9M668.8 575.9l-0 1.2M608.5 561.8l0.1 0.3M625.3 581.1l-0.3 0M646.5 571.8l-1.2 0.4M626 580.6l0.4 0.2M592.8 529.2l-0.4 0.1M600.1 564.4l-0.1 0.5M658.8 537.5l-0.9 0.5M652.8 577.4l-0.1 0.8M625.8 574.1l-0.4 0.3M632.1 579.9l-0.6 0.1M628.9 548.1l-0.2 0M616.4 572.2l0.5 0.4M649.6 567.9l-0.1 0.1M625.5 526.4l-0.1 0.9M625.2 543.5l0.5 0.1M615.9 523.8l0.3 0.2M634.5 526.3l1.1 0.4M603.2 573.6l1.1 0.2M628.9 570.2l-0 0.1M631.4 552.1l0.2 0.8M611.3 552l0.5 0.1M661 547.1l-0.8 0M635.8 572.6l-1.4 0.6" stroke="#c8d5ef" stroke-width="1.7"/><path d="M629.8 524.4l1 0.9M647 572.3l-0.5 0.2M617.5 546.8l0.2 1.1M620.4 582.2l-0.6 0.1M618.5 529.4l0.2 0.2M604.1 538.7l-0.1 0.4M630.3 583.3l-0.9 0.6M638.8 558.7l-0.6 0.2M608.7 557.7l0.5 0.1M629.4 529.8l-0.6 0.5M610.2 554.1l-1.2 0.6M597.2 538.5l0.2 0.6M626.4 539.6l-0.1 0.8M658.4 556.5l-0.2 0.4M665.7 523.7l1.1 0M600 538l0 0.2M620.8 573.5l0.3 0.4M657.2 562.1l0.9 1.1M616.6 580.4l-0.2 0.5M629.4 545.6l1.5 0.2M625.1 563l0.4 1.4M638.8 524.1l0.7 0.6M608.3 524.1l1 0.2M589.9 570.9l-0.5 0.2M592.2 526.9l0.6 0.7M625.9 540.3l-0.9 1.1M634.7 548l0.7 0.7M630.7 555.3l-0 0.3M669.6 574.1l0.2 1M617.4 523.9l-1.2 0.8M640.5 567.3l0.5 1.1M634.3 573.5l0.7 1.2M624.2 530.5l0 0M639.2 547.4l0.5 0.1M620.8 581.6l-1 0.5M661.6 548.4l-0.4 0.8M634.4 559.8l0.1 0.2M627.3 532.3l-1 0.4M619.3 565.6l0 0.1M611.1 548l-0 0.1M619.9 583l-0.4 0.4M646.5 574.9l1 0.6M622.6 537.5l0.7 1M658.7 551.6l1.4 0.6M597.8 566.9l-0 0M608.7 540.7l-0.6 0.1M659.7 571.4l-0.8 0.9M656.2 527.6l-0.2 0M614.5 551.8l-0.9 0.7M666 582.6l-0 0M603.2 555.4l-0 0.4M657.9 533.5l-1.1 0.5M654.3 578.7l1.2 0.5M600.4 555.3l0.2 0.4M621.1 526.6l-0.6 0.6M648.3 546.2l0.4 0.6M598.6 527l0 0.1M612.9 538.3l-0.5 0M621.5 527.5l0.7 1.4M665.3 537l-0.4 1.5M594.6 538.7l-0.7 0.4M614.2 558.8l0.9 0" stroke="#c8d5ef" stroke-width="2.0"/><path d="M645.5 583l0.2 0.2M601.1 556.1l-0.1 0.2M623.7 580.6l-0.3 0.2M664.7 570.1l0.6 1.1M631.1 536.8l-0.2 0.8M621.7 575.4l-0.6 0M656.3 568l-1 0.7M609 525.6l0.1 1.3M617.8 577.3l0.7 0.4M622.5 531.1l1.5 0.1M613.1 531.6l0.1 0.3M666.1 580.6l0.9 0.8M637 569.4l0.9 0.5M629.2 583l0.1 1M630 545.9l-0.8 0.8M616.7 582.3l-0.1 0.4M601.5 549.8l0.6 0.1M640.5 539l0 0.1M639.4 543.1l-0.2 1.2M667.8 546.8l0.5 1.2M645.7 552.6l-0.6 0.2M612.8 543.6l0.2 0.3M632.9 537.7l-0.5 1.3M625 526.6l0.6 0.1M655.9 558.3l-0.7 0.1M664.2 532.3l0.3 0.1M609.8 527.2l0.3 0.7M657 537.7l0.3 1.3M616.9 581.7l-0.3 0M643.2 538l-0.4 0.2M657.7 563.6l-1 0.2M614.8 576.3l-1 0.8M650.2 579.3l-0.5 0.4M666.9 539.2l-1 0.2M593 557.2l0.7 0.9M659.4 563.2l0.6 0.1M664.2 572.5l-0.3 0.4M638.6 566.6l0.1 0.6M633 578.3l0.5 1.4M604 550.4l-0.2 0.3M598.5 537.5l-0.6 0.1M629.2 555l-0.4 0.9M599 547.4l1 0.9M634.3 578.2l-0.1 1.6M644 571.4l0.5 0.4M641.2 556.1l-0.1 0.1M640.7 552.6l1.4 0.1M629.2 581.9l-0.7 0.7M663.8 578.3l-0.4 0.3M626.5 577.3l0.6 0.5M645.1 565.2l-0.6 1.1M629.3 545l-1 0.8M670.7 563.2l0 0M629.9 545l-0.2 0.1M593.9 548.2l1.1 0.2M589.8 537.4l-0.6 1.1M594.5 547.7l-1.5 0.2M644.7 580.7l-0.4 0.1" stroke="#a2b9e4" stroke-width="1.1"/><path d="M665.4 550.6l-0.9 0M654.8 538.9l0.5 0.8M623.3 525.2l0.6 1M649.9 544.9l0.1 0.2M640.3 563.3l0.3 0.2M638.9 530.2l0.4 0.2M644.2 561.8l-1.4 0.5M660.2 549.8l0.1 1.4M664.2 569l0 0.1M633.7 523.1l0 0M627.8 565.9l-0 0M640.1 543.8l-0.9 0.9M666.9 537.6l-0.8 0.3M630.9 556.1l0.5 0.3M630.5 541.6l0.1 0.6M643.7 554.1l-1.2 0.7M638.5 574.9l1.5 0.6M618.1 536l-1.4 0.5M620.4 528.6l0.7 1M639.7 580.4l-0.4 1.1M669.7 570l-0.4 0.7M642 524.7l0.2 0.4M640.3 554.8l-0.3 0.7M630.7 582.9l0 0.5M589.9 550.2l-1 0.1M642.6 551.9l-0.8 1.2M640.1 542.3l-1.2 1M661.7 560.2l-0.1 0.5M631.6 570.4l1.1 0.2M590.1 542l0.2 0M628.4 526.1l0.4 0.4M654.2 555.6l0.1 0.1M650.7 567.8l0.8 0.3M652.2 582.8l-0.7 0M606.6 555.9l-0 0M612.4 546.9l0 0.1M635 548.8l-0.9 1M628.1 550.6l0.5 0.8M625.4 533.4l-1.3 0.2M629.5 554.6l1.4 0.1M637.6 540.1l-0.1 0M670.7 560.8l-0.2 0.2M596.9 535.5l0.7 0.4M613.4 552.1l-0.4 0.1M599.4 579.9l-1 0.6M622.2 547.3l-0.9 1M624.4 577.8l0.1 0.4M634.6 557.1l-0.5 0.7M637.2 549.8l0.8 1.2M636.7 529.3l0.3 0.4M594 526.3l1.3 0.7M665.3 573.4l0.7 0.7" stroke="#a2b9e4" stroke-width="1.4"/><path d="M650.9 551.4l1.4 0.5M597.9 526.6l0.4 1.4M599.7 532.9l-0.1 1.1M599.1 538.4l-0.2 0.4M631 544.9l0.4 0.4M619.6 530l0.4 0.1M649.6 580.7l-1 1.2M623.3 545.8l-0.4 0.1M611.9 529.2l-0.1 0.7M654.8 563.8l-0.4 0.2M620.7 530.1l0 0M631.4 552.6l-0.4 0.1M638.6 572.8l-0.8 0.7M601.7 555.9l0.5 1.2M627 550.6l0.9 1M623.8 542l0.3 0.7M613.1 569.6l-0.7 0.3M666.8 538.1l-0.7 0.6M629.7 573.9l-0.1 0.5M655.6 571.6l-0.1 0M613.4 582.2l0.1 0.2M609.2 522.9l-0.6 1.2M642.5 580.1l1.4 0.3M661.3 578.3l0.8 0.6M601 536.7l1.1 0.1M644.4 555.3l0 0.9M594.8 522.7l-0.5 1.3M613.8 557l0.3 1.1M645.5 574.5l-0.9 0.8M597.6 540.6l-0.4 0.2M612.6 540.2l-0.3 1.2M608.9 532.4l-0.1 0.4M607.5 527.8l-0.7 1.3M641.1 529l-0.6 0.8M615.7 576.9l0.5 0.4M634.4 564.2l-0.5 0.1M616.7 568.8l-1.3 0.4M606.8 544.2l0 0.6M593.3 538.7l0.4 0.7M646.2 529.7l0.7 1.1M617.6 547.7l0.9 0.5M624.8 568.1l1.3 0.9M663 556.7l1 0.1M634.9 571.7l1.1 0.5M595 552.6l0.9 0.4M657.9 558.7l-0.4 0.4M647.5 567l1.5 0.2M623.2 564.1l0 0.3M601.8 549.3l0.2 0.4M657.9 556.1l0 0.1M631.8 564.5l-0.2 0.7M640.3 568.9l0.3 0.9M663.4 540.2l0 0.9M663.5 538.8l1.1 0.2M608.5 536.3l0.2 0.2" stroke="#a2b9e4" stroke-width="1.7"/><path d="M659.5 524.6l-0 0.1M644.6 577l-0.9 0.6M652.8 528.3l0.3 0.4M616.1 544.7l-1.6 0M599.7 547.2l0.5 0.5M591.7 539.3l-0.4 0.5M636.5 549l-0.1 1.3M618.2 546.5l0.9 0.6M636.5 570.9l-1 0.6M626 538.1l-0.5 1.3M618.6 579.2l1.1 0.4M657.4 552.8l0.3 0.2M602 575.2l0.2 1.1M614.7 532.6l-0.2 0.7M630.7 544.4l0.5 0.7M607.7 536.7l-0.6 0.8M614.2 546.8l0.4 0.7M601.2 558.2l0.1 0M658 538.4l0.1 0.4M613.3 574l1.5 0.4M596.2 545l-0 0.3M637 559.8l0.5 0.3M669 536.6l-0.6 1.4M663.3 569.2l-0.2 0.3M661.5 564.7l1.2 0.6M650.1 575.5l-0 0.7M601.3 538.3l-1.5 0.3M658 568l0.1 1.5M603.5 548.8l0.4 1.1M648.9 555.1l-0.9 0.6M627.1 570.5l0.5 0.7M648.6 561.1l0.7 0.3M669.9 567.5l-0.6 1M628.3 558.8l0.5 1M606.2 551.6l1.3 0.4M604.6 537.6l-0.5 0.7M655.9 529.9l-1 1.1M601.5 546.2l-1 0.9M613.5 531.7l1.5 0.2M670.8 564.1l0.6 0.6M666.2 580.6l0 0M599.6 550.4l-1 0.2M651.9 573.4l-0.9 0.8M638.4 541.9l0.1 0M645 549.6l0.8 0.2M625.3 563.8l-0.9 0.6M596.6 535.5l-0.1 1M620.9 536.9l0.8 0.2" stroke="#a2b9e4" stroke-width="2.0"/><path d="M633.7 531.1l-0.4 1.1M640.9 567.6l-1.2 0.8M616.5 570.3l0.4 0.9M658.8 542.9l0.2 0.6M592.3 559.9l-0.2 0.3M589.9 528.6l-0.4 0.1M634.2 530.9l0.6 0.3M616.6 536.7l0.7 0.1M659.9 524.5l0.4 0.6M592.5 572.9l-0.6 0.9M635.7 578.2l0 0.3M632.3 532.2l0.4 0.5M637.8 538.1l-0.1 0.6M654.5 541.9l-0.8 1.1M603.5 528.3l-0.9 0.1M636.9 540.7l0.2 1M622.3 571.3l-1.3 0.3M618.1 524.7l0.3 1.4M617.9 551.6l-1.4 0.3M659.2 560.8l1 1.3M647.9 563l-0.3 1.1M644.2 580.5l-0.2 0.9M605.4 536.7l-0.1 0.2M639.4 574.4l-1.3 0.9M621.7 570.9l0.4 0.7M600.4 535.5l-0.4 0.1M622.7 542.1l-0.1 0M632.5 543.7l0.6 0.5M613.4 575.3l-0.7 1.2M608.7 575.5l0.2 0.7M658.2 557.6l-0.3 0.8M660.6 548.5l0.3 1.2M606 571l-0.7 0.3" stroke="#7896d4" stroke-width="1.1"/><path d="M625.2 547.1l0.6 0.2M617.6 525.9l-0.8 0.4M668.5 545.4l-0.1 0.1M602.6 538l-0.4 1.4M636 563l-1 0.2M635.5 557.3l-0.5 0.9M606.5 532l-0.7 0.7M658.1 568.7l-0.4 0.2M618 528.7l1 0.2M657.4 575.5l-0.3 0.1M629.6 574.6l1.1 0.2M667.6 537.9l0.3 0.3M647.9 566l1 1.1M659.1 558.5l-0.6 0.2M660.1 583.3l0.1 0.8M605.9 581.1l-0.7 0.2M626.6 569.5l-0.4 0.3M635.2 551.2l0 1M636.3 573.3l1 0.3M626.9 545.1l1 0M610.3 542.3l-0.5 0.8M648.4 529.2l-0.6 1M626.9 556.4l-1.4 0.6M640.9 528.7l0.4 1.3M614.8 523.2l-0.7 1.4M602.2 548.3l1 1.2M600.2 553.2l-0.9 0.4M662.8 581.1l-1.2 0.2" stroke="#7896d4" stroke-width="1.4"/><path d="M632.3 547.5l0.3 0.9M640.8 562l0.2 0.2M662.8 579.6l1.3 0.7M619.5 562.9l1.2 0M626.1 576.9l-0.6 1.3M645.1 564.8l-0.7 1.1M666.5 548l1.3 0.3M656.9 539l1.4 0.1M612.5 582.4l0.7 0.1M625.9 564l-1.4 0.7M637.6 555.4l-0.3 1.1M670.4 543.4l0.2 0.6M671.8 525.6l0.1 0.4M615.8 578.8l-1.4 0.5M598.7 569.6l0.4 0.6M625 544.6l0.1 1.2M589.9 554.3l0.4 0M622.6 568.9l-0.6 1.5M628.8 578.1l-0.2 0.5M598.8 538.5l-0.9 0.5M606.3 535.4l1.1 0.5M661.2 561.5l-0.2 0.5M635.9 555l-1 0.5M668.2 550l-0.1 0.1M628.1 528.9l-0 0M657.6 549.4l1 0M663.5 572.2l-0.8 0.1M633.6 571.8l1.1 0.8M622.3 542.5l-0 0.4M636.3 563.9l0.6 0.4M670.5 580.3l0.9 0.8M659.1 539.2l0.1 0.5M663.1 554.1l-0.3 0.5M659.9 560.7l1.3 0.1M620.7 539.2l0.6 0.8M663.1 563.1l0.1 0.7M600.7 580.2l0.1 0.3M639.1 546.7l-0.3 0.2M660.7 556.2l-0.7 0.3M596.7 549.3l1 0M637.9 579.5l-0.1 0.5M629 536.7l0.3 0.2M654.4 582.5l-0.3 0.9" stroke="#7896d4" stroke-width="1.7"/><path d="M646.6 548.9l-0 1.5M651.7 544.6l-0.8 0.3M628.1 562.1l0.1 0.1M629.5 552.6l-0.9 0M618.2 568.6l0.7 0.8M629.7 547.8l0.8 1.2M618.4 580l-0.1 1M669.9 541.6l0.3 1.2M599.5 524.7l-0.3 0.1M625.9 544.1l-0.5 1M665.9 542.6l0.3 1.1M625.4 554l0.3 1.2M658.9 572.7l-0.1 0.1M647.3 580.3l-0.5 0.1M651.2 579.2l-0.1 0.1M655.7 562.6l-1.2 0.7M608.8 569.7l0.2 0M635.6 528.7l0.4 1M605.3 529.1l0.2 0M664.2 570.6l0.6 0.4M616.2 567.3l0.4 0.5M660.3 546.6l1 0.8M642.2 534.4l-1.6 0.3M669.7 562.9l1.2 0.3M619.9 571.6l0.3 0.2M658.1 545.7l0.4 0.2M623.8 551.4l0.1 0.2M627.6 537.5l-0.1 0.1M671.3 578.8l-0.5 0.8M608.6 528.1l0 0" stroke="#7896d4" stroke-width="2.0"/></g><g fill="none" stroke-linecap="round" stroke-opacity="0.85" filter="url(#blr)"><path d="M666.7 571.2h0.2" stroke="#7d3010" stroke-width="2.1"/><path d="M655.8 568.9h0.5" stroke="#7d3010" stroke-width="2.6"/></g>
</g>
<text x="409.7" y="352.8" font-size="7.6" text-anchor="middle" fill="#111" transform="rotate(-90 409.7 352.8)">Isotype</text>
<text x="409.9" y="420" font-size="7.7" text-anchor="middle" fill="#111" transform="rotate(-90 409.9 420)">αGDF-15</text>
<text x="409.7" y="486.4" font-size="7.6" text-anchor="middle" fill="#111" transform="rotate(-90 409.7 486.4)">αPD-1</text>
<text x="401.5" y="553" font-size="7.6" text-anchor="middle" fill="#111" transform="rotate(-90 401.5 553)">αGDF-15</text>
<text x="409.1" y="553" font-size="7.6" text-anchor="middle" fill="#111" transform="rotate(-90 409.1 553)">+ αPD-1</text>
<rect x="646.9" y="579.6" width="18.8" height="1.3" fill="#000"/>
<text x="656.4" y="577.4" font-size="7" text-anchor="middle" fill="#000">50µm</text>
<text x="2" y="614.8" font-size="8.5" font-weight="bold" fill="#000">f</text>
<text x="88.9" y="623.6" font-size="7.3" fill="#111" textLength="71" lengthAdjust="spacingAndGlyphs">Axillary lymph nodes</text>
<line x1="23" y1="626.8" x2="225.3" y2="626.8" stroke="#222" stroke-width="1.1"/>
<text x="59.8" y="635.9" font-size="6.4" fill="#111" textLength="128.1" lengthAdjust="spacingAndGlyphs">Summary across 4 independent experiments</text>
<line x1="20.2" y1="731.98" x2="68.6" y2="731.98" stroke="#c8c8c8" stroke-width="0.7"/>
<rect x="27.9" y="731.98" width="15.1" height="20.32" fill="#f7874e"/>
<rect x="46" y="721.82" width="15.1" height="30.48" fill="#8fc1e6"/>
<line x1="20.2" y1="731.98" x2="68.6" y2="731.98" stroke="#d0d0d0" stroke-width="0.5" stroke-opacity="0.8"/>
<circle cx="35.4" cy="709.63" r="1.05" fill="#111"/>
<circle cx="35.4" cy="714.71" r="1.05" fill="#111"/>
<circle cx="35.4" cy="716.74" r="1.05" fill="#111"/>
<circle cx="35.4" cy="722.84" r="1.05" fill="#111"/>
<circle cx="35.4" cy="724.87" r="1.05" fill="#111"/>
<circle cx="36.9" cy="725.88" r="1.05" fill="#111"/>
<circle cx="35.4" cy="726.9" r="1.05" fill="#111"/>
<circle cx="35.4" cy="728.93" r="1.05" fill="#111"/>
<circle cx="36.9" cy="729.95" r="1.05" fill="#111"/>
<circle cx="35.4" cy="730.96" r="1.05" fill="#111"/>
<circle cx="36.9" cy="731.98" r="1.05" fill="#111"/>
<circle cx="35.4" cy="733" r="1.05" fill="#111"/>
<circle cx="36.9" cy="734.01" r="1.05" fill="#111"/>
<circle cx="35.4" cy="735.03" r="1.05" fill="#111"/>
<circle cx="36.9" cy="736.04" r="1.05" fill="#111"/>
<circle cx="35.4" cy="737.06" r="1.05" fill="#111"/>
<circle cx="36.9" cy="738.08" r="1.05" fill="#111"/>
<circle cx="35.4" cy="739.09" r="1.05" fill="#111"/>
<circle cx="36.9" cy="740.11" r="1.05" fill="#111"/>
<circle cx="35.4" cy="741.12" r="1.05" fill="#111"/>
<circle cx="36.9" cy="742.14" r="1.05" fill="#111"/>
<circle cx="35.4" cy="743.16" r="1.05" fill="#111"/>
<circle cx="36.9" cy="744.17" r="1.05" fill="#111"/>
<circle cx="35.4" cy="745.19" r="1.05" fill="#111"/>
<circle cx="36.9" cy="746.2" r="1.05" fill="#111"/>
<circle cx="35.4" cy="747.22" r="1.05" fill="#111"/>
<circle cx="36.9" cy="748.24" r="1.05" fill="#111"/>
<circle cx="35.4" cy="749.25" r="1.05" fill="#111"/>
<circle cx="36.9" cy="750.27" r="1.05" fill="#111"/>
<circle cx="35.4" cy="751.28" r="1.05" fill="#111"/>
<circle cx="53.6" cy="662.89" r="1.05" fill="#111"/>
<circle cx="53.6" cy="667.97" r="1.05" fill="#111"/>
<circle cx="53.6" cy="681.18" r="1.05" fill="#111"/>
<circle cx="53.6" cy="697.44" r="1.05" fill="#111"/>
<circle cx="55.1" cy="698.45" r="1.05" fill="#111"/>
<circle cx="53.6" cy="699.47" r="1.05" fill="#111"/>
<circle cx="53.6" cy="711.66" r="1.05" fill="#111"/>
<circle cx="53.6" cy="714.71" r="1.05" fill="#111"/>
<circle cx="53.6" cy="719.79" r="1.05" fill="#111"/>
<circle cx="53.6" cy="721.82" r="1.05" fill="#111"/>
<circle cx="53.6" cy="724.87" r="1.05" fill="#111"/>
<circle cx="53.6" cy="727.92" r="1.05" fill="#111"/>
<circle cx="53.6" cy="729.95" r="1.05" fill="#111"/>
<circle cx="53.6" cy="733" r="1.05" fill="#111"/>
<circle cx="55.1" cy="734.01" r="1.05" fill="#111"/>
<circle cx="53.6" cy="736.04" r="1.05" fill="#111"/>
<circle cx="53.6" cy="738.08" r="1.05" fill="#111"/>
<circle cx="53.6" cy="740.11" r="1.05" fill="#111"/>
<circle cx="53.6" cy="742.14" r="1.05" fill="#111"/>
<circle cx="53.6" cy="745.19" r="1.05" fill="#111"/>
<circle cx="55.1" cy="746.2" r="1.05" fill="#111"/>
<circle cx="53.6" cy="750.27" r="1.05" fill="#111"/>
<circle cx="56.6" cy="750.67" r="1.05" fill="#111"/>
<circle cx="50.6" cy="750.88" r="1.05" fill="#111"/>
<circle cx="50.6" cy="751.28" r="1.05" fill="#111"/>
<circle cx="50.6" cy="751.28" r="1.05" fill="#111"/>
<line x1="35.4" y1="729.95" x2="35.4" y2="734.01" stroke="#111" stroke-width="0.8"/>
<line x1="32.2" y1="729.95" x2="38.6" y2="729.95" stroke="#111" stroke-width="0.8"/>
<line x1="32.2" y1="734.01" x2="38.6" y2="734.01" stroke="#111" stroke-width="0.8"/>
<line x1="53.6" y1="716.33" x2="53.6" y2="727.1" stroke="#111" stroke-width="0.8"/>
<line x1="50.4" y1="716.33" x2="56.8" y2="716.33" stroke="#111" stroke-width="0.8"/>
<line x1="50.4" y1="727.1" x2="56.8" y2="727.1" stroke="#111" stroke-width="0.8"/>
<line x1="20.2" y1="650" x2="20.2" y2="752.8" stroke="#1e1e1e" stroke-width="1"/>
<line x1="19.8" y1="752.3" x2="68.6" y2="752.3" stroke="#1e1e1e" stroke-width="1"/>
<line x1="17.6" y1="752.3" x2="20.2" y2="752.3" stroke="#1e1e1e" stroke-width="0.7"/>
<text x="16.8" y="754.4" font-size="6.5" text-anchor="end" fill="#222">0</text>
<line x1="17.6" y1="731.98" x2="20.2" y2="731.98" stroke="#1e1e1e" stroke-width="0.7"/>
<text x="16.8" y="734.08" font-size="6.5" text-anchor="end" fill="#222">1</text>
<line x1="17.6" y1="711.66" x2="20.2" y2="711.66" stroke="#1e1e1e" stroke-width="0.7"/>
<text x="16.8" y="713.76" font-size="6.5" text-anchor="end" fill="#222">2</text>
<line x1="17.6" y1="691.34" x2="20.2" y2="691.34" stroke="#1e1e1e" stroke-width="0.7"/>
<text x="16.8" y="693.44" font-size="6.5" text-anchor="end" fill="#222">3</text>
<line x1="17.6" y1="671.02" x2="20.2" y2="671.02" stroke="#1e1e1e" stroke-width="0.7"/>
<text x="16.8" y="673.12" font-size="6.5" text-anchor="end" fill="#222">4</text>
<line x1="17.6" y1="650.7" x2="20.2" y2="650.7" stroke="#1e1e1e" stroke-width="0.7"/>
<text x="16.8" y="652.8" font-size="6.5" text-anchor="end" fill="#222">5</text>
<polyline points="35.7,656.7 35.7,654.5 53.7,654.5 53.7,656.7" fill="none" stroke="#444" stroke-width="0.75"/>
<text x="44.8" y="651.9" font-size="6.5" text-anchor="middle" fill="#222">p = 0.052</text>
<text x="7.4" y="700.5" font-size="7.2" text-anchor="middle" fill="#222" textLength="127.2" lengthAdjust="spacingAndGlyphs" transform="rotate(-90 7.4 700.5)">CFSE⁺ CD3ε⁺ of CD3ε⁺ (fold change)</text>
<text x="33.3" y="756.3" font-size="6.9" text-anchor="end" fill="#222" textLength="24.5" lengthAdjust="spacingAndGlyphs" transform="rotate(-90 33.3 756.3)">Isotype</text>
<text x="40.6" y="756.3" font-size="5.4" text-anchor="end" fill="#222" textLength="28" lengthAdjust="spacingAndGlyphs" transform="rotate(-90 40.6 756.3)">(n=30 LN)</text>
<text x="56.3" y="756.3" font-size="6.9" text-anchor="end" fill="#222" textLength="31.8" lengthAdjust="spacingAndGlyphs" transform="rotate(-90 56.3 756.3)">αGDF-15</text>
<text x="63.2" y="756.3" font-size="5.4" text-anchor="end" fill="#222" textLength="28" lengthAdjust="spacingAndGlyphs" transform="rotate(-90 63.2 756.3)">(n=26 LN)</text>
<line x1="103.4" y1="735.3" x2="152" y2="735.3" stroke="#c8c8c8" stroke-width="0.7"/>
<rect x="111.1" y="735.3" width="15.2" height="17" fill="#f7874e"/>
<rect x="129" y="727.14" width="16" height="25.16" fill="#8fc1e6"/>
<line x1="103.4" y1="735.3" x2="152" y2="735.3" stroke="#d0d0d0" stroke-width="0.5" stroke-opacity="0.8"/>
<circle cx="118.7" cy="714.9" r="1.05" fill="#111"/>
<circle cx="118.7" cy="718.3" r="1.05" fill="#111"/>
<circle cx="118.7" cy="723.4" r="1.05" fill="#111"/>
<circle cx="120.2" cy="725.1" r="1.05" fill="#111"/>
<circle cx="118.7" cy="726.8" r="1.05" fill="#111"/>
<circle cx="118.7" cy="728.5" r="1.05" fill="#111"/>
<circle cx="120.2" cy="730.2" r="1.05" fill="#111"/>
<circle cx="118.7" cy="731.05" r="1.05" fill="#111"/>
<circle cx="120.2" cy="731.9" r="1.05" fill="#111"/>
<circle cx="118.7" cy="732.75" r="1.05" fill="#111"/>
<circle cx="117.2" cy="733.6" r="1.05" fill="#111"/>
<circle cx="120.2" cy="734.45" r="1.05" fill="#111"/>
<circle cx="118.7" cy="735.3" r="1.05" fill="#111"/>
<circle cx="120.2" cy="736.15" r="1.05" fill="#111"/>
<circle cx="118.7" cy="737" r="1.05" fill="#111"/>
<circle cx="117.2" cy="737.85" r="1.05" fill="#111"/>
<circle cx="120.2" cy="738.7" r="1.05" fill="#111"/>
<circle cx="118.7" cy="739.55" r="1.05" fill="#111"/>
<circle cx="120.2" cy="740.4" r="1.05" fill="#111"/>
<circle cx="118.7" cy="741.25" r="1.05" fill="#111"/>
<circle cx="117.2" cy="742.1" r="1.05" fill="#111"/>
<circle cx="120.2" cy="742.95" r="1.05" fill="#111"/>
<circle cx="118.7" cy="743.8" r="1.05" fill="#111"/>
<circle cx="120.2" cy="744.65" r="1.05" fill="#111"/>
<circle cx="118.7" cy="745.5" r="1.05" fill="#111"/>
<circle cx="117.2" cy="746.35" r="1.05" fill="#111"/>
<circle cx="120.2" cy="747.2" r="1.05" fill="#111"/>
<circle cx="118.7" cy="748.05" r="1.05" fill="#111"/>
<circle cx="120.2" cy="748.9" r="1.05" fill="#111"/>
<circle cx="118.7" cy="750.6" r="1.05" fill="#111"/>
<circle cx="137" cy="658.8" r="1.05" fill="#111"/>
<circle cx="137" cy="677.5" r="1.05" fill="#111"/>
<circle cx="137" cy="694.5" r="1.05" fill="#111"/>
<circle cx="137" cy="701.3" r="1.05" fill="#111"/>
<circle cx="137" cy="703" r="1.05" fill="#111"/>
<circle cx="137" cy="706.4" r="1.05" fill="#111"/>
<circle cx="138.5" cy="708.1" r="1.05" fill="#111"/>
<circle cx="137" cy="713.2" r="1.05" fill="#111"/>
<circle cx="137" cy="718.3" r="1.05" fill="#111"/>
<circle cx="137" cy="720" r="1.05" fill="#111"/>
<circle cx="138.5" cy="721.7" r="1.05" fill="#111"/>
<circle cx="137" cy="725.1" r="1.05" fill="#111"/>
<circle cx="137" cy="726.8" r="1.05" fill="#111"/>
<circle cx="137" cy="730.2" r="1.05" fill="#111"/>
<circle cx="137" cy="731.9" r="1.05" fill="#111"/>
<circle cx="137" cy="735.3" r="1.05" fill="#111"/>
<circle cx="137" cy="738.7" r="1.05" fill="#111"/>
<circle cx="137" cy="740.4" r="1.05" fill="#111"/>
<circle cx="138.5" cy="742.1" r="1.05" fill="#111"/>
<circle cx="137" cy="743.8" r="1.05" fill="#111"/>
<circle cx="137" cy="745.5" r="1.05" fill="#111"/>
<circle cx="138.5" cy="747.2" r="1.05" fill="#111"/>
<circle cx="137" cy="748.9" r="1.05" fill="#111"/>
<circle cx="138.5" cy="750.6" r="1.05" fill="#111"/>
<circle cx="135.5" cy="750.6" r="1.05" fill="#111"/>
<circle cx="137" cy="751.45" r="1.05" fill="#111"/>
<circle cx="140" cy="751.45" r="1.05" fill="#111"/>
<line x1="118.7" y1="733.6" x2="118.7" y2="737" stroke="#111" stroke-width="0.8"/>
<line x1="115.5" y1="733.6" x2="121.9" y2="733.6" stroke="#111" stroke-width="0.8"/>
<line x1="115.5" y1="737" x2="121.9" y2="737" stroke="#111" stroke-width="0.8"/>
<line x1="137" y1="722.21" x2="137" y2="731.9" stroke="#111" stroke-width="0.8"/>
<line x1="133.8" y1="722.21" x2="140.2" y2="722.21" stroke="#111" stroke-width="0.8"/>
<line x1="133.8" y1="731.9" x2="140.2" y2="731.9" stroke="#111" stroke-width="0.8"/>
<line x1="103.4" y1="649.6" x2="103.4" y2="752.8" stroke="#1e1e1e" stroke-width="1"/>
<line x1="103" y1="752.3" x2="152" y2="752.3" stroke="#1e1e1e" stroke-width="1"/>
<line x1="100.8" y1="752.3" x2="103.4" y2="752.3" stroke="#1e1e1e" stroke-width="0.7"/>
<text x="100" y="754.4" font-size="6.5" text-anchor="end" fill="#222">0</text>
<line x1="100.8" y1="735.3" x2="103.4" y2="735.3" stroke="#1e1e1e" stroke-width="0.7"/>
<text x="100" y="737.4" font-size="6.5" text-anchor="end" fill="#222">1</text>
<line x1="100.8" y1="718.3" x2="103.4" y2="718.3" stroke="#1e1e1e" stroke-width="0.7"/>
<text x="100" y="720.4" font-size="6.5" text-anchor="end" fill="#222">2</text>
<line x1="100.8" y1="701.3" x2="103.4" y2="701.3" stroke="#1e1e1e" stroke-width="0.7"/>
<text x="100" y="703.4" font-size="6.5" text-anchor="end" fill="#222">3</text>
<line x1="100.8" y1="684.3" x2="103.4" y2="684.3" stroke="#1e1e1e" stroke-width="0.7"/>
<text x="100" y="686.4" font-size="6.5" text-anchor="end" fill="#222">4</text>
<line x1="100.8" y1="667.3" x2="103.4" y2="667.3" stroke="#1e1e1e" stroke-width="0.7"/>
<text x="100" y="669.4" font-size="6.5" text-anchor="end" fill="#222">5</text>
<line x1="100.8" y1="650.3" x2="103.4" y2="650.3" stroke="#1e1e1e" stroke-width="0.7"/>
<text x="100" y="652.4" font-size="6.5" text-anchor="end" fill="#222">6</text>
<polyline points="119.2,655.9 119.2,653.7 136.5,653.7 136.5,655.9" fill="none" stroke="#444" stroke-width="0.75"/>
<text x="127.9" y="651.1" font-size="6.5" text-anchor="middle" fill="#222">p = 0.099</text>
<text x="90.8" y="702.8" font-size="7.3" text-anchor="middle" fill="#222" textLength="124" lengthAdjust="spacingAndGlyphs" transform="rotate(-90 90.8 702.8)">CFSE⁺ CD4⁺ of CD4⁺ (fold change)</text>
<text x="113.9" y="756.3" font-size="6.9" text-anchor="end" fill="#222" textLength="24.5" lengthAdjust="spacingAndGlyphs" transform="rotate(-90 113.9 756.3)">Isotype</text>
<text x="121.6" y="756.3" font-size="5.4" text-anchor="end" fill="#222" textLength="28" lengthAdjust="spacingAndGlyphs" transform="rotate(-90 121.6 756.3)">(n=30 LN)</text>
<text x="137.2" y="756.3" font-size="6.9" text-anchor="end" fill="#222" textLength="31.8" lengthAdjust="spacingAndGlyphs" transform="rotate(-90 137.2 756.3)">αGDF-15</text>
<text x="143.8" y="756.3" font-size="5.4" text-anchor="end" fill="#222" textLength="28" lengthAdjust="spacingAndGlyphs" transform="rotate(-90 143.8 756.3)">(n=27 LN)</text>
<line x1="188" y1="743.38" x2="236" y2="743.38" stroke="#c8c8c8" stroke-width="0.7"/>
<rect x="194.9" y="743.8" width="15.9" height="8.5" fill="#f7874e"/>
<rect x="213.6" y="736.75" width="15.9" height="15.55" fill="#8fc1e6"/>
<line x1="188" y1="743.38" x2="236" y2="743.38" stroke="#d0d0d0" stroke-width="0.5" stroke-opacity="0.8"/>
<circle cx="202.8" cy="726.8" r="1.05" fill="#111"/>
<circle cx="205.8" cy="727.22" r="1.05" fill="#111"/>
<circle cx="201.3" cy="727.65" r="1.05" fill="#111"/>
<circle cx="202.8" cy="733.6" r="1.05" fill="#111"/>
<circle cx="202.8" cy="737.85" r="1.05" fill="#111"/>
<circle cx="202.8" cy="740.4" r="1.05" fill="#111"/>
<circle cx="204.3" cy="742.1" r="1.05" fill="#111"/>
<circle cx="202.8" cy="742.95" r="1.05" fill="#111"/>
<circle cx="205.8" cy="743.38" r="1.05" fill="#111"/>
<circle cx="201.3" cy="743.8" r="1.05" fill="#111"/>
<circle cx="204.3" cy="744.22" r="1.05" fill="#111"/>
<circle cx="199.8" cy="744.65" r="1.05" fill="#111"/>
<circle cx="202.8" cy="745.07" r="1.05" fill="#111"/>
<circle cx="205.8" cy="745.5" r="1.05" fill="#111"/>
<circle cx="204.3" cy="746.35" r="1.05" fill="#111"/>
<circle cx="201.3" cy="746.77" r="1.05" fill="#111"/>
<circle cx="207.3" cy="747.2" r="1.05" fill="#111"/>
<circle cx="202.8" cy="748.05" r="1.05" fill="#111"/>
<circle cx="205.8" cy="748.47" r="1.05" fill="#111"/>
<circle cx="201.3" cy="748.9" r="1.05" fill="#111"/>
<circle cx="204.3" cy="749.32" r="1.05" fill="#111"/>
<circle cx="199.8" cy="749.75" r="1.05" fill="#111"/>
<circle cx="202.8" cy="750.17" r="1.05" fill="#111"/>
<circle cx="205.8" cy="750.6" r="1.05" fill="#111"/>
<circle cx="201.3" cy="751.02" r="1.05" fill="#111"/>
<circle cx="204.3" cy="751.45" r="1.05" fill="#111"/>
<circle cx="207.3" cy="751.45" r="1.05" fill="#111"/>
<circle cx="198.3" cy="751.45" r="1.05" fill="#111"/>
<circle cx="198.3" cy="751.45" r="1.05" fill="#111"/>
<circle cx="198.3" cy="751.45" r="1.05" fill="#111"/>
<circle cx="198.3" cy="751.45" r="1.05" fill="#111"/>
<circle cx="221.5" cy="670.7" r="1.05" fill="#111"/>
<circle cx="221.5" cy="714.9" r="1.05" fill="#111"/>
<circle cx="223" cy="715.75" r="1.05" fill="#111"/>
<circle cx="221.5" cy="721.7" r="1.05" fill="#111"/>
<circle cx="223" cy="722.55" r="1.05" fill="#111"/>
<circle cx="221.5" cy="728.5" r="1.05" fill="#111"/>
<circle cx="223" cy="730.2" r="1.05" fill="#111"/>
<circle cx="221.5" cy="731.9" r="1.05" fill="#111"/>
<circle cx="223" cy="733.6" r="1.05" fill="#111"/>
<circle cx="221.5" cy="735.3" r="1.05" fill="#111"/>
<circle cx="223" cy="736.15" r="1.05" fill="#111"/>
<circle cx="221.5" cy="737" r="1.05" fill="#111"/>
<circle cx="223" cy="738.7" r="1.05" fill="#111"/>
<circle cx="221.5" cy="739.55" r="1.05" fill="#111"/>
<circle cx="223" cy="740.4" r="1.05" fill="#111"/>
<circle cx="221.5" cy="742.1" r="1.05" fill="#111"/>
<circle cx="221.5" cy="743.8" r="1.05" fill="#111"/>
<circle cx="221.5" cy="745.5" r="1.05" fill="#111"/>
<circle cx="223" cy="746.35" r="1.05" fill="#111"/>
<circle cx="220" cy="747.2" r="1.05" fill="#111"/>
<circle cx="221.5" cy="748.05" r="1.05" fill="#111"/>
<circle cx="223" cy="748.9" r="1.05" fill="#111"/>
<circle cx="221.5" cy="749.75" r="1.05" fill="#111"/>
<circle cx="220" cy="750.6" r="1.05" fill="#111"/>
<circle cx="223" cy="751.45" r="1.05" fill="#111"/>
<circle cx="218.5" cy="751.45" r="1.05" fill="#111"/>
<circle cx="226" cy="751.45" r="1.05" fill="#111"/>
<circle cx="217" cy="751.45" r="1.05" fill="#111"/>
<line x1="202.8" y1="742.52" x2="202.8" y2="745.07" stroke="#111" stroke-width="0.8"/>
<line x1="199.6" y1="742.52" x2="206" y2="742.52" stroke="#111" stroke-width="0.8"/>
<line x1="199.6" y1="745.07" x2="206" y2="745.07" stroke="#111" stroke-width="0.8"/>
<line x1="221.5" y1="733.6" x2="221.5" y2="739.97" stroke="#111" stroke-width="0.8"/>
<line x1="218.3" y1="733.6" x2="224.7" y2="733.6" stroke="#111" stroke-width="0.8"/>
<line x1="218.3" y1="739.97" x2="224.7" y2="739.97" stroke="#111" stroke-width="0.8"/>
<line x1="188" y1="649.6" x2="188" y2="752.8" stroke="#1e1e1e" stroke-width="1"/>
<line x1="187.6" y1="752.3" x2="236" y2="752.3" stroke="#1e1e1e" stroke-width="1"/>
<line x1="185.4" y1="752.3" x2="188" y2="752.3" stroke="#1e1e1e" stroke-width="0.7"/>
<text x="184.6" y="754.4" font-size="6.5" text-anchor="end" fill="#222">0</text>
<line x1="185.4" y1="735.3" x2="188" y2="735.3" stroke="#1e1e1e" stroke-width="0.7"/>
<text x="184.6" y="737.4" font-size="6.5" text-anchor="end" fill="#222">2</text>
<line x1="185.4" y1="718.3" x2="188" y2="718.3" stroke="#1e1e1e" stroke-width="0.7"/>
<text x="184.6" y="720.4" font-size="6.5" text-anchor="end" fill="#222">4</text>
<line x1="185.4" y1="701.3" x2="188" y2="701.3" stroke="#1e1e1e" stroke-width="0.7"/>
<text x="184.6" y="703.4" font-size="6.5" text-anchor="end" fill="#222">6</text>
<line x1="185.4" y1="684.3" x2="188" y2="684.3" stroke="#1e1e1e" stroke-width="0.7"/>
<text x="184.6" y="686.4" font-size="6.5" text-anchor="end" fill="#222">8</text>
<line x1="185.4" y1="667.3" x2="188" y2="667.3" stroke="#1e1e1e" stroke-width="0.7"/>
<text x="184.6" y="669.4" font-size="6.5" text-anchor="end" fill="#222">10</text>
<line x1="185.4" y1="650.3" x2="188" y2="650.3" stroke="#1e1e1e" stroke-width="0.7"/>
<text x="184.6" y="652.4" font-size="6.5" text-anchor="end" fill="#222">12</text>
<polyline points="203.3,655.9 203.3,653.7 220.2,653.7 220.2,655.9" fill="none" stroke="#444" stroke-width="0.75"/>
<text x="212.2" y="651.1" font-size="6.5" text-anchor="middle" fill="#222">p = 0.049</text>
<text x="170.9" y="702.8" font-size="7.3" text-anchor="middle" fill="#222" textLength="124" lengthAdjust="spacingAndGlyphs" transform="rotate(-90 170.9 702.8)">CFSE⁺ CD8⁺ of CD8⁺ (fold change)</text>
<text x="198.7" y="756.3" font-size="6.9" text-anchor="end" fill="#222" textLength="24.5" lengthAdjust="spacingAndGlyphs" transform="rotate(-90 198.7 756.3)">Isotype</text>
<text x="206.4" y="756.3" font-size="5.4" text-anchor="end" fill="#222" textLength="28" lengthAdjust="spacingAndGlyphs" transform="rotate(-90 206.4 756.3)">(n=31 LN)</text>
<text x="221.7" y="756.3" font-size="6.9" text-anchor="end" fill="#222" textLength="31.8" lengthAdjust="spacingAndGlyphs" transform="rotate(-90 221.7 756.3)">αGDF-15</text>
<text x="228.3" y="756.3" font-size="5.4" text-anchor="end" fill="#222" textLength="28" lengthAdjust="spacingAndGlyphs" transform="rotate(-90 228.3 756.3)">(n=28 LN)</text>
<text x="253.8" y="614.6" font-size="8.5" font-weight="bold" fill="#000">g</text>
<text x="376.6" y="622.8" font-size="7.3" text-anchor="middle" fill="#111" textLength="74.5" lengthAdjust="spacingAndGlyphs">Brachial lymph nodes</text>
<line x1="275" y1="625.6" x2="477.4" y2="625.6" stroke="#222" stroke-width="1.1"/>
<text x="376.6" y="635" font-size="6.3" text-anchor="middle" fill="#111" textLength="165" lengthAdjust="spacingAndGlyphs">Summary across 4 (for CD8⁺: 3) independent experiments</text>
<line x1="274.7" y1="745.2" x2="324.1" y2="745.2" stroke="#c8c8c8" stroke-width="0.7"/>
<rect x="281.3" y="745.2" width="15.5" height="6.8" fill="#f7874e"/>
<rect x="300.3" y="726.84" width="15.7" height="25.16" fill="#8fc1e6"/>
<line x1="274.7" y1="745.2" x2="324.1" y2="745.2" stroke="#d0d0d0" stroke-width="0.5" stroke-opacity="0.8"/>
<circle cx="289" cy="738.4" r="1.05" fill="#111"/>
<circle cx="290.5" cy="739.76" r="1.05" fill="#111"/>
<circle cx="287.5" cy="740.44" r="1.05" fill="#111"/>
<circle cx="292" cy="741.12" r="1.05" fill="#111"/>
<circle cx="289" cy="741.8" r="1.05" fill="#111"/>
<circle cx="286" cy="742.48" r="1.05" fill="#111"/>
<circle cx="290.5" cy="742.82" r="1.05" fill="#111"/>
<circle cx="293.5" cy="743.16" r="1.05" fill="#111"/>
<circle cx="287.5" cy="743.5" r="1.05" fill="#111"/>
<circle cx="284.5" cy="743.84" r="1.05" fill="#111"/>
<circle cx="292" cy="744.18" r="1.05" fill="#111"/>
<circle cx="289" cy="744.52" r="1.05" fill="#111"/>
<circle cx="286" cy="744.86" r="1.05" fill="#111"/>
<circle cx="293.5" cy="745.2" r="1.05" fill="#111"/>
<circle cx="290.5" cy="745.54" r="1.05" fill="#111"/>
<circle cx="287.5" cy="745.88" r="1.05" fill="#111"/>
<circle cx="284.5" cy="746.22" r="1.05" fill="#111"/>
<circle cx="292" cy="746.56" r="1.05" fill="#111"/>
<circle cx="289" cy="746.9" r="1.05" fill="#111"/>
<circle cx="286" cy="747.24" r="1.05" fill="#111"/>
<circle cx="293.5" cy="747.58" r="1.05" fill="#111"/>
<circle cx="290.5" cy="747.92" r="1.05" fill="#111"/>
<circle cx="287.5" cy="748.26" r="1.05" fill="#111"/>
<circle cx="284.5" cy="748.6" r="1.05" fill="#111"/>
<circle cx="292" cy="748.94" r="1.05" fill="#111"/>
<circle cx="289" cy="749.28" r="1.05" fill="#111"/>
<circle cx="286" cy="749.96" r="1.05" fill="#111"/>
<circle cx="290.5" cy="750.64" r="1.05" fill="#111"/>
<circle cx="308.1" cy="685.36" r="1.05" fill="#111"/>
<circle cx="308.1" cy="692.16" r="1.05" fill="#111"/>
<circle cx="308.1" cy="701" r="1.05" fill="#111"/>
<circle cx="308.1" cy="703.04" r="1.05" fill="#111"/>
<circle cx="309.6" cy="704.4" r="1.05" fill="#111"/>
<circle cx="308.1" cy="707.8" r="1.05" fill="#111"/>
<circle cx="308.1" cy="709.84" r="1.05" fill="#111"/>
<circle cx="308.1" cy="724.8" r="1.05" fill="#111"/>
<circle cx="308.1" cy="728.2" r="1.05" fill="#111"/>
<circle cx="308.1" cy="734.32" r="1.05" fill="#111"/>
<circle cx="308.1" cy="739.08" r="1.05" fill="#111"/>
<circle cx="308.1" cy="741.12" r="1.05" fill="#111"/>
<circle cx="309.6" cy="742.48" r="1.05" fill="#111"/>
<circle cx="308.1" cy="743.84" r="1.05" fill="#111"/>
<circle cx="309.6" cy="745.2" r="1.05" fill="#111"/>
<circle cx="306.6" cy="745.88" r="1.05" fill="#111"/>
<circle cx="311.1" cy="746.56" r="1.05" fill="#111"/>
<circle cx="308.1" cy="747.92" r="1.05" fill="#111"/>
<circle cx="305.1" cy="747.92" r="1.05" fill="#111"/>
<circle cx="311.1" cy="748.6" r="1.05" fill="#111"/>
<circle cx="306.6" cy="749.28" r="1.05" fill="#111"/>
<circle cx="309.6" cy="749.96" r="1.05" fill="#111"/>
<circle cx="305.1" cy="750.64" r="1.05" fill="#111"/>
<circle cx="312.6" cy="750.64" r="1.05" fill="#111"/>
<circle cx="308.1" cy="751.32" r="1.05" fill="#111"/>
<line x1="289" y1="744.38" x2="289" y2="746.02" stroke="#111" stroke-width="0.8"/>
<line x1="285.8" y1="744.38" x2="292.2" y2="744.38" stroke="#111" stroke-width="0.8"/>
<line x1="285.8" y1="746.02" x2="292.2" y2="746.02" stroke="#111" stroke-width="0.8"/>
<line x1="308.1" y1="722.42" x2="308.1" y2="731.26" stroke="#111" stroke-width="0.8"/>
<line x1="304.9" y1="722.42" x2="311.3" y2="722.42" stroke="#111" stroke-width="0.8"/>
<line x1="304.9" y1="731.26" x2="311.3" y2="731.26" stroke="#111" stroke-width="0.8"/>
<line x1="274.7" y1="649.6" x2="274.7" y2="752.5" stroke="#1e1e1e" stroke-width="1"/>
<line x1="274.3" y1="752" x2="324.1" y2="752" stroke="#1e1e1e" stroke-width="1"/>
<line x1="272.1" y1="752" x2="274.7" y2="752" stroke="#1e1e1e" stroke-width="0.7"/>
<text x="271.3" y="754.1" font-size="6.5" text-anchor="end" fill="#222">0</text>
<line x1="272.1" y1="718" x2="274.7" y2="718" stroke="#1e1e1e" stroke-width="0.7"/>
<text x="271.3" y="720.1" font-size="6.5" text-anchor="end" fill="#222">5</text>
<line x1="272.1" y1="684" x2="274.7" y2="684" stroke="#1e1e1e" stroke-width="0.7"/>
<text x="271.3" y="686.1" font-size="6.5" text-anchor="end" fill="#222">10</text>
<line x1="272.1" y1="650" x2="274.7" y2="650" stroke="#1e1e1e" stroke-width="0.7"/>
<text x="271.3" y="652.1" font-size="6.5" text-anchor="end" fill="#222">15</text>
<polyline points="290.1,656.1 290.1,653.9 306.6,653.9 306.6,656.1" fill="none" stroke="#444" stroke-width="0.75"/>
<text x="298.9" y="651.3" font-size="6.5" text-anchor="middle" fill="#222">p = 0.0001</text>
<text x="258.7" y="700.6" font-size="7.2" text-anchor="middle" fill="#222" textLength="128.7" lengthAdjust="spacingAndGlyphs" transform="rotate(-90 258.7 700.6)">CFSE⁺ CD3ε⁺ of CD3ε⁺ (fold change)</text>
<text x="284.6" y="756.3" font-size="6.9" text-anchor="end" fill="#222" textLength="24.5" lengthAdjust="spacingAndGlyphs" transform="rotate(-90 284.6 756.3)">Isotype</text>
<text x="292.3" y="756.3" font-size="5.4" text-anchor="end" fill="#222" textLength="28" lengthAdjust="spacingAndGlyphs" transform="rotate(-90 292.3 756.3)">(n=28 LN)</text>
<text x="308.3" y="756.3" font-size="6.9" text-anchor="end" fill="#222" textLength="31.8" lengthAdjust="spacingAndGlyphs" transform="rotate(-90 308.3 756.3)">αGDF-15</text>
<text x="314.9" y="756.3" font-size="5.4" text-anchor="end" fill="#222" textLength="28" lengthAdjust="spacingAndGlyphs" transform="rotate(-90 314.9 756.3)">(n=25 LN)</text>
<line x1="357.4" y1="743.42" x2="405" y2="743.42" stroke="#c8c8c8" stroke-width="0.7"/>
<rect x="364.4" y="743.42" width="15.8" height="9.28" fill="#f7874e"/>
<rect x="383" y="719.29" width="16.4" height="33.41" fill="#8fc1e6"/>
<line x1="357.4" y1="743.42" x2="405" y2="743.42" stroke="#d0d0d0" stroke-width="0.5" stroke-opacity="0.8"/>
<circle cx="372.3" cy="732.28" r="1.05" fill="#111"/>
<circle cx="372.3" cy="735.07" r="1.05" fill="#111"/>
<circle cx="372.3" cy="736.92" r="1.05" fill="#111"/>
<circle cx="372.3" cy="738.78" r="1.05" fill="#111"/>
<circle cx="373.8" cy="739.71" r="1.05" fill="#111"/>
<circle cx="372.3" cy="740.64" r="1.05" fill="#111"/>
<circle cx="375.3" cy="741.1" r="1.05" fill="#111"/>
<circle cx="370.8" cy="741.56" r="1.05" fill="#111"/>
<circle cx="372.3" cy="742.49" r="1.05" fill="#111"/>
<circle cx="375.3" cy="742.96" r="1.05" fill="#111"/>
<circle cx="370.8" cy="743.42" r="1.05" fill="#111"/>
<circle cx="373.8" cy="743.88" r="1.05" fill="#111"/>
<circle cx="369.3" cy="744.35" r="1.05" fill="#111"/>
<circle cx="372.3" cy="744.81" r="1.05" fill="#111"/>
<circle cx="375.3" cy="745.28" r="1.05" fill="#111"/>
<circle cx="370.8" cy="745.74" r="1.05" fill="#111"/>
<circle cx="373.8" cy="746.2" r="1.05" fill="#111"/>
<circle cx="369.3" cy="746.67" r="1.05" fill="#111"/>
<circle cx="372.3" cy="747.13" r="1.05" fill="#111"/>
<circle cx="373.8" cy="748.06" r="1.05" fill="#111"/>
<circle cx="372.3" cy="748.99" r="1.05" fill="#111"/>
<circle cx="373.8" cy="749.92" r="1.05" fill="#111"/>
<circle cx="372.3" cy="750.84" r="1.05" fill="#111"/>
<circle cx="373.8" cy="751.77" r="1.05" fill="#111"/>
<circle cx="391.2" cy="661.76" r="1.05" fill="#111"/>
<circle cx="391.2" cy="678.46" r="1.05" fill="#111"/>
<circle cx="391.2" cy="680.32" r="1.05" fill="#111"/>
<circle cx="391.2" cy="683.1" r="1.05" fill="#111"/>
<circle cx="391.2" cy="687.74" r="1.05" fill="#111"/>
<circle cx="391.2" cy="697.02" r="1.05" fill="#111"/>
<circle cx="391.2" cy="706.3" r="1.05" fill="#111"/>
<circle cx="391.2" cy="715.58" r="1.05" fill="#111"/>
<circle cx="391.2" cy="720.22" r="1.05" fill="#111"/>
<circle cx="391.2" cy="729.5" r="1.05" fill="#111"/>
<circle cx="391.2" cy="734.14" r="1.05" fill="#111"/>
<circle cx="391.2" cy="738.78" r="1.05" fill="#111"/>
<circle cx="391.2" cy="741.56" r="1.05" fill="#111"/>
<circle cx="391.2" cy="743.42" r="1.05" fill="#111"/>
<circle cx="391.2" cy="745.28" r="1.05" fill="#111"/>
<circle cx="391.2" cy="747.13" r="1.05" fill="#111"/>
<circle cx="392.7" cy="748.06" r="1.05" fill="#111"/>
<circle cx="391.2" cy="748.99" r="1.05" fill="#111"/>
<circle cx="392.7" cy="749.92" r="1.05" fill="#111"/>
<circle cx="391.2" cy="750.84" r="1.05" fill="#111"/>
<line x1="372.3" y1="742.31" x2="372.3" y2="744.53" stroke="#111" stroke-width="0.8"/>
<line x1="369.1" y1="742.31" x2="375.5" y2="742.31" stroke="#111" stroke-width="0.8"/>
<line x1="369.1" y1="744.53" x2="375.5" y2="744.53" stroke="#111" stroke-width="0.8"/>
<line x1="391.2" y1="712.33" x2="391.2" y2="726.25" stroke="#111" stroke-width="0.8"/>
<line x1="388" y1="712.33" x2="394.4" y2="712.33" stroke="#111" stroke-width="0.8"/>
<line x1="388" y1="726.25" x2="394.4" y2="726.25" stroke="#111" stroke-width="0.8"/>
<line x1="357.4" y1="649.6" x2="357.4" y2="753.2" stroke="#1e1e1e" stroke-width="1"/>
<line x1="357" y1="752.7" x2="405" y2="752.7" stroke="#1e1e1e" stroke-width="1"/>
<line x1="354.8" y1="752.7" x2="357.4" y2="752.7" stroke="#1e1e1e" stroke-width="0.7"/>
<text x="354" y="754.8" font-size="6.5" text-anchor="end" fill="#222">0</text>
<line x1="354.8" y1="706.3" x2="357.4" y2="706.3" stroke="#1e1e1e" stroke-width="0.7"/>
<text x="354" y="708.4" font-size="6.5" text-anchor="end" fill="#222">5</text>
<line x1="354.8" y1="659.9" x2="357.4" y2="659.9" stroke="#1e1e1e" stroke-width="0.7"/>
<text x="354" y="662" font-size="6.5" text-anchor="end" fill="#222">10</text>
<polyline points="373.1,656.1 373.1,653.9 390,653.9 390,656.1" fill="none" stroke="#444" stroke-width="0.75"/>
<text x="381.9" y="651.3" font-size="6.5" text-anchor="middle" fill="#222">p = 0.0006</text>
<text x="342" y="702.8" font-size="7.3" text-anchor="middle" fill="#222" textLength="125.5" lengthAdjust="spacingAndGlyphs" transform="rotate(-90 342 702.8)">CFSE⁺ CD4⁺ of CD4⁺ (fold change)</text>
<text x="365.7" y="756.3" font-size="6.9" text-anchor="end" fill="#222" textLength="24.5" lengthAdjust="spacingAndGlyphs" transform="rotate(-90 365.7 756.3)">Isotype</text>
<text x="373.4" y="756.3" font-size="5.4" text-anchor="end" fill="#222" textLength="28" lengthAdjust="spacingAndGlyphs" transform="rotate(-90 373.4 756.3)">(n=24 LN)</text>
<text x="389.1" y="756.3" font-size="6.9" text-anchor="end" fill="#222" textLength="31.8" lengthAdjust="spacingAndGlyphs" transform="rotate(-90 389.1 756.3)">αGDF-15</text>
<text x="395.7" y="756.3" font-size="5.4" text-anchor="end" fill="#222" textLength="28" lengthAdjust="spacingAndGlyphs" transform="rotate(-90 395.7 756.3)">(n=20 LN)</text>
<line x1="439" y1="739.25" x2="487.1" y2="739.25" stroke="#c8c8c8" stroke-width="0.7"/>
<rect x="446.7" y="738.74" width="15.1" height="13.26" fill="#f7874e"/>
<rect x="464.6" y="725.74" width="15.7" height="26.26" fill="#8fc1e6"/>
<line x1="439" y1="739.25" x2="487.1" y2="739.25" stroke="#d0d0d0" stroke-width="0.5" stroke-opacity="0.8"/>
<circle cx="454.2" cy="716.3" r="1.05" fill="#111"/>
<circle cx="454.2" cy="721.4" r="1.05" fill="#111"/>
<circle cx="454.2" cy="726.5" r="1.05" fill="#111"/>
<circle cx="454.2" cy="730.33" r="1.05" fill="#111"/>
<circle cx="454.2" cy="732.88" r="1.05" fill="#111"/>
<circle cx="455.7" cy="734.15" r="1.05" fill="#111"/>
<circle cx="454.2" cy="735.42" r="1.05" fill="#111"/>
<circle cx="455.7" cy="736.7" r="1.05" fill="#111"/>
<circle cx="452.7" cy="737.34" r="1.05" fill="#111"/>
<circle cx="457.2" cy="737.98" r="1.05" fill="#111"/>
<circle cx="454.2" cy="738.61" r="1.05" fill="#111"/>
<circle cx="451.2" cy="739.25" r="1.05" fill="#111"/>
<circle cx="455.7" cy="739.89" r="1.05" fill="#111"/>
<circle cx="452.7" cy="740.52" r="1.05" fill="#111"/>
<circle cx="457.2" cy="741.16" r="1.05" fill="#111"/>
<circle cx="454.2" cy="741.8" r="1.05" fill="#111"/>
<circle cx="455.7" cy="743.08" r="1.05" fill="#111"/>
<circle cx="452.7" cy="743.71" r="1.05" fill="#111"/>
<circle cx="457.2" cy="744.35" r="1.05" fill="#111"/>
<circle cx="454.2" cy="745.62" r="1.05" fill="#111"/>
<circle cx="455.7" cy="746.9" r="1.05" fill="#111"/>
<circle cx="454.2" cy="748.17" r="1.05" fill="#111"/>
<circle cx="455.7" cy="749.45" r="1.05" fill="#111"/>
<circle cx="454.2" cy="750.73" r="1.05" fill="#111"/>
<circle cx="472.4" cy="665.3" r="1.05" fill="#111"/>
<circle cx="472.4" cy="676.77" r="1.05" fill="#111"/>
<circle cx="472.4" cy="688.25" r="1.05" fill="#111"/>
<circle cx="472.4" cy="693.35" r="1.05" fill="#111"/>
<circle cx="472.4" cy="699.73" r="1.05" fill="#111"/>
<circle cx="472.4" cy="708.65" r="1.05" fill="#111"/>
<circle cx="472.4" cy="716.3" r="1.05" fill="#111"/>
<circle cx="472.4" cy="723.95" r="1.05" fill="#111"/>
<circle cx="472.4" cy="726.5" r="1.05" fill="#111"/>
<circle cx="472.4" cy="729.05" r="1.05" fill="#111"/>
<circle cx="472.4" cy="731.6" r="1.05" fill="#111"/>
<circle cx="472.4" cy="734.15" r="1.05" fill="#111"/>
<circle cx="472.4" cy="736.7" r="1.05" fill="#111"/>
<circle cx="472.4" cy="739.25" r="1.05" fill="#111"/>
<circle cx="472.4" cy="741.8" r="1.05" fill="#111"/>
<circle cx="473.9" cy="743.08" r="1.05" fill="#111"/>
<circle cx="472.4" cy="744.35" r="1.05" fill="#111"/>
<circle cx="473.9" cy="745.62" r="1.05" fill="#111"/>
<circle cx="472.4" cy="746.9" r="1.05" fill="#111"/>
<circle cx="473.9" cy="748.17" r="1.05" fill="#111"/>
<circle cx="470.9" cy="748.17" r="1.05" fill="#111"/>
<circle cx="472.4" cy="749.45" r="1.05" fill="#111"/>
<circle cx="473.9" cy="750.73" r="1.05" fill="#111"/>
<circle cx="470.9" cy="750.73" r="1.05" fill="#111"/>
<line x1="454.2" y1="736.7" x2="454.2" y2="740.78" stroke="#111" stroke-width="0.8"/>
<line x1="451" y1="736.7" x2="457.4" y2="736.7" stroke="#111" stroke-width="0.8"/>
<line x1="451" y1="740.78" x2="457.4" y2="740.78" stroke="#111" stroke-width="0.8"/>
<line x1="472.4" y1="720.12" x2="472.4" y2="731.35" stroke="#111" stroke-width="0.8"/>
<line x1="469.2" y1="720.12" x2="475.6" y2="720.12" stroke="#111" stroke-width="0.8"/>
<line x1="469.2" y1="731.35" x2="475.6" y2="731.35" stroke="#111" stroke-width="0.8"/>
<line x1="439" y1="649.6" x2="439" y2="752.5" stroke="#1e1e1e" stroke-width="1"/>
<line x1="438.6" y1="752" x2="487.1" y2="752" stroke="#1e1e1e" stroke-width="1"/>
<line x1="436.4" y1="752" x2="439" y2="752" stroke="#1e1e1e" stroke-width="0.7"/>
<text x="435.6" y="754.1" font-size="6.5" text-anchor="end" fill="#222">0</text>
<line x1="436.4" y1="726.5" x2="439" y2="726.5" stroke="#1e1e1e" stroke-width="0.7"/>
<text x="435.6" y="728.6" font-size="6.5" text-anchor="end" fill="#222">2</text>
<line x1="436.4" y1="701" x2="439" y2="701" stroke="#1e1e1e" stroke-width="0.7"/>
<text x="435.6" y="703.1" font-size="6.5" text-anchor="end" fill="#222">4</text>
<line x1="436.4" y1="675.5" x2="439" y2="675.5" stroke="#1e1e1e" stroke-width="0.7"/>
<text x="435.6" y="677.6" font-size="6.5" text-anchor="end" fill="#222">6</text>
<line x1="436.4" y1="650" x2="439" y2="650" stroke="#1e1e1e" stroke-width="0.7"/>
<text x="435.6" y="652.1" font-size="6.5" text-anchor="end" fill="#222">8</text>
<polyline points="454.4,656.1 454.4,653.9 471.3,653.9 471.3,656.1" fill="none" stroke="#444" stroke-width="0.75"/>
<text x="463.2" y="651.3" font-size="6.5" text-anchor="middle" fill="#222">p = 0.027</text>
<text x="425.9" y="701.7" font-size="7.3" text-anchor="middle" fill="#222" textLength="123.4" lengthAdjust="spacingAndGlyphs" transform="rotate(-90 425.9 701.7)">CFSE⁺ CD8⁺ of CD8⁺ (fold change)</text>
<text x="451.1" y="756.3" font-size="6.9" text-anchor="end" fill="#222" textLength="24.5" lengthAdjust="spacingAndGlyphs" transform="rotate(-90 451.1 756.3)">Isotype</text>
<text x="459.5" y="756.3" font-size="5.4" text-anchor="end" fill="#222" textLength="28" lengthAdjust="spacingAndGlyphs" transform="rotate(-90 459.5 756.3)">(n=24 LN)</text>
<text x="474.4" y="756.3" font-size="6.9" text-anchor="end" fill="#222" textLength="31.8" lengthAdjust="spacingAndGlyphs" transform="rotate(-90 474.4 756.3)">αGDF-15</text>
<text x="481.4" y="756.3" font-size="5.4" text-anchor="end" fill="#222" textLength="28" lengthAdjust="spacingAndGlyphs" transform="rotate(-90 481.4 756.3)">(n=24 LN)</text>
<text x="506" y="616" font-size="8.5" font-weight="bold" fill="#000">h</text>
<text x="517.6" y="635.9" font-size="6.4" fill="#111" textLength="77.9" lengthAdjust="spacingAndGlyphs">4 independent experiments</text>
<rect x="540" y="704.16" width="15.4" height="47.44" fill="#f7874e"/>
<rect x="558.1" y="704.16" width="15.6" height="47.44" fill="#8fc1e6"/>
<circle cx="547.7" cy="682.02" r="1.05" fill="#111"/>
<circle cx="547.7" cy="685.82" r="1.05" fill="#111"/>
<circle cx="549.2" cy="687.09" r="1.05" fill="#111"/>
<circle cx="547.7" cy="688.35" r="1.05" fill="#111"/>
<circle cx="549.2" cy="689.62" r="1.05" fill="#111"/>
<circle cx="547.7" cy="690.88" r="1.05" fill="#111"/>
<circle cx="549.2" cy="692.14" r="1.05" fill="#111"/>
<circle cx="547.7" cy="693.41" r="1.05" fill="#111"/>
<circle cx="547.7" cy="695.94" r="1.05" fill="#111"/>
<circle cx="549.2" cy="697.21" r="1.05" fill="#111"/>
<circle cx="547.7" cy="698.47" r="1.05" fill="#111"/>
<circle cx="549.2" cy="699.74" r="1.05" fill="#111"/>
<circle cx="547.7" cy="701" r="1.05" fill="#111"/>
<circle cx="549.2" cy="702.26" r="1.05" fill="#111"/>
<circle cx="547.7" cy="703.53" r="1.05" fill="#111"/>
<circle cx="549.2" cy="704.8" r="1.05" fill="#111"/>
<circle cx="547.7" cy="706.06" r="1.05" fill="#111"/>
<circle cx="549.2" cy="707.33" r="1.05" fill="#111"/>
<circle cx="547.7" cy="708.59" r="1.05" fill="#111"/>
<circle cx="547.7" cy="711.12" r="1.05" fill="#111"/>
<circle cx="549.2" cy="712.38" r="1.05" fill="#111"/>
<circle cx="547.7" cy="713.65" r="1.05" fill="#111"/>
<circle cx="547.7" cy="716.18" r="1.05" fill="#111"/>
<circle cx="547.7" cy="718.71" r="1.05" fill="#111"/>
<circle cx="547.7" cy="721.24" r="1.05" fill="#111"/>
<circle cx="547.7" cy="723.77" r="1.05" fill="#111"/>
<circle cx="547.7" cy="726.3" r="1.05" fill="#111"/>
<circle cx="547.7" cy="728.83" r="1.05" fill="#111"/>
<circle cx="547.7" cy="732.62" r="1.05" fill="#111"/>
<circle cx="547.7" cy="736.42" r="1.05" fill="#111"/>
<circle cx="547.7" cy="738.95" r="1.05" fill="#111"/>
<circle cx="547.7" cy="741.48" r="1.05" fill="#111"/>
<circle cx="565.9" cy="679.5" r="1.05" fill="#111"/>
<circle cx="565.9" cy="683.29" r="1.05" fill="#111"/>
<circle cx="565.9" cy="687.09" r="1.05" fill="#111"/>
<circle cx="565.9" cy="692.14" r="1.05" fill="#111"/>
<circle cx="565.9" cy="695.94" r="1.05" fill="#111"/>
<circle cx="565.9" cy="698.47" r="1.05" fill="#111"/>
<circle cx="568.9" cy="698.47" r="1.05" fill="#111"/>
<circle cx="562.9" cy="698.47" r="1.05" fill="#111"/>
<circle cx="567.4" cy="699.74" r="1.05" fill="#111"/>
<circle cx="564.4" cy="699.74" r="1.05" fill="#111"/>
<circle cx="565.9" cy="701" r="1.05" fill="#111"/>
<circle cx="568.9" cy="701" r="1.05" fill="#111"/>
<circle cx="567.4" cy="702.26" r="1.05" fill="#111"/>
<circle cx="564.4" cy="702.26" r="1.05" fill="#111"/>
<circle cx="565.9" cy="703.53" r="1.05" fill="#111"/>
<circle cx="567.4" cy="704.8" r="1.05" fill="#111"/>
<circle cx="565.9" cy="706.06" r="1.05" fill="#111"/>
<circle cx="567.4" cy="707.33" r="1.05" fill="#111"/>
<circle cx="565.9" cy="708.59" r="1.05" fill="#111"/>
<circle cx="565.9" cy="711.12" r="1.05" fill="#111"/>
<circle cx="565.9" cy="713.65" r="1.05" fill="#111"/>
<circle cx="565.9" cy="716.18" r="1.05" fill="#111"/>
<circle cx="565.9" cy="718.71" r="1.05" fill="#111"/>
<circle cx="565.9" cy="721.24" r="1.05" fill="#111"/>
<circle cx="565.9" cy="723.77" r="1.05" fill="#111"/>
<circle cx="565.9" cy="726.3" r="1.05" fill="#111"/>
<circle cx="565.9" cy="728.83" r="1.05" fill="#111"/>
<circle cx="565.9" cy="735.15" r="1.05" fill="#111"/>
<line x1="547.7" y1="700.37" x2="547.7" y2="707.96" stroke="#111" stroke-width="0.8"/>
<line x1="544.5" y1="700.37" x2="550.9" y2="700.37" stroke="#111" stroke-width="0.8"/>
<line x1="544.5" y1="707.96" x2="550.9" y2="707.96" stroke="#111" stroke-width="0.8"/>
<line x1="565.9" y1="700.37" x2="565.9" y2="707.96" stroke="#111" stroke-width="0.8"/>
<line x1="562.7" y1="700.37" x2="569.1" y2="700.37" stroke="#111" stroke-width="0.8"/>
<line x1="562.7" y1="707.96" x2="569.1" y2="707.96" stroke="#111" stroke-width="0.8"/>
<line x1="532.4" y1="649.6" x2="532.4" y2="752.1" stroke="#1e1e1e" stroke-width="1"/>
<line x1="532" y1="751.6" x2="581.6" y2="751.6" stroke="#1e1e1e" stroke-width="1"/>
<line x1="529.8" y1="751.6" x2="532.4" y2="751.6" stroke="#1e1e1e" stroke-width="0.7"/>
<text x="527" y="753.7" font-size="6.9" text-anchor="end" fill="#222">0</text>
<line x1="529.8" y1="725.9" x2="532.4" y2="725.9" stroke="#1e1e1e" stroke-width="0.7"/>
<text x="527" y="728" font-size="6.9" text-anchor="end" fill="#222">200</text>
<line x1="529.8" y1="700.6" x2="532.4" y2="700.6" stroke="#1e1e1e" stroke-width="0.7"/>
<text x="527" y="702.7" font-size="6.9" text-anchor="end" fill="#222">400</text>
<line x1="529.8" y1="675.3" x2="532.4" y2="675.3" stroke="#1e1e1e" stroke-width="0.7"/>
<text x="527" y="677.4" font-size="6.9" text-anchor="end" fill="#222">600</text>
<line x1="529.8" y1="650" x2="532.4" y2="650" stroke="#1e1e1e" stroke-width="0.7"/>
<text x="527" y="652.1" font-size="6.9" text-anchor="end" fill="#222">800</text>
<polyline points="548.5,656.6 548.5,654.4 565,654.4 565,656.6" fill="none" stroke="#444" stroke-width="0.75"/>
<text x="556.5" y="651.8" font-size="6.5" text-anchor="middle" fill="#222">p = 0.95</text>
<text x="510.9" y="700.5" font-size="8.1" text-anchor="middle" fill="#222" textLength="72.3" lengthAdjust="spacingAndGlyphs" transform="rotate(-90 510.9 700.5)">Tumor volume [mm³]</text>
<text x="544.6" y="756.3" font-size="6.9" text-anchor="end" fill="#222" textLength="24.5" lengthAdjust="spacingAndGlyphs" transform="rotate(-90 544.6 756.3)">Isotype</text>
<text x="551.9" y="756.3" font-size="5.4" text-anchor="end" fill="#222" textLength="18.2" lengthAdjust="spacingAndGlyphs" transform="rotate(-90 551.9 756.3)">(n=32)</text>
<text x="567.6" y="756.3" font-size="6.9" text-anchor="end" fill="#222" textLength="31.8" lengthAdjust="spacingAndGlyphs" transform="rotate(-90 567.6 756.3)">αGDF-15</text>
<text x="574.2" y="756.3" font-size="5.4" text-anchor="end" fill="#222" textLength="18.2" lengthAdjust="spacingAndGlyphs" transform="rotate(-90 574.2 756.3)">(n=28)</text>
<text x="598.6" y="615.6" font-size="8.5" font-weight="bold" fill="#000">i</text>
<text x="607.2" y="635.9" font-size="6.4" fill="#111" textLength="77.8" lengthAdjust="spacingAndGlyphs">3 independent experiments</text>
<rect x="628.8" y="714.08" width="15.3" height="36.92" fill="#f7874e"/>
<rect x="647" y="725.7" width="15.6" height="25.3" fill="#8fc1e6"/>
<circle cx="636.5" cy="660.22" r="1.05" fill="#111"/>
<circle cx="636.5" cy="689.8" r="1.05" fill="#111"/>
<circle cx="636.5" cy="703.06" r="1.05" fill="#111"/>
<circle cx="636.5" cy="705.1" r="1.05" fill="#111"/>
<circle cx="638" cy="706.12" r="1.05" fill="#111"/>
<circle cx="636.5" cy="710.2" r="1.05" fill="#111"/>
<circle cx="636.5" cy="713.26" r="1.05" fill="#111"/>
<circle cx="636.5" cy="715.3" r="1.05" fill="#111"/>
<circle cx="638" cy="716.32" r="1.05" fill="#111"/>
<circle cx="636.5" cy="717.34" r="1.05" fill="#111"/>
<circle cx="636.5" cy="719.38" r="1.05" fill="#111"/>
<circle cx="638" cy="720.4" r="1.05" fill="#111"/>
<circle cx="636.5" cy="721.42" r="1.05" fill="#111"/>
<circle cx="638" cy="722.44" r="1.05" fill="#111"/>
<circle cx="636.5" cy="724.48" r="1.05" fill="#111"/>
<circle cx="636.5" cy="726.52" r="1.05" fill="#111"/>
<circle cx="636.5" cy="728.56" r="1.05" fill="#111"/>
<circle cx="636.5" cy="730.6" r="1.05" fill="#111"/>
<circle cx="636.5" cy="732.64" r="1.05" fill="#111"/>
<circle cx="636.5" cy="734.68" r="1.05" fill="#111"/>
<circle cx="654.8" cy="714.28" r="1.05" fill="#111"/>
<circle cx="654.8" cy="717.34" r="1.05" fill="#111"/>
<circle cx="656.3" cy="718.36" r="1.05" fill="#111"/>
<circle cx="654.8" cy="720.4" r="1.05" fill="#111"/>
<circle cx="656.3" cy="721.42" r="1.05" fill="#111"/>
<circle cx="654.8" cy="723.46" r="1.05" fill="#111"/>
<circle cx="656.3" cy="724.48" r="1.05" fill="#111"/>
<circle cx="654.8" cy="725.5" r="1.05" fill="#111"/>
<circle cx="656.3" cy="726.52" r="1.05" fill="#111"/>
<circle cx="654.8" cy="727.54" r="1.05" fill="#111"/>
<circle cx="656.3" cy="728.56" r="1.05" fill="#111"/>
<circle cx="654.8" cy="729.58" r="1.05" fill="#111"/>
<circle cx="656.3" cy="730.6" r="1.05" fill="#111"/>
<circle cx="654.8" cy="732.64" r="1.05" fill="#111"/>
<circle cx="654.8" cy="734.68" r="1.05" fill="#111"/>
<circle cx="654.8" cy="738.76" r="1.05" fill="#111"/>
<line x1="636.5" y1="710.2" x2="636.5" y2="718.36" stroke="#111" stroke-width="0.8"/>
<line x1="633.3" y1="710.2" x2="639.7" y2="710.2" stroke="#111" stroke-width="0.8"/>
<line x1="633.3" y1="718.36" x2="639.7" y2="718.36" stroke="#111" stroke-width="0.8"/>
<line x1="654.8" y1="723.46" x2="654.8" y2="728.05" stroke="#111" stroke-width="0.8"/>
<line x1="651.6" y1="723.46" x2="658" y2="723.46" stroke="#111" stroke-width="0.8"/>
<line x1="651.6" y1="728.05" x2="658" y2="728.05" stroke="#111" stroke-width="0.8"/>
<line x1="621.4" y1="648.6" x2="621.4" y2="751.5" stroke="#1e1e1e" stroke-width="1"/>
<line x1="621" y1="751" x2="670.3" y2="751" stroke="#1e1e1e" stroke-width="1"/>
<line x1="618.8" y1="751" x2="621.4" y2="751" stroke="#1e1e1e" stroke-width="0.7"/>
<text x="617" y="753.1" font-size="6.2" text-anchor="end" fill="#222">0.0</text>
<line x1="618.8" y1="731" x2="621.4" y2="731" stroke="#1e1e1e" stroke-width="0.7"/>
<text x="617" y="733.1" font-size="6.2" text-anchor="end" fill="#222">0.2</text>
<line x1="618.8" y1="710.6" x2="621.4" y2="710.6" stroke="#1e1e1e" stroke-width="0.7"/>
<text x="617" y="712.7" font-size="6.2" text-anchor="end" fill="#222">0.4</text>
<line x1="618.8" y1="690.1" x2="621.4" y2="690.1" stroke="#1e1e1e" stroke-width="0.7"/>
<text x="617" y="692.2" font-size="6.2" text-anchor="end" fill="#222">0.6</text>
<line x1="618.8" y1="669.6" x2="621.4" y2="669.6" stroke="#1e1e1e" stroke-width="0.7"/>
<text x="617" y="671.7" font-size="6.2" text-anchor="end" fill="#222">0.8</text>
<line x1="618.8" y1="649.1" x2="621.4" y2="649.1" stroke="#1e1e1e" stroke-width="0.7"/>
<text x="617" y="651.2" font-size="6.2" text-anchor="end" fill="#222">1.0</text>
<polyline points="637.5,656.2 637.5,654 653.6,654 653.6,656.2" fill="none" stroke="#444" stroke-width="0.75"/>
<text x="646.5" y="651.4" font-size="6.5" text-anchor="middle" fill="#222">p = 0.015</text>
<text x="602.6" y="701" font-size="8.3" text-anchor="middle" fill="#222" textLength="58" lengthAdjust="spacingAndGlyphs" transform="rotate(-90 602.6 701)">Tumor weight [g]</text>
<text x="633.2" y="756.3" font-size="6.9" text-anchor="end" fill="#222" textLength="24.5" lengthAdjust="spacingAndGlyphs" transform="rotate(-90 633.2 756.3)">Isotype</text>
<text x="640.9" y="756.3" font-size="5.4" text-anchor="end" fill="#222" textLength="18.2" lengthAdjust="spacingAndGlyphs" transform="rotate(-90 640.9 756.3)">(n=20)</text>
<text x="656.5" y="756.3" font-size="6.9" text-anchor="end" fill="#222" textLength="31.8" lengthAdjust="spacingAndGlyphs" transform="rotate(-90 656.5 756.3)">αGDF-15</text>
<text x="663.1" y="756.3" font-size="5.4" text-anchor="end" fill="#222" textLength="18.2" lengthAdjust="spacingAndGlyphs" transform="rotate(-90 663.1 756.3)">(n=16)</text>
<text x="1.2" y="826" font-size="8.5" font-weight="bold" fill="#000">j</text>
<text x="20.7" y="842.7" font-size="6.6" fill="#222" textLength="64.1" lengthAdjust="spacingAndGlyphs">n=5 n=6 n=6 n=6 n=7</text>
<line x1="19.5" y1="844.8" x2="19.5" y2="928.9" stroke="#2a2a2a" stroke-width="1"/>
<line x1="19" y1="928.4" x2="85.6" y2="928.4" stroke="#2a2a2a" stroke-width="1"/>
<line x1="16.3" y1="845.3" x2="19.5" y2="845.3" stroke="#2a2a2a" stroke-width="0.8"/>
<text x="15.9" y="847.7" font-size="6.8" text-anchor="end" fill="#222">8</text>
<line x1="16.3" y1="866.2" x2="19.5" y2="866.2" stroke="#2a2a2a" stroke-width="0.8"/>
<text x="15.9" y="868.6" font-size="6.8" text-anchor="end" fill="#222">6</text>
<line x1="16.3" y1="886.8" x2="19.5" y2="886.8" stroke="#2a2a2a" stroke-width="0.8"/>
<text x="15.9" y="889.2" font-size="6.8" text-anchor="end" fill="#222">4</text>
<line x1="16.3" y1="907.5" x2="19.5" y2="907.5" stroke="#2a2a2a" stroke-width="0.8"/>
<text x="15.9" y="909.9" font-size="6.8" text-anchor="end" fill="#222">2</text>
<line x1="16.3" y1="928.4" x2="19.5" y2="928.4" stroke="#2a2a2a" stroke-width="0.8"/>
<text x="15.9" y="930.8" font-size="6.8" text-anchor="end" fill="#222">0</text>
<line x1="27.2" y1="928.4" x2="27.2" y2="931.2" stroke="#2a2a2a" stroke-width="0.8"/>
<text x="27.2" y="939" font-size="6.8" text-anchor="middle" fill="#222">0</text>
<line x1="39.9" y1="928.4" x2="39.9" y2="931.2" stroke="#2a2a2a" stroke-width="0.8"/>
<text x="39.9" y="939" font-size="6.8" text-anchor="middle" fill="#222">3</text>
<line x1="53" y1="928.4" x2="53" y2="931.2" stroke="#2a2a2a" stroke-width="0.8"/>
<text x="53" y="939" font-size="6.8" text-anchor="middle" fill="#222">9</text>
<line x1="66.4" y1="928.4" x2="66.4" y2="931.2" stroke="#2a2a2a" stroke-width="0.8"/>
<text x="66.4" y="939" font-size="6.8" text-anchor="middle" fill="#222">15</text>
<line x1="79.6" y1="928.4" x2="79.6" y2="931.2" stroke="#2a2a2a" stroke-width="0.8"/>
<text x="79.6" y="939" font-size="6.8" text-anchor="middle" fill="#222">24</text>
<text x="52.3" y="947.8" font-size="7.5" text-anchor="middle" fill="#222">Days</text>
<text x="52.5" y="956.6" font-size="7.5" text-anchor="middle" fill="#222" textLength="67.6" lengthAdjust="spacingAndGlyphs">after tumor injection</text>
<text x="6.8" y="887.2" font-size="7.6" text-anchor="middle" fill="#222" textLength="98.4" lengthAdjust="spacingAndGlyphs" transform="rotate(-90 6.8 887.2)">hGDF-15 serum level [ng/ml]</text>
<circle cx="23.3" cy="928.19" r="1.2" fill="#111"/>
<circle cx="25.2" cy="927.98" r="1.2" fill="#111"/>
<circle cx="27.2" cy="928.09" r="1.2" fill="#111"/>
<circle cx="29.1" cy="927.88" r="1.2" fill="#111"/>
<circle cx="30.8" cy="928.19" r="1.2" fill="#111"/>
<circle cx="36.2" cy="927.88" r="1.2" fill="#111"/>
<circle cx="37.9" cy="927.36" r="1.2" fill="#111"/>
<circle cx="39.7" cy="927.78" r="1.2" fill="#111"/>
<circle cx="41.3" cy="927.57" r="1.2" fill="#111"/>
<circle cx="43" cy="927.98" r="1.2" fill="#111"/>
<circle cx="39.9" cy="928.19" r="1.2" fill="#111"/>
<circle cx="49.2" cy="927.36" r="1.2" fill="#111"/>
<circle cx="51" cy="925.8" r="1.2" fill="#111"/>
<circle cx="52.8" cy="926.84" r="1.2" fill="#111"/>
<circle cx="54.6" cy="926.32" r="1.2" fill="#111"/>
<circle cx="56.4" cy="927.15" r="1.2" fill="#111"/>
<circle cx="53" cy="927.88" r="1.2" fill="#111"/>
<circle cx="62.7" cy="926.01" r="1.2" fill="#111"/>
<circle cx="66.4" cy="923.42" r="1.2" fill="#111"/>
<circle cx="66.4" cy="918.02" r="1.2" fill="#111"/>
<circle cx="66" cy="913.87" r="1.2" fill="#111"/>
<circle cx="69.9" cy="912.83" r="1.2" fill="#111"/>
<circle cx="69.9" cy="925.6" r="1.2" fill="#111"/>
<circle cx="78" cy="860.41" r="1.2" fill="#111"/>
<circle cx="81.1" cy="863.21" r="1.2" fill="#111"/>
<circle cx="79.1" cy="878.58" r="1.2" fill="#111"/>
<circle cx="79.1" cy="896.22" r="1.2" fill="#111"/>
<circle cx="79.1" cy="904.53" r="1.2" fill="#111"/>
<circle cx="77.6" cy="922.69" r="1.2" fill="#111"/>
<circle cx="81.1" cy="921.65" r="1.2" fill="#111"/>
<line x1="61.4" y1="920.51" x2="71.9" y2="920.51" stroke="#666" stroke-width="0.9"/>
<line x1="73.7" y1="896.22" x2="84.8" y2="896.22" stroke="#222" stroke-width="0.9"/>
<line x1="22.7" y1="927.8" x2="31.7" y2="927.8" stroke="#555" stroke-width="0.7"/>
<line x1="35.4" y1="927.8" x2="44.4" y2="927.8" stroke="#555" stroke-width="0.7"/>
<line x1="48.5" y1="927.8" x2="57.5" y2="927.8" stroke="#555" stroke-width="0.7"/>
<text x="102" y="827.3" font-size="8.5" font-weight="bold" fill="#000">k</text>
<line x1="121" y1="842.6" x2="121" y2="928.9" stroke="#2a2a2a" stroke-width="1"/>
<line x1="120.5" y1="928.4" x2="188.3" y2="928.4" stroke="#2a2a2a" stroke-width="1"/>
<line x1="118.1" y1="843.4" x2="121" y2="843.4" stroke="#2a2a2a" stroke-width="0.8"/>
<text x="117.2" y="845.8" font-size="6.8" text-anchor="end" fill="#222">8</text>
<line x1="118.1" y1="864.6" x2="121" y2="864.6" stroke="#2a2a2a" stroke-width="0.8"/>
<text x="117.2" y="867" font-size="6.8" text-anchor="end" fill="#222">6</text>
<line x1="118.1" y1="885.9" x2="121" y2="885.9" stroke="#2a2a2a" stroke-width="0.8"/>
<text x="117.2" y="888.3" font-size="6.8" text-anchor="end" fill="#222">4</text>
<line x1="118.1" y1="907.2" x2="121" y2="907.2" stroke="#2a2a2a" stroke-width="0.8"/>
<text x="117.2" y="909.6" font-size="6.8" text-anchor="end" fill="#222">2</text>
<line x1="118.1" y1="928.4" x2="121" y2="928.4" stroke="#2a2a2a" stroke-width="0.8"/>
<text x="117.2" y="930.8" font-size="6.8" text-anchor="end" fill="#222">0</text>
<line x1="121" y1="928.4" x2="121" y2="931.2" stroke="#2a2a2a" stroke-width="0.8"/>
<text x="121" y="939" font-size="6.6" text-anchor="middle" fill="#222">200</text>
<line x1="144.1" y1="928.4" x2="144.1" y2="931.2" stroke="#2a2a2a" stroke-width="0.8"/>
<text x="144.1" y="939" font-size="6.6" text-anchor="middle" fill="#222">400</text>
<line x1="166.1" y1="928.4" x2="166.1" y2="931.2" stroke="#2a2a2a" stroke-width="0.8"/>
<text x="166.1" y="939" font-size="6.6" text-anchor="middle" fill="#222">600</text>
<line x1="188.3" y1="928.4" x2="188.3" y2="931.2" stroke="#2a2a2a" stroke-width="0.8"/>
<text x="188.3" y="939" font-size="6.6" text-anchor="middle" fill="#222">800</text>
<text x="154.6" y="948" font-size="7.7" text-anchor="middle" fill="#222" textLength="70.7" lengthAdjust="spacingAndGlyphs">Tumor volume [mm³]</text>
<text x="108.9" y="885.6" font-size="7.6" text-anchor="middle" fill="#222" textLength="98.3" lengthAdjust="spacingAndGlyphs" transform="rotate(-90 108.9 885.6)">hGDF-15 serum level [ng/ml]</text>
<polyline points="129.6,895.3 154.5,877.7 179.3,861.4" fill="none" stroke="#111" stroke-width="0.9"/>
<circle cx="129.6" cy="895.3" r="1.8" fill="#111"/>
<circle cx="154.5" cy="877.7" r="1.8" fill="#111"/>
<circle cx="179.3" cy="861.4" r="1.8" fill="#111"/>
<text x="157.3" y="907.1" font-size="6.4" fill="#222">n = 3</text>
<text x="157.3" y="915" font-size="6.4" fill="#222">r = 1.00</text>
<text x="157.3" y="923.2" font-size="6.4" fill="#222" textLength="26.9" lengthAdjust="spacingAndGlyphs">p = 0.001</text>
<text x="205.2" y="826.5" font-size="8.5" font-weight="bold" fill="#000">l</text>
<text x="252" y="832.4" font-size="8.4" text-anchor="middle" fill="#111">hCD45<tspan font-size="5" dy="-3">+</tspan><tspan dy="3"> cells</tspan></text>
<circle cx="233.5" cy="923.8" r="2" fill="#bff0e3"/>
<circle cx="236.9" cy="921" r="2" fill="#44739c"/>
<circle cx="239.9" cy="924.1" r="2" fill="#5d5f96"/>
<circle cx="236.9" cy="925.9" r="2" fill="#5d5f96"/>
<circle cx="243" cy="926.4" r="2" fill="#c9c3f0"/>
<circle cx="239.6" cy="929.4" r="2" fill="#bff0e3"/>
<circle cx="245.8" cy="929.4" r="2" fill="#4f9a8c"/>
<circle cx="248.8" cy="926.4" r="2" fill="#bff0e3"/>
<circle cx="234.1" cy="929.4" r="2" fill="#050505"/>
<circle cx="265.3" cy="860.6" r="2" fill="#5d5f96"/>
<circle cx="265.3" cy="874.9" r="2" fill="#4f9a8c"/>
<circle cx="265.3" cy="883.4" r="2" fill="#c9c3f0"/>
<circle cx="265.3" cy="909.5" r="2" fill="#44739c"/>
<circle cx="261.4" cy="917.9" r="2" fill="#bff0e3"/>
<circle cx="268.8" cy="921" r="2" fill="#bff0e3"/>
<circle cx="258.1" cy="929.4" r="2" fill="#c9c3f0"/>
<circle cx="265.3" cy="926.4" r="2" fill="#bff0e3"/>
<circle cx="272.5" cy="926.4" r="2" fill="#bff0e3"/>
<line x1="231.5" y1="926.2" x2="246.4" y2="926.2" stroke="#111" stroke-width="1"/>
<line x1="256" y1="918.2" x2="274.8" y2="918.2" stroke="#111" stroke-width="1"/>
<line x1="223" y1="842.6" x2="223" y2="929.6" stroke="#555" stroke-width="1.4"/>
<line x1="222.4" y1="929.4" x2="284.8" y2="929.4" stroke="#2a2a2a" stroke-width="1.4"/>
<line x1="219.7" y1="843.1" x2="223" y2="843.1" stroke="#555" stroke-width="0.9"/>
<text x="219" y="845.4" font-size="6.5" text-anchor="end" fill="#222">3</text>
<line x1="219.7" y1="872.1" x2="223" y2="872.1" stroke="#555" stroke-width="0.9"/>
<text x="219" y="874.4" font-size="6.5" text-anchor="end" fill="#222">2</text>
<line x1="219.7" y1="900.7" x2="223" y2="900.7" stroke="#555" stroke-width="0.9"/>
<text x="219" y="903" font-size="6.5" text-anchor="end" fill="#222">1</text>
<line x1="219.7" y1="929.4" x2="223" y2="929.4" stroke="#555" stroke-width="0.9"/>
<text x="219" y="931.7" font-size="6.5" text-anchor="end" fill="#222">0</text>
<polyline points="241.2,853.1 241.2,850.3 265.7,850.3 265.7,853.1" fill="none" stroke="#333" stroke-width="0.8"/>
<text x="253.8" y="848.3" font-size="6.5" text-anchor="middle" fill="#222">p = 0.0374</text>
<text x="210.9" y="887.2" font-size="7.3" text-anchor="middle" fill="#222" textLength="56.8" lengthAdjust="spacingAndGlyphs" transform="rotate(-90 210.9 887.2)">hCD45<tspan font-size="5" dy="-3">+</tspan><tspan dy="3"> cells [%]</tspan></text>
<text x="240.2" y="935" font-size="6.9" text-anchor="end" fill="#222" textLength="24.1" lengthAdjust="spacingAndGlyphs" transform="rotate(-90 240.2 935)">Isotype</text>
<text x="247.9" y="935" font-size="6" text-anchor="end" fill="#222" textLength="14.3" lengthAdjust="spacingAndGlyphs" transform="rotate(-90 247.9 935)">(n=9)</text>
<text x="264.3" y="935" font-size="6.9" text-anchor="end" fill="#222" textLength="31.1" lengthAdjust="spacingAndGlyphs" transform="rotate(-90 264.3 935)">αGDF-15</text>
<text x="271.2" y="935" font-size="6" text-anchor="end" fill="#222" textLength="14.3" lengthAdjust="spacingAndGlyphs" transform="rotate(-90 271.2 935)">(n=9)</text>
<line x1="241.1" y1="929.4" x2="241.1" y2="933.2" stroke="#2a2a2a" stroke-width="0.9"/>
<line x1="265.6" y1="929.4" x2="265.6" y2="933.2" stroke="#2a2a2a" stroke-width="0.9"/>
<text x="351.5" y="832.4" font-size="8.4" text-anchor="middle" fill="#111">hCD3<tspan font-size="5" dy="-3">+</tspan><tspan dy="3"> T cells</tspan></text>
<circle cx="338.5" cy="890" r="2" fill="#bff0e3"/>
<circle cx="338.5" cy="912.5" r="2" fill="#44739c"/>
<circle cx="334.2" cy="925.3" r="2" fill="#5d5f96"/>
<circle cx="337" cy="925" r="2" fill="#5d5f96"/>
<circle cx="331.1" cy="929.4" r="2" fill="#4f9a8c"/>
<circle cx="336.8" cy="929.4" r="2" fill="#bff0e3"/>
<circle cx="340" cy="929.4" r="2" fill="#c9c3f0"/>
<circle cx="342.8" cy="929.4" r="2" fill="#bff0e3"/>
<circle cx="345.7" cy="929.4" r="2" fill="#050505"/>
<circle cx="363.8" cy="859.9" r="2" fill="#bff0e3"/>
<circle cx="368" cy="886.1" r="2" fill="#c9c3f0"/>
<circle cx="360" cy="887.2" r="2" fill="#bff0e3"/>
<circle cx="363.8" cy="895.6" r="2" fill="#bff0e3"/>
<circle cx="360" cy="905.3" r="2" fill="#5d5f96"/>
<circle cx="368" cy="907.6" r="2" fill="#4f9a8c"/>
<circle cx="360" cy="911.5" r="2" fill="#bff0e3"/>
<circle cx="368" cy="913.3" r="2" fill="#44739c"/>
<circle cx="363.8" cy="929.4" r="2" fill="#c9c3f0"/>
<line x1="354.1" y1="905.3" x2="372.9" y2="905.3" stroke="#111" stroke-width="1"/>
<line x1="322.3" y1="842.6" x2="322.3" y2="929.6" stroke="#555" stroke-width="1.4"/>
<line x1="321.7" y1="929.4" x2="380.7" y2="929.4" stroke="#2a2a2a" stroke-width="1.4"/>
<line x1="319" y1="843.1" x2="322.3" y2="843.1" stroke="#555" stroke-width="0.9"/>
<text x="318.3" y="845.4" font-size="6.5" text-anchor="end" fill="#222">100</text>
<line x1="319" y1="860.3" x2="322.3" y2="860.3" stroke="#555" stroke-width="0.9"/>
<text x="318.3" y="862.6" font-size="6.5" text-anchor="end" fill="#222">80</text>
<line x1="319" y1="877.5" x2="322.3" y2="877.5" stroke="#555" stroke-width="0.9"/>
<text x="318.3" y="879.8" font-size="6.5" text-anchor="end" fill="#222">60</text>
<line x1="319" y1="894.9" x2="322.3" y2="894.9" stroke="#555" stroke-width="0.9"/>
<text x="318.3" y="897.2" font-size="6.5" text-anchor="end" fill="#222">40</text>
<line x1="319" y1="912.1" x2="322.3" y2="912.1" stroke="#555" stroke-width="0.9"/>
<text x="318.3" y="914.4" font-size="6.5" text-anchor="end" fill="#222">20</text>
<line x1="319" y1="929.4" x2="322.3" y2="929.4" stroke="#555" stroke-width="0.9"/>
<text x="318.3" y="931.7" font-size="6.5" text-anchor="end" fill="#222">0</text>
<polyline points="339.5,853.4 339.5,850.6 364.4,850.6 364.4,853.4" fill="none" stroke="#333" stroke-width="0.8"/>
<text x="352.4" y="848.6" font-size="6.5" text-anchor="middle" fill="#222">p = 0.0106</text>
<text x="304.1" y="886.4" font-size="7.3" text-anchor="middle" fill="#222" textLength="115.2" lengthAdjust="spacingAndGlyphs" transform="rotate(-90 304.1 886.4)">hCD3<tspan font-size="5" dy="-3">+</tspan><tspan dy="3"> T cells of hCD45</tspan><tspan font-size="5" dy="-3">+</tspan><tspan dy="3"> cells [%]</tspan></text>
<text x="337.4" y="935" font-size="6.9" text-anchor="end" fill="#222" textLength="24.1" lengthAdjust="spacingAndGlyphs" transform="rotate(-90 337.4 935)">Isotype</text>
<text x="345.5" y="935" font-size="6" text-anchor="end" fill="#222" textLength="14.3" lengthAdjust="spacingAndGlyphs" transform="rotate(-90 345.5 935)">(n=9)</text>
<text x="361.5" y="935" font-size="6.9" text-anchor="end" fill="#222" textLength="31.1" lengthAdjust="spacingAndGlyphs" transform="rotate(-90 361.5 935)">αGDF-15</text>
<text x="368.5" y="935" font-size="6" text-anchor="end" fill="#222" textLength="14.3" lengthAdjust="spacingAndGlyphs" transform="rotate(-90 368.5 935)">(n=9)</text>
<line x1="338.8" y1="929.4" x2="338.8" y2="933.2" stroke="#2a2a2a" stroke-width="0.9"/>
<line x1="363.6" y1="929.4" x2="363.6" y2="933.2" stroke="#2a2a2a" stroke-width="0.9"/>
<text x="441.5" y="832.4" font-size="8.4" text-anchor="middle" fill="#111">CD19<tspan font-size="5" dy="-3">+</tspan><tspan dy="3"> B cells</tspan></text>
<circle cx="429.6" cy="873.7" r="2" fill="#4f9a8c"/>
<circle cx="425.6" cy="915.9" r="2" fill="#c9c3f0"/>
<circle cx="433.3" cy="915.9" r="2" fill="#bff0e3"/>
<circle cx="429.6" cy="920.7" r="2" fill="#bff0e3"/>
<circle cx="422" cy="925.1" r="2" fill="#44739c"/>
<circle cx="429.6" cy="925.6" r="2" fill="#5d5f96"/>
<circle cx="437.3" cy="925.1" r="2" fill="#5d5f96"/>
<circle cx="422" cy="929.4" r="2" fill="#050505"/>
<circle cx="437.3" cy="929.4" r="2" fill="#bff0e3"/>
<circle cx="454.2" cy="891.3" r="2" fill="#bff0e3"/>
<circle cx="454.2" cy="901.8" r="2" fill="#c9c3f0"/>
<circle cx="454.2" cy="906.9" r="2" fill="#bff0e3"/>
<circle cx="446.5" cy="921.3" r="2" fill="#bff0e3"/>
<circle cx="456.8" cy="920.7" r="2" fill="#bff0e3"/>
<circle cx="451.8" cy="923" r="2" fill="#44739c"/>
<circle cx="446.8" cy="925.6" r="2" fill="#5d5f96"/>
<circle cx="456.8" cy="924.8" r="2" fill="#c9c3f0"/>
<circle cx="461.9" cy="923.3" r="2" fill="#4f9a8c"/>
<line x1="421.5" y1="925.1" x2="437.6" y2="925.1" stroke="#111" stroke-width="1"/>
<line x1="449.1" y1="921.3" x2="459.9" y2="921.3" stroke="#111" stroke-width="1"/>
<line x1="415.1" y1="842.6" x2="415.1" y2="929.6" stroke="#555" stroke-width="1.4"/>
<line x1="414.5" y1="929.4" x2="470.6" y2="929.4" stroke="#2a2a2a" stroke-width="1.4"/>
<line x1="411.8" y1="840.4" x2="415.1" y2="840.4" stroke="#555" stroke-width="0.9"/>
<text x="411.1" y="842.7" font-size="6.5" text-anchor="end" fill="#222">40</text>
<line x1="411.8" y1="862.4" x2="415.1" y2="862.4" stroke="#555" stroke-width="0.9"/>
<text x="411.1" y="864.7" font-size="6.5" text-anchor="end" fill="#222">30</text>
<line x1="411.8" y1="884.9" x2="415.1" y2="884.9" stroke="#555" stroke-width="0.9"/>
<text x="411.1" y="887.2" font-size="6.5" text-anchor="end" fill="#222">20</text>
<line x1="411.8" y1="907.2" x2="415.1" y2="907.2" stroke="#555" stroke-width="0.9"/>
<text x="411.1" y="909.5" font-size="6.5" text-anchor="end" fill="#222">10</text>
<line x1="411.8" y1="929.4" x2="415.1" y2="929.4" stroke="#555" stroke-width="0.9"/>
<text x="411.1" y="931.7" font-size="6.5" text-anchor="end" fill="#222">0</text>
<polyline points="429.2,853.2 429.2,850.4 453.7,850.4 453.7,853.2" fill="none" stroke="#333" stroke-width="0.8"/>
<text x="442.1" y="848.4" font-size="6.5" text-anchor="middle" fill="#222">p = 0.3087</text>
<text x="400.3" y="884.5" font-size="7.3" text-anchor="middle" fill="#222" textLength="120.6" lengthAdjust="spacingAndGlyphs" transform="rotate(-90 400.3 884.5)">hCD19<tspan font-size="5" dy="-3">+</tspan><tspan dy="3"> B cells of hCD45</tspan><tspan font-size="5" dy="-3">+</tspan><tspan dy="3"> cells [%]</tspan></text>
<text x="427.3" y="935" font-size="6.9" text-anchor="end" fill="#222" textLength="24.1" lengthAdjust="spacingAndGlyphs" transform="rotate(-90 427.3 935)">Isotype</text>
<text x="435.3" y="935" font-size="6" text-anchor="end" fill="#222" textLength="14.3" lengthAdjust="spacingAndGlyphs" transform="rotate(-90 435.3 935)">(n=9)</text>
<text x="451.3" y="935" font-size="6.9" text-anchor="end" fill="#222" textLength="31.1" lengthAdjust="spacingAndGlyphs" transform="rotate(-90 451.3 935)">αGDF-15</text>
<text x="458.3" y="935" font-size="6" text-anchor="end" fill="#222" textLength="14.3" lengthAdjust="spacingAndGlyphs" transform="rotate(-90 458.3 935)">(n=9)</text>
<line x1="429" y1="929.4" x2="429" y2="933.2" stroke="#2a2a2a" stroke-width="0.9"/>
<line x1="454.1" y1="929.4" x2="454.1" y2="933.2" stroke="#2a2a2a" stroke-width="0.9"/>
<text x="490" y="827.4" font-size="8.5" font-weight="bold" fill="#000">m</text>
<rect x="544.6" y="872.86" width="9.3" height="55.54" fill="#1b1b1b"/>
<rect x="544.6" y="845.5" width="9.3" height="27.36" fill="#a9a9a9"/>
<rect x="600.7" y="863.24" width="9.5" height="65.16" fill="#1b1b1b"/>
<rect x="600.7" y="858.43" width="9.5" height="4.81" fill="#dcdcdc"/>
<rect x="600.7" y="845.5" width="9.5" height="12.93" fill="#a9a9a9"/>
<rect x="619.1" y="859.84" width="9.8" height="68.56" fill="#1b1b1b"/>
<rect x="619.1" y="850.64" width="9.8" height="9.2" fill="#dcdcdc"/>
<rect x="619.1" y="849.56" width="9.8" height="1.08" fill="#6b6b6b"/>
<rect x="619.1" y="845.5" width="9.8" height="4.06" fill="#a9a9a9"/>
<rect x="638.1" y="873.27" width="9.8" height="55.13" fill="#1b1b1b"/>
<rect x="638.1" y="860.01" width="9.8" height="13.26" fill="#dcdcdc"/>
<rect x="638.1" y="845.5" width="9.8" height="14.51" fill="#6b6b6b"/>
<rect x="655.9" y="845.5" width="9.5" height="82.9" fill="#1b1b1b"/>
<line x1="520.5" y1="844.9" x2="520.5" y2="928.9" stroke="#2a2a2a" stroke-width="1"/>
<line x1="520" y1="928.4" x2="671.7" y2="928.4" stroke="#2a2a2a" stroke-width="1"/>
<line x1="517.7" y1="928.4" x2="520.5" y2="928.4" stroke="#2a2a2a" stroke-width="0.8"/>
<text x="516.8" y="930.6" font-size="6.3" text-anchor="end" fill="#222">0</text>
<line x1="517.7" y1="911.82" x2="520.5" y2="911.82" stroke="#2a2a2a" stroke-width="0.8"/>
<text x="516.8" y="914.02" font-size="6.3" text-anchor="end" fill="#222">20</text>
<line x1="517.7" y1="895.24" x2="520.5" y2="895.24" stroke="#2a2a2a" stroke-width="0.8"/>
<text x="516.8" y="897.44" font-size="6.3" text-anchor="end" fill="#222">40</text>
<line x1="517.7" y1="878.66" x2="520.5" y2="878.66" stroke="#2a2a2a" stroke-width="0.8"/>
<text x="516.8" y="880.86" font-size="6.3" text-anchor="end" fill="#222">60</text>
<line x1="517.7" y1="862.08" x2="520.5" y2="862.08" stroke="#2a2a2a" stroke-width="0.8"/>
<text x="516.8" y="864.28" font-size="6.3" text-anchor="end" fill="#222">80</text>
<line x1="517.7" y1="845.5" x2="520.5" y2="845.5" stroke="#2a2a2a" stroke-width="0.8"/>
<text x="516.8" y="847.7" font-size="6.3" text-anchor="end" fill="#222">100</text>
<line x1="530.5" y1="928.4" x2="530.5" y2="930.6" stroke="#2a2a2a" stroke-width="0.8"/>
<text x="530.5" y="938.2" font-size="6.7" text-anchor="middle" fill="#222">Iso1</text>
<line x1="549.2" y1="928.4" x2="549.2" y2="930.6" stroke="#2a2a2a" stroke-width="0.8"/>
<text x="549.2" y="938.2" font-size="6.7" text-anchor="middle" fill="#222">Iso2</text>
<line x1="567.6" y1="928.4" x2="567.6" y2="930.6" stroke="#2a2a2a" stroke-width="0.8"/>
<text x="567.6" y="938.2" font-size="6.7" text-anchor="middle" fill="#222">Iso3</text>
<line x1="586.7" y1="928.4" x2="586.7" y2="930.6" stroke="#2a2a2a" stroke-width="0.8"/>
<text x="586.7" y="938.2" font-size="6.7" text-anchor="middle" fill="#222">Iso4</text>
<line x1="605.5" y1="928.4" x2="605.5" y2="930.6" stroke="#2a2a2a" stroke-width="0.8"/>
<text x="605.5" y="938.2" font-size="6.7" text-anchor="middle" fill="#222">ab1</text>
<line x1="624" y1="928.4" x2="624" y2="930.6" stroke="#2a2a2a" stroke-width="0.8"/>
<text x="624" y="938.2" font-size="6.7" text-anchor="middle" fill="#222">ab2</text>
<line x1="642.9" y1="928.4" x2="642.9" y2="930.6" stroke="#2a2a2a" stroke-width="0.8"/>
<text x="642.9" y="938.2" font-size="6.7" text-anchor="middle" fill="#222">ab3</text>
<line x1="660.8" y1="928.4" x2="660.8" y2="930.6" stroke="#2a2a2a" stroke-width="0.8"/>
<text x="660.8" y="938.2" font-size="6.7" text-anchor="middle" fill="#222">ab4</text>
<text x="595.3" y="947.2" font-size="7.5" text-anchor="middle" fill="#222" textLength="29.2" lengthAdjust="spacingAndGlyphs">Animal #</text>
<text x="532.8" y="926.2" font-size="6.3" fill="#222" textLength="82.4" lengthAdjust="spacingAndGlyphs" transform="rotate(-90 532.8 926.2)">no intra-tumoral CD3⁺ T cells</text>
<text x="569.8" y="926.2" font-size="6.3" fill="#222" textLength="82.4" lengthAdjust="spacingAndGlyphs" transform="rotate(-90 569.8 926.2)">no intra-tumoral CD3⁺ T cells</text>
<text x="588.9" y="926.2" font-size="6.3" fill="#222" textLength="82.4" lengthAdjust="spacingAndGlyphs" transform="rotate(-90 588.9 926.2)">no intra-tumoral CD3⁺ T cells</text>
<text x="494.6" y="886.5" font-size="7.8" text-anchor="middle" fill="#222" textLength="69.3" lengthAdjust="spacingAndGlyphs" transform="rotate(-90 494.6 886.5)">T cell subsets within</text>
<text x="503.2" y="886.1" font-size="7.8" text-anchor="middle" fill="#222" textLength="49.6" lengthAdjust="spacingAndGlyphs" transform="rotate(-90 503.2 886.1)">CD3⁺ cells [%]</text>
<rect x="520.5" y="957.4" width="4.4" height="4.3" fill="#a9a9a9"/>
<text x="527.4" y="962" font-size="7.2" fill="#222" textLength="30.3" lengthAdjust="spacingAndGlyphs">CD4⁻CD8⁻</text>
<text x="565.9" y="962" font-size="7.2" fill="#222" textLength="29" lengthAdjust="spacingAndGlyphs">(p=0.62)</text>
<rect x="613.8" y="957.4" width="4.4" height="4.3" fill="#dcdcdc"/>
<text x="620.7" y="962" font-size="7.2" fill="#222" textLength="16.6" lengthAdjust="spacingAndGlyphs">CD8⁺</text>
<text x="640.3" y="962" font-size="7.2" fill="#222" textLength="32.8" lengthAdjust="spacingAndGlyphs">(p=0.069)</text>
<rect x="520.5" y="969" width="4.4" height="4.3" fill="#6b6b6b"/>
<text x="527.4" y="973.6" font-size="7.2" fill="#222" textLength="34.8" lengthAdjust="spacingAndGlyphs">CD4⁺CD8⁺</text>
<text x="564.6" y="973.6" font-size="7.2" fill="#222" textLength="29.3" lengthAdjust="spacingAndGlyphs">(p=0.20)</text>
<rect x="613.8" y="969" width="4.4" height="4.3" fill="#1b1b1b"/>
<text x="620.7" y="973.6" font-size="7.2" fill="#222" textLength="16.6" lengthAdjust="spacingAndGlyphs">CD4⁺</text>
<text x="640.3" y="973.6" font-size="7.2" fill="#222" textLength="32.8" lengthAdjust="spacingAndGlyphs">(p=0.037)</text>
</svg></body></html>
